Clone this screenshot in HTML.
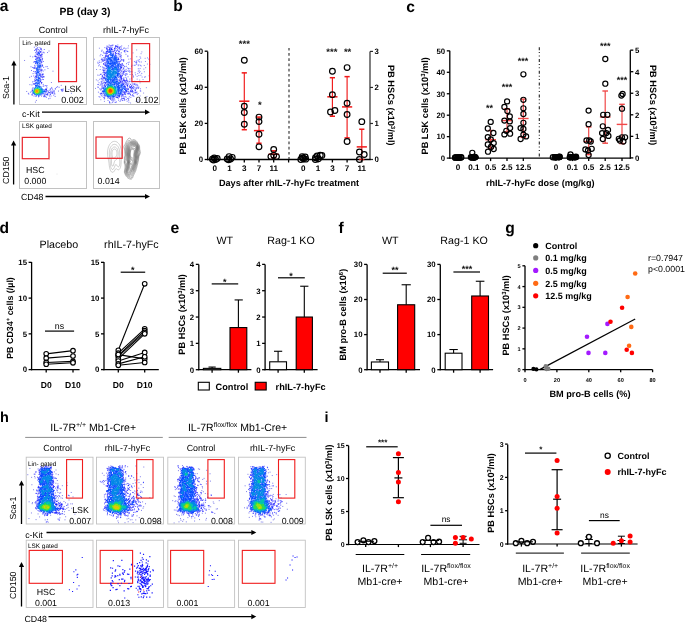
<!DOCTYPE html>
<html><head><meta charset="utf-8"><style>
html,body{margin:0;padding:0;background:#fff;}
svg{display:block;font-family:"Liberation Sans", sans-serif;will-change:transform;filter:blur(0.4px);text-rendering:geometricPrecision;}
</style></head><body>
<svg width="685" height="622" viewBox="0 0 685 622">
<defs><filter id="bl" x="-0.05" y="-0.05" width="1.1" height="1.1"><feGaussianBlur stdDeviation="0.25"/></filter></defs>
<rect x="0" y="0" width="685" height="622" fill="#fff"/>
<text x="-0.2" y="11.3" font-size="15.6" font-weight="bold">a</text>
<text x="85" y="14.8" font-size="10.4" font-weight="bold" text-anchor="middle">PB (day 3)</text>
<text x="53.2" y="33.3" font-size="9" text-anchor="middle">Control</text>
<text x="126.1" y="33.3" font-size="9" text-anchor="middle">rhIL-7-hyFc</text>
<g filter="url(#bl)">
<path d="M29.15 77.3h1M68.42 89.57h1M47.04 52.54h1M48.53 51.03h1M58.01 91.08h1M70.91 93.3h1M52.48 71.18h1M58.25 82.08h1M29.38 84.65h1M60.76 85.35h1M24.07 60.46h1M50.91 82.52h1M26.19 91.48h1M35.88 100.42h1M29.84 56.28h1M34.93 102.13h1M47.47 68.52h1" stroke="#0000d5" stroke-width="1" stroke-opacity="0.5"/>
<path d="M35.73 56.32h1M46.79 90.76h1M28.29 94.08h1M40.71 76.66h1M31.77 89.11h1M52.16 89.79h1M45.63 89.9h1M40.81 79.98h1M41.13 61.95h1M44.39 69.84h1M41.99 65.47h1M32.15 88.04h1M49.18 92.57h1M40.32 62.19h1M35.07 63.35h1M34.7 80.08h1M54.12 93.22h1M35.04 61.59h1M41.72 77.32h1M46.47 87.9h1M43.18 76.72h1M35.02 63.12h1M35.91 51.33h1M37.59 54.86h1M33.36 62.34h1M34.55 80.86h1M40.29 60.39h1M38.23 57.09h1M42.28 77.07h1M61.56 89.84h1M51.48 93h1M31.42 84.96h1M33.28 87.96h1M35.53 65.12h1M35 56.58h1M46.31 91.37h1M31.44 94.64h1M42.7 71.05h1M45.27 89.94h1M48.03 91.28h1M51.76 92.94h1M35.24 80.95h1M33.65 83.9h1M48.27 92.43h1M39.7 73.7h1M50.21 91.06h1M41.33 82.45h1M34.84 67.11h1M42.07 58.38h1M40.53 69.24h1M43.17 67.38h1M51.79 92.07h1M40.6 66.92h1M39.93 81.52h1M35.47 95.92h1M41.95 59.71h1M35.76 68.79h1M37.6 57.92h1M37.24 47.46h1M40.8 57.2h1M35.23 49.65h1M35.45 48.93h1M34.62 73.05h1M27.88 93.3h1M36.21 76.09h1M33.82 67.84h1M36.01 49.99h1M42.66 74.73h1M41.29 62.42h1M36.71 56.98h1M37.93 49.48h1M41.86 54.65h1M45.33 94.36h1M62.47 90.65h1M33.42 68.52h1M42.15 66.02h1M35.12 52.67h1M49.54 94.26h1M40.69 69.29h1M35.27 80.37h1M41.62 74.1h1M33.23 75.97h1M40.02 79.39h1M41.64 64.6h1M34.09 65.33h1M34.34 66.91h1M40.94 82.8h1M61.51 89.27h1M36.69 58.63h1M45.46 66.68h1M41.18 82.56h1M40.28 59.51h1M45.96 88.88h1M42.08 77h1M39.9 51.63h1M40.02 81.84h1M40.76 54.64h1M37.67 55.35h1M33.63 81.47h1M31.83 90.49h1M41.4 53.9h1M40.13 64.32h1M52.51 91.33h1M31.4 91.3h1M54.86 88.88h1M35.52 96.41h1M61.27 90.69h1M40.18 81.63h1M40.14 70.77h1M34.8 55.18h1M30.51 66.75h1M34.4 83.8h1M48.76 90.26h1M40.13 55.49h1M35.63 73.02h1M33.39 83.99h1M47.41 93.72h1M39.06 57.83h1M35.26 56.38h1M43.62 52.84h1M34.1 56.32h1M54.65 96.45h1M46.58 94.68h1M40.38 63.58h1M36.06 77.02h1M39.71 74.7h1M45.93 89.67h1M43.44 96.72h1M51.42 88.51h1M34.26 68.32h1M32.08 81.9h1M40.56 48.4h1M44.85 85.58h1M42.52 94.84h1M51.19 87.45h1M31.76 94.06h1M36.9 49.05h1M39.49 70.81h1M43.15 52.24h1M32.78 83.92h1M45.94 94.63h1M39.4 47.7h1M36.38 48.38h1M33.5 96h1M34.6 71.66h1M34.92 76.37h1M53.58 90.47h1M35.44 76.79h1M33.78 61.6h1M34.84 83.34h1M38.11 52.31h1M40.96 49.48h1M43.34 85.99h1M35.93 75.33h1M36.38 58.82h1M41.67 66.07h1M37.91 52.29h1M48.11 98.76h1M41.49 60.96h1M39.88 80.46h1M43.11 76.8h1M45.4 92.15h1M40.35 56.24h1M39.82 49.62h1M37.65 52.02h1M39.74 52.49h1M36.05 76.91h1M38.01 96.82h1M35.55 56.98h1M33.85 47.23h1M41.81 58.99h1M55.9 87.41h1M62.77 89.07h1M36.95 54.4h1M31.72 95.23h1M35.44 76.06h1M39.14 51.29h1M29.93 92.13h1M43.26 96.22h1M64.99 90.71h1M35.61 77.39h1M39.61 69.1h1M40.41 54.45h1M40.09 59.7h1M40.41 56.02h1M40.39 48.64h1M61.79 91.29h1M35.41 62.83h1M41.01 96.04h1M36.07 58.01h1M47.14 94.16h1M45.25 89.51h1M45.11 88.96h1M36.64 53.74h1M49.56 98.25h1M38.74 50.42h1M54.33 94.08h1M36.47 51.02h1M41.96 79.31h1M41.54 52.69h1M49.77 89.03h1M53.19 95.16h1M41.06 83.67h1M30.89 76.33h1M42.57 73.79h1M40.41 58.91h1M35.5 68.62h1M57.06 86.73h1M37.63 57.84h1M47.3 95.18h1M39.11 73.47h1M33.34 67.57h1M34.29 77.72h1M40.12 55.51h1M44.08 94.25h1M40.37 51.66h1M44.18 95.94h1M42.21 74.56h1M46.52 85.71h1M51.7 92.85h1M44.71 96.79h1M46.48 92.93h1M38.87 55.58h1M41.63 74.48h1M41.57 56.82h1M50.55 91.26h1M34.4 84.28h1M50.09 89.1h1M31.01 70.47h1M34.39 61.59h1M43.03 79.57h1M45.97 89.99h1M40.61 77.13h1M39.66 57.52h1M35.98 74.28h1M39.75 52.05h1M46.83 66.68h1M40.77 72.02h1M37.06 57.94h1M48.44 92.59h1M41.66 75.53h1M49.67 92.93h1M58.58 87.28h1M50.54 96.03h1M53.97 91.87h1M44.6 93.63h1M53.14 92.02h1M44.55 96.17h1M41.07 70.17h1M45.75 91.13h1M38.41 96.37h1M43.64 76.83h1M42.61 86.25h1M35.1 59.15h1M39.8 74.99h1M60.65 89.66h1M35.66 73.76h1M40.05 76.78h1M34.91 78.26h1M37.25 54.03h1M41.15 55.25h1M54.84 88.86h1M61.52 89.87h1M40.12 75.08h1M50.38 92.98h1M45.91 86.13h1M34.05 50.44h1M50.01 94.57h1M40.74 61.83h1M41.94 69.97h1M41.3 50.94h1M33.18 71.45h1M42.74 84.38h1M35.56 50h1M43.81 49.52h1M34.99 59.39h1M31.89 90.13h1M32.29 56.88h1M49.03 95.99h1M36.33 54.45h1M47.02 94.14h1M52.37 93.4h1M42.92 61.49h1M36.27 59.72h1M40.92 70.63h1M44.12 95.69h1M34.18 79.8h1M39.23 84.26h1M40.64 76.11h1M35.82 52.93h1M32.57 73.6h1M35.21 71.58h1M37.13 52.76h1M45.98 97.25h1M32.08 67.44h1M38.45 56.95h1" stroke="#000cff" stroke-width="1" stroke-opacity="0.56"/>
<path d="M36.78 74.62h1M37.68 83.59h1M38.73 60.92h1M37.08 64.12h1M35.16 85.55h1M37.77 77.59h1M38.92 83.1h1M32.94 92.64h1M38.73 69.67h1M37.21 72.48h1M40.24 65.97h1M36.1 62.32h1M41.77 93.67h1M36.06 85.62h1M38.12 86.33h1M37.13 72.14h1M35.78 62.88h1M37.4 62.47h1M38.61 78.77h1M39.1 58.47h1M36.56 79.9h1M39.79 66.96h1M38.59 61.71h1M39.49 60.69h1M40.67 93.86h1M39.42 79h1M43.45 91.63h1M38.95 54.14h1M38.73 61.1h1M36.52 68.34h1M39.24 66.29h1M37.15 63.08h1M31.79 92.06h1M42.92 89.79h1M35.92 84h1M39.54 78.71h1M36.22 61.12h1M36.52 71.5h1M36.25 82.81h1M38.41 53.42h1M37.06 65.63h1M38.45 80.4h1M37.26 79.62h1M43.05 93.54h1M38.07 72.57h1M36.58 79.74h1M36.86 60.34h1M36.95 69.26h1M38.16 86.13h1M38.19 59.83h1M39.79 86.33h1M39.07 87.08h1M44.85 91.3h1M40.35 87.08h1M37.34 61.92h1M38.01 80.33h1M38.67 86.93h1M38.92 74.38h1M36.61 73.31h1M37.48 70.27h1M37.45 67.69h1M38.69 53.93h1M37.9 95.01h1M41.08 93.74h1M32.6 92.02h1M36.46 70.17h1M33.82 93.75h1M35.79 85.7h1M38.18 80.24h1M39.4 78.17h1M39.5 95.03h1M36.12 80.05h1M38.23 83.02h1M36.43 78.39h1M35.81 62.06h1M39.98 60.2h1M37.32 70.28h1M36.92 67.61h1M39.86 61.45h1M32.35 93.35h1M43.87 91.36h1M36.58 69.67h1M37.28 83.98h1M38.88 75.58h1M40.4 65.82h1M37.4 72.34h1M37.06 63.34h1M43.52 90.73h1M38.18 79.63h1M36.84 69.93h1M37.76 81.48h1M37.75 66.16h1M37.19 85.1h1M35.3 85.11h1M37.48 68.76h1M34.07 94.01h1M36.44 68.36h1M35.99 72.29h1M37.94 73.14h1M36.31 95.55h1M38.73 68.74h1M42.7 92.15h1M38.28 83.25h1M38.93 65.67h1M37.91 72.6h1M37.63 85.63h1M34.57 94.53h1M38.77 64.79h1M38.56 67.06h1M37.6 67.67h1M38.64 71.7h1M37.68 76.02h1M39.03 85.06h1M41.75 89.3h1M36.8 85.14h1M39.21 94.77h1M38.34 53.2h1M39.34 60.08h1M38.74 63.06h1M38.13 71.81h1M39.41 75.5h1M36.46 73.28h1M44.11 91.79h1M38.75 66.37h1M38.48 74.88h1M36.49 85.51h1M38.08 78.22h1M38.64 82.61h1M37.25 72.36h1M36.17 69.35h1M35.65 61.36h1M38.23 77.03h1M43.71 91.38h1M39.2 67.3h1M37.01 80.62h1M42.15 93.34h1M36.14 73.36h1M36.17 67.99h1M40.24 94.84h1M40.75 94.1h1M37.38 62.58h1M37.9 70.15h1M44.22 90.67h1M37.02 63.4h1M35.62 82.65h1M37.41 84.31h1M43.79 89.71h1M38.72 59.91h1M44.4 91.86h1M38.79 71.85h1M38.51 52.89h1M38.29 53.71h1M40.79 87.13h1M35.71 87.02h1M39.5 65.52h1M38.12 95.09h1M37.87 66.52h1M38.38 95.87h1M39.85 65.78h1M37.71 80.5h1M38.28 78.84h1M38.73 67.57h1M39.12 63.53h1M36.26 95.03h1M38.97 54.02h1M36.46 59.99h1M35.44 86.36h1M39.41 80.77h1M41.69 88.75h1M43.2 91.66h1M36.92 77.27h1M38.29 69.56h1M38.51 62.22h1M38.46 58.41h1M37.52 64.6h1M35.73 61.84h1M36.44 63.65h1M38.64 86.68h1M37.13 71.58h1M38.26 80.81h1M36.89 75.01h1M35.83 82.12h1M38.37 75.15h1M36.93 61.79h1M37.47 71.22h1M38.15 77.01h1M34.68 87.78h1M38.7 78.28h1M37.87 65.56h1M34.72 94.71h1M38.76 81.72h1M35.22 83.14h1M38.5 63.97h1M35.02 85.5h1M39.06 59.21h1M36.92 83.26h1M36.03 79.47h1M38.77 78.11h1M37.1 81.72h1M38.57 53.16h1M38.86 86.81h1M32.29 90.36h1M35.15 83.34h1M35.46 86.98h1M38.25 83.33h1M39.39 87.06h1M35.58 86.5h1M40.18 65.48h1M44.84 91.95h1M36.66 82.67h1M38.72 67.63h1M36.52 83.46h1M37 66.38h1M33.58 93.73h1M33.41 93.47h1M38.47 82.11h1M35.14 87.58h1M36.08 70.6h1M40.44 87.85h1M37.93 78.16h1M35.83 61.11h1M36.77 75.87h1M40.17 66.94h1M38.76 66.16h1M38.39 95.05h1M38.9 78.05h1M38.06 60.45h1" stroke="#0049ff" stroke-width="1" stroke-opacity="0.67"/>
<path d="M41.4 91.45h1M39.93 93.72h1M34.67 88.33h1M41.62 91.57h1M40.77 88.99h1M40.71 88.67h1M33.56 89.89h1M40.98 89.89h1M33.35 93.01h1M37.12 86.85h1M39.5 93.89h1M40.63 89.34h1M34.02 88.67h1M41.48 92.13h1M41.63 89.71h1M38.93 94.16h1M41.64 91.52h1M37 94.39h1M35.09 94.21h1M41.04 89.97h1M36.64 94.4h1M39.52 93.64h1M42.48 91.1h1M38.59 87.69h1M42.6 91.93h1M34.04 88.97h1M32.87 90.89h1M39.4 93.97h1M37.32 94.44h1M41.32 92.57h1M37.02 87.37h1M37.07 94.43h1M37.55 87.05h1M33.16 92.22h1M41.17 89.1h1M40.07 89.12h1M36.64 87.08h1M39.68 88.93h1M41.19 89.38h1M36.76 87.19h1M38.92 87.34h1M41.59 90.97h1M42.49 92.23h1M33.78 89.31h1M40.71 92.47h1M32.79 91.99h1M37.99 87.03h1M41.36 91.18h1M41.47 92.73h1M42.16 90.59h1M40.76 89.27h1M42.77 91.34h1M41.78 89.84h1M41.71 92.62h1" stroke="#0087e7" stroke-width="1" stroke-opacity="0.77"/>
<path d="M39.3 89.51h1M40.47 91.17h1M34.67 89.18h1M40.66 92.34h1M39.47 92.82h1M38.51 93.58h1M38.22 93.86h1M40.7 91.41h1M33.59 91.42h1M38.2 93.6h1M40.12 91.41h1M34.09 92.54h1M36.52 94.26h1M37.51 88.1h1M36.61 93.8h1M33.61 91.86h1M33.59 91.64h1M38.23 93.68h1M39.63 89.43h1M38.35 88.88h1M37.14 88.27h1M33.98 91.98h1M34.97 89.01h1M33.59 91.37h1M34.17 90.11h1M40.86 90.32h1M36.03 94.1h1M39.73 92.06h1M39.87 90.44h1M35.54 93.96h1M34.22 90.09h1M40.58 92.49h1M38.79 89.03h1M39.92 92.59h1M40.53 90.95h1M39.4 88.96h1M36.59 93.75h1M39.46 92.62h1M36.72 88.24h1M35.99 88.43h1M36.89 88.34h1M39.64 89.72h1" stroke="#00c6ac" stroke-width="1" stroke-opacity="0.88"/>
<path d="M35.04 92.52h1M38.82 91.56h1M35.87 93.02h1M36.93 93.23h1M38.63 92.12h1M35.95 93.4h1M38.42 92.95h1M39.36 90.42h1M37.58 93.11h1M37.42 89.28h1M34.82 92.44h1M37.8 89.55h1M34.85 89.79h1M35.4 93.09h1M38.54 89.7h1M38.92 91.04h1M39.18 91.05h1M38.2 89.63h1M35.74 93.14h1M34.27 90.21h1M34.26 90.64h1M34.18 91.27h1M39.05 90.26h1M38.96 92.12h1M39.11 91.6h1M38.9 91.3h1M37.98 89.64h1M38.78 92.33h1M39.22 92.48h1M39.21 90.87h1M38.5 92.48h1M34.89 90.03h1M37.87 89.13h1" stroke="#30d852" stroke-width="1" stroke-opacity="0.95"/>
<path d="M35.88 89.62h1M36.02 92.89h1M36.15 89.3h1M37.14 92.47h1M36.79 92.69h1M37.76 89.82h1M35.25 90.1h1M34.66 91.75h1M38.13 91.02h1M37.75 90.05h1M36.71 89.48h1M38.4 90.41h1M37.84 90.09h1M35 91.93h1M37.62 92.65h1M38.67 91.06h1M35.1 90.35h1M34.85 92.06h1M37.09 92.56h1M35.7 92.35h1M34.89 92.3h1M38.24 92.14h1M36.22 89.64h1M37.89 90.16h1M35.82 89.59h1M34.94 90.04h1M36.37 92.55h1M34.79 90.3h1M36.69 92.58h1M34.81 91.86h1M36.51 89.58h1M36.29 89.72h1M36.67 92.79h1M35.02 90.35h1M38.15 92.41h1M37.75 89.69h1M35.27 90.18h1M37.73 92.6h1M36.91 92.53h1" stroke="#95e216" stroke-width="1" stroke-opacity="0.95"/>
<path d="M35.97 90.42h1M37.23 90.81h1M36.57 89.96h1M36.64 90.57h1M36.71 90.37h1M36.65 90.04h1M35.8 90.38h1M35.39 91.37h1M37.45 91.85h1M36.69 92.49h1M36.02 91.94h1M36.41 90.38h1M35.84 91.65h1M35.94 90.92h1M35.99 91.93h1M36.17 91.74h1M36.21 90.69h1M36.82 90.37h1M35.29 91.85h1M35.16 91.42h1M35.76 91.63h1M37.43 90.9h1M35.87 90.46h1M37.19 91.25h1M35.43 90.59h1M36.7 90.65h1M36.38 90.06h1M35.58 91.48h1M37.08 91.17h1M35.66 91.05h1M36.5 90.21h1M35.88 91.26h1M36.34 92.47h1M36.95 91.99h1" stroke="#e2ca00" stroke-width="1" stroke-opacity="0.95"/>
<path d="M36.85 91.09h1M36.22 90.79h1M36.11 91.54h1M35.95 91.04h1M36.46 91.01h1M36.16 91.34h1M36.77 91.17h1M36.44 91.5h1M36.19 91.28h1" stroke="#ff9100" stroke-width="1" stroke-opacity="0.95"/>
</g>
<g filter="url(#bl)">
<path d="M144.94 61.49h1M139.55 82.88h1M100.33 99.77h1M98.9 48.21h1M97.21 75.08h1M146.53 96.54h1M136.67 79.15h1M96.08 69.51h1M149.31 64.39h1M132.53 52.88h1M144.65 58.31h1M95 88.42h1M136.23 56.72h1M94.03 59.22h1M137.56 99.92h1M130.23 58.83h1M139.18 80.06h1M145.05 76.83h1M148.61 75.83h1M143.34 69.1h1M140.57 53.71h1M146.97 57.89h1M103.93 101.37h1M146.91 64.05h1M127.97 45.86h1M143.76 65.48h1M143.1 93.06h1M95.87 79.87h1M137.33 101.43h1M135.55 101.3h1M143.87 71.75h1M136.15 49.95h1M130.08 102.99h1M145.14 67.67h1M142.56 79.54h1M139.63 95.95h1M148.16 59.11h1M145.87 87.7h1M128.26 59.15h1M141.35 51.93h1" stroke="#0000d5" stroke-width="1" stroke-opacity="0.45"/>
<path d="M118.42 48.67h1M100.83 59.85h1M120.55 75.02h1M123.81 70.28h1M124.46 71.22h1M103 82.29h1M123.65 98.61h1M125.94 73.75h1M102.09 79.13h1M137.13 85.16h1M110.38 102.94h1M116.22 56.75h1M132.14 87.25h1M128.39 92.82h1M124.16 71.13h1M115.16 45.92h1M119.91 77.6h1M111.48 99.45h1M111.76 45.1h1M118.39 53.21h1M110.17 45.94h1M128.84 96.73h1M125.74 90.67h1M122.76 65.69h1M129.57 74.44h1M106.13 52.33h1M104.88 56.41h1M117.58 79.82h1M128.15 68.97h1M118.74 80.02h1M107.85 55.46h1M120.62 68.43h1M121.79 98.34h1M99.57 85.29h1M118.27 77.37h1M123.5 94.15h1M136.51 92.07h1M104.84 63.6h1M126.55 91.46h1M122.95 84.14h1M139.12 61.98h1M123.91 96.92h1M102.02 91.69h1M134.75 90.19h1M117.7 55.03h1M121.45 73.62h1M119.84 56.56h1M114.9 54.09h1M123.98 93.08h1M105.53 66.32h1M101.65 94.17h1M135.81 63.9h1M123.34 92h1M101.7 85.12h1M129.3 72.39h1M119.66 81.72h1M123.23 60.4h1M104.42 76.27h1M130.28 87.33h1M129.13 81.5h1M127.34 56.64h1M123.69 100.05h1M105.53 55.71h1M126.31 50.96h1M134.38 92.23h1M128.24 68.41h1M103.1 70.63h1M130.13 84.47h1M103.54 78.11h1M130.29 91.49h1M127.86 88.83h1M109.08 54.38h1M125.89 82.68h1M103.53 83.71h1M128.66 92.09h1M127.55 62.61h1M112.61 45.14h1M135.68 62.46h1M125.39 84.65h1M135.69 88.95h1M104.43 82.31h1M120.49 78.01h1M117.89 59.62h1M122.13 49.71h1M140.37 75.23h1M123.23 72.33h1M121.24 76.75h1M110.6 98.13h1M98.15 65.83h1M103 78.92h1M140.7 65.97h1M104.14 60.21h1M97.91 92.16h1M101.66 76.79h1M111.61 47.41h1M118.13 61.49h1M121.59 81.04h1M132.49 91.95h1M132.11 94.48h1M101.27 92.94h1M106.33 53.35h1M98.74 60.95h1M118.53 96.24h1M110.86 49.4h1M125.37 82.23h1M120.02 64.5h1M127.34 55.75h1M135.36 62.15h1M113.23 99.09h1M114.15 48.38h1M104.33 47.61h1M115.11 97.03h1M124.76 88.06h1M114.62 55.1h1M122.92 71.36h1M121.27 66.97h1M120.46 81.65h1M103.98 74.27h1M117.98 58.87h1M127.06 84.93h1M121.88 64.62h1M115.04 45.78h1M131.05 66.52h1M108.38 49.81h1M108.31 52.33h1M101.58 50.2h1M112.54 101.39h1M106.11 48.94h1M115.48 53.76h1M122.01 94.54h1M130.82 91.87h1M111.23 49.37h1M104.3 72.59h1M124.54 81.34h1M105.55 85.1h1M112.74 51.68h1M144.04 77.11h1M101.17 78.27h1M122.45 83.86h1M140.17 58.13h1M121.08 67.48h1M119.42 54.43h1M125.63 83.79h1M132.05 87.56h1M104.88 56.03h1M122.92 96.87h1M105.4 69.18h1M130.71 89.4h1M126.87 51.42h1M113.85 98.75h1M108.91 49.84h1M101.95 70h1M114.3 50.26h1M114.95 52.55h1M123.07 73.96h1M136.29 62.15h1M106.06 60.57h1M120.08 80.82h1M109.14 48.48h1M119.65 46.49h1M101.22 74.2h1M121.23 64.31h1M133.21 86.15h1M100.03 89.91h1M123.25 74.1h1M120.68 57.21h1M103.99 85.11h1M141.63 77.06h1M118.54 97.44h1M120.41 79.6h1M103.65 60.3h1M102.38 87.29h1M104.21 77.84h1M119.75 81.13h1M97.67 87.53h1M103.29 52.85h1M124.26 100.1h1M103.47 85.36h1M100.8 95.67h1M120.52 60.12h1M124.29 91.7h1M119.98 76.58h1M103.06 93.37h1M104.33 75.72h1M120.16 64.56h1M120.65 67.73h1M118.09 58.75h1M104.1 84.73h1M102.04 59.32h1M101.91 91.74h1M120.38 60.89h1M103.52 60.14h1M114.94 46.84h1M122.93 92.24h1M104.67 80.3h1M97.43 84.47h1M130.01 94.66h1M111.2 100.3h1M128.99 85.82h1M104.85 82.85h1M121.8 65.77h1M108.67 98.28h1M124.07 50.94h1M109.03 102.93h1M121.35 94.76h1M112.14 100.06h1M102.22 83.4h1M117.84 54.05h1M121.57 63.67h1M139.58 71.64h1M115.31 102.54h1M135.76 88.45h1M105.52 84.92h1M120.12 75.48h1M107.03 53.29h1M124.49 52.17h1M124.47 86.39h1M128.01 64.3h1M120.64 47.21h1M117.71 98.44h1M134.41 87.36h1M118.42 77.58h1M125.09 94.49h1M103.09 71.94h1M128.46 82.95h1M132.09 90.68h1M104.8 62.86h1M127.08 81.89h1M126.77 83.65h1M109.55 98.53h1M121.4 78.73h1M104.59 72.92h1M124.61 86.21h1M118.91 48.44h1M99.62 55.84h1M111.29 49.3h1M128.43 71.22h1M105.65 64.96h1M103.8 64.29h1M119.37 49.34h1M123.14 80.68h1M130.17 91.83h1M114.88 52.3h1M134.91 92.16h1M109.43 97.96h1M103.33 77.69h1M129.17 86.41h1M137.49 60.26h1M102.07 60.36h1M126.46 85.3h1M118.94 96.14h1M127.15 86.95h1M135.37 84.69h1M112.52 52.69h1M121.59 82.82h1M120.29 49.86h1M101.61 84.15h1M140.26 91.12h1M104.83 65.04h1M127.98 91.45h1M122.96 65.22h1M110.99 50.95h1M133.04 77.01h1M123.84 50.85h1M106.43 46.05h1M116.46 97.4h1M123.33 78.85h1M132.84 75.94h1M122.46 91.65h1M104.02 82.09h1M98.89 62.52h1M121.37 59.51h1M133.27 83.99h1M134.73 90.33h1M106.48 56.4h1M101.58 86.14h1M118.65 50.96h1M132.17 88.22h1M104.63 82.54h1M128.98 87.45h1M126.17 80.06h1M106.54 51.56h1M119.1 95.85h1M121.19 45.92h1M111.8 98.68h1M121.8 81.18h1M105.66 68.29h1M118.52 61.63h1M135.14 74.8h1M135.64 92.94h1M118.31 59.84h1M116.42 57.4h1M124.9 82.23h1M122.36 73.62h1M127.98 99.22h1M116.25 50.43h1M135.72 92.31h1M109.62 47.22h1M124.49 74.79h1M120.09 65.95h1M126.31 92.75h1M106.87 56.04h1M127.38 51.63h1M118.36 51.51h1M121.88 92.97h1M126.9 85.9h1M120.95 52.8h1M128.35 102.19h1M115.01 52.9h1M104.64 72.04h1M120.3 82.21h1M130.18 90.5h1M131.56 71.82h1M121.85 63.59h1M105.95 63.08h1M123.71 47.96h1M120.69 99.43h1M123.12 98.51h1M106.67 50.12h1M120.3 69.72h1M132.27 91.8h1M101.54 86.17h1M126.66 70.79h1M103.47 72.8h1M107.85 47.33h1M101.07 51.16h1M99.4 97.18h1M127.54 76.81h1M119.36 61.47h1M132.53 95.96h1M100.71 88.62h1M120.49 77.55h1M108.5 54.72h1M101.54 81.08h1M131.66 91.71h1M107.43 46.31h1M123.61 83.95h1M105.96 51.48h1M124.19 86.85h1M126.9 74.11h1M106.97 50.24h1M115.84 46.53h1M123.42 77.76h1M119.86 69.09h1M120.11 74.87h1M116 46.01h1M111.44 45.6h1M97.77 84.62h1M123.66 80.8h1M130.06 94.89h1M104.28 58.74h1M130.92 81.33h1M121.7 98.68h1M126.64 101.22h1M111.92 51.11h1M113.2 51.36h1M103.19 74.35h1M97.5 80.83h1M131.03 78.11h1M102.66 80.63h1M130.51 71.53h1M109.53 48.43h1M121.65 100.25h1M127.71 93.88h1M123.26 79.83h1M100.12 66.61h1M129.86 90.9h1M123.37 68.94h1M126.83 80.37h1M120.1 82.3h1M137.81 68.74h1M124.51 94.34h1M124.53 93.07h1M136.62 76.34h1M131.48 85.56h1M123.26 84.76h1M120.49 49.47h1M125.87 91.71h1M132.32 91.82h1M133.41 96.36h1M122.81 94.73h1M114.42 100.07h1M124.25 66.76h1M100.66 78.62h1M101.39 87.81h1M123.85 81.74h1M131.24 88.31h1M104.69 73.65h1M122.01 75.53h1M127.25 86.14h1M127.53 48.09h1M137.56 93.51h1M130.11 84.3h1M134.89 90.35h1M125.23 50.06h1M107.93 52.25h1M119.45 56.92h1M113.83 49.33h1M117 46.51h1M104.21 94.55h1M116.95 47.08h1M133.29 93.6h1M101.4 58.32h1M138.35 64.75h1M101.89 77.91h1M102.5 88.61h1M121.32 96.59h1M103.97 95.05h1M102.6 60.2h1M119.44 53.04h1M121.37 80.34h1M122.22 100.56h1M123.86 80h1M123.32 48.38h1M130.96 86.3h1M99.22 88.9h1M126.84 68.01h1M110.47 48.49h1M103.68 70.58h1M139.54 56.89h1M125.07 71.11h1M116.63 53.28h1M131.78 90.22h1M126.66 89.55h1M115.71 46.33h1M106.01 53.14h1M113.84 50.63h1M122.76 71.89h1M128.18 100.33h1M119.22 96.14h1M122.94 68.28h1M117.54 59.58h1M117.1 49.38h1M138.78 59.62h1M99.9 74.52h1M102.13 55.47h1M112.14 102.57h1M119.58 68.98h1M99.75 93.29h1M119.31 95.63h1M125.87 90.02h1M120.45 65.94h1M121.03 78.73h1M126.34 90.14h1M130.87 86.24h1M104.31 74.71h1M134.32 81.31h1M107.05 49.39h1M104.09 97.92h1M108.9 49.83h1M105.69 68.11h1M104.24 95.73h1M98.92 64.84h1M104.29 86.08h1M105.93 48.21h1M126.13 79.99h1M103.57 59.63h1M125.56 69.43h1M104.06 74.36h1M121.2 59.78h1M124.37 86.79h1M101.78 75.57h1M119.14 71.06h1M133.21 88.01h1M122.35 69.29h1M141.24 73.4h1M108.94 49.54h1M107.17 98.03h1M109.02 102.03h1M121.34 76.01h1M122.89 80.07h1M105.43 70.6h1M119.46 73.49h1M103.6 77.82h1M106.05 55.91h1M123.38 71.72h1M114.92 54.93h1M119.3 47.36h1M100.4 84.46h1M127.36 89.21h1M107.33 55.37h1M104.81 96.23h1M115.75 55.49h1M124.18 83.05h1M135.86 61.03h1M104.59 65.65h1M131.48 90.25h1M123.98 80.51h1M120.91 78.88h1M122.7 84.32h1M111.34 45.94h1M103.3 95.16h1M100.58 62.31h1M119.21 54.72h1M139.94 88.82h1M132.58 95.54h1M102.45 72.66h1M123.78 93.86h1M105.61 55.91h1M133.72 65.35h1M102.88 69.08h1M126.4 88.51h1M138.22 61.21h1M119.53 78.63h1M116.79 97.53h1M137.66 88.06h1M123.15 61.49h1M127.54 88.82h1M105.42 59.31h1M122.66 78.85h1M118.53 47.75h1M125.69 91.38h1M128.24 70.99h1M112.9 97.38h1M106.8 48.46h1M122.58 95.22h1M97.29 62.24h1M118.76 80.49h1M99.68 69.51h1M120.69 79.23h1M110.06 98.72h1M103.97 57.84h1M128.01 89.66h1M105.62 62.02h1M105.97 48.87h1M140.8 61.99h1M114.77 53.1h1M123.13 67.9h1M126.19 88.28h1M102.19 66.93h1M119.8 75.64h1M138.95 72.66h1M109.3 49.38h1M130.32 97.35h1M115.63 56.26h1M123.33 59.82h1M103.19 64.32h1M98.54 96.6h1M133.88 84.15h1M103.29 70.82h1M134.47 89.24h1M125.44 54.31h1M125.89 80.23h1M133.08 88.75h1M124.46 50.88h1M112.14 49.65h1M122.37 60.23h1M104.71 65.48h1M115.84 101.84h1M104.81 53.57h1M104.97 57.83h1M120.75 77.65h1M107.27 51.98h1M103.73 78.39h1M103.81 97.04h1M104.65 57.73h1M116.89 50.43h1M120.36 55.13h1M124.7 92.42h1M112.47 53.82h1M114.49 102.31h1M109.62 45.74h1M104.86 79.68h1M103.62 67.59h1M138.66 70.22h1M123.89 85.54h1M104.36 62.38h1M125.64 97.31h1M126.73 91.1h1M121.18 67.47h1M129.56 93.77h1M117.18 97.28h1M122.75 84.11h1M137.31 73.62h1M120.37 58.21h1M100.57 93.54h1M121.57 82.84h1M104.99 83.3h1M117.1 47.38h1M125.8 99.48h1M133.94 61.61h1M114.93 47.09h1M105.62 54.46h1M120.49 76.89h1M118.76 62.74h1M99.24 79.29h1M136.3 64.18h1M131.51 82.93h1M99.91 94.21h1M137.77 71.25h1M123.35 98.31h1M120.95 55.86h1M121.09 71.28h1M124.99 75.66h1M130.91 87.89h1M112.5 98.17h1M139.87 65.3h1M118.67 95.92h1M130.45 81.36h1M125.67 83.98h1M120.05 67.8h1M108.18 55.77h1M120.91 76.88h1M101.94 76.53h1M134.55 83.8h1M102.96 87.07h1M102.92 97.36h1M107.39 47.11h1M123.99 99.14h1M125.16 73.8h1M127.1 98.49h1M121.95 83.2h1M120.69 75.96h1M133.86 84.18h1M103.08 77.12h1M116.27 48.33h1M131.48 65.26h1M126.08 78.42h1M103.8 72.2h1M101.77 96.1h1M132.04 74.64h1M123 59.94h1M101.3 82.86h1M125.18 96.32h1M136.73 94.58h1M110.01 99.41h1M126.02 63.69h1M122.09 81.6h1M138.38 87.08h1M134.71 72.81h1M120.6 72.07h1M121.07 98.1h1M124.18 66.32h1M114.15 48.47h1M128.58 81.17h1M136.39 84.25h1M118.3 59.35h1M105.4 64.97h1M102.83 61.39h1M101.8 91.11h1M124.72 80.5h1M128.19 84.13h1M128.27 98.25h1M104.26 68.9h1M101.44 93.45h1M101.78 61.28h1M108.64 45.02h1M105.35 83.54h1M104.54 78.74h1M110.96 49.01h1M135.52 85.35h1M119.83 72.34h1M97.45 86.89h1M100.61 81.75h1M122.45 72.26h1M118.81 63.42h1M103.59 70.56h1M119.28 63.29h1M138.08 88.16h1M116.07 51.43h1M130.92 91.21h1M121.45 70.76h1M134.72 65.2h1M118.36 96.77h1M125.61 74.83h1M104.72 60.59h1M102.94 57.78h1M105 52.98h1M127.29 93.53h1M117.31 45.02h1M104.21 86.12h1M129.77 87.92h1M118.75 47.58h1M109.19 47.81h1M115.88 97.1h1M125.52 91.32h1M111.14 48.13h1M100.17 74.2h1M111.45 49.29h1M101.15 59.52h1M137.22 87.77h1M117.69 46.69h1M104.55 75.45h1M114.73 49.94h1M127.03 85.13h1M102.17 75.74h1M131.53 95.59h1M107.61 51.53h1M100.4 54.43h1M125.64 81.1h1M128.7 62.13h1M120.76 48.78h1M105.25 64.9h1M121.09 93.95h1M100.85 93.77h1M102.77 51.86h1M112.88 53.67h1M120.7 78.77h1M124.94 88.08h1M101.3 81.91h1M124.94 93.08h1M119.9 100.16h1M117.99 53.37h1M124.99 87.2h1M103.62 68.94h1M122.86 82.9h1M106.23 47.26h1M123.72 91.89h1M107.29 51.09h1M121.09 95.87h1M125.86 66.33h1M100.63 83.32h1M134.63 92.91h1M117.49 96.25h1M105.24 55.87h1M119.56 55.95h1M105.98 61.53h1M103.7 53.16h1M128.44 93.4h1M127.23 81.52h1M108.93 101.95h1M133.17 86.68h1M120.77 65.52h1M131.12 85.99h1M125.38 77.46h1M129.15 70.91h1M120.67 66.34h1M101.36 79.27h1M127.59 94.02h1M109.51 47.45h1M123.53 72.35h1M107.78 56.41h1M106.42 53.78h1M112.39 51.35h1M123.7 51.35h1M124.07 92.77h1M106.48 56.9h1M120.56 67.7h1M104.2 98.11h1M137.24 86.03h1M115 55.74h1M103.13 63.62h1M117.57 57.13h1M129.9 86.64h1M106.88 51.35h1M121.95 74.9h1M139.8 90.83h1M119.55 101.47h1M101.89 88.22h1M118.06 100.19h1M129.95 87.47h1M121.77 94.89h1M105.67 59.38h1M138.38 75.57h1M139.59 68.44h1M105.36 82.35h1M112.69 54.2h1M120.05 67.93h1M135.89 87.24h1M125.48 48.41h1M119.76 61.29h1M123.31 80.04h1M114.13 48.26h1M105.82 51.66h1M98.6 75.3h1M116.09 53.59h1M123.89 86.48h1M103.74 98.94h1M103.58 77.73h1M120.22 70.54h1M107.54 100.48h1M137.76 65.71h1M98.52 82.76h1M116.65 97.59h1M125.24 81.01h1M119.89 76.38h1M118.87 51.65h1M130.7 88.78h1M117.86 58.11h1M100.85 89.71h1M116.46 97h1M128.94 93.9h1M127.05 85.46h1M129.36 79.1h1M103.1 63.83h1M121.86 95.8h1M114.81 48.24h1M129.56 68.74h1M102.62 67.69h1M110.86 48.86h1M129.79 87.63h1M132.12 84.1h1M110.53 97.67h1M113.14 100.16h1M97.66 63.59h1M118.1 51.06h1M114.15 51.03h1M118.98 79.98h1M125.94 71.46h1M120.4 81.89h1" stroke="#000cff" stroke-width="1" stroke-opacity="0.52"/>
<path d="M112.51 64.86h1M120.82 86.76h1M118.85 64.92h1M113.64 84.39h1M108.23 66.44h1M109.95 50.74h1M111.91 56.84h1M121.35 90.15h1M113.36 96.54h1M113.39 58.62h1M107.04 65.32h1M112.03 56.12h1M114.02 63.03h1M114.12 63.59h1M111.19 82.33h1M114.07 82.71h1M114.33 67.21h1M106.14 71.99h1M109.74 60.67h1M116.85 71.26h1M106.09 74.96h1M112.17 80.85h1M114.2 62.38h1M109.81 54.68h1M106.49 62.9h1M112.2 80.81h1M108.22 83.09h1M107.9 62.82h1M106.88 76.01h1M112.11 62.27h1M107.56 81.17h1M105.2 72.75h1M118.36 90.65h1M124.48 89.05h1M118.56 71.2h1M114.87 79.04h1M120.42 84.71h1M107.83 61.83h1M107.79 79.29h1M105.4 78.17h1M110.4 57.57h1M110.38 54.07h1M108.6 65.56h1M112.92 79.41h1M112.43 57.25h1M108.46 63.56h1M109.63 83.49h1M111.56 69.53h1M114.43 78.25h1M115.22 60.01h1M114.82 67.62h1M110.91 60.01h1M117.82 68.11h1M107.36 82.14h1M119.04 88.56h1M117.25 62.52h1M118.77 76.38h1M118.37 64.72h1M113.69 68.12h1M117.55 83.2h1M110.09 64.62h1M113.52 81.61h1M117.64 86.49h1M107.45 63.16h1M117.63 70.4h1M106.51 62.72h1M113.64 83.11h1M117.3 84.74h1M110.15 83.27h1M104.82 94.06h1M106.72 83.7h1M117.87 87.97h1M117.26 93.11h1M112.07 62.25h1M118.48 90.93h1M113.17 62.39h1M119.62 89.12h1M106.15 84.96h1M116.61 74.55h1M118.06 92.09h1M117.34 59.72h1M118.05 91.45h1M117.59 76.71h1M107.27 68.26h1M108.76 63.62h1M111.16 54.43h1M113.41 96.71h1M113.98 60.98h1M116.2 78.59h1M118.87 87.76h1M120.99 88.8h1M106.29 58.62h1M117.26 73.26h1M117.53 87.99h1M114.38 63.78h1M106.83 84.84h1M113.41 59.26h1M116.92 86.36h1M110.97 65.38h1M117.4 75.82h1M110.66 66.25h1M117.44 85.53h1M116.38 81.55h1M117.08 75.81h1M112.97 63.39h1M124.18 88.82h1M107.32 82.08h1M116.46 77.55h1M111.47 68.02h1M117.32 74.37h1M116.83 81.79h1M118.72 95.05h1M113.9 60.91h1M115.39 67.93h1M116.45 75.73h1M121.31 84.33h1M113.1 66.85h1M111.9 81.37h1M113.1 79.47h1M115.71 79.44h1M109.74 59.32h1M114.88 76.3h1M123.13 86.11h1M123.83 87.24h1M110.07 63.99h1M118.63 93.1h1M115.18 56.13h1M115.98 77.76h1M118.7 87.28h1M111.57 80.98h1M113.16 80.89h1M110.93 65.39h1M110.98 53.21h1M103.1 91.66h1M118.15 89.48h1M121.71 89.66h1M105.4 93.98h1M111.12 64.69h1M113.77 77.67h1M106.46 58.65h1M109.53 59.24h1M116.77 69.44h1M114.3 57.88h1M117.66 64.29h1M116.1 57.52h1M111.32 69.91h1M111.21 57.73h1M112.26 67.87h1M106.49 72.59h1M108.55 59.58h1M118.25 71.47h1M118.41 82.09h1M118.08 75.17h1M110.07 51.9h1M116.14 84.21h1M118.62 83.64h1M114.34 79.98h1M120.16 89.41h1M114.94 83.08h1M111.77 65.37h1M115.6 62.64h1M111.15 79.46h1M113.34 82.47h1M103.35 90.99h1M107.12 69.9h1M115.06 94.65h1M114.92 64.63h1M107.27 57.99h1M102.71 91.18h1M118.26 95.22h1M113.83 96.27h1M107.66 56.68h1M115.83 68.53h1M114.57 82.35h1M121.39 87.45h1M110.86 59.82h1M106.89 70.4h1M117.56 84.13h1M109.17 81.93h1M110.35 64.16h1M105.26 80.02h1M118.08 69.92h1M112.98 80.45h1M113.81 67.2h1M115.36 96.02h1M115.55 58.84h1M107.93 65.73h1M111.84 56.42h1M115.1 87.01h1M116.41 58.28h1M120.71 85.88h1M110.42 83.89h1M124.74 89.95h1M107.17 85.32h1M121.82 89.34h1M117.76 93.22h1M110.29 81h1M115.27 66.39h1M103.41 89.08h1M108.04 80.62h1M114.93 81h1M107.5 81.39h1M116.04 85.82h1M107.64 67.86h1M112.2 65.35h1M117.98 83.1h1M108.58 64.66h1M104.94 95.41h1M109.59 82.53h1M113.56 62.55h1M109.88 50.8h1M115.31 61.83h1M117.75 65.76h1M116.9 73.06h1M106.39 79.16h1M116.48 61.63h1M118.61 74.67h1M106.74 67.98h1M112.59 54.86h1M111.61 55.64h1M112 80.69h1M108.01 58.05h1M106.64 75.83h1M110.05 53.35h1M112.28 65.99h1M118.69 88.37h1M117.02 59.19h1M117.9 69.28h1M108.19 96.4h1M117.91 94.6h1M114.48 82.54h1M115.66 85.43h1M117.5 66.59h1M118.05 93.31h1M119.16 83.47h1M118.63 89.7h1M108.25 58.07h1M111.29 60.49h1M104.15 87.87h1M106.22 78.19h1M103.74 91.58h1M103.61 93.66h1M117.36 64.91h1M109.7 83.31h1M113.15 55.36h1M113.03 79.88h1M115.04 57.47h1M109.74 81.11h1M108.06 61.81h1M117.27 86.52h1M121.71 85.71h1M113.35 95.45h1M112.13 78.93h1M114.88 64.84h1M118.99 89.88h1M109.35 60.08h1M108.38 97.33h1M118.78 73.68h1M115.21 59.65h1M114.11 60.34h1M110.61 60.89h1M111.66 63.76h1M109.72 66.01h1M119.12 87.64h1M105.71 80.41h1M106.97 74.52h1M106.17 82.29h1M112.25 96.83h1M110.15 63.29h1M106.59 73.08h1M112.88 68.47h1M111.55 61.3h1M110.55 61.2h1M117.72 86.64h1M124.97 89.31h1M109.92 49.61h1M110 96.98h1M118.37 86.55h1M108.81 58.06h1M114.14 59.2h1M116.34 63.46h1M114.45 86.52h1M113.69 78.39h1M107.5 96.58h1M116.61 68.86h1M109.65 63.22h1M114.94 63.17h1M114.71 58.14h1M106.01 82.1h1M111.88 69.7h1M113.21 64.26h1M112.08 54.31h1M116.05 60.84h1M117.26 84.33h1M107.56 69.18h1M115.03 67.38h1M112.68 66.91h1M113.85 96.87h1M107.32 57.09h1M109.8 64.54h1M119.56 66.29h1M114.26 67.71h1M115 58.73h1M107.2 66.66h1M110.83 79.88h1M112.87 82.04h1M115.31 82.08h1M107.89 68.01h1M118.01 83.98h1M115.54 76.19h1M107.06 69.63h1M103.79 91.05h1M117.19 73.63h1M110.85 51.92h1M107.58 63.35h1M120.94 85.01h1M112.61 64.05h1M120.19 92.71h1M111.58 79.72h1M118.32 83.05h1M108.52 50.23h1M111.09 96.25h1M107.5 67.53h1M116.77 78.84h1M112.55 84.71h1M105.1 86.62h1M102.98 91.84h1M113.64 83.81h1M121.41 89.96h1M110.2 63.79h1M118.04 82.25h1M107.2 79.56h1M108.56 81.89h1M119.72 92.87h1M117.22 75.52h1M114.19 79.94h1M117.13 80.7h1M110.67 82.79h1M116.87 71h1M115.45 76.49h1M115.7 77.41h1M107.96 79.71h1M115.09 64.89h1M109.99 80.98h1M114.84 77.37h1M117.07 87.6h1M111.74 77.92h1M116.94 95.35h1M105.95 65.96h1M114.61 76.24h1M110.29 58.34h1M115.18 66.96h1M120.94 91.66h1M117.17 70.57h1M111.49 55.73h1M114.59 63.91h1M112.14 62.45h1M118.73 83.36h1M115.89 86.76h1M106.14 76.97h1M116.7 66.2h1M112.47 77.72h1M110.28 55.24h1M111.6 96.29h1M107.21 59.56h1M115 77.6h1M111.96 96.8h1M110.43 81.57h1M107.25 60.97h1M112.2 81.74h1M107 61.3h1M108.67 58.84h1M104.82 86.61h1M109.94 61.24h1M107.41 63.18h1M107.07 76.36h1M109.42 84.47h1M115.4 62.69h1M116.33 83.7h1M122.23 89.78h1M118.95 87.35h1M115.79 83.88h1M108.64 64.18h1M111.44 60.42h1M125.31 90.4h1M112.62 96.11h1M118.43 85.28h1M112.17 84.3h1M108.92 58.42h1M106.54 79.9h1M117.95 65.07h1M112.74 69.27h1M110.09 63.33h1M114.5 61.49h1M115.95 69.14h1M116.22 85.37h1M107.14 61.06h1M117.85 67.74h1M117.57 64.14h1M107.11 64.59h1M118.8 64.34h1M112.12 57.12h1M106.79 79.34h1M105.83 76.58h1M107.8 67.22h1M116.84 69.74h1M112.91 62.18h1M105.61 78.28h1M115.82 58.17h1M125.53 90.57h1M119.51 91.6h1M117.73 90.66h1M108.51 62.69h1M117.1 61.39h1M116.8 94.63h1M114.59 60.15h1M113.56 66.73h1M114.06 63.39h1M118.97 90.47h1M116.41 67.34h1M106.96 75.79h1M116.14 83.84h1M110.61 67.27h1M116.19 94.65h1M106.78 72.46h1M112.98 69.46h1M115.92 79.87h1M114.15 64.51h1M110.13 96.96h1M117.82 69.27h1M116.26 66.9h1M108.83 82.52h1M121.72 91.34h1M117.54 64.48h1M107.28 65.72h1M106.43 73.11h1M104.63 88.21h1M124.3 89.45h1M119.58 85.04h1M112.79 96.49h1M106.9 77.13h1M115.12 77.38h1M113.06 65.3h1M113.24 82.24h1M115.74 78.05h1M110.29 66.59h1M110.31 51.42h1M117.1 75.52h1M111.53 68.41h1M114.07 84.67h1M106.16 80.98h1M113.13 61.75h1M112.81 60.53h1M109.83 52.57h1M120.23 92.1h1M108.1 58.89h1M106.14 75.28h1M110.66 62.91h1M120.18 91.12h1M106.61 76.15h1M121.87 84.44h1M110.27 61.13h1M118.12 88.35h1M114.84 84.67h1M108.03 58.59h1M117.91 65.96h1M116.09 80.75h1M111.92 56.17h1M107.16 65.05h1M121 90.24h1M115.65 61.11h1M116.15 61.74h1M104.9 85.97h1M115.32 81.66h1M113.46 64.7h1M110.33 56.91h1M118.1 84.62h1M122.16 85.93h1M106.79 79.52h1M116.44 93.26h1M114.93 59.81h1M106.36 66.16h1M121.63 86.85h1M112.36 82.22h1M108.95 51.67h1M113.43 63.71h1M107.99 82.84h1M108.3 65.62h1M112.96 82.76h1M110.79 61.09h1M106.36 71.91h1M107.32 80.63h1M116.07 68.94h1M118.77 74.77h1M119.18 76.23h1M119.74 87.79h1M111.25 80.75h1M120.62 87.71h1M107.37 81.38h1M116.11 81.62h1M108.01 84.59h1M106.91 81.02h1M115.75 67.83h1M110.34 63.54h1M105.1 78.7h1M119.18 85.74h1M109.57 79.34h1M122.02 85.14h1M111.08 60.37h1M117.18 83.75h1M103.68 91.82h1M121.77 88.02h1M106.45 81.5h1M105.85 68.58h1M109.54 61.84h1M107.75 97.14h1M113.61 80.67h1M109.17 67.42h1M116.99 68.7h1M109.96 79.11h1M124.29 87.98h1M110.49 82.51h1M122.68 90.34h1M104.03 91.55h1M116.74 81.93h1M108.84 63.89h1M113.3 59.19h1M117.84 71.39h1M117.54 87.3h1M103.33 90.05h1M109.99 66.16h1M120.62 90.11h1M103.76 88.21h1M110.98 62.02h1M108.12 62.54h1M109.03 63.7h1M108.14 57.97h1M102.95 88.54h1M115.16 66.73h1M113.32 96.76h1M117.25 72.38h1M105.77 66.29h1M115.07 60.06h1M110.43 83.89h1M112.36 82.75h1M106.1 66.87h1M122.98 86.42h1M116.07 59.73h1M115 56.84h1M111.01 63.68h1M121.53 85.28h1M114.29 80.4h1M116.13 59.24h1M108.87 52.28h1M122.11 87.95h1M108.86 66.46h1M115.54 79.81h1M105.19 79.63h1M120.34 86.71h1M116.11 69.98h1M113.84 78.41h1M111.91 55.62h1M117.2 91.37h1M106.27 74.66h1M114.25 79.5h1M112.06 55.4h1M115.16 62.65h1M106.88 75.86h1M106.67 82.21h1M115.73 65h1M111.21 55.34h1M114.69 65.5h1M113.97 84.06h1M121.23 93.18h1M125.09 90h1M107.32 63.21h1M116.96 62.14h1M113.91 59.09h1M121.31 91.82h1M111.61 69.71h1M109.45 79.8h1M122.02 88.71h1M104.53 77.89h1M120.17 86.99h1M112.09 67.92h1M104.86 73.61h1M106.09 94.72h1M107.85 85.37h1M112.53 80.64h1M109.67 57.75h1M107.34 62.06h1M118.08 63.22h1M116.57 66.26h1M109.77 67.55h1M109.64 52.16h1M121.1 85.37h1M116.08 67.56h1M112.62 54.53h1M114.1 58.02h1M117.19 74.1h1M108.89 82.75h1M118.02 67.95h1M120.49 83.54h1M122.95 87.69h1M118.04 85.47h1M109.76 79.67h1M110.53 66.72h1M116.95 73.61h1M115.67 58.74h1M120.93 90.62h1M117.91 85.78h1M105.7 95.57h1M108.51 58.72h1M112.52 60.71h1M117.15 76.28h1M111.17 83.72h1M111.94 63.78h1M112.35 61.44h1M116.14 61.15h1M115.2 82.42h1M115.72 81.45h1M107.58 66.75h1M120.87 85.08h1M114.17 57.76h1M113.11 64.99h1M117.07 87.01h1M116.57 84.46h1M120.54 93.11h1M119.1 69.37h1M116.41 59.79h1M116.42 79.38h1M110.38 79.87h1M102.93 88.15h1M118.75 82.16h1M103.22 87.98h1M107.07 59.91h1M106.57 59.67h1M106.51 71.75h1M116.92 63.64h1M116.67 74.57h1M109.36 83.6h1M122.96 88.53h1M114.57 86.34h1M117.15 67.24h1M119.06 88.88h1M118.71 65.83h1M117.55 95.36h1M107.28 79.4h1M117.51 87.45h1M104.46 93.67h1M105.42 78.82h1M113.97 56.46h1M108.01 65.76h1M113.54 95.35h1M112.33 63.25h1M115.08 78.94h1M114.86 76.85h1M117.63 89.34h1M112.03 65.35h1M115.62 95.32h1M110.29 62.54h1M116.38 81.65h1M114.12 62.69h1M107.52 56.78h1M116.71 79.6h1M112.58 58.98h1M116.73 65.78h1M111.38 66.03h1M112.51 68.77h1M121.33 85.99h1M109.59 59.53h1M115.45 60.38h1M116.11 82.6h1M109.65 51.19h1M117.73 89.64h1M117.59 71.42h1M114.18 56.94h1M110.2 60h1M110.43 52.08h1M118.96 68.93h1M116.6 65.52h1M120.76 86.43h1M116.52 60.4h1M109.66 96.42h1M117.91 91.07h1M113.28 77.96h1M117.89 92.97h1M112.61 69.13h1M117.81 90.63h1M113.63 58.39h1M115.69 61.62h1M117.7 74.82h1M113 55.86h1M115.13 77.3h1M120.32 85.5h1M120.24 89.92h1M116.36 81.39h1M118.04 89.04h1M117.95 73.72h1M106.55 96.15h1M115.76 61.76h1M114.79 77.11h1M113.16 82.08h1M113.51 56.81h1M117.83 73.3h1M113.66 66.56h1M112.31 68.41h1M115.04 76.07h1M108.14 58.85h1M119.37 94.44h1M116.71 69.49h1M108.23 84.08h1M108.66 59.67h1M108.07 66.47h1M120.6 89.89h1M117.11 74.52h1M113.8 59.47h1M109.84 80.51h1M117.36 88.35h1M114.4 57.88h1M106.77 74.61h1M106.86 60.72h1M111.68 59.7h1M108.48 82.57h1M115.36 77.63h1M114.69 76.23h1M107.1 59.17h1M108.33 81.68h1M104.57 92.75h1M113.9 84.91h1M106.8 96.55h1M114.06 82.55h1M117.95 65.33h1M106.75 76.25h1M111.7 67.42h1M120.71 92.14h1M114.06 55.98h1M116.71 82.39h1M117.24 90.68h1M111.22 66.5h1M113.23 57.6h1M108.06 84.5h1M110.86 57.76h1M111.84 57.78h1M114.06 82.83h1M106.54 73.29h1M107.76 60.34h1M112.25 84.71h1M116.45 75.45h1M106.5 95.85h1M125.29 90.44h1M112.28 83.8h1M112.16 61.35h1M111.86 65.83h1M111.76 78.87h1M110.71 60.32h1M111.63 65.97h1M110.44 53.57h1M113.2 96.56h1M117.65 67.05h1M117.29 64.68h1M110.01 55.03h1M114.15 84.33h1M103.39 92.29h1M117.2 74.46h1M118.71 87.13h1M107.38 84.2h1M113.1 66.16h1M118.15 72.13h1M119.24 93.94h1M104.91 86.77h1M120.08 93.48h1M109.55 60.85h1M110.51 63.43h1M125.33 90.92h1M108.88 58.73h1M108.25 96.77h1M106.99 96.29h1M117.62 73.32h1M118.49 66.27h1M112 77.87h1M108.79 57.4h1M114.04 82.11h1M107.2 95.79h1M116.96 75.42h1M117.44 92.23h1M114.97 95.36h1M108.75 67.35h1M110 58.45h1M116.25 63.09h1M118.79 85.69h1M115.18 57.84h1M113.64 85.98h1M114.34 62.87h1M113.48 59.24h1M113.39 84.81h1M119.64 94.61h1M111.22 82.83h1M116.26 93.66h1M116.52 72.06h1M107.31 66.72h1M109.15 63.64h1M124.15 89.5h1M112.9 63.43h1M110.49 67.52h1M119.03 82.77h1M120.24 94.27h1M118.33 73.09h1M118.11 92.97h1M107.17 84.16h1M118.54 95.61h1M103.13 91.84h1M110.7 63.33h1M106.15 73.11h1M111.9 70.07h1M114.03 62.34h1M110.13 59.39h1M115.18 83.5h1M118.04 86.35h1M116.49 83.7h1M110.64 67.93h1M112.36 68.67h1M107.68 67.58h1M113.85 78.6h1M112.13 58.25h1M103.9 90.02h1M114.74 58.61h1M112.27 81.19h1M110.89 57.68h1M107.31 63.4h1M114.73 76.2h1M113.46 66.03h1M111.93 79.14h1M110.74 57.67h1M123.17 88.13h1M113.87 77.75h1M115.82 62.86h1M118.54 66.93h1M117.7 89.75h1M118.52 91.47h1M111.02 69.52h1M103.56 90.85h1M103.75 89.63h1M110.31 53.33h1M110.54 59.22h1M116.18 69.34h1M109.47 51.16h1M102.39 90.93h1M115.53 82.9h1M108.76 51.56h1M106.91 70.71h1M111.21 55.5h1M116.98 81.21h1M113.11 77.63h1M108.6 61.75h1M120.09 92.3h1M114 67.46h1M108.18 61.3h1M106.02 64.96h1M111.8 66.05h1M108 68.15h1M107.98 80.41h1M120.1 90.67h1M115.05 67.45h1M109.56 79.39h1M111.54 62.47h1M109.36 52.47h1M104.7 87.25h1M112.13 64.72h1M117.97 87.56h1M118.19 67.95h1M109.87 54.92h1M119.4 92.92h1M117.11 74.84h1M114.13 79.3h1M107.94 79.46h1M113.8 83.06h1M116.64 65.88h1M112.12 63.69h1M115.31 63.51h1M107.59 68.2h1M111.33 81.27h1M123.83 89.09h1M117.53 88.68h1M118.75 70.52h1M111.59 54.99h1M113.43 84.88h1M103.83 89.77h1M111.79 97.09h1M116.77 86.84h1M117.52 89.02h1M108.78 96.44h1M118.72 73.65h1M120.08 93.73h1M119.02 93.67h1M106.87 70.42h1M119.87 66.64h1M108.57 96.43h1" stroke="#0049ff" stroke-width="1" stroke-opacity="0.64"/>
<path d="M108.55 73.23h1M114.77 73.72h1M113.89 71.27h1M109.44 75.7h1M114.25 69.22h1M106.93 87.68h1M110.67 75.55h1M108.94 74.12h1M109.98 86.09h1M110.35 76.18h1M111.29 75.28h1M109.97 73.55h1M108.7 85.97h1M114.64 88.48h1M114.15 68.15h1M105.47 88.8h1M110.42 95.14h1M113.87 86.55h1M116.39 88.64h1M113.8 82.05h1M109.47 86.17h1M107.41 71.69h1M109.67 71.88h1M115.72 91.46h1M115.51 72.54h1M107.58 78.37h1M109.9 86.01h1M104.95 89.48h1M112.64 72.51h1M108.45 71.28h1M113.79 75.64h1M111.41 85.09h1M108.97 68.43h1M108.69 85.84h1M114.5 73.75h1M107.06 72.06h1M110.67 74.25h1M106.37 94.56h1M109.39 85.24h1M107.93 73.31h1M116.58 89.87h1M114.3 76.52h1M113.77 71.65h1M114.19 93.88h1M106.27 93.99h1M111.23 77.02h1M108.69 70.91h1M107.82 71.54h1M107.88 78.71h1M111.69 94.96h1M107.67 76.34h1M114 69.75h1M115.88 72.38h1M108.99 77.19h1M113.7 93.99h1M105.73 92.36h1M109.48 76.14h1M111.36 73.7h1M109.51 68.12h1M112.47 74.2h1M111.6 71.14h1M111.84 75.62h1M112.42 72.07h1M114.97 69.1h1M114.99 87.8h1M116.31 87.93h1M108.16 70.75h1M116.01 72.07h1M109.43 77.02h1M115.52 72.15h1M111.24 74.12h1M110.04 71.87h1M109.46 74.27h1M109.32 70.6h1M110.69 77.77h1M110.11 77.55h1M109.51 73.92h1M117.04 89.63h1M106.99 87.02h1M115.6 73.65h1M114.57 71.97h1M111.12 71.9h1M112.6 73.51h1M115.72 69.45h1M108.74 95.27h1M108.92 67.72h1M110.66 73.8h1M108.61 85.54h1M115.25 89.62h1M109.77 74.86h1M104.15 90.21h1M113.63 76.19h1M107.44 75.21h1M108.02 79.25h1M108.38 76.43h1M108.81 77.46h1M108.46 95.12h1M108.8 67.6h1M110 84.55h1M109.89 85.49h1M104.58 91.9h1M115.01 88.92h1M113.32 73.01h1M107.19 86.66h1M111.96 72.81h1M112.48 71.86h1M105.01 91.31h1M115.6 93.38h1M115.04 87.43h1M109.27 95.33h1M115.09 72.95h1M104.06 90.55h1M111.15 76.22h1M111.91 84.88h1M109.61 70.09h1M109.5 95.5h1M116.27 72.95h1M115.63 91.28h1M108.68 85.23h1M107.13 87.11h1M107.4 86.42h1M109.98 70.77h1M114.54 87.34h1M112.14 86.51h1M115.02 88.67h1M115.85 72.2h1M113.68 74.32h1M108.74 72.16h1M109.32 75.02h1M113.53 76.33h1M104.9 88.52h1M114.94 68.07h1M105.14 89.84h1M110.41 75.73h1M110.3 75.85h1M112.33 77.23h1M105.22 93.1h1M109.53 77.46h1M110.36 70.02h1M107.16 94.79h1M106.23 94.39h1M113.04 94.33h1M111.59 86.3h1M113.22 94.34h1M110.09 74.36h1M107.7 73.57h1M104.78 90.52h1M109.1 77.93h1M110.87 71.92h1M113.69 86.59h1M109.85 86.05h1M108.8 79.41h1M111.28 95.01h1M116.43 92.96h1M111.01 74.94h1M109.23 73.86h1M107.76 77.76h1M112.34 72.53h1M116.06 92.53h1M112.55 70.99h1M108.4 69.85h1M113.98 86.78h1M111.89 74.2h1M108.74 74.32h1M108.2 77h1M114.45 87.55h1M114.16 69.04h1M103.89 90.34h1M112.29 73.68h1M115.97 73.03h1M110.13 72.83h1M107.95 77.07h1M105.72 93.75h1M114.36 86.92h1M109.41 77.28h1M114.73 71.94h1M112.47 73.62h1M113.11 72.55h1M115.27 72.74h1M115.72 70.56h1M104.79 90.01h1M112.51 72.46h1M113.74 77.02h1M107.24 86.5h1M113.14 71.81h1M110.48 78.42h1M110.52 70.16h1M104.78 92.04h1M109.68 73.02h1M113.49 82.31h1M111.46 85.71h1M105.14 91.27h1M108.9 71h1M110.03 70.57h1M115.39 87.39h1M112.67 85.89h1M115.26 69.35h1M110.6 76.49h1M110.46 84.71h1M116.7 90.9h1M113.19 70.33h1M108.21 73.13h1M113.15 94.26h1M110.55 85.55h1M110.21 75.67h1M109.73 74.76h1M108.64 73.11h1M108.96 71.75h1M114.62 93.72h1M109.57 68.89h1M111.5 84.78h1M105.69 92.87h1M112.59 71.96h1M112.13 95.56h1M113.64 70.97h1M108.47 79h1M115.99 73.09h1M110.06 74.87h1M111.98 74.34h1M110.03 78.35h1M116.41 92.06h1M108.95 77.46h1M110.32 71.81h1M108.7 75.32h1M108.18 70.85h1M111.57 75.31h1M115.03 69.28h1M107.67 95.5h1M108.19 67.84h1M110.7 75.95h1M111.02 94.99h1M115.23 93.73h1M108 74.14h1M107.45 73.19h1M107.53 74.69h1M109.73 68.36h1M107.13 76.42h1M115.16 93.29h1M113.49 69.43h1M108.22 70.49h1M109.7 86.08h1M111.69 95.57h1M111.16 77.29h1M109.93 85.89h1M111.78 74.32h1M107.71 76.48h1M115.67 73.3h1M116.39 90.43h1M106.82 94.74h1M113.94 76.19h1M109.62 70.89h1M113.04 71.03h1M107.79 86.21h1M115.05 73.95h1M104.88 88.83h1M108.91 74.69h1M107.32 77.4h1M115.56 91.67h1M111.92 76.94h1M109.56 74.76h1M113.4 70.84h1M109.21 78.37h1M107.02 71.54h1M115.53 94.07h1M114.57 73.93h1M108.38 79.12h1M111.35 76.66h1M113.14 76.2h1M105.18 89.52h1M107.76 74.21h1M110.61 95.33h1M113.51 76.63h1M108.66 72.19h1M113.13 95.24h1M113.95 72.71h1M107.68 73.59h1M113.68 76.28h1M115.74 91.05h1M111.28 77.08h1M106.81 87.47h1M109.44 68.64h1M108.94 70.05h1M109.31 78.07h1M113.25 73.53h1M113.52 72.7h1M114.83 69.72h1M110.84 75.33h1M114.35 87.94h1M111.77 75.07h1M108.62 72.31h1M114.62 68.63h1M112.92 75.69h1M116.77 89.32h1M106.88 95.28h1M108.34 76.46h1M109.52 70.15h1M109.53 85.53h1M111.37 74.73h1M108.6 68.55h1M115.18 71.34h1M115.09 72.09h1M113.95 68.72h1M107.85 85.92h1M110.25 72.82h1M115.83 69.32h1M115.44 87.62h1M105.05 88.97h1M113.65 71.96h1M109.91 71.77h1M111.02 85.11h1M112.82 74.05h1M111.03 85.14h1M108.28 68.85h1M115.58 70.26h1M112.96 73.68h1M109.26 69.03h1M107.56 71.76h1M108.63 72.52h1M111.84 74.42h1M106.06 87.85h1M107.63 78.39h1M108.54 70.76h1M113.63 95.07h1M115.07 72.08h1M108.85 77.48h1M114.56 74.13h1M107.79 77.73h1M113.01 74.97h1M114.37 73.28h1M115.61 68.39h1M108.74 78.3h1M107.23 77.77h1M112.92 72.78h1M110.21 73.23h1M113.41 74.51h1M107.85 70.86h1M106.41 94.97h1M112.71 72.06h1M110.21 76.21h1M108.57 69.73h1M107.17 73.83h1M109.89 76.81h1M113 94.35h1M107.37 72.21h1M114.38 71.24h1M107.72 70.8h1M113.88 82.06h1M109.29 71.93h1M108.4 72.83h1M108 95.08h1M107.31 95.46h1M110.54 74.25h1M108.68 67.57h1M111.19 74.01h1M104.1 90.34h1M115.35 71.63h1M109.15 72.24h1M106.04 93.22h1M115.96 92.82h1M108.88 71.03h1M115.31 89.18h1M107 73.16h1M111.05 71.54h1M109.94 77.08h1M111.1 76.04h1M114.35 72.01h1M107.89 69.7h1M112.01 75.03h1M108.3 68.74h1M107.56 94.8h1M108.37 78.09h1M113.26 70.37h1M114.49 93.64h1M107.93 75.04h1M114.97 94.03h1M112.66 71.99h1M108.84 70.23h1" stroke="#0087e7" stroke-width="1" stroke-opacity="0.75"/>
<path d="M109.5 86.85h1M107.48 94.09h1M108.06 87.49h1M113.05 88.27h1M108.54 94.92h1M113.62 89.09h1M114.12 92.51h1M112.65 87.82h1M106.74 88.26h1M106.15 92.61h1M109.91 95.04h1M106.44 92.89h1M108.09 94.31h1M113.71 92.99h1M105.68 90.22h1M108.3 87.4h1M106 89.06h1M106.1 88.85h1M114.93 92.87h1M115.17 90.08h1M109.16 94.62h1M106.63 93.42h1M111.63 94.09h1M108.52 94.73h1M114.05 89.97h1M113.35 87.75h1M114.49 90.56h1M111.61 86.46h1M113.99 89.43h1M111.39 94.26h1M109.84 86.54h1M108.58 94.58h1M106.22 89.25h1M105.51 89.22h1M106.05 89.75h1M114.18 89.85h1M114.57 90.58h1M114.9 90.93h1M106.77 93.91h1M114.83 90.92h1M111.75 86.7h1M112.26 87.22h1M115.4 91.72h1M108.04 94.76h1M114.15 88.8h1M114.17 92.62h1M107.81 94.53h1M114.13 92.71h1M107.09 93.79h1M106.36 89.36h1M113.17 88.1h1M113.6 88.41h1M114.44 90.43h1M109.94 95.02h1M111.91 86.97h1M112.99 93.57h1M115.01 92.53h1M113.38 87.62h1M106.2 88.75h1M114.42 93.23h1M111.1 86.43h1M114.12 92.43h1M111.57 86.78h1M115.2 90.18h1M106.23 91.17h1M114.64 91.8h1M107.56 87.56h1M114.88 92.96h1M114.22 90.52h1M105.53 91.47h1M114.58 93.32h1M114.23 89.21h1M112.34 87.19h1M111.12 86.47h1M108.32 87.49h1M108.58 86.89h1M113.72 87.94h1M105.3 90.97h1M114.58 93.22h1M114.69 91.78h1M114.49 92.94h1M115.12 90.24h1M115.03 91.77h1M108.24 94.72h1M111.42 86.69h1M114.15 93.09h1M114.52 93.36h1M105.96 89.26h1M114.9 90.88h1" stroke="#00c6ac" stroke-width="1" stroke-opacity="0.87"/>
<path d="M111.74 93.63h1M113.26 92.59h1M113.94 91.53h1M110.53 87.78h1M112.62 88.99h1M107.83 88.58h1M110.12 87.35h1M110.82 94.21h1M113.52 91.26h1M107.56 93h1M110.76 93.95h1M112.24 88.56h1M110.04 87.27h1M112.11 88.33h1M114.24 91.24h1M111.03 93.95h1M109.95 94.24h1M113.61 89.84h1M113.1 92.12h1M106.26 90.4h1M114.05 90.4h1M107.05 88.84h1M111.21 93.73h1M113.91 90.74h1M108.15 87.92h1M112.21 93.29h1M113.27 89.99h1M112.57 93.08h1M113.94 92.09h1M111.12 87.89h1M113.84 92.34h1M106.52 91.71h1M106.34 90.58h1M111.45 87.71h1M106.71 88.97h1M108.45 87.85h1M111.17 87.93h1M106.88 91.1h1M109.36 87.27h1M107.63 88.78h1M111.84 93.7h1M112.17 88.48h1M113.28 92.51h1M113.47 92.16h1M111.82 93.25h1M112.43 93.21h1M108.68 87.83h1M112.42 88.76h1M110.28 93.98h1M106.93 89.41h1M112.93 93.17h1M110.22 87.21h1M107.31 89.14h1M106.38 91.11h1M107.38 92.62h1M113.11 92.15h1M108.58 87.62h1M110.47 94.3h1M110.07 87.39h1M107.1 89.5h1M107.63 88.83h1M111.82 88.14h1M113.52 89.84h1M106.63 89.28h1M108.6 93.99h1M111.51 88.02h1M107.51 93.58h1M113.71 89.98h1M113.29 90.98h1M113.12 89.53h1M113.1 89.23h1M106.97 88.76h1M113.27 91.92h1M107.09 91.76h1M106.75 92.04h1M107.88 93.47h1M106.98 92.43h1M106.53 89.13h1M113.74 91.56h1M106.62 90.27h1M109.93 94.33h1M106.47 91.35h1M106.89 92.08h1M110.37 87.43h1M112.64 89h1M110.65 87.32h1M108.06 88.05h1M106.52 90.57h1M112.83 88.85h1M113.86 90.73h1M106.5 89.17h1M107.85 93.89h1M107.36 93.25h1M111.08 87.58h1M113.49 92.6h1M112.86 88.71h1" stroke="#30d852" stroke-width="1" stroke-opacity="0.95"/>
<path d="M108.7 93.32h1M108.05 89.05h1M107.33 92.14h1M107.13 91.02h1M110.85 88.12h1M108 89.08h1M111.61 88.72h1M109.76 93.65h1M109.64 88.34h1M109.93 93.41h1M110.49 93.78h1M107.28 89.61h1M109.32 88.16h1M109.68 93.44h1M108.05 92.93h1M108.6 92.99h1M107.62 92.38h1M107.49 90.06h1M112.72 91.1h1M107.21 90.71h1M111.89 88.86h1M109.84 88.22h1M112.63 92.56h1M109.17 93.77h1M107.67 89.55h1M109.4 88.45h1M111.34 88.53h1M112.64 91.65h1M110.72 93.24h1M112.14 92.4h1M112.34 92.5h1M108.26 88.93h1M110.8 93.51h1M112.94 90.88h1M107.38 90.76h1M109.05 88.44h1M111.37 92.87h1M112.87 91.18h1M112.8 90.34h1M112.66 89.37h1M111.95 88.59h1M107.57 89.28h1M108.02 88.98h1M106.99 90.52h1M110.08 88.41h1M109.36 93.78h1M107.72 89.38h1M112.7 91.22h1M111.69 88.31h1M107.41 90.55h1M113.06 90.11h1M107.55 89.45h1M107.42 90.53h1M112.96 90.28h1M112.26 89.22h1M110.17 87.93h1M112.28 89.42h1M107.68 91.75h1M111.7 88.92h1M107.5 91.63h1M111.57 88.74h1" stroke="#95e216" stroke-width="1" stroke-opacity="0.95"/>
<path d="M112.1 91.44h1M111.76 91.27h1M108.12 92.06h1M111.9 91.8h1M111.6 90.12h1M108.31 92.11h1M110.8 88.99h1M109.11 88.94h1M111.88 90.96h1M110.67 92.79h1M110.28 88.96h1M111.24 92.37h1M111.39 92.69h1M108.02 90.15h1M108.07 90.46h1M111.67 92.07h1M110.81 88.76h1M109.03 93.01h1M108.5 89.35h1M111.77 92.15h1M112.1 89.63h1M109.85 89.01h1M111.71 90.52h1M111.13 88.77h1M108.96 92.74h1M111.59 91.72h1M111.63 92.14h1M110.48 92.98h1M109.67 88.71h1M108.38 92.75h1M107.71 90.96h1M109.68 92.93h1M110.62 88.96h1M110.54 88.87h1M109.07 92.63h1M112.34 90.94h1M111.71 89.68h1M110.49 92.91h1M110.99 93.02h1M107.68 90.21h1M108.3 89.26h1M110.25 92.8h1M107.54 91.12h1M109.06 88.83h1M108.91 92.5h1M107.86 91.55h1M110.43 92.72h1M110.37 93.19h1M110.99 92.57h1M109.26 92.77h1M111.1 88.83h1M110.36 88.63h1M107.69 91.2h1M110.76 93.02h1M108.49 89.65h1M111.98 90.46h1M108.44 92.25h1" stroke="#e2ca00" stroke-width="1" stroke-opacity="0.95"/>
<path d="M111.11 90.59h1M111.32 91.62h1M110.08 92.52h1M109.83 92.19h1M109.54 92.18h1M111.3 91.05h1M108.63 92.18h1M111.15 91.95h1M110.82 91.81h1M111.38 90.96h1M109.38 89.38h1M109.41 92.46h1M111.67 90.46h1M110.35 89.89h1M110.06 89.68h1M111.36 90.27h1M108.98 92.09h1M108.71 90.24h1M111.11 92.17h1M108.64 92.16h1M110.39 89.53h1M108.67 92.07h1M110.87 89.72h1M110.83 89.39h1M109.96 92.72h1M110.18 92.57h1M108.9 90.19h1M108.63 92.17h1M109.46 89.81h1M109.66 89.45h1M110.4 89.76h1M110.43 89.3h1M108.98 90.08h1M109.94 92.62h1M111.11 91.56h1M111.55 90.24h1M109.18 89.83h1M109.2 92.34h1M108.62 90.6h1M109.58 92.61h1M109.05 92.54h1M109.57 92.56h1M111.18 89.87h1M111.02 90.47h1M110.37 89.4h1M108.74 90.43h1M110.37 89.75h1M111.08 92.19h1M109.17 92.42h1M110.93 91.72h1M111.3 90.62h1M109.9 92.24h1M109.53 92.52h1M108.82 91.44h1M109.68 89.12h1M110.95 89.97h1M111.58 90.21h1M110.03 92.66h1M109.71 89.33h1M109.11 91.81h1M111.09 90.38h1M110.97 91.5h1M109.92 89.37h1M110.4 89.53h1M110.85 91.58h1M110.31 92.72h1M108.68 90.93h1M108.12 90.62h1M108.22 91.01h1M111.33 91.92h1M108.62 90.8h1M110.9 91.77h1M108.82 92.12h1M108.66 91.1h1" stroke="#ff9100" stroke-width="1" stroke-opacity="0.95"/>
<path d="M109.67 89.96h1M109.94 91.41h1M110.05 91.38h1M109.14 90.76h1M109.6 91.42h1M109.59 89.97h1M110.1 90.48h1M109.62 91.97h1M109.32 90.94h1M109.35 89.98h1M108.9 90.97h1M109.11 91.75h1M109.44 90.38h1M109.18 90.53h1M109.72 90.48h1M109.77 90.78h1M110.24 89.97h1M110.62 91.25h1M109.01 91.23h1M109.88 90.71h1M109.34 90.07h1M110.87 90.93h1M110.15 90.91h1M109.11 90.2h1M109.6 91.45h1M110.86 91.17h1M110.04 90.22h1M109.77 91.07h1M109.82 91.69h1M110.19 89.93h1M109.86 90.23h1M110.01 91.23h1M110.02 91.61h1M109.52 90.54h1M109.49 91.05h1M109.23 90.95h1M109.5 90.02h1M110.42 91.67h1M110.72 91.01h1M109.7 90.77h1M110.18 90.14h1M109.03 90.87h1M110.09 91.46h1M109.51 91.27h1M108.83 90.84h1M109.17 90.27h1M110.58 90.96h1M109.32 91.01h1" stroke="#ff4a00" stroke-width="1" stroke-opacity="0.95"/>
</g>
<rect x="19.5" y="37.5" width="67" height="67" fill="none" stroke="#c2c2c2" stroke-width="1"/>
<rect x="93.5" y="37.5" width="66" height="67" fill="none" stroke="#c2c2c2" stroke-width="1"/>
<rect x="58.6" y="43.6" width="17.9" height="38" fill="none" stroke="#e8232a" stroke-width="1.2"/>
<rect x="131.9" y="43.6" width="17.7" height="38" fill="none" stroke="#e8232a" stroke-width="1.2"/>
<text x="22.2" y="45.2" font-size="6.4">Lin- gated</text>
<text x="81.4" y="91.9" font-size="9" text-anchor="end">LSK</text>
<text x="83.8" y="102.8" font-size="9" text-anchor="end">0.002</text>
<text x="158.4" y="102.8" font-size="9" text-anchor="end">0.102</text>
<rect x="19.5" y="121.5" width="67" height="67" fill="none" stroke="#c2c2c2" stroke-width="1"/>
<rect x="93.5" y="121.5" width="66" height="67" fill="none" stroke="#c2c2c2" stroke-width="1"/>
<path d="M131 179.06L130 179.06L129.5 178.9L128.67 178.5L128 178.1L127.5 177.71L127 177.22L126.5 176.64L126.03 176L125.73 175.5L125.48 175L125 174L124.76 173.5L124.5 172.92L124.38 172L124.43 171L124.5 170.5L124.69 169.5L124.88 168.5L125 167.92L125.09 167L125.04 166L124.98 165.5L124.76 164.5L124.5 163.92L124.3 163L124.24 162L124.29 161L124.42 160L124.41 159L124.36 158L124.43 157L124.56 156.5L124.88 155.5L124.93 154.5L124.86 153.5L124.78 152.5L124.7 151.5L124.62 150.5L124.5 149.66L124.35 149L124.07 148L123.97 147.5L123.94 146.5L124 145.97L124.5 145.36L125 144.6L125.25 144L125.5 143.36L125.83 142.5L126.06 142L126.5 141.21L126.98 140.5L127.34 140L127.7 139.5L128.08 139L128.53 138.5L129.5 138.1L130.46 138.5L130.82 139L131 139.56L131.5 140.21L132.5 140.03L133 139.79L134 139.7L134.8 140L135.5 140.34L136 140.65L136.5 141.08L137 141.78L137.38 142.5L137.68 143L138 143.5L138.5 144.16L139 144.87L139.36 145.5L139.5 146.09L139.63 147L139.64 148L139.66 149L139.82 150L140.01 150.5L140.18 151.5L140.22 152.5L140.13 153.5L140 154.06L139.54 155L139.32 155.5L139 156.41L138.86 157L138.73 158L138.64 159L138.54 160L138.47 160.5L138.23 161.5L138 162.23L137.82 163L137.61 164L137.5 164.5L137.26 165.5L137 166.41L136.84 167L136.55 168L136.41 168.5L136.12 169.5L135.96 170L135.63 171L135.42 171.5L135 172.34L134.66 173L134.39 173.5L134 174.31L133.67 175L133.44 175.5L133.04 176.5L132.89 177L132.5 178L132.06 178.5L131.5 178.97L131 179.06M130.5 178.01L130 177.86L129.21 177.5L128.5 177.16L128 176.87L127.5 176.5L126.99 176L126.5 175.36L126.01 174.5L125.77 174L125.5 173.4L125.16 172.5L125.09 171.5L125.23 170.5L125.4 169.5L125.51 169L125.75 168L125.9 167L125.83 166L125.71 165L125.5 164.14L125.16 163.5L124.81 163L124.5 162.28L124.5 161.57L124.74 161L125.05 160.5L125.38 159.5L125.21 158.5L125.23 157.5L125.5 156.68L125.64 156L125.7 155L125.65 154L125.58 153L125.52 152L125.49 151.5L125.42 150.5L125.33 149.5L125.22 148.5L125.2 147.5L125.43 146.5L125.6 146L125.96 145L126.13 144.5L126.5 143.57L126.76 143L127.04 142.5L127.5 141.82L128 141.24L128.5 140.79L129.5 140.51L130.34 141L131 141.24L132 141.23L132.82 141L133.5 140.82L134.5 140.91L135 141.08L135.79 141.5L136.39 142L136.79 142.5L137.14 143L137.5 143.54L138 144.3L138.41 145L138.63 145.5L138.9 146.5L139 147.4L139.04 148L139.04 149L139.08 150L139.29 151L139.5 151.6L139.69 152.5L139.5 153.19L139.29 154L139.01 155L138.84 155.5L138.52 156.5L138.4 157L138.22 158L138.03 159L137.92 159.5L137.67 160.5L137.5 161.06L137.27 162L137.05 163L136.96 163.5L136.75 164.5L136.5 165.36L136.33 166L136.03 167L135.88 167.5L135.58 168.5L135.42 169L135.07 170L134.89 170.5L134.5 171.41L134.22 172L133.95 172.5L133.5 173.3L133.09 174L132.81 174.5L132.5 175.06L132.07 176L131.92 176.5L131.56 177.5L131 177.96L130.5 178.01M130.5 176.26L129.5 176.43L128.5 176.18L128 175.92L127.47 175.5L127 174.97L126.5 174.15L126.19 173.5L126 173L125.76 172L125.76 171L125.87 170L126 169.32L126.2 168.5L126.43 167.5L126.48 166.5L126.4 165.5L126.32 164.5L126.16 163.5L125.96 163L125.5 162.24L125.5 161.75L126 161.08L126.24 160.5L126.3 159.5L126.2 158.5L126.18 157.5L126.28 156.5L126.31 155.5L126.27 154.5L126.2 153.5L126.15 152.5L126.11 151.5L126.07 150.5L126.02 149.5L126 148.66L126 148.47L126.08 147.5L126.3 146.5L126.5 145.86L126.78 145L127 144.45L127.46 143.5L127.79 143L128.2 142.5L128.86 142L129.5 141.8L130.5 141.88L131.5 141.93L132.5 141.75L133.5 141.56L134.5 141.65L135.4 142L136 142.38L136.5 142.88L136.98 143.5L137.33 144L137.65 144.5L138 145.2L138.31 146L138.5 146.95L138.57 147.5L138.59 148.5L138.56 149.5L138.54 150.5L138.58 151.5L138.6 152.5L138.6 153.5L138.58 154.5L138.5 155L138.22 156L138 156.83L137.86 157.5L137.63 158.5L137.49 159L137.2 160L137 160.69L136.82 161.5L136.64 162.5L136.5 163.19L136.32 164L136 164.99L135.84 165.5L135.53 166.5L135.38 167L135.06 168L134.9 168.5L134.56 169.5L134.37 170L134 170.86L133.67 171.5L133.37 172L133 172.53L132.5 173.21L132 173.99L131.73 174.5L131.45 175L131 175.73L130.5 176.26M130 175.22L129 175.44L128 175.07L127.5 174.63L127.04 174L126.78 173.5L126.5 172.78L126.31 172L126.27 171L126.35 170L126.5 169.23L126.68 168.5L126.91 167.5L126.97 166.5L126.92 165.5L126.91 164.5L126.95 163.5L127 163L127.08 162L127.09 161L127.01 160L126.96 159.5L126.87 158.5L126.84 157.5L126.84 156.5L126.82 155.5L126.77 154.5L126.71 153.5L126.67 152.5L126.66 151.5L126.64 150.5L126.61 149.5L126.63 148.5L126.75 147.5L126.99 146.5L127.13 146L127.5 145.02L127.75 144.5L128.04 144L128.5 143.39L129 142.95L130 142.58L131 142.52L131.5 142.48L132.5 142.31L133.5 142.17L134.5 142.27L135.15 142.5L135.96 143L136.46 143.5L136.86 144L137.2 144.5L137.5 145.03L137.9 146L138.04 146.5L138.2 147.5L138.21 148.5L138.15 149.5L138.07 150.5L138 151.38L137.96 152L137.92 153L137.97 154L137.95 155L137.75 156L137.53 157L137.43 157.5L137.17 158.5L137 159.01L136.69 160L136.5 160.77L136.39 161.5L136.25 162.5L136.02 163.5L135.87 164L135.5 164.96L135.3 165.5L135 166.37L134.8 167L134.5 167.92L134.31 168.5L134 169.38L133.76 170L133.5 170.55L133 171.37L132.5 171.96L132 172.43L131.5 172.96L131.18 173.5L130.96 174L130.5 174.77L130 175.22M129 174.59L128.47 174.5L127.77 174L127.38 173.5L127 172.68L126.82 172L126.73 171L126.8 170L126.99 169L127.12 168.5L127.33 167.5L127.4 166.5L127.39 165.5L127.4 164.5L127.47 163.5L127.52 163L127.59 162L127.59 161L127.52 160L127.47 159.5L127.39 158.5L127.35 157.5L127.32 156.5L127.27 155.5L127.22 154.5L127.17 153.5L127.15 152.5L127.16 151.5L127.16 150.5L127.14 149.5L127.18 148.5L127.32 147.5L127.5 146.8L127.76 146L128 145.43L128.5 144.54L128.94 144L129.5 143.54L130 143.3L131 143.09L131.57 143L132.5 142.85L133.5 142.73L134.5 142.83L135.01 143L135.84 143.5L136.36 144L136.75 144.5L137.08 145L137.5 145.9L137.7 146.5L137.86 147.5L137.87 148.5L137.78 149.5L137.67 150.5L137.54 151.5L137.48 152L137.4 153L137.4 154L137.39 155L137.27 156L137.12 157L137 157.59L136.75 158.5L136.5 159.19L136.25 160L136.07 161L136 161.71L135.91 162.5L135.67 163.5L135.47 164L135 165L134.79 165.5L134.5 166.3L134.27 167L134 167.81L133.77 168.5L133.5 169.26L133.19 170L132.91 170.5L132.5 171.06L132 171.55L131.41 172L130.87 172.5L130.5 173.05L130 174L129.5 174.46L129 174.59M129 173.64L128.29 173.5L127.78 173L127.49 172.5L127.24 171.5L127.2 170.5L127.31 169.5L127.5 168.64L127.64 168L127.79 167L127.82 166L127.82 165L127.84 164L127.89 163L127.95 162L127.96 161L127.93 160L127.88 159L127.82 158L127.76 157L127.71 156L127.65 155L127.6 154L127.58 153L127.62 152L127.66 151L127.64 150L127.64 149L127.75 148L127.99 147L128.16 146.5L128.5 145.74L128.96 145L129.4 144.5L130 144.05L130.5 143.83L131.5 143.56L132 143.46L133 143.31L134 143.29L134.89 143.5L135.5 143.8L136 144.21L136.5 144.77L136.96 145.5L137.19 146L137.48 147L137.54 147.5L137.54 148.5L137.5 149L137.37 150L137.22 151L137.07 152L137 152.51L136.92 153.5L136.89 154.5L136.85 155.5L136.79 156.5L136.65 157.5L136.5 158.05L136.16 159L135.98 159.5L135.76 160.5L135.71 161.5L135.61 162.5L135.5 163L135.08 164L134.8 164.5L134.5 165.08L134.1 166L133.92 166.5L133.59 167.5L133.43 168L133.09 169L132.88 169.5L132.5 170.2L132 170.81L131.5 171.23L131 171.6L130.5 172.01L130 172.61L129.5 173.3L129 173.64M129 172.56L128.39 172.5L127.96 172L127.7 171L127.7 170L127.85 169L128 168.25L128.13 167.5L128.23 166.5L128.25 165.5L128.22 164.5L128.2 163.5L128.23 162.5L128.27 161.5L128.31 160.5L128.33 159.5L128.28 158.5L128.2 157.5L128.13 156.5L128.07 155.5L128.01 154.5L127.99 154L127.99 153L128.01 152.5L128.1 151.5L128.13 150.5L128.11 149.5L128.16 148.5L128.37 147.5L128.54 147L129 146.01L129.35 145.5L129.82 145L130.5 144.52L131 144.31L132 144.02L132.5 143.92L133.5 143.81L134.5 143.9L135 144.07L135.68 144.5L136.19 145L136.57 145.5L137 146.39L137.17 147L137.26 148L137.18 149L137.03 150L136.94 150.5L136.77 151.5L136.61 152.5L136.5 153.4L136.45 154L136.41 155L136.41 156L136.37 157L136.15 158L135.97 158.5L135.59 159.5L135.46 160L135.39 161L135.38 162L135.19 163L134.98 163.5L134.5 164.3L134.05 165L133.8 165.5L133.5 166.27L133.25 167L133 167.79L132.77 168.5L132.5 169.19L132.03 170L131.57 170.5L131 170.95L130.5 171.31L130 171.72L129.5 172.19L129 172.56M129.5 171.27L128.5 171.21L128.28 170.5L128.28 169.5L128.4 168.5L128.5 167.83L128.62 167L128.69 166L128.65 165L128.56 164L128.51 163L128.53 162L128.6 161L128.72 160L128.75 159L128.65 158L128.55 157L128.5 156.41L128.43 155.5L128.37 154.5L128.35 153.5L128.41 152.5L128.5 151.73L128.56 151L128.57 150L128.58 149L128.75 148L129 147.24L129.37 146.5L129.73 146L130.22 145.5L130.98 145L131.5 144.78L132.5 144.5L133 144.41L134 144.36L134.69 144.5L135.5 144.9L136 145.35L136.47 146L136.7 146.5L136.93 147.5L136.92 148.5L136.78 149.5L136.59 150.5L136.5 151.01L136.32 152L136.16 153L136.04 154L136 154.52L135.99 155.5L136.02 156L136.01 157L135.93 157.5L135.6 158.5L135.38 159L135.08 160L135.06 161L135.09 162L135 162.6L134.61 163.5L134.24 164L133.86 164.5L133.5 165.09L133.07 166L132.89 166.5L132.58 167.5L132.44 168L132.07 169L131.77 169.5L131.34 170L130.71 170.5L130 170.97L129.5 171.27M130 170.13L129.15 170L128.95 169.5L128.92 168.5L129 167.7L129.11 167L129.19 166L129.09 165L129 164.5L128.84 163.5L128.79 162.5L128.85 161.5L129 160.58L129.14 160L129.21 159L129.07 158L128.99 157.5L128.87 156.5L128.78 155.5L128.72 154.5L128.72 153.5L128.79 152.5L128.92 151.5L129 150.5L129 150L129.04 149L129.26 148L129.5 147.41L130 146.61L130.5 146.1L131 145.74L131.5 145.48L132.5 145.13L133.06 145L134 144.92L134.54 145L135.5 145.46L136 145.97L136.31 146.5L136.51 147L136.62 148L136.52 149L136.44 149.5L136.24 150.5L136.05 151.5L135.95 152L135.78 153L135.65 154L135.59 155L135.64 156L135.66 157L135.5 157.79L135.22 158.5L134.99 159L134.68 160L134.7 161L134.77 162L134.52 163L134.17 163.5L133.72 164L133.3 164.5L132.97 165L132.5 165.98L132.3 166.5L132.04 167.5L131.9 168L131.5 168.95L131.04 169.5L130.5 169.9L130 170.13M130.5 168.91L129.7 168.5L129.69 167.5L129.85 166.5L129.78 165.5L129.5 164.72L129.3 164L129.11 163L129.1 162L129.28 161L129.5 160.29L129.73 159.5L129.63 158.5L129.5 157.97L129.31 157L129.17 156L129.09 155L129.06 154L129.11 153L129.23 152L129.35 151L129.42 150L129.5 149.11L129.64 148.5L130 147.67L130.5 147.01L131 146.59L131.5 146.29L132.15 146L133 145.72L134 145.55L135 145.76L135.5 146.09L136 146.77L136.21 147.5L136.22 148.5L136.07 149.5L135.97 150L135.77 151L135.58 152L135.49 152.5L135.33 153.5L135.22 154.5L135.22 155.5L135.3 156.5L135.22 157.5L135 158.12L134.56 159L134.35 159.5L134.23 160.5L134.39 161.5L134.31 162.5L134 163.09L133.5 163.6L133 164.08L132.5 164.72L132 165.5L131.72 166L131.5 166.79L131.35 167.5L131 168.48L130.5 168.91M131.5 164.66L130.5 164.83L130 164.32L129.62 163.5L129.49 163L129.46 162L129.57 161.5L130 160.56L130.34 160L130.38 159L130.05 158L129.9 157.5L129.66 156.5L129.51 155.5L129.47 155L129.46 154L129.5 153.28L129.58 152.5L129.71 151.5L129.82 150.5L129.96 149.5L130.1 149L130.5 148.2L131 147.69L131.5 147.41L132.5 147.14L133 146.97L134 146.51L134.5 146.47L135 146.63L135.5 147.14L135.7 148L135.65 149L135.51 150L135.42 150.5L135.24 151.5L135.06 152.5L134.97 153L134.81 154L134.75 155L134.82 156L134.86 157L134.57 158L134.28 158.5L134 159.02L133.64 160L133.7 161L133.85 162L133.5 162.74L133 163.18L132.5 163.62L132 164.16L131.5 164.66M131 163.69L130.38 163.5L130 162.88L129.97 162L130.2 161.5L130.66 161L131.34 160.5L131.61 160L131.48 159.5L131 158.57L130.7 158L130.46 157.5L130.12 156.5L130 156L129.88 155L129.88 154L129.94 153L130 152.42L130.11 151.5L130.27 150.5L130.5 149.61L130.85 149L131.5 148.51L132 148.41L133 148.44L134 148.32L134.67 148.5L134.94 149.5L134.9 150.5L134.77 151.5L134.59 152.5L134.5 153.02L134.34 154L134.27 155L134.32 156L134.33 157L134 157.93L133.59 158.5L133.2 159L132.84 159.5L132.5 160.42L132.5 160.63L132.61 161.5L132.5 162.07L132 162.79L131.5 163.38L131 163.69M132.5 158.16L131.81 158L131.27 157.5L130.92 157L130.5 156.04L130.38 155.5L130.32 154.5L130.37 153.5L130.44 152.5L130.5 151.78L130.63 151L130.96 150L131.41 149.5L132 149.26L133 149.31L133.62 149.5L134.12 150L134.27 151L134.17 152L134 152.92L133.88 153.5L133.74 154.5L133.7 155.5L133.69 156.5L133.5 157.25L133 157.88L132.5 158.16" fill="none" stroke="#5a5a5a" stroke-width="0.45"/>
<path d="M113 172.26L112 172.24L111.5 171.91L111 171.34L110.52 170.5L110.3 170L110 169.13L109.81 168.5L109.59 167.5L109.5 166.97L109.33 166L109.2 165L109.08 164L109 163.21L108.9 162.5L108.74 161.5L108.58 160.5L108.48 160L108.26 159L108.05 158L107.95 157.5L107.76 156.5L107.62 155.5L107.53 154.5L107.5 153.83L107.48 153L107.5 152.28L107.54 151.5L107.64 150.5L107.8 149.5L108 148.62L108.15 148L108.48 147L108.66 146.5L109 145.75L109.38 145L109.68 144.5L110.03 144L110.5 143.4L111 142.87L111.5 142.43L112.14 142L113 141.58L113.5 141.43L114.5 141.31L115.5 141.43L116 141.58L116.86 142L117.5 142.43L118 142.87L118.5 143.4L118.97 144L119.32 144.5L119.62 145L120 145.75L120.34 146.5L120.52 147L120.85 148L121 148.61L121.2 149.5L121.36 150.5L121.46 151.5L121.5 152.08L121.53 153L121.53 154L121.5 154.61L121.45 155.5L121.38 156.5L121.31 157.5L121.25 158.5L121.21 159.5L121.19 160.5L121.17 161.5L121.14 162.5L121.08 163.5L121 164.36L120.94 165L120.78 166L120.54 167L120.39 167.5L120 168.46L119.67 169L119.2 169.5L118.5 169.84L117.5 169.52L117 169.14L116.5 168.77L115.55 169L115.22 169.5L114.91 170L114.5 170.71L114 171.44L113.5 171.95L113 172.26M112.5 169.54L112 169.36L111.5 168.83L111.08 168L110.9 167.5L110.64 166.5L110.5 165.71L110.4 165L110.3 164L110.23 163L110.17 162L110.11 161L110.03 160L109.97 159.5L109.84 158.5L109.68 157.5L109.54 156.5L109.46 156L109.34 155L109.27 154L109.25 153L109.3 152L109.41 151L109.5 150.49L109.72 149.5L110 148.6L110.23 148L110.5 147.42L111 146.55L111.41 146L111.86 145.5L112.46 145L113 144.67L113.5 144.47L114.5 144.3L115.5 144.47L116 144.67L116.54 145L117.13 145.5L117.59 146L118 146.55L118.5 147.42L118.77 148L119 148.6L119.28 149.5L119.5 150.48L119.59 151L119.71 152L119.77 153L119.78 154L119.76 155L119.72 156L119.69 157L119.68 158L119.71 159L119.77 160L119.83 161L119.88 162L119.87 163L119.8 164L119.63 165L119.5 165.51L119.01 166.5L118.5 166.85L117.7 166.5L117.28 166L116.95 165.5L116.5 164.8L116 164.41L115.5 164.67L115.06 165.5L114.87 166L114.5 166.96L114.29 167.5L114 168.14L113.5 168.95L113 169.41L112.5 169.54M113 166.08L112.16 166L111.88 165.5L111.63 164.5L111.51 163.5L111.48 163L111.46 162L111.46 161L111.43 160L111.37 159L111.26 158L111.12 157L111 156.12L110.92 155.5L110.83 154.5L110.79 153.5L110.83 152.5L110.95 151.5L111.05 151L111.33 150L111.52 149.5L112 148.59L112.44 148L112.97 147.5L113.5 147.17L114 146.99L115 146.99L115.5 147.17L116.03 147.5L116.56 148L117 148.59L117.47 149.5L117.67 150L117.95 151L118.04 151.5L118.16 152.5L118.2 153.5L118.17 154.5L118.08 155.5L118 156.12L117.85 157L117.61 158L117.43 158.5L117 159.12L116.37 159.5L115.57 160L115.08 160.5L114.75 161L114.5 161.51L114.17 162.5L114 163.19L113.8 164L113.53 165L113.31 165.5L113 166.08M114.5 158.01L113.5 158.49L112.92 158L112.5 157L112.38 156.5L112.17 155.5L112.03 154.5L111.99 154L111.99 153L112.04 152.5L112.23 151.5L112.5 150.71L112.89 150L113.33 149.5L114 149.07L114.5 148.99L115 149.08L115.66 149.5L116.09 150L116.5 150.76L116.74 151.5L116.91 152.5L116.94 153.5L116.84 154.5L116.58 155.5L116.37 156L116 156.62L115.5 157.2L115 157.64L114.5 158.01" fill="none" stroke="#a0a0a0" stroke-width="0.5"/>
<rect x="22.3" y="137.4" width="26.7" height="21.3" fill="none" stroke="#e8232a" stroke-width="1.2"/>
<rect x="96" y="137" width="26.2" height="21.3" fill="none" stroke="#e8232a" stroke-width="1.2"/>
<text x="22" y="128.3" font-size="6.4">LSK gated</text>
<text x="35.3" y="172.6" font-size="8.8" text-anchor="middle">HSC</text>
<text x="35.3" y="183.6" font-size="8.8" text-anchor="middle">0.000</text>
<text x="108.6" y="184.2" font-size="8.8" text-anchor="middle">0.014</text>
<circle cx="49.5" cy="159.5" r="0.4" fill="#bbb"/>
<circle cx="57" cy="174" r="0.4" fill="#bbb"/>
<line x1="13.9" y1="104.5" x2="13.9" y2="65" stroke="#000" stroke-width="1.3"/>
<path d="M13.9 60.5L11.3 65.5L16.5 65.5Z" stroke="none" stroke-width="1" fill="#000"/>
<text x="9.3" y="87.5" font-size="8.8" text-anchor="middle" transform="rotate(-90 9.3 87.5)">Sca-1</text>
<text x="22" y="117.3" font-size="8.8">c-Kit</text>
<line x1="42" y1="112.2" x2="145.5" y2="112.2" stroke="#000" stroke-width="1.3"/>
<path d="M150 112.2L145 109.6L145 114.8Z" stroke="none" stroke-width="1" fill="#000"/>
<line x1="13.6" y1="184.5" x2="13.6" y2="144.9" stroke="#000" stroke-width="1.3"/>
<path d="M13.6 140.4L11 145.4L16.2 145.4Z" stroke="none" stroke-width="1" fill="#000"/>
<text x="9" y="170.2" font-size="8.8" text-anchor="middle" transform="rotate(-90 9 170.2)">CD150</text>
<text x="21" y="200.2" font-size="8.8">CD48</text>
<line x1="45.5" y1="196.5" x2="145.5" y2="196.5" stroke="#000" stroke-width="1.3"/>
<path d="M150 196.5L145 193.9L145 199.1Z" stroke="none" stroke-width="1" fill="#000"/>
<text x="173.3" y="11.4" font-size="15.6" font-weight="bold">b</text>
<line x1="207.7" y1="160.15" x2="207.7" y2="51.5" stroke="#000" stroke-width="1.3"/>
<line x1="204.7" y1="159.5" x2="207.7" y2="159.5" stroke="#000" stroke-width="1.3"/>
<text x="203.1" y="162.31" font-size="7.8" font-weight="bold" text-anchor="end">0</text>
<line x1="204.7" y1="123.4" x2="207.7" y2="123.4" stroke="#000" stroke-width="1.3"/>
<text x="203.1" y="126.21" font-size="7.8" font-weight="bold" text-anchor="end">20</text>
<line x1="204.7" y1="87.3" x2="207.7" y2="87.3" stroke="#000" stroke-width="1.3"/>
<text x="203.1" y="90.11" font-size="7.8" font-weight="bold" text-anchor="end">40</text>
<line x1="204.7" y1="51.2" x2="207.7" y2="51.2" stroke="#000" stroke-width="1.3"/>
<text x="203.1" y="54.01" font-size="7.8" font-weight="bold" text-anchor="end">60</text>
<line x1="370" y1="160.1" x2="370" y2="51.5" stroke="#2a2a2a" stroke-width="1.2"/>
<line x1="370" y1="159.5" x2="373" y2="159.5" stroke="#2a2a2a" stroke-width="1.2"/>
<text x="374.6" y="162.31" font-size="7.8" font-weight="bold">0</text>
<line x1="370" y1="123.47" x2="373" y2="123.47" stroke="#2a2a2a" stroke-width="1.2"/>
<text x="374.6" y="126.28" font-size="7.8" font-weight="bold">1</text>
<line x1="370" y1="87.44" x2="373" y2="87.44" stroke="#2a2a2a" stroke-width="1.2"/>
<text x="374.6" y="90.25" font-size="7.8" font-weight="bold">2</text>
<line x1="370" y1="51.41" x2="373" y2="51.41" stroke="#2a2a2a" stroke-width="1.2"/>
<text x="374.6" y="54.22" font-size="7.8" font-weight="bold">3</text>
<line x1="207.2" y1="159.5" x2="370.6" y2="159.5" stroke="#000" stroke-width="1.3"/>
<line x1="214.8" y1="159.5" x2="214.8" y2="162.5" stroke="#000" stroke-width="1.3"/>
<text x="214.8" y="171" font-size="8.1" font-weight="bold" text-anchor="middle">0</text>
<line x1="229.6" y1="159.5" x2="229.6" y2="162.5" stroke="#000" stroke-width="1.3"/>
<text x="229.6" y="171" font-size="8.1" font-weight="bold" text-anchor="middle">1</text>
<line x1="244.3" y1="159.5" x2="244.3" y2="162.5" stroke="#000" stroke-width="1.3"/>
<text x="244.3" y="171" font-size="8.1" font-weight="bold" text-anchor="middle">3</text>
<line x1="259" y1="159.5" x2="259" y2="162.5" stroke="#000" stroke-width="1.3"/>
<text x="259" y="171" font-size="8.1" font-weight="bold" text-anchor="middle">7</text>
<line x1="273.7" y1="159.5" x2="273.7" y2="162.5" stroke="#000" stroke-width="1.3"/>
<text x="273.7" y="171" font-size="8.1" font-weight="bold" text-anchor="middle">11</text>
<line x1="303.2" y1="159.5" x2="303.2" y2="162.5" stroke="#000" stroke-width="1.3"/>
<text x="303.2" y="171" font-size="8.1" font-weight="bold" text-anchor="middle">0</text>
<line x1="317.9" y1="159.5" x2="317.9" y2="162.5" stroke="#000" stroke-width="1.3"/>
<text x="317.9" y="171" font-size="8.1" font-weight="bold" text-anchor="middle">1</text>
<line x1="332.4" y1="159.5" x2="332.4" y2="162.5" stroke="#000" stroke-width="1.3"/>
<text x="332.4" y="171" font-size="8.1" font-weight="bold" text-anchor="middle">3</text>
<line x1="347.1" y1="159.5" x2="347.1" y2="162.5" stroke="#000" stroke-width="1.3"/>
<text x="347.1" y="171" font-size="8.1" font-weight="bold" text-anchor="middle">7</text>
<line x1="361.8" y1="159.5" x2="361.8" y2="162.5" stroke="#000" stroke-width="1.3"/>
<text x="361.8" y="171" font-size="8.1" font-weight="bold" text-anchor="middle">11</text>
<line x1="288.6" y1="159.5" x2="288.6" y2="162.5" stroke="#000" stroke-width="1.3"/>
<line x1="289" y1="47.9" x2="289" y2="159" stroke="#333" stroke-width="1.15" stroke-dasharray="2.7 2.5"/>
<text x="289" y="185.8" font-size="9.1" font-weight="bold" text-anchor="middle">Days after rhIL-7-hyFc treatment</text>
<text x="185.9" y="105.9" font-size="9.2" font-weight="bold" text-anchor="middle" transform="rotate(-90 185.9 105.9)">PB LSK cells (x10<tspan font-size="6" dy="-3">3</tspan><tspan dy="3">/ml)</tspan></text>
<text x="387.6" y="105.3" font-size="9.2" font-weight="bold" text-anchor="middle" transform="rotate(90 387.6 105.3)">PB HSCs (x10<tspan font-size="6" dy="-3">3</tspan><tspan dy="3">/ml)</tspan></text>
<circle cx="212.4" cy="159.14" r="2.85" fill="none" stroke="#000" stroke-width="1.2"/>
<circle cx="214.2" cy="157.88" r="2.85" fill="none" stroke="#000" stroke-width="1.2"/>
<circle cx="215.6" cy="159.5" r="2.85" fill="none" stroke="#000" stroke-width="1.2"/>
<circle cx="217.2" cy="158.42" r="2.85" fill="none" stroke="#000" stroke-width="1.2"/>
<circle cx="213.6" cy="160.04" r="2.85" fill="none" stroke="#000" stroke-width="1.2"/>
<circle cx="227.2" cy="158.96" r="2.85" fill="none" stroke="#000" stroke-width="1.2"/>
<circle cx="229.1" cy="156.61" r="2.85" fill="none" stroke="#000" stroke-width="1.2"/>
<circle cx="230.6" cy="158.96" r="2.85" fill="none" stroke="#000" stroke-width="1.2"/>
<circle cx="232.2" cy="157.33" r="2.85" fill="none" stroke="#000" stroke-width="1.2"/>
<circle cx="228.6" cy="159.86" r="2.85" fill="none" stroke="#000" stroke-width="1.2"/>
<line x1="244.3" y1="72.86" x2="244.3" y2="129.72" stroke="#f01818" stroke-width="1.15"/>
<line x1="241.7" y1="72.86" x2="246.9" y2="72.86" stroke="#f01818" stroke-width="1.5"/>
<line x1="241.7" y1="129.72" x2="246.9" y2="129.72" stroke="#f01818" stroke-width="1.5"/>
<line x1="239.2" y1="101.2" x2="249.4" y2="101.2" stroke="#f01818" stroke-width="1.5"/>
<circle cx="244.3" cy="60.23" r="2.85" fill="none" stroke="#000" stroke-width="1.2"/>
<circle cx="244.3" cy="106.25" r="2.85" fill="none" stroke="#000" stroke-width="1.2"/>
<circle cx="244.3" cy="112.57" r="2.85" fill="none" stroke="#000" stroke-width="1.2"/>
<circle cx="244.3" cy="124.3" r="2.85" fill="none" stroke="#000" stroke-width="1.2"/>
<line x1="259" y1="117.08" x2="259" y2="143.25" stroke="#f01818" stroke-width="1.15"/>
<line x1="256.4" y1="117.08" x2="261.6" y2="117.08" stroke="#f01818" stroke-width="1.5"/>
<line x1="256.4" y1="143.25" x2="261.6" y2="143.25" stroke="#f01818" stroke-width="1.5"/>
<line x1="253.9" y1="130.62" x2="264.1" y2="130.62" stroke="#f01818" stroke-width="1.5"/>
<circle cx="259" cy="117.08" r="2.85" fill="none" stroke="#000" stroke-width="1.2"/>
<circle cx="259" cy="121.59" r="2.85" fill="none" stroke="#000" stroke-width="1.2"/>
<circle cx="259" cy="134.23" r="2.85" fill="none" stroke="#000" stroke-width="1.2"/>
<circle cx="259" cy="146.87" r="2.85" fill="none" stroke="#000" stroke-width="1.2"/>
<line x1="273.7" y1="150.84" x2="273.7" y2="157.69" stroke="#f01818" stroke-width="1.15"/>
<line x1="271.1" y1="150.84" x2="276.3" y2="150.84" stroke="#f01818" stroke-width="1.5"/>
<line x1="271.1" y1="157.69" x2="276.3" y2="157.69" stroke="#f01818" stroke-width="1.5"/>
<line x1="268.6" y1="154.27" x2="278.8" y2="154.27" stroke="#f01818" stroke-width="1.5"/>
<circle cx="273.7" cy="149.57" r="2.85" fill="none" stroke="#000" stroke-width="1.2"/>
<circle cx="270.9" cy="156.61" r="2.85" fill="none" stroke="#000" stroke-width="1.2"/>
<circle cx="276.5" cy="156.61" r="2.85" fill="none" stroke="#000" stroke-width="1.2"/>
<circle cx="273.7" cy="155.35" r="2.85" fill="none" stroke="#000" stroke-width="1.2"/>
<text x="244.3" y="47.22" font-size="9.52" font-weight="bold" text-anchor="middle" fill="#111">***</text>
<text x="259.8" y="108.02" font-size="9.52" font-weight="bold" text-anchor="middle" fill="#111">*</text>
<circle cx="300.8" cy="159.5" r="2.85" fill="none" stroke="#000" stroke-width="1.2"/>
<circle cx="302.2" cy="156.62" r="2.85" fill="none" stroke="#000" stroke-width="1.2"/>
<circle cx="303.7" cy="158.78" r="2.85" fill="none" stroke="#000" stroke-width="1.2"/>
<circle cx="305.2" cy="156.98" r="2.85" fill="none" stroke="#000" stroke-width="1.2"/>
<circle cx="305.7" cy="159.14" r="2.85" fill="none" stroke="#000" stroke-width="1.2"/>
<circle cx="302.7" cy="158.06" r="2.85" fill="none" stroke="#000" stroke-width="1.2"/>
<circle cx="315.3" cy="159.5" r="2.85" fill="none" stroke="#000" stroke-width="1.2"/>
<circle cx="317.1" cy="155.9" r="2.85" fill="none" stroke="#000" stroke-width="1.2"/>
<circle cx="320.3" cy="155.18" r="2.85" fill="none" stroke="#000" stroke-width="1.2"/>
<circle cx="321.9" cy="155.54" r="2.85" fill="none" stroke="#000" stroke-width="1.2"/>
<circle cx="318.4" cy="158.78" r="2.85" fill="none" stroke="#000" stroke-width="1.2"/>
<circle cx="315.5" cy="157.7" r="2.85" fill="none" stroke="#000" stroke-width="1.2"/>
<line x1="332.4" y1="77.71" x2="332.4" y2="116.26" stroke="#f01818" stroke-width="1.15"/>
<line x1="329.8" y1="77.71" x2="335" y2="77.71" stroke="#f01818" stroke-width="1.5"/>
<line x1="329.8" y1="116.26" x2="335" y2="116.26" stroke="#f01818" stroke-width="1.5"/>
<line x1="327.3" y1="96.81" x2="337.5" y2="96.81" stroke="#f01818" stroke-width="1.5"/>
<circle cx="332.4" cy="71.23" r="2.85" fill="none" stroke="#000" stroke-width="1.2"/>
<circle cx="332.4" cy="94.65" r="2.85" fill="none" stroke="#000" stroke-width="1.2"/>
<circle cx="330.5" cy="111.94" r="2.85" fill="none" stroke="#000" stroke-width="1.2"/>
<circle cx="334.9" cy="110.5" r="2.85" fill="none" stroke="#000" stroke-width="1.2"/>
<line x1="347.1" y1="76.63" x2="347.1" y2="137.88" stroke="#f01818" stroke-width="1.15"/>
<line x1="344.5" y1="76.63" x2="349.7" y2="76.63" stroke="#f01818" stroke-width="1.5"/>
<line x1="344.5" y1="137.88" x2="349.7" y2="137.88" stroke="#f01818" stroke-width="1.5"/>
<line x1="342" y1="106.9" x2="352.2" y2="106.9" stroke="#f01818" stroke-width="1.5"/>
<circle cx="347.1" cy="67.62" r="2.85" fill="none" stroke="#000" stroke-width="1.2"/>
<circle cx="347.1" cy="103.29" r="2.85" fill="none" stroke="#000" stroke-width="1.2"/>
<circle cx="347.1" cy="114.46" r="2.85" fill="none" stroke="#000" stroke-width="1.2"/>
<circle cx="347.1" cy="141.49" r="2.85" fill="none" stroke="#000" stroke-width="1.2"/>
<line x1="361.8" y1="129.23" x2="361.8" y2="159.5" stroke="#f01818" stroke-width="1.15"/>
<line x1="359.2" y1="129.23" x2="364.4" y2="129.23" stroke="#f01818" stroke-width="1.5"/>
<line x1="359.2" y1="159.5" x2="364.4" y2="159.5" stroke="#f01818" stroke-width="1.5"/>
<line x1="356.7" y1="146.89" x2="366.9" y2="146.89" stroke="#f01818" stroke-width="1.5"/>
<circle cx="361.8" cy="121.67" r="2.85" fill="none" stroke="#000" stroke-width="1.2"/>
<circle cx="359.4" cy="151.93" r="2.85" fill="none" stroke="#000" stroke-width="1.2"/>
<circle cx="364.2" cy="154.46" r="2.85" fill="none" stroke="#000" stroke-width="1.2"/>
<circle cx="359.4" cy="159.5" r="2.85" fill="none" stroke="#000" stroke-width="1.2"/>
<text x="331.9" y="55.32" font-size="9.52" font-weight="bold" text-anchor="middle" fill="#111">***</text>
<text x="347.6" y="55.32" font-size="9.52" font-weight="bold" text-anchor="middle" fill="#111">**</text>
<text x="406.2" y="11.7" font-size="15.6" font-weight="bold">c</text>
<line x1="449.8" y1="158.75" x2="449.8" y2="50.8" stroke="#000" stroke-width="1.3"/>
<line x1="446.8" y1="158.1" x2="449.8" y2="158.1" stroke="#000" stroke-width="1.3"/>
<text x="445.2" y="160.91" font-size="7.8" font-weight="bold" text-anchor="end">0</text>
<line x1="446.8" y1="136.65" x2="449.8" y2="136.65" stroke="#000" stroke-width="1.3"/>
<text x="445.2" y="139.46" font-size="7.8" font-weight="bold" text-anchor="end">10</text>
<line x1="446.8" y1="115.2" x2="449.8" y2="115.2" stroke="#000" stroke-width="1.3"/>
<text x="445.2" y="118.01" font-size="7.8" font-weight="bold" text-anchor="end">20</text>
<line x1="446.8" y1="93.75" x2="449.8" y2="93.75" stroke="#000" stroke-width="1.3"/>
<text x="445.2" y="96.56" font-size="7.8" font-weight="bold" text-anchor="end">30</text>
<line x1="446.8" y1="72.3" x2="449.8" y2="72.3" stroke="#000" stroke-width="1.3"/>
<text x="445.2" y="75.11" font-size="7.8" font-weight="bold" text-anchor="end">40</text>
<line x1="446.8" y1="50.85" x2="449.8" y2="50.85" stroke="#000" stroke-width="1.3"/>
<text x="445.2" y="53.66" font-size="7.8" font-weight="bold" text-anchor="end">50</text>
<line x1="630.3" y1="158.75" x2="630.3" y2="50.2" stroke="#000" stroke-width="1.3"/>
<line x1="630.3" y1="157.9" x2="633.3" y2="157.9" stroke="#000" stroke-width="1.3"/>
<text x="634.9" y="160.71" font-size="7.8" font-weight="bold">0</text>
<line x1="630.3" y1="136.35" x2="633.3" y2="136.35" stroke="#000" stroke-width="1.3"/>
<text x="634.9" y="139.16" font-size="7.8" font-weight="bold">1</text>
<line x1="630.3" y1="114.8" x2="633.3" y2="114.8" stroke="#000" stroke-width="1.3"/>
<text x="634.9" y="117.61" font-size="7.8" font-weight="bold">2</text>
<line x1="630.3" y1="93.25" x2="633.3" y2="93.25" stroke="#000" stroke-width="1.3"/>
<text x="634.9" y="96.06" font-size="7.8" font-weight="bold">3</text>
<line x1="630.3" y1="71.7" x2="633.3" y2="71.7" stroke="#000" stroke-width="1.3"/>
<text x="634.9" y="74.51" font-size="7.8" font-weight="bold">4</text>
<line x1="630.3" y1="50.15" x2="633.3" y2="50.15" stroke="#000" stroke-width="1.3"/>
<text x="634.9" y="52.96" font-size="7.8" font-weight="bold">5</text>
<line x1="449.3" y1="158.1" x2="630.6" y2="158.1" stroke="#000" stroke-width="1.3"/>
<line x1="457.9" y1="158.1" x2="457.9" y2="161.1" stroke="#000" stroke-width="1.3"/>
<text x="457.9" y="170.1" font-size="8.1" font-weight="bold" text-anchor="middle">0</text>
<line x1="473.9" y1="158.1" x2="473.9" y2="161.1" stroke="#000" stroke-width="1.3"/>
<text x="473.9" y="170.1" font-size="8.1" font-weight="bold" text-anchor="middle">0.1</text>
<line x1="490.6" y1="158.1" x2="490.6" y2="161.1" stroke="#000" stroke-width="1.3"/>
<text x="490.6" y="170.1" font-size="8.1" font-weight="bold" text-anchor="middle">0.5</text>
<line x1="507" y1="158.1" x2="507" y2="161.1" stroke="#000" stroke-width="1.3"/>
<text x="507" y="170.1" font-size="8.1" font-weight="bold" text-anchor="middle">2.5</text>
<line x1="523.3" y1="158.1" x2="523.3" y2="161.1" stroke="#000" stroke-width="1.3"/>
<text x="523.3" y="170.1" font-size="8.1" font-weight="bold" text-anchor="middle">12.5</text>
<line x1="556" y1="158.1" x2="556" y2="161.1" stroke="#000" stroke-width="1.3"/>
<text x="556" y="170.1" font-size="8.1" font-weight="bold" text-anchor="middle">0</text>
<line x1="572.4" y1="158.1" x2="572.4" y2="161.1" stroke="#000" stroke-width="1.3"/>
<text x="572.4" y="170.1" font-size="8.1" font-weight="bold" text-anchor="middle">0.1</text>
<line x1="588.7" y1="158.1" x2="588.7" y2="161.1" stroke="#000" stroke-width="1.3"/>
<text x="588.7" y="170.1" font-size="8.1" font-weight="bold" text-anchor="middle">0.5</text>
<line x1="605.2" y1="158.1" x2="605.2" y2="161.1" stroke="#000" stroke-width="1.3"/>
<text x="605.2" y="170.1" font-size="8.1" font-weight="bold" text-anchor="middle">2.5</text>
<line x1="622" y1="158.1" x2="622" y2="161.1" stroke="#000" stroke-width="1.3"/>
<text x="622" y="170.1" font-size="8.1" font-weight="bold" text-anchor="middle">12.5</text>
<line x1="539.3" y1="47.2" x2="539.3" y2="157.5" stroke="#222" stroke-width="1.1" stroke-dasharray="3 1.9 1 2.4 1 2.5"/>
<text x="540.2" y="185.5" font-size="9.1" font-weight="bold" text-anchor="middle">rhIL-7-hyFc dose (mg/kg)</text>
<text x="428.2" y="105.8" font-size="9.2" font-weight="bold" text-anchor="middle" transform="rotate(-90 428.2 105.8)">PB LSK cells (x10<tspan font-size="6" dy="-3">3</tspan><tspan dy="3">/ml)</tspan></text>
<text x="649.6" y="105.2" font-size="9.2" font-weight="bold" text-anchor="middle" transform="rotate(90 649.6 105.2)">PB HSCs (x10<tspan font-size="6" dy="-3">3</tspan><tspan dy="3">/ml)</tspan></text>
<ellipse cx="458" cy="157.8" rx="4.4" ry="2.4" fill="#000"/>
<circle cx="457.68" cy="157.52" r="2.55" fill="none" stroke="#000" stroke-width="1.3"/>
<circle cx="460.88" cy="157.57" r="2.55" fill="none" stroke="#000" stroke-width="1.3"/>
<circle cx="458.05" cy="157.51" r="2.55" fill="none" stroke="#000" stroke-width="1.3"/>
<circle cx="455.86" cy="157.54" r="2.55" fill="none" stroke="#000" stroke-width="1.3"/>
<circle cx="458.88" cy="157.4" r="2.55" fill="none" stroke="#000" stroke-width="1.3"/>
<circle cx="455.24" cy="157.65" r="2.55" fill="none" stroke="#000" stroke-width="1.3"/>
<circle cx="455.22" cy="157.4" r="2.55" fill="none" stroke="#000" stroke-width="1.3"/>
<circle cx="459.32" cy="157.78" r="2.55" fill="none" stroke="#000" stroke-width="1.3"/>
<circle cx="461.28" cy="157.32" r="2.55" fill="none" stroke="#000" stroke-width="1.3"/>
<ellipse cx="474.3" cy="157.6" rx="4.6" ry="2.4" fill="#000"/>
<circle cx="475.41" cy="157.11" r="2.55" fill="none" stroke="#000" stroke-width="1.3"/>
<circle cx="471.83" cy="157.59" r="2.55" fill="none" stroke="#000" stroke-width="1.3"/>
<circle cx="474.5" cy="157.55" r="2.55" fill="none" stroke="#000" stroke-width="1.3"/>
<circle cx="472.07" cy="157.41" r="2.55" fill="none" stroke="#000" stroke-width="1.3"/>
<circle cx="470.92" cy="157.23" r="2.55" fill="none" stroke="#000" stroke-width="1.3"/>
<circle cx="473.87" cy="156.93" r="2.55" fill="none" stroke="#000" stroke-width="1.3"/>
<circle cx="474.44" cy="157.09" r="2.55" fill="none" stroke="#000" stroke-width="1.3"/>
<circle cx="474.3" cy="157.07" r="2.55" fill="none" stroke="#000" stroke-width="1.3"/>
<circle cx="473.99" cy="157.38" r="2.55" fill="none" stroke="#000" stroke-width="1.3"/>
<circle cx="472.3" cy="152.8" r="2.55" fill="none" stroke="#000" stroke-width="1.2"/>
<line x1="490.6" y1="130.5" x2="490.6" y2="148.3" stroke="#f04848" stroke-width="1.2"/>
<line x1="487.8" y1="130.5" x2="493.4" y2="130.5" stroke="#f04848" stroke-width="1.4"/>
<line x1="487.8" y1="148.3" x2="493.4" y2="148.3" stroke="#f04848" stroke-width="1.4"/>
<line x1="485.2" y1="139.7" x2="496" y2="139.7" stroke="#f04848" stroke-width="1.4"/>
<circle cx="490.7" cy="121.9" r="2.55" fill="none" stroke="#000" stroke-width="1.2"/>
<circle cx="487.8" cy="128.5" r="2.55" fill="none" stroke="#000" stroke-width="1.2"/>
<circle cx="493.4" cy="133" r="2.55" fill="none" stroke="#000" stroke-width="1.2"/>
<circle cx="487.8" cy="137.1" r="2.55" fill="none" stroke="#000" stroke-width="1.2"/>
<circle cx="490.8" cy="139.5" r="2.55" fill="none" stroke="#000" stroke-width="1.2"/>
<circle cx="493.7" cy="143.1" r="2.55" fill="none" stroke="#000" stroke-width="1.2"/>
<circle cx="487.8" cy="144.5" r="2.55" fill="none" stroke="#000" stroke-width="1.2"/>
<circle cx="491" cy="146.9" r="2.55" fill="none" stroke="#000" stroke-width="1.2"/>
<circle cx="493.7" cy="149" r="2.55" fill="none" stroke="#000" stroke-width="1.2"/>
<circle cx="488" cy="151.7" r="2.55" fill="none" stroke="#000" stroke-width="1.2"/>
<line x1="507" y1="108.7" x2="507" y2="131.9" stroke="#f04848" stroke-width="1.2"/>
<line x1="504.2" y1="108.7" x2="509.8" y2="108.7" stroke="#f04848" stroke-width="1.4"/>
<line x1="504.2" y1="131.9" x2="509.8" y2="131.9" stroke="#f04848" stroke-width="1.4"/>
<line x1="501.7" y1="120.6" x2="512.3" y2="120.6" stroke="#f04848" stroke-width="1.4"/>
<circle cx="507.1" cy="101.4" r="2.55" fill="none" stroke="#000" stroke-width="1.2"/>
<circle cx="504.4" cy="107" r="2.55" fill="none" stroke="#000" stroke-width="1.2"/>
<circle cx="507.4" cy="111.1" r="2.55" fill="none" stroke="#000" stroke-width="1.2"/>
<circle cx="509.8" cy="116.5" r="2.55" fill="none" stroke="#000" stroke-width="1.2"/>
<circle cx="504.4" cy="120.6" r="2.55" fill="none" stroke="#000" stroke-width="1.2"/>
<circle cx="509.8" cy="121.4" r="2.55" fill="none" stroke="#000" stroke-width="1.2"/>
<circle cx="510.1" cy="128.1" r="2.55" fill="none" stroke="#000" stroke-width="1.2"/>
<circle cx="506.3" cy="130.8" r="2.55" fill="none" stroke="#000" stroke-width="1.2"/>
<circle cx="504.4" cy="134.4" r="2.55" fill="none" stroke="#000" stroke-width="1.2"/>
<circle cx="510.1" cy="133.7" r="2.55" fill="none" stroke="#000" stroke-width="1.2"/>
<line x1="523.3" y1="99.1" x2="523.3" y2="137.4" stroke="#f04848" stroke-width="1.2"/>
<line x1="520.5" y1="99.1" x2="526.1" y2="99.1" stroke="#f04848" stroke-width="1.4"/>
<line x1="520.5" y1="137.4" x2="526.1" y2="137.4" stroke="#f04848" stroke-width="1.4"/>
<line x1="518" y1="118.5" x2="528.6" y2="118.5" stroke="#f04848" stroke-width="1.4"/>
<circle cx="523.4" cy="74.3" r="2.55" fill="none" stroke="#000" stroke-width="1.2"/>
<circle cx="523.4" cy="99.8" r="2.55" fill="none" stroke="#000" stroke-width="1.2"/>
<circle cx="523.4" cy="108.3" r="2.55" fill="none" stroke="#000" stroke-width="1.2"/>
<circle cx="523.4" cy="114" r="2.55" fill="none" stroke="#000" stroke-width="1.2"/>
<circle cx="523.4" cy="122.8" r="2.55" fill="none" stroke="#000" stroke-width="1.2"/>
<circle cx="520.6" cy="128.1" r="2.55" fill="none" stroke="#000" stroke-width="1.2"/>
<circle cx="523.4" cy="128.9" r="2.55" fill="none" stroke="#000" stroke-width="1.2"/>
<circle cx="523.4" cy="134.6" r="2.55" fill="none" stroke="#000" stroke-width="1.2"/>
<circle cx="526.1" cy="136.4" r="2.55" fill="none" stroke="#000" stroke-width="1.2"/>
<circle cx="520.6" cy="139" r="2.55" fill="none" stroke="#000" stroke-width="1.2"/>
<text x="489.6" y="110.9" font-size="8.96" font-weight="bold" text-anchor="middle" fill="#111">**</text>
<text x="507.1" y="89.6" font-size="8.96" font-weight="bold" text-anchor="middle" fill="#111">***</text>
<text x="523.1" y="64.3" font-size="8.96" font-weight="bold" text-anchor="middle" fill="#111">***</text>
<ellipse cx="556.3" cy="157.4" rx="4.4" ry="2.3" fill="#000"/>
<circle cx="559.68" cy="156.8" r="2.55" fill="none" stroke="#000" stroke-width="1.3"/>
<circle cx="558.61" cy="156.98" r="2.55" fill="none" stroke="#000" stroke-width="1.3"/>
<circle cx="555.04" cy="157.26" r="2.55" fill="none" stroke="#000" stroke-width="1.3"/>
<circle cx="554.87" cy="157.36" r="2.55" fill="none" stroke="#000" stroke-width="1.3"/>
<circle cx="558.11" cy="157.16" r="2.55" fill="none" stroke="#000" stroke-width="1.3"/>
<circle cx="558.66" cy="157.17" r="2.55" fill="none" stroke="#000" stroke-width="1.3"/>
<circle cx="559.41" cy="156.89" r="2.55" fill="none" stroke="#000" stroke-width="1.3"/>
<circle cx="552.9" cy="157.27" r="2.55" fill="none" stroke="#000" stroke-width="1.3"/>
<circle cx="559.09" cy="157.12" r="2.55" fill="none" stroke="#000" stroke-width="1.3"/>
<ellipse cx="572.8" cy="157.4" rx="4.4" ry="2.3" fill="#000"/>
<circle cx="576.07" cy="157.08" r="2.55" fill="none" stroke="#000" stroke-width="1.3"/>
<circle cx="569.9" cy="156.9" r="2.55" fill="none" stroke="#000" stroke-width="1.3"/>
<circle cx="574.69" cy="157.18" r="2.55" fill="none" stroke="#000" stroke-width="1.3"/>
<circle cx="569.99" cy="157.13" r="2.55" fill="none" stroke="#000" stroke-width="1.3"/>
<circle cx="575.96" cy="156.79" r="2.55" fill="none" stroke="#000" stroke-width="1.3"/>
<circle cx="570.2" cy="157.2" r="2.55" fill="none" stroke="#000" stroke-width="1.3"/>
<circle cx="570.09" cy="157.35" r="2.55" fill="none" stroke="#000" stroke-width="1.3"/>
<circle cx="574.82" cy="157.26" r="2.55" fill="none" stroke="#000" stroke-width="1.3"/>
<circle cx="573.2" cy="157.04" r="2.55" fill="none" stroke="#000" stroke-width="1.3"/>
<circle cx="570.5" cy="154.4" r="2.55" fill="none" stroke="#000" stroke-width="1.2"/>
<line x1="588.7" y1="126.9" x2="588.7" y2="154.6" stroke="#f04848" stroke-width="1.2"/>
<line x1="585.9" y1="126.9" x2="591.5" y2="126.9" stroke="#f04848" stroke-width="1.4"/>
<line x1="585.9" y1="154.6" x2="591.5" y2="154.6" stroke="#f04848" stroke-width="1.4"/>
<line x1="583.7" y1="141.5" x2="593.7" y2="141.5" stroke="#f04848" stroke-width="1.4"/>
<circle cx="588.6" cy="110.6" r="2.55" fill="none" stroke="#000" stroke-width="1.2"/>
<circle cx="588.6" cy="124.2" r="2.55" fill="none" stroke="#000" stroke-width="1.2"/>
<circle cx="586.5" cy="140.5" r="2.55" fill="none" stroke="#000" stroke-width="1.2"/>
<circle cx="589.2" cy="140.5" r="2.55" fill="none" stroke="#000" stroke-width="1.2"/>
<circle cx="590.7" cy="141.5" r="2.55" fill="none" stroke="#000" stroke-width="1.2"/>
<circle cx="585.4" cy="149.4" r="2.55" fill="none" stroke="#000" stroke-width="1.2"/>
<circle cx="591.7" cy="148.8" r="2.55" fill="none" stroke="#000" stroke-width="1.2"/>
<circle cx="588" cy="150.5" r="2.55" fill="none" stroke="#000" stroke-width="1.2"/>
<circle cx="588.6" cy="155" r="2.55" fill="none" stroke="#000" stroke-width="1.2"/>
<line x1="605.2" y1="91" x2="605.2" y2="143.2" stroke="#f04848" stroke-width="1.2"/>
<line x1="602.4" y1="91" x2="608" y2="91" stroke="#f04848" stroke-width="1.4"/>
<line x1="602.4" y1="143.2" x2="608" y2="143.2" stroke="#f04848" stroke-width="1.4"/>
<line x1="599.9" y1="117" x2="610.5" y2="117" stroke="#f04848" stroke-width="1.4"/>
<circle cx="605.3" cy="59" r="2.55" fill="none" stroke="#000" stroke-width="1.2"/>
<circle cx="605.3" cy="83.7" r="2.55" fill="none" stroke="#000" stroke-width="1.2"/>
<circle cx="603.2" cy="114.8" r="2.55" fill="none" stroke="#000" stroke-width="1.2"/>
<circle cx="607.4" cy="114.8" r="2.55" fill="none" stroke="#000" stroke-width="1.2"/>
<circle cx="602.8" cy="126.3" r="2.55" fill="none" stroke="#000" stroke-width="1.2"/>
<circle cx="608" cy="130" r="2.55" fill="none" stroke="#000" stroke-width="1.2"/>
<circle cx="602.1" cy="133.1" r="2.55" fill="none" stroke="#000" stroke-width="1.2"/>
<circle cx="606.3" cy="133.1" r="2.55" fill="none" stroke="#000" stroke-width="1.2"/>
<circle cx="608.4" cy="135.9" r="2.55" fill="none" stroke="#000" stroke-width="1.2"/>
<circle cx="602.8" cy="139" r="2.55" fill="none" stroke="#000" stroke-width="1.2"/>
<line x1="622" y1="104.3" x2="622" y2="143.6" stroke="#f04848" stroke-width="1.2"/>
<line x1="619.2" y1="104.3" x2="624.8" y2="104.3" stroke="#f04848" stroke-width="1.4"/>
<line x1="619.2" y1="143.6" x2="624.8" y2="143.6" stroke="#f04848" stroke-width="1.4"/>
<line x1="616.7" y1="124.4" x2="627.3" y2="124.4" stroke="#f04848" stroke-width="1.4"/>
<circle cx="621.4" cy="95.6" r="2.55" fill="none" stroke="#000" stroke-width="1.2"/>
<circle cx="622.6" cy="93.9" r="2.55" fill="none" stroke="#000" stroke-width="1.2"/>
<circle cx="622" cy="108.7" r="2.55" fill="none" stroke="#000" stroke-width="1.2"/>
<circle cx="618.8" cy="138.8" r="2.55" fill="none" stroke="#000" stroke-width="1.2"/>
<circle cx="622" cy="137.3" r="2.55" fill="none" stroke="#000" stroke-width="1.2"/>
<circle cx="625.1" cy="137.3" r="2.55" fill="none" stroke="#000" stroke-width="1.2"/>
<circle cx="623.4" cy="141.5" r="2.55" fill="none" stroke="#000" stroke-width="1.2"/>
<circle cx="619.9" cy="140.5" r="2.55" fill="none" stroke="#000" stroke-width="1.2"/>
<text x="605.3" y="48.9" font-size="8.96" font-weight="bold" text-anchor="middle" fill="#111">***</text>
<text x="622" y="83" font-size="8.96" font-weight="bold" text-anchor="middle" fill="#111">***</text>
<text x="-0.4" y="232.8" font-size="15.6" font-weight="bold">d</text>
<text x="58.9" y="248.4" font-size="10.7" text-anchor="middle">Placebo</text>
<text x="131.4" y="248.4" font-size="10.7" text-anchor="middle">rhIL-7-hyFc</text>
<line x1="31.6" y1="370.25" x2="31.6" y2="262" stroke="#000" stroke-width="1.3"/>
<line x1="28.6" y1="369.6" x2="31.6" y2="369.6" stroke="#000" stroke-width="1.3"/>
<text x="27" y="372.41" font-size="7.8" font-weight="bold" text-anchor="end">0</text>
<line x1="28.6" y1="333.85" x2="31.6" y2="333.85" stroke="#000" stroke-width="1.3"/>
<text x="27" y="336.66" font-size="7.8" font-weight="bold" text-anchor="end">5</text>
<line x1="28.6" y1="298.1" x2="31.6" y2="298.1" stroke="#000" stroke-width="1.3"/>
<text x="27" y="300.91" font-size="7.8" font-weight="bold" text-anchor="end">10</text>
<line x1="28.6" y1="262.35" x2="31.6" y2="262.35" stroke="#000" stroke-width="1.3"/>
<text x="27" y="265.16" font-size="7.8" font-weight="bold" text-anchor="end">15</text>
<line x1="31.1" y1="369.6" x2="79.6" y2="369.6" stroke="#000" stroke-width="1.3"/>
<line x1="104" y1="370.25" x2="104" y2="262" stroke="#000" stroke-width="1.3"/>
<line x1="101" y1="369.6" x2="104" y2="369.6" stroke="#000" stroke-width="1.3"/>
<text x="99.4" y="372.41" font-size="7.8" font-weight="bold" text-anchor="end">0</text>
<line x1="101" y1="333.85" x2="104" y2="333.85" stroke="#000" stroke-width="1.3"/>
<text x="99.4" y="336.66" font-size="7.8" font-weight="bold" text-anchor="end">5</text>
<line x1="101" y1="298.1" x2="104" y2="298.1" stroke="#000" stroke-width="1.3"/>
<text x="99.4" y="300.91" font-size="7.8" font-weight="bold" text-anchor="end">10</text>
<line x1="101" y1="262.35" x2="104" y2="262.35" stroke="#000" stroke-width="1.3"/>
<text x="99.4" y="265.16" font-size="7.8" font-weight="bold" text-anchor="end">15</text>
<line x1="103.5" y1="369.6" x2="158.8" y2="369.6" stroke="#000" stroke-width="1.3"/>
<line x1="46.2" y1="369.6" x2="46.2" y2="372.6" stroke="#000" stroke-width="1.3"/>
<text x="46.2" y="388.1" font-size="8.6" font-weight="bold" text-anchor="middle">D0</text>
<line x1="73" y1="369.6" x2="73" y2="372.6" stroke="#000" stroke-width="1.3"/>
<text x="73" y="388.1" font-size="8.6" font-weight="bold" text-anchor="middle">D10</text>
<line x1="118.3" y1="369.6" x2="118.3" y2="372.6" stroke="#000" stroke-width="1.3"/>
<text x="118.3" y="388.1" font-size="8.6" font-weight="bold" text-anchor="middle">D0</text>
<line x1="144.7" y1="369.6" x2="144.7" y2="372.6" stroke="#000" stroke-width="1.3"/>
<text x="144.7" y="388.1" font-size="8.6" font-weight="bold" text-anchor="middle">D10</text>
<text x="12.8" y="318" font-size="8.9" font-weight="bold" text-anchor="middle" transform="rotate(-90 12.8 318)">PB CD34<tspan font-size="6" dy="-3">+</tspan><tspan dy="3"> cells (/µl)</tspan></text>
<line x1="46.2" y1="353.87" x2="73" y2="350.65" stroke="#000" stroke-width="1.1"/>
<line x1="46.2" y1="358.16" x2="73" y2="356.02" stroke="#000" stroke-width="1.1"/>
<line x1="46.2" y1="362.45" x2="73" y2="361.38" stroke="#000" stroke-width="1.1"/>
<line x1="46.2" y1="364.24" x2="73" y2="362.81" stroke="#000" stroke-width="1.1"/>
<circle cx="46.2" cy="353.87" r="2.3" fill="#fff" stroke="#000" stroke-width="1.1"/>
<circle cx="73" cy="350.65" r="2.3" fill="#fff" stroke="#000" stroke-width="1.1"/>
<circle cx="46.2" cy="358.16" r="2.3" fill="#fff" stroke="#000" stroke-width="1.1"/>
<circle cx="73" cy="356.02" r="2.3" fill="#fff" stroke="#000" stroke-width="1.1"/>
<circle cx="46.2" cy="362.45" r="2.3" fill="#fff" stroke="#000" stroke-width="1.1"/>
<circle cx="73" cy="361.38" r="2.3" fill="#fff" stroke="#000" stroke-width="1.1"/>
<circle cx="46.2" cy="364.24" r="2.3" fill="#fff" stroke="#000" stroke-width="1.1"/>
<circle cx="73" cy="362.81" r="2.3" fill="#fff" stroke="#000" stroke-width="1.1"/>
<line x1="45" y1="331.1" x2="74.1" y2="331.1" stroke="#000" stroke-width="1.2"/>
<text x="59.5" y="329" font-size="8.8" text-anchor="middle">ns</text>
<line x1="118.3" y1="350.3" x2="144.7" y2="283.8" stroke="#000" stroke-width="1.1"/>
<line x1="118.3" y1="353.16" x2="144.7" y2="328.85" stroke="#000" stroke-width="1.1"/>
<line x1="118.3" y1="355.3" x2="144.7" y2="330.63" stroke="#000" stroke-width="1.1"/>
<line x1="118.3" y1="356.37" x2="144.7" y2="332.42" stroke="#000" stroke-width="1.1"/>
<line x1="118.3" y1="358.88" x2="144.7" y2="333.85" stroke="#000" stroke-width="1.1"/>
<line x1="118.3" y1="354.59" x2="144.7" y2="358.88" stroke="#000" stroke-width="1.1"/>
<line x1="118.3" y1="361.02" x2="144.7" y2="352.44" stroke="#000" stroke-width="1.1"/>
<line x1="118.3" y1="363.88" x2="144.7" y2="356.73" stroke="#000" stroke-width="1.1"/>
<line x1="118.3" y1="365.31" x2="144.7" y2="362.45" stroke="#000" stroke-width="1.1"/>
<circle cx="118.3" cy="350.3" r="2.3" fill="#fff" stroke="#000" stroke-width="1.1"/>
<circle cx="144.7" cy="283.8" r="2.3" fill="#fff" stroke="#000" stroke-width="1.1"/>
<circle cx="118.3" cy="353.16" r="2.3" fill="#fff" stroke="#000" stroke-width="1.1"/>
<circle cx="144.7" cy="328.85" r="2.3" fill="#fff" stroke="#000" stroke-width="1.1"/>
<circle cx="118.3" cy="355.3" r="2.3" fill="#fff" stroke="#000" stroke-width="1.1"/>
<circle cx="144.7" cy="330.63" r="2.3" fill="#fff" stroke="#000" stroke-width="1.1"/>
<circle cx="118.3" cy="356.37" r="2.3" fill="#fff" stroke="#000" stroke-width="1.1"/>
<circle cx="144.7" cy="332.42" r="2.3" fill="#fff" stroke="#000" stroke-width="1.1"/>
<circle cx="118.3" cy="358.88" r="2.3" fill="#fff" stroke="#000" stroke-width="1.1"/>
<circle cx="144.7" cy="333.85" r="2.3" fill="#fff" stroke="#000" stroke-width="1.1"/>
<circle cx="118.3" cy="354.59" r="2.3" fill="#fff" stroke="#000" stroke-width="1.1"/>
<circle cx="144.7" cy="358.88" r="2.3" fill="#fff" stroke="#000" stroke-width="1.1"/>
<circle cx="118.3" cy="361.02" r="2.3" fill="#fff" stroke="#000" stroke-width="1.1"/>
<circle cx="144.7" cy="352.44" r="2.3" fill="#fff" stroke="#000" stroke-width="1.1"/>
<circle cx="118.3" cy="363.88" r="2.3" fill="#fff" stroke="#000" stroke-width="1.1"/>
<circle cx="144.7" cy="356.73" r="2.3" fill="#fff" stroke="#000" stroke-width="1.1"/>
<circle cx="118.3" cy="365.31" r="2.3" fill="#fff" stroke="#000" stroke-width="1.1"/>
<circle cx="144.7" cy="362.45" r="2.3" fill="#fff" stroke="#000" stroke-width="1.1"/>
<line x1="120.7" y1="272.2" x2="145.2" y2="272.2" stroke="#000" stroke-width="1.2"/>
<text x="132.8" y="272.7" font-size="8.96" font-weight="bold" text-anchor="middle" fill="#111">*</text>
<text x="170.5" y="232.9" font-size="15.8" font-weight="bold">e</text>
<text x="224.8" y="244.4" font-size="10.7" text-anchor="middle">WT</text>
<text x="291" y="244.4" font-size="10.7" text-anchor="middle">Rag-1 KO</text>
<line x1="198.8" y1="370.35" x2="198.8" y2="264.4" stroke="#000" stroke-width="1.3"/>
<line x1="195.8" y1="369.7" x2="198.8" y2="369.7" stroke="#000" stroke-width="1.3"/>
<text x="194.2" y="372.51" font-size="7.8" font-weight="bold" text-anchor="end">0</text>
<line x1="195.8" y1="343.37" x2="198.8" y2="343.37" stroke="#000" stroke-width="1.3"/>
<text x="194.2" y="346.18" font-size="7.8" font-weight="bold" text-anchor="end">1</text>
<line x1="195.8" y1="317.04" x2="198.8" y2="317.04" stroke="#000" stroke-width="1.3"/>
<text x="194.2" y="319.85" font-size="7.8" font-weight="bold" text-anchor="end">2</text>
<line x1="195.8" y1="290.71" x2="198.8" y2="290.71" stroke="#000" stroke-width="1.3"/>
<text x="194.2" y="293.52" font-size="7.8" font-weight="bold" text-anchor="end">3</text>
<line x1="195.8" y1="264.38" x2="198.8" y2="264.38" stroke="#000" stroke-width="1.3"/>
<text x="194.2" y="267.19" font-size="7.8" font-weight="bold" text-anchor="end">4</text>
<line x1="198.3" y1="369.7" x2="251.4" y2="369.7" stroke="#000" stroke-width="1.3"/>
<line x1="265.1" y1="370.35" x2="265.1" y2="264.4" stroke="#000" stroke-width="1.3"/>
<line x1="262.1" y1="369.7" x2="265.1" y2="369.7" stroke="#000" stroke-width="1.3"/>
<text x="260.5" y="372.51" font-size="7.8" font-weight="bold" text-anchor="end">0</text>
<line x1="262.1" y1="343.37" x2="265.1" y2="343.37" stroke="#000" stroke-width="1.3"/>
<text x="260.5" y="346.18" font-size="7.8" font-weight="bold" text-anchor="end">1</text>
<line x1="262.1" y1="317.04" x2="265.1" y2="317.04" stroke="#000" stroke-width="1.3"/>
<text x="260.5" y="319.85" font-size="7.8" font-weight="bold" text-anchor="end">2</text>
<line x1="262.1" y1="290.71" x2="265.1" y2="290.71" stroke="#000" stroke-width="1.3"/>
<text x="260.5" y="293.52" font-size="7.8" font-weight="bold" text-anchor="end">3</text>
<line x1="262.1" y1="264.38" x2="265.1" y2="264.38" stroke="#000" stroke-width="1.3"/>
<text x="260.5" y="267.19" font-size="7.8" font-weight="bold" text-anchor="end">4</text>
<line x1="264.6" y1="369.7" x2="317.6" y2="369.7" stroke="#000" stroke-width="1.3"/>
<line x1="212.1" y1="369.7" x2="212.1" y2="372.7" stroke="#000" stroke-width="1.3"/>
<line x1="238.4" y1="369.7" x2="238.4" y2="372.7" stroke="#000" stroke-width="1.3"/>
<line x1="278.1" y1="369.7" x2="278.1" y2="372.7" stroke="#000" stroke-width="1.3"/>
<line x1="304.3" y1="369.7" x2="304.3" y2="372.7" stroke="#000" stroke-width="1.3"/>
<line x1="212.1" y1="367.07" x2="212.1" y2="368.38" stroke="#000" stroke-width="1.1"/>
<line x1="208.5" y1="367.07" x2="215.7" y2="367.07" stroke="#000" stroke-width="1.1"/>
<rect x="203.4" y="368.38" width="17.4" height="1.32" fill="#fff" stroke="#000" stroke-width="1.1"/>
<line x1="238.4" y1="299.93" x2="238.4" y2="327.57" stroke="#000" stroke-width="1.1"/>
<line x1="234.6" y1="299.93" x2="242.8" y2="299.93" stroke="#000" stroke-width="1.1"/>
<rect x="230" y="327.57" width="16.8" height="42.13" fill="#ff0000" stroke="#000" stroke-width="1.1"/>
<line x1="211.7" y1="283.9" x2="238.2" y2="283.9" stroke="#000" stroke-width="1.2"/>
<text x="224.8" y="285.2" font-size="8.96" font-weight="bold" text-anchor="middle" fill="#111">*</text>
<line x1="278.1" y1="351.27" x2="278.1" y2="361.8" stroke="#000" stroke-width="1.1"/>
<line x1="274" y1="351.27" x2="282.2" y2="351.27" stroke="#000" stroke-width="1.1"/>
<rect x="269.7" y="361.8" width="16.8" height="7.9" fill="#fff" stroke="#000" stroke-width="1.1"/>
<line x1="304.3" y1="286.23" x2="304.3" y2="317.04" stroke="#000" stroke-width="1.1"/>
<line x1="300.2" y1="286.23" x2="308.4" y2="286.23" stroke="#000" stroke-width="1.1"/>
<rect x="296.2" y="317.04" width="16.2" height="52.66" fill="#ff0000" stroke="#000" stroke-width="1.1"/>
<line x1="278" y1="277.8" x2="304.8" y2="277.8" stroke="#000" stroke-width="1.2"/>
<text x="291" y="279.2" font-size="8.96" font-weight="bold" text-anchor="middle" fill="#111">*</text>
<text x="185" y="314.4" font-size="9.2" font-weight="bold" text-anchor="middle" transform="rotate(-90 185 314.4)">PB HSCs (x10<tspan font-size="6" dy="-3">3</tspan><tspan dy="3">/ml)</tspan></text>
<rect x="198.3" y="382.3" width="11" height="7.7" fill="#fff" stroke="#000" stroke-width="1.1"/>
<text x="215.6" y="389.8" font-size="9.2" font-weight="bold">Control</text>
<rect x="255.2" y="382.3" width="11" height="7.7" fill="#ff0000" stroke="#000" stroke-width="1.1"/>
<text x="275.6" y="389.8" font-size="9.2" font-weight="bold">rhIL-7-hyFc</text>
<text x="338.4" y="232.8" font-size="15.6" font-weight="bold">f</text>
<text x="390.3" y="244.4" font-size="10.7" text-anchor="middle">WT</text>
<text x="464.1" y="244.4" font-size="10.7" text-anchor="middle">Rag-1 KO</text>
<line x1="367.1" y1="370.35" x2="367.1" y2="264.4" stroke="#000" stroke-width="1.3"/>
<line x1="364.1" y1="369.7" x2="367.1" y2="369.7" stroke="#000" stroke-width="1.3"/>
<text x="362.5" y="372.51" font-size="7.8" font-weight="bold" text-anchor="end">0</text>
<line x1="364.1" y1="334.6" x2="367.1" y2="334.6" stroke="#000" stroke-width="1.3"/>
<text x="362.5" y="337.41" font-size="7.8" font-weight="bold" text-anchor="end">10</text>
<line x1="364.1" y1="299.5" x2="367.1" y2="299.5" stroke="#000" stroke-width="1.3"/>
<text x="362.5" y="302.31" font-size="7.8" font-weight="bold" text-anchor="end">20</text>
<line x1="364.1" y1="264.4" x2="367.1" y2="264.4" stroke="#000" stroke-width="1.3"/>
<text x="362.5" y="267.21" font-size="7.8" font-weight="bold" text-anchor="end">30</text>
<line x1="366.6" y1="369.7" x2="420" y2="369.7" stroke="#000" stroke-width="1.3"/>
<line x1="440.3" y1="370.35" x2="440.3" y2="264.4" stroke="#000" stroke-width="1.3"/>
<line x1="437.3" y1="369.7" x2="440.3" y2="369.7" stroke="#000" stroke-width="1.3"/>
<text x="435.7" y="372.51" font-size="7.8" font-weight="bold" text-anchor="end">0</text>
<line x1="437.3" y1="334.6" x2="440.3" y2="334.6" stroke="#000" stroke-width="1.3"/>
<text x="435.7" y="337.41" font-size="7.8" font-weight="bold" text-anchor="end">10</text>
<line x1="437.3" y1="299.5" x2="440.3" y2="299.5" stroke="#000" stroke-width="1.3"/>
<text x="435.7" y="302.31" font-size="7.8" font-weight="bold" text-anchor="end">20</text>
<line x1="437.3" y1="264.4" x2="440.3" y2="264.4" stroke="#000" stroke-width="1.3"/>
<text x="435.7" y="267.21" font-size="7.8" font-weight="bold" text-anchor="end">30</text>
<line x1="439.8" y1="369.7" x2="493.1" y2="369.7" stroke="#000" stroke-width="1.3"/>
<line x1="380" y1="369.7" x2="380" y2="372.7" stroke="#000" stroke-width="1.3"/>
<line x1="406.2" y1="369.7" x2="406.2" y2="372.7" stroke="#000" stroke-width="1.3"/>
<line x1="453.6" y1="369.7" x2="453.6" y2="372.7" stroke="#000" stroke-width="1.3"/>
<line x1="480.1" y1="369.7" x2="480.1" y2="372.7" stroke="#000" stroke-width="1.3"/>
<line x1="380" y1="359.7" x2="380" y2="361.98" stroke="#000" stroke-width="1.1"/>
<line x1="376" y1="359.7" x2="384" y2="359.7" stroke="#000" stroke-width="1.1"/>
<rect x="371.4" y="361.98" width="17.1" height="7.72" fill="#fff" stroke="#000" stroke-width="1.1"/>
<line x1="406.2" y1="284.76" x2="406.2" y2="304.76" stroke="#000" stroke-width="1.1"/>
<line x1="401.6" y1="284.76" x2="410.8" y2="284.76" stroke="#000" stroke-width="1.1"/>
<rect x="397.6" y="304.76" width="17.1" height="64.94" fill="#ff0000" stroke="#000" stroke-width="1.1"/>
<line x1="382.7" y1="273.2" x2="406.8" y2="273.2" stroke="#000" stroke-width="1.2"/>
<text x="394.9" y="273.2" font-size="8.96" font-weight="bold" text-anchor="middle" fill="#111">**</text>
<line x1="453.6" y1="349.52" x2="453.6" y2="353.2" stroke="#000" stroke-width="1.1"/>
<line x1="449.4" y1="349.52" x2="457.8" y2="349.52" stroke="#000" stroke-width="1.1"/>
<rect x="445.2" y="353.2" width="16.8" height="16.5" fill="#fff" stroke="#000" stroke-width="1.1"/>
<line x1="480.1" y1="281.25" x2="480.1" y2="295.99" stroke="#000" stroke-width="1.1"/>
<line x1="475.8" y1="281.25" x2="484.4" y2="281.25" stroke="#000" stroke-width="1.1"/>
<rect x="471.7" y="295.99" width="16.8" height="73.71" fill="#ff0000" stroke="#000" stroke-width="1.1"/>
<line x1="453.4" y1="272" x2="480" y2="272" stroke="#000" stroke-width="1.2"/>
<text x="467.1" y="272" font-size="8.96" font-weight="bold" text-anchor="middle" fill="#111">***</text>
<text x="346" y="314.6" font-size="9.2" font-weight="bold" text-anchor="middle" transform="rotate(-90 346 314.6)">BM pro-B cells (x10<tspan font-size="6" dy="-3">6</tspan><tspan dy="3">)</tspan></text>
<text x="505.2" y="233.1" font-size="15.6" font-weight="bold">g</text>
<line x1="525" y1="370.25" x2="525" y2="265.8" stroke="#000" stroke-width="1.3"/>
<line x1="522.4" y1="369.6" x2="525" y2="369.6" stroke="#000" stroke-width="1.3"/>
<text x="520.6" y="371.62" font-size="5.6" font-weight="bold" text-anchor="end">0</text>
<line x1="522.4" y1="348.84" x2="525" y2="348.84" stroke="#000" stroke-width="1.3"/>
<text x="520.6" y="350.86" font-size="5.6" font-weight="bold" text-anchor="end">1</text>
<line x1="522.4" y1="328.08" x2="525" y2="328.08" stroke="#000" stroke-width="1.3"/>
<text x="520.6" y="330.1" font-size="5.6" font-weight="bold" text-anchor="end">2</text>
<line x1="522.4" y1="307.32" x2="525" y2="307.32" stroke="#000" stroke-width="1.3"/>
<text x="520.6" y="309.34" font-size="5.6" font-weight="bold" text-anchor="end">3</text>
<line x1="522.4" y1="286.56" x2="525" y2="286.56" stroke="#000" stroke-width="1.3"/>
<text x="520.6" y="288.58" font-size="5.6" font-weight="bold" text-anchor="end">4</text>
<line x1="522.4" y1="265.8" x2="525" y2="265.8" stroke="#000" stroke-width="1.3"/>
<text x="520.6" y="267.82" font-size="5.6" font-weight="bold" text-anchor="end">5</text>
<line x1="524.5" y1="369.6" x2="652.6" y2="369.6" stroke="#000" stroke-width="1.3"/>
<line x1="525" y1="369.6" x2="525" y2="372.2" stroke="#000" stroke-width="1.3"/>
<text x="525" y="382" font-size="5.6" font-weight="bold" text-anchor="middle">0</text>
<line x1="556.9" y1="369.6" x2="556.9" y2="372.2" stroke="#000" stroke-width="1.3"/>
<text x="556.9" y="382" font-size="5.6" font-weight="bold" text-anchor="middle">20</text>
<line x1="588.8" y1="369.6" x2="588.8" y2="372.2" stroke="#000" stroke-width="1.3"/>
<text x="588.8" y="382" font-size="5.6" font-weight="bold" text-anchor="middle">40</text>
<line x1="620.7" y1="369.6" x2="620.7" y2="372.2" stroke="#000" stroke-width="1.3"/>
<text x="620.7" y="382" font-size="5.6" font-weight="bold" text-anchor="middle">60</text>
<line x1="652.6" y1="369.6" x2="652.6" y2="372.2" stroke="#000" stroke-width="1.3"/>
<text x="652.6" y="382" font-size="5.6" font-weight="bold" text-anchor="middle">80</text>
<text x="590" y="397.3" font-size="9.2" font-weight="bold" text-anchor="middle">BM pro-B cells (%)</text>
<text x="508.6" y="315.3" font-size="9.2" font-weight="bold" text-anchor="middle" transform="rotate(-90 508.6 315.3)">PB HSCs (x10<tspan font-size="6" dy="-3">3</tspan><tspan dy="3">/ml)</tspan></text>
<line x1="539.7" y1="369.6" x2="635.2" y2="319" stroke="#000" stroke-width="1.2"/>
<circle cx="533.4" cy="368.9" r="2.1" fill="#000"/>
<circle cx="536.4" cy="369.4" r="2.1" fill="#000"/>
<circle cx="545.8" cy="366.3" r="2.3" fill="#7f7f7f"/>
<circle cx="548.2" cy="368.7" r="2.3" fill="#7f7f7f"/>
<circle cx="546.5" cy="369" r="2.3" fill="#7f7f7f"/>
<circle cx="587" cy="336.7" r="2.3" fill="#a31aff"/>
<circle cx="607.4" cy="323.9" r="2.3" fill="#a31aff"/>
<circle cx="588.5" cy="352.9" r="2.3" fill="#a31aff"/>
<circle cx="605.3" cy="352.9" r="2.3" fill="#a31aff"/>
<circle cx="635.2" cy="273.5" r="2.3" fill="#ff6a14"/>
<circle cx="627.6" cy="297" r="2.3" fill="#ff6a14"/>
<circle cx="631.3" cy="326.9" r="2.3" fill="#ff6a14"/>
<circle cx="629.1" cy="345.8" r="2.3" fill="#ff6a14"/>
<circle cx="622.1" cy="307.7" r="2.3" fill="#ff0000"/>
<circle cx="610.5" cy="321.7" r="2.3" fill="#ff0000"/>
<circle cx="626.7" cy="349.8" r="2.3" fill="#ff0000"/>
<circle cx="631.9" cy="352.9" r="2.3" fill="#ff0000"/>
<circle cx="535.7" cy="245.7" r="2.6" fill="#000"/>
<text x="545.2" y="248.9" font-size="9" font-weight="bold">Control</text>
<circle cx="535.7" cy="257.9" r="2.6" fill="#7f7f7f"/>
<text x="545.2" y="261.1" font-size="9" font-weight="bold">0.1 mg/kg</text>
<circle cx="535.7" cy="270.4" r="2.6" fill="#a31aff"/>
<text x="545.2" y="273.6" font-size="9" font-weight="bold">0.5 mg/kg</text>
<circle cx="535.7" cy="283.3" r="2.6" fill="#ff6a14"/>
<text x="545.2" y="286.5" font-size="9" font-weight="bold">2.5 mg/kg</text>
<circle cx="535.7" cy="295.8" r="2.6" fill="#ff0000"/>
<text x="545.2" y="299" font-size="9" font-weight="bold">12.5 mg/kg</text>
<text x="648" y="260.6" font-size="8.8">r=0.7947</text>
<text x="648" y="272.2" font-size="8.8">p&lt;0.0001</text>
<text x="0" y="422.3" font-size="14.5" font-weight="bold">h</text>
<text x="93.2" y="430.8" font-size="10.5" text-anchor="middle">IL-7R<tspan font-size="7" dy="-4">+/+</tspan><tspan dy="4"> Mb1-Cre+</tspan></text>
<text x="237.6" y="430.8" font-size="10.5" text-anchor="middle">IL-7R<tspan font-size="7" dy="-4">flox/flox</tspan><tspan dy="4"> Mb1-Cre+</tspan></text>
<line x1="25.2" y1="437.4" x2="162.8" y2="437.4" stroke="#8c8c8c" stroke-width="1"/>
<line x1="168.7" y1="437.4" x2="306.5" y2="437.4" stroke="#8c8c8c" stroke-width="1"/>
<text x="57.6" y="450.6" font-size="8.9" text-anchor="middle">Control</text>
<text x="127.4" y="450.6" font-size="8.9" text-anchor="middle">rhIL-7-hyFc</text>
<text x="201" y="450.6" font-size="8.9" text-anchor="middle">Control</text>
<text x="272.6" y="450.6" font-size="8.9" text-anchor="middle">rhIL-7-hyFc</text>
<g filter="url(#bl)">
<path d="M28.44 518.53h1M67.64 507.39h1M31.39 484.74h1M70.76 492.47h1M60.51 497.95h1M47.7 522.23h1M31.97 502.63h1M74.42 514.26h1M55.52 473.89h1M57.41 483.88h1M75.58 512.42h1M46.99 519.62h1M31.11 477.33h1M70.3 503.85h1M55.5 470.01h1M61.85 485.69h1M64.96 502.75h1M44.72 519.88h1M64.06 511.71h1M71.1 508.29h1M66.62 485.41h1M60.01 489.24h1M53.86 471.9h1M65.62 497.69h1M61.9 495.54h1M28.62 501.81h1M34.09 476.52h1M57.44 492.53h1M35.56 519.63h1M39.1 516.92h1M57.94 497.96h1M71.93 503.89h1M50.13 515.22h1M63.48 501.46h1M34.65 477.94h1M55.38 483.26h1M60.24 492.68h1M62.06 498.25h1M59.4 517.82h1M66.36 482.78h1M57.83 474.61h1M37.59 513.92h1M30.94 512.96h1M72.54 496.88h1M68.5 499.96h1M56.83 480.52h1M66.28 508.4h1M65.13 516.73h1M68.51 510.48h1M29.38 468.43h1M64.49 519.81h1M27.29 474.71h1M31.69 503.68h1M33.04 489.74h1M63.82 514.46h1" stroke="#0000d5" stroke-width="1" stroke-opacity="0.5"/>
<path d="M38.3 479.36h1M58.49 488.76h1M59.02 514.62h1M68.73 495.75h1M51.43 484.43h1M34.53 474.14h1M52.87 481.94h1M36.91 496.85h1M51.96 484.59h1M39.5 472.22h1M61.67 504.74h1M39.19 477.93h1M56.36 501.35h1M58.67 506.69h1M37.64 487.59h1M61.27 505.84h1M46.63 513.63h1M38.77 484.35h1M38.46 474.42h1M40.39 485.48h1M54.32 500.66h1M52.86 483.71h1M62.99 509.1h1M59.21 503.57h1M35.96 506.36h1M47.43 513.81h1M55.06 504.5h1M52.64 512.76h1M56.92 488.27h1M62.02 511.32h1M37.67 469.04h1M45.04 465.88h1M52.78 486.14h1M53.9 498.88h1M36.92 499.86h1M53.33 478.23h1M39.25 493.12h1M49.73 513.18h1M44.59 513.95h1M50.6 468.81h1M37.53 510.54h1M37.5 493.31h1M54.79 492.95h1M60.63 504.23h1M39.57 510.6h1M36.99 477.24h1M55.56 512.31h1M58.14 508.38h1M46.51 515.39h1M57.54 519.09h1M38.59 511.19h1M52.04 474.1h1M52.93 487.7h1M46.56 521.43h1M62.57 509.55h1M60.05 505.45h1M38.04 486.3h1M53.95 512.67h1M58.84 505.51h1M53.8 497.54h1M53.91 486.5h1M38.12 496.96h1M37.38 490.29h1M62.15 513.78h1M51.46 483.52h1M37.72 487.85h1M56 513.1h1M55.76 503.85h1M59.41 503.24h1M51.92 472.35h1M53.24 477.1h1M42.96 513.16h1M53.18 494.35h1M53.75 496.2h1M43.73 514.25h1M62 508.4h1M39.37 473.44h1M63.38 509.02h1M37.23 494.99h1M61.03 506.23h1M38.52 490.34h1M55.99 504.91h1M57.32 510.13h1M59.72 508.78h1M59.7 507.03h1M53.3 495.43h1M57.76 503.27h1M39.04 471.96h1M45.8 522.18h1M38.19 497.82h1M57.52 500.24h1M54.68 503.12h1M47.6 466.93h1M54.32 499.6h1M50.2 467.57h1M67.93 495.3h1M37.22 504.75h1M39.48 486.91h1M51.53 512.36h1M67.38 503.98h1M54.72 510.92h1M57.89 486.07h1M50.7 466.3h1M36.18 505.32h1M54.19 496.71h1M55.84 478.59h1M55.43 504.7h1M35.83 504.13h1M63.7 506.61h1M55.18 478.11h1M52.52 485.48h1M56.36 505.93h1M57.34 485.94h1M51.86 476.71h1M55.67 510.79h1M44.04 515.66h1M60.72 508.29h1M58.82 512.81h1M39.74 511.69h1M57.05 514h1M38.72 477.69h1M46.6 514.45h1M35.43 508.12h1M62.6 507.29h1M60.33 508.54h1M34.97 472.04h1M58.64 505.9h1M55.05 495.68h1M37.88 499.95h1M52.62 487.67h1M56.92 496.33h1M52.91 493.67h1M47.3 467.27h1M38.67 492.07h1M47.46 513.94h1M45.81 466.33h1M55.35 500.84h1M58.76 520.33h1M55.7 512.49h1M34.6 502.72h1M44.17 467.13h1M60.99 504.66h1M52.17 480.57h1M37.28 496.62h1M56.27 501.62h1M55.66 507.08h1M41.08 467.42h1M56.03 504.27h1M35.49 503.11h1M39.54 473.8h1M55.17 512.89h1M38.3 497.76h1M51.09 474.8h1M58.44 513.51h1M60.58 508.03h1M39.45 476.54h1M50.81 467.44h1M45.64 515.23h1M56.75 490.78h1M40.68 467.76h1M37.41 500.4h1M66.1 505.49h1M55.42 512.45h1M64.66 509.43h1M44.82 467.09h1M55.65 497.82h1M60.2 507.43h1M54.4 478.11h1M58.93 508.76h1M53.12 490.06h1M39.8 468.77h1M60.37 504.46h1M54.23 501.74h1M58.9 512.84h1M35.35 507.49h1M37.86 477.83h1M52.11 512.47h1M36.23 509.03h1M55.12 498.68h1M36.36 490.84h1M53.03 480.18h1M48.28 465.95h1M52.98 494.4h1M60.13 514.17h1M37.85 486.72h1M50.53 486.19h1M52.22 487.23h1M60.76 506.59h1M57.15 512.6h1M35.43 493.36h1M52.01 475.83h1M55.82 504.69h1M35.48 508.62h1M38.38 487.94h1M56.87 504.75h1M38.37 493.98h1M45.63 513.1h1M33.72 474.19h1M50.79 474.06h1M35.46 501.53h1M54.6 513.38h1M39.48 474.46h1M51.42 484.4h1M35.65 502.15h1M36.96 498.19h1M52.53 481.25h1M39.81 484.81h1M38.1 499.17h1M61.38 503.98h1M58.43 504.41h1M60.34 514h1M44.98 513.79h1M43.35 512.36h1M50.45 468.84h1M38.74 472.42h1M36.09 490.05h1M55.43 510.74h1M37.26 480.14h1M58.83 509.71h1M59.26 493.17h1M56.14 511.35h1M56.41 489.91h1M40.93 511.39h1M59.57 508.89h1M52.95 487.47h1M53.46 500.76h1M53.11 495.42h1M50.94 485.35h1M37.23 503.23h1M42.19 467.22h1M53.68 490.59h1M41.95 513.92h1M45.45 466.41h1M56.44 504.05h1M39.03 470.37h1M50.21 467.53h1M61.26 503.8h1M59.73 509.03h1M57.72 512.98h1M42.38 512.4h1M59.21 496.45h1M46.13 467.61h1M47.03 515.54h1M49.59 467.2h1M52.89 481.73h1M40.81 468.5h1M56.32 501.43h1M52.31 474.29h1M54.04 498.36h1M52.19 480.21h1M51.29 472.6h1M42.36 467.94h1M54.48 512.97h1M52.18 482.89h1M38.22 478.95h1M55.63 504.29h1M54.88 488.1h1M57.15 507.85h1M35.79 471.92h1M53.12 486.46h1M52.81 485.87h1M57.41 509.65h1M54.52 503.14h1M62.26 509.14h1M38.26 487.4h1M55.73 495.79h1M55.9 512.98h1M37.48 491.33h1M53.89 502.13h1M51.17 471.31h1M57.63 487.54h1M56.69 486.92h1M57.97 502.69h1M57.88 510.39h1M38.28 470.74h1M35.99 493.36h1M39.14 487.69h1M40.22 466.52h1M57.85 508.37h1M59.85 502.32h1M51.55 482.56h1M37.81 478.81h1M38.61 489.56h1M53.25 482.2h1M37.89 500.13h1M60.16 508.8h1M62.67 508.53h1M58.61 519.26h1M36.56 500.47h1M52.79 492.76h1M61.57 513.42h1M39.03 469.8h1M37.3 501.14h1M56.96 487.2h1M59.04 505.43h1M61.35 504.74h1M47.11 514.11h1M58.46 510.82h1M49.75 513.18h1M38.34 493.1h1M38.51 481.28h1M67.31 505.04h1M51.5 471.96h1M53.44 490.33h1M58.44 495.51h1" stroke="#000cff" stroke-width="1" stroke-opacity="0.65"/>
<path d="M52.84 504.35h1M49.75 491.02h1M49.93 473.5h1M50.78 491.24h1M50.79 498.2h1M40.01 498.21h1M49.15 469.32h1M42.98 483.15h1M50.3 473.93h1M39.25 496.62h1M45.6 482.51h1M47.68 483.73h1M56.54 508.86h1M40.51 498.97h1M49.86 482.7h1M37.85 506.76h1M43.22 494.91h1M51.46 496.05h1M42.56 481.66h1M45.66 470.48h1M50.26 471.57h1M47.77 498.62h1M50.88 480.54h1M39.88 495.57h1M47.04 469.04h1M51.39 494.58h1M41.07 496.99h1M48.29 492.46h1M50.62 471.75h1M46.1 511.75h1M48.11 498.91h1M49.27 492.74h1M42.77 486.14h1M54.49 507.89h1M47.89 483.56h1M45.81 491.58h1M42.83 497.66h1M40.95 496.7h1M51.02 477.66h1M40.55 495.06h1M44.51 479.98h1M56.66 509.56h1M49.91 471.12h1M39.38 482.44h1M39.09 490.9h1M51.05 484.61h1M56.29 509.04h1M56.91 508.15h1M50.93 487.72h1M40.58 490.22h1M49.41 485.38h1M49.6 484.19h1M40.82 483.15h1M38.99 500.89h1M40.83 499.4h1M45.05 474.25h1M48.82 472.69h1M46.65 473.55h1M45.52 484.23h1M41.29 471.21h1M46.06 469.47h1M39.66 502.24h1M48.98 495.63h1M42.15 496.81h1M39.48 479.71h1M52.17 493.16h1M45.48 474.54h1M40.69 476.18h1M44.14 494.47h1M48.49 482.41h1M51.11 476.38h1M51.9 502.14h1M43.18 481.72h1M47.81 498.94h1M49.74 512.03h1M41.78 482.8h1M43.84 468.32h1M52.38 503.5h1M39.74 501.12h1M51.17 479.79h1M48.25 498.37h1M45.71 482.26h1M50.35 492.93h1M46.78 492.61h1M49.03 511.55h1M49.22 468.38h1M48.99 488.32h1M49.42 496.25h1M40.58 499.49h1M53.37 498.09h1M40.29 494.18h1M52 499.28h1M57.62 508.55h1M41.57 511.04h1M49.88 494.01h1M41.97 476.88h1M44.12 493.5h1M38.8 503.07h1M41.91 487.11h1M54.88 509.96h1M41.04 489.53h1M41.06 471.64h1M54.26 508.25h1M41.31 497.2h1M49.61 512.24h1M50.27 483.96h1M40.09 510.52h1M43.99 484.83h1M46.35 483.65h1M52.6 491.65h1M46.82 473.09h1M41.91 469.13h1M40.18 480.22h1M48.44 494.25h1M40.3 475.77h1M44.69 488.75h1M45.38 494.11h1M37.78 505.84h1M46.31 499.02h1M40.48 484.61h1M39.18 501.93h1M50.08 472.67h1M40.31 488.82h1M51.58 489.64h1M50.3 476.92h1M44.64 481.1h1M39.55 499.04h1M54.53 508.83h1M40.98 496.6h1M38.57 481.74h1M51.97 489.28h1M49.83 487.26h1M48.58 495.92h1M45.16 471.58h1M39.92 492.96h1M41.37 487.99h1M52.38 498.23h1M49.71 475.11h1M48.05 511.65h1M47.67 474.57h1M39.85 483.48h1M47.49 471.73h1M44.77 475.3h1M38.77 504.5h1M41.37 476.9h1M43.55 484.62h1M45.17 489.75h1M40.04 494.64h1M37.73 503.14h1M40.24 479.55h1M43.91 489.56h1M44.16 488.53h1M52.58 510.94h1M51.25 493.78h1M47.16 475.37h1M45.41 470.36h1M49.16 470.4h1M52.66 491.66h1M48.64 470.26h1M40.47 469.27h1M51.83 498.69h1M50.84 491.82h1M48.91 472.21h1M42.05 485.04h1M43.08 475.85h1M39.41 502.54h1M44.11 493.76h1M56 508.72h1M44.72 481.77h1M51.87 500.12h1M44.7 483.8h1M49.56 473.15h1M48.15 468.71h1M48.31 493.45h1M48.55 498.62h1M54.9 509.22h1M43.3 470.81h1M48.29 482.51h1M38.68 503.44h1M52.35 501.85h1M49.26 495.11h1M51.11 488.87h1M43.49 483.7h1M51.1 496.8h1M50.68 490.84h1M41.55 472.7h1M49.09 471.87h1M38.47 479.48h1M48 468.65h1M47.81 492.82h1M42.22 482.24h1M45.82 468.99h1M45.81 482.72h1M54.41 506.23h1M40.34 494.23h1M49.05 512.86h1M45.4 481.34h1M51.12 511.06h1M51.89 510.75h1M50.19 476.63h1M44.74 470.28h1M42.54 489.15h1M41.11 474.99h1M47.7 485.01h1M53.41 509.2h1M50.78 488.4h1M49.65 486.7h1M50.86 496.75h1M40.97 498.51h1M39.64 502.48h1M42.36 475.77h1M44.6 485.79h1M45.07 480.37h1M45.06 481.02h1M50.96 483.1h1M46 482.63h1M40.9 496.74h1M49.47 484.24h1M41.45 469.02h1M51.08 511.3h1M42.38 485.87h1M39.94 484.53h1M43.61 484.11h1M45.1 476.07h1M38.19 503.88h1M40.5 477.37h1M43.24 484.71h1M39.17 503.29h1M39.63 490.01h1M51.85 494.34h1M46.33 468.68h1M44.53 480.89h1M43.78 494.74h1M41.86 474.9h1M43.86 484.01h1M52.39 491.21h1M37.61 504.17h1M46.68 473.39h1M49.09 475.79h1M51.71 494.16h1M54.82 510.52h1M50.56 492.06h1M52.6 494.15h1M43.53 481.55h1M44.27 492.35h1M46.04 495.83h1M41.96 474.19h1M50.01 473.41h1M40.35 487.88h1M45.94 493.41h1M40.68 475.27h1M45.79 471.25h1M51.7 478.08h1M42.58 489.16h1M43.87 485.71h1M48.52 482.24h1M40.35 491.49h1M47.95 483.93h1M40.53 495.87h1M43.55 490.01h1M51.78 492.2h1M40.93 472.54h1M40.93 476.25h1M38.85 502.85h1M38.83 481.78h1M47.5 473.99h1M44.47 485.56h1M42.12 487.5h1M39.25 497.69h1M50.16 482.32h1M47.5 512.64h1M55.43 509.76h1M49.69 471.69h1M42.92 498.31h1M39.55 476.42h1M47.36 492.58h1M40.77 484.66h1M45.28 495.22h1M49.14 483.96h1M44.95 492.5h1M39.85 498.74h1M49.66 482.03h1M51.88 499.62h1M44.79 493.73h1M40.03 483.31h1M49.69 483.8h1M39.87 472.07h1M41.66 489.79h1M51.22 481.28h1M40.37 478.36h1M51.26 487.94h1M40.76 474.91h1M41.8 475.69h1M51.05 476.11h1M40.12 479.56h1M43.92 495.6h1M46.1 474.53h1M39.14 480.44h1M50.82 477.88h1M41.71 510.7h1M49.43 488.11h1M46.74 475.46h1M52.54 510.6h1M45.72 493.66h1M45.54 474.63h1M41.33 470.62h1M40.08 471.31h1M39 480.89h1M46.59 483.68h1M45.48 490.12h1M53.82 506.4h1M49.02 495.75h1M41.72 496.53h1M37.44 506.56h1M47.62 468.84h1M49.59 487.46h1M53.59 509.93h1M50.32 512.2h1M46.75 473.88h1M43.5 488.96h1M50.1 473.76h1M42.33 488.08h1M45.44 494.26h1M43.44 474.41h1M44.59 469.1h1M51.11 491.13h1M49.94 470.46h1M46.8 496.25h1M40.08 480.16h1M40.93 472.81h1M44.5 482.18h1M48.78 470.04h1M45.74 471.2h1M45.2 483.56h1M45.23 474.2h1M43.23 488.03h1M49.64 468.11h1M41.98 483.43h1M56.15 508.58h1M42.22 485.59h1M38.97 499.53h1M41.42 473.18h1M49.42 512.04h1M47.27 498.5h1M37.45 505.65h1M44.31 484.44h1M38.96 490.81h1M43.48 469.66h1M43.18 484.16h1M47.75 493.38h1M45.74 490.76h1M40.36 492.86h1M40.62 491.96h1M50.73 497.54h1M42.69 470.92h1M49.61 474.6h1M41.05 488.06h1M43.85 489.11h1M41.92 470.69h1M42.17 468.65h1M47.74 499.42h1M47.99 472.94h1M48.74 471.05h1M48.75 512.67h1M48.54 474.98h1M40.25 488.34h1M50.09 483.97h1M38.9 490.61h1M39.43 488.62h1M44.75 493.01h1M55.31 508.63h1M48.21 472.74h1M50.13 471.18h1M38.6 501.31h1M48.19 495.06h1M40.44 475.21h1M39.87 491.89h1M48.74 482.21h1M41.24 478.81h1M41.29 486.87h1M43.96 482.49h1M50.91 488.56h1M40.74 496.26h1M51.76 481.9h1M45.01 487.99h1M49.47 486.22h1M40.2 471.13h1M40.16 501.97h1M41.09 476.88h1M52.01 501.16h1M52.92 497.14h1M49.41 480.87h1M49.59 491.97h1M37.1 507.31h1M40.56 488.96h1M48.95 468.93h1M44.43 474.63h1M48.15 483.79h1M48.83 474.72h1M40.45 491.98h1M41.12 493.9h1M40.43 489.53h1M41.09 484.13h1M43.15 511.82h1M41.62 478.48h1M48.14 482.94h1M43.2 476.49h1M50.88 496.73h1M49.12 469.64h1M44.02 479.26h1M48.7 472.17h1M48.34 486.79h1M41.98 495.03h1M50.34 476.95h1M52.28 500.15h1M43.28 470.42h1M43.53 511.33h1M53.94 506.3h1M48.66 493.25h1M40.83 470.93h1M49.51 492.04h1M41.84 470.77h1M52.25 494.87h1M44.2 486.42h1M50.98 495.25h1M44.27 467.97h1M44.31 474.69h1M45.1 488.1h1M51.05 479.63h1M49.53 487.2h1M53.54 509.27h1M49.62 470.33h1M41.23 475.23h1M46.53 511.75h1M50.79 511.26h1M43.02 480.99h1M41.75 499.09h1M52.27 502.82h1M44.49 492.83h1M47.52 473.94h1M49.19 475.92h1M44.22 468.69h1M44.49 481.32h1M42.31 497.87h1M49.15 480.56h1M39.43 482.94h1M52.04 477.67h1M38.94 479.22h1M41.11 494.37h1M42.52 482.55h1M43.65 468.45h1M51.34 501.7h1M41.39 469.48h1M47.72 485.16h1M45.34 474.07h1M49.23 480.57h1M49.44 511.24h1M45.33 493.43h1M43.16 495.84h1M45.84 484.46h1M46.31 483.6h1M40.52 480.3h1M49.61 481.3h1M51.96 478.18h1M39.91 490.83h1M41.34 479.32h1M38.57 502.37h1M52.78 490.42h1M39.49 496.61h1M47.65 499.25h1M41.73 498.67h1M48.37 495.33h1M47.45 497.23h1M44.25 474.35h1M40.08 478.63h1M47.8 484.09h1M51.04 488.96h1M39.86 482.1h1M53.15 497.44h1M39.83 501.62h1M53.01 498.03h1M37.84 508.45h1M41.65 497.67h1M45.25 468.4h1M52.68 501.33h1M51.94 496.42h1M39.56 482.53h1M48.17 494.01h1M41.52 499.83h1M40.5 469.59h1M40.13 495.47h1M44.32 470.58h1M40.49 502.1h1M51.76 499.86h1M41.8 498.84h1M42.32 469.42h1M39.78 502.72h1M48.44 474.56h1M42.16 488.06h1M53.51 503.2h1M52.96 491.08h1M40.77 502.01h1M51.84 489.26h1M49.51 487.08h1M44.69 495.3h1M47.29 472.67h1M49.09 468.68h1M52.11 498.04h1M53.76 502.58h1M50.64 471.74h1M47.78 495.97h1M51.28 489.42h1M41.87 474.92h1M48.23 496.72h1M39.73 487.79h1M45.14 475.54h1M48.85 493.44h1M39.85 471.23h1M53.39 498.68h1M44.28 483.51h1M49.85 491.04h1M46.07 468.68h1M47.78 475.03h1M50.96 494.43h1M50.15 512.68h1M39.93 496.89h1M42.8 473.73h1M45.38 474.69h1M50.92 489.94h1M42.84 496.15h1M37.94 507.94h1M41.6 469.69h1M41.23 494.38h1M42.65 495.39h1M56.99 509.18h1M40.12 500.48h1M39.75 501.57h1M44.91 495.44h1M42.05 482.87h1M46.42 493.05h1M51 478.68h1M45.33 496.51h1M49.41 481.07h1M41.92 484.47h1M44.36 511.96h1M40.8 469.1h1M41.14 510.97h1M40.07 492.37h1M39.59 496.32h1M43.59 476.09h1M52.48 510.17h1M48.69 487.93h1M44.28 494.66h1M44.2 489.55h1M49.92 480.34h1M48.59 468.67h1M43.45 468.3h1M50.11 492.49h1M48.81 485.62h1M50.64 499.17h1M42.14 475.99h1M41.55 500.24h1M50.44 493.8h1M45.63 489.05h1M43.94 468.41h1M41.1 477.23h1M45.7 482.5h1M42.33 480.37h1M37.6 504.21h1M51.24 497.83h1M40.36 476.79h1M37.01 506.33h1M46.49 498.82h1M52.15 489.04h1M43.83 484h1M42.17 484.81h1M42.19 486.42h1M40.06 499.06h1M41.94 474.12h1M43.07 473.66h1M39.85 481.91h1M51.21 494.13h1M41.14 498.51h1M48.81 495.91h1M53.16 503.5h1M54.45 507.51h1M46.71 495.79h1M39.26 478.96h1M44.61 488.81h1M38.87 500.52h1M46.57 484.05h1M44.71 468.87h1M44.72 469.2h1M45.47 472.83h1M53.33 502.53h1M47.81 472.46h1M43.73 471.22h1M49.22 495.71h1M37.25 508.14h1M43.61 471.14h1M41.9 498.63h1M44.45 511.68h1M44.77 489.31h1M39 503.65h1M42.8 496.64h1M45.85 475.74h1M50.73 477.66h1M52.78 491.45h1M50.88 497.01h1M42.38 480.03h1M48.02 473.28h1M50.56 495.76h1M45.26 476.46h1M44.46 475.77h1M46.15 495.01h1M40.28 475.47h1M41.66 495.91h1M40.77 489.46h1M51.37 511.99h1M40.05 496.6h1M48.25 474.02h1M41.59 497.71h1M46.43 489.09h1M49.21 484.88h1M42.84 470.39h1M47.88 497.91h1M51.61 500.24h1M45.52 490.37h1M41.22 470.92h1M44.39 470.05h1M45.17 495.17h1M40.97 498.95h1M50.99 472.42h1M51.44 489.49h1M48.68 480.68h1M45.33 482.05h1M45.56 495.42h1M49.34 512.74h1M47.17 468.45h1M49.1 473.12h1M48.73 493.74h1M49.87 476.13h1M43.56 511.85h1M42.98 499.29h1M41.98 485.21h1M49.2 488.69h1M48.06 486.46h1M40.91 510.26h1M54.81 508.58h1M51.92 478.6h1M45.88 469.43h1M41.12 474.9h1M42.62 480.26h1M43.1 483.15h1M54.9 506.97h1M52.46 503.21h1M43 495.99h1M53.72 510.25h1M41.92 496.02h1M42.1 473.61h1M41.21 473.32h1M41.01 487.66h1M39.75 479.3h1M41.37 483.51h1M42.59 477.03h1M40.54 483.48h1M51.56 510.42h1M51.14 499.25h1M39.95 488.8h1M50.12 480.04h1M42.18 487.99h1M40.19 475.44h1M42.16 482.19h1M43.01 473.92h1M39.37 489.58h1M45.15 493.01h1M46.35 469.03h1M51.68 502.22h1M52.1 497.68h1M46.2 468.83h1M38.47 508.71h1M41.33 473.52h1M42.85 496.81h1M40.64 473.65h1M51.17 500.48h1M50.47 488.5h1M41.36 498.64h1M51.28 511.51h1M42.34 476.31h1M42.9 484.39h1M50.61 491.56h1M47.89 512.63h1M43.71 469.55h1M42.54 480.36h1M51.73 491.08h1M51.22 480.48h1M51.41 498.36h1M48.01 473.21h1M50.49 496.43h1M43.87 495.63h1M41.93 495.69h1M49.72 483.07h1M40.3 478.87h1M39.61 483.6h1M54.97 507.2h1M43.54 468.54h1M39.49 474.84h1M42.7 489.74h1M45.2 492.51h1M48.4 473.49h1M47.85 468.65h1M43.05 474.41h1M51.7 481.93h1M39.11 497.36h1M44.18 476.3h1M47.83 495.9h1M41.04 475.89h1M39.05 482.2h1M41.27 500.8h1M41.94 481.27h1M42.06 487.66h1M44.65 476.07h1M45.79 490.11h1M40.32 488.83h1M38.36 505.18h1M39.71 483.8h1M43.46 476.13h1M39.65 499.6h1" stroke="#0049ff" stroke-width="1" stroke-opacity="0.84"/>
<path d="M46.37 497.11h1M41.62 501.78h1M42.43 491.28h1M41.7 503.36h1M40.09 504.8h1M42.07 500.21h1M46.46 496.35h1M41.63 501.65h1M42.21 479.28h1M48.53 478.2h1M46.87 511.76h1M48.64 491.34h1M51.74 503.25h1M42.04 478.11h1M41.59 502.18h1M46.82 487.26h1M42.17 479.34h1M46.58 487.59h1M41.82 490.98h1M42.95 502.99h1M47.36 488.07h1M48.83 489.68h1M47.05 491.61h1M44.14 498.09h1M49.65 502.3h1M42.01 493.49h1M48.9 475.95h1M52.48 504.2h1M50.32 510.69h1M46.96 470.82h1M47.55 481.3h1M45.96 476.98h1M48.28 476.12h1M43.35 471.73h1M50.26 509.72h1M44.52 471.85h1M45.61 497.61h1M44.87 497.24h1M41.5 509.6h1M44.98 477.6h1M42.5 503.53h1M40.41 482.18h1M44.47 499.67h1M42.78 503.51h1M44.32 473.54h1M49.72 500.28h1M42.05 491.49h1M48.2 477.24h1M46.07 497.53h1M52.93 505.87h1M43.02 478.82h1M48.62 478.81h1M44.06 476.83h1M48.28 496.42h1M47.3 484.59h1M46.73 483.12h1M41.61 500.54h1M47.43 501.24h1M46.67 493.78h1M42.51 478.53h1M45.08 498.05h1M51.78 503.27h1M47.67 494.03h1M51 508.09h1M51.16 508.75h1M46.66 491.21h1M42.4 490.28h1M41.53 509.39h1M51.71 505.06h1M43.96 472.87h1M53.54 508.89h1M50.38 479.37h1M41.27 480.63h1M50.63 479.43h1M48.39 501.69h1M39.52 506.15h1M47.56 469.96h1M46.94 511.43h1M45.87 510.71h1M41.7 481.95h1M41.47 481.76h1M48.86 489.99h1M47.14 487.31h1M44.3 491.4h1M52.9 505.5h1M47.33 476.03h1M43.32 500h1M47.58 476.03h1M44.84 490.67h1M49 510.1h1M47.31 488.92h1M42.17 494.39h1M43.95 500.47h1M42.45 510.23h1M48.4 499.82h1M52.11 505.45h1M47.3 487.08h1M52.97 505.05h1M40.91 503.98h1M52.75 505.43h1M44.52 499.5h1M49.97 496.97h1M44.11 473.42h1M50.13 489.38h1M50.83 509.7h1M46.22 501.24h1M53.26 508.23h1M42.25 494.45h1M53.17 508.96h1M44.23 491.57h1M45.2 472.37h1M48.75 489.84h1M47.76 486.23h1M42.18 501.56h1M51.67 505.36h1M47.28 491.41h1M48.56 501.54h1M50.63 505.2h1M46.23 482.2h1M47.63 487.96h1M41.7 471.28h1M42.72 500.74h1M40.99 490.19h1M43.98 478.24h1M44.76 497.58h1M44.09 472.07h1M50.68 506h1M41.5 482.23h1M42.11 501.79h1M45.64 499.85h1M41.85 491.72h1M45.69 485.57h1M52.47 505.33h1M46.96 494.3h1M50.61 501.3h1M51.02 508.07h1M50.87 508.97h1M49.39 476.62h1M51.77 502.88h1M40.65 481.41h1M48.94 489.47h1M46.62 494.23h1M41.92 503.52h1M46.19 498.63h1M49.42 501h1M43.19 510.39h1M46.88 500.98h1M42.54 492.56h1M43.25 498.27h1M45.8 497.35h1M47.53 495.03h1M47.51 501.43h1M50.03 503.26h1M47.2 487.21h1M47.37 488.61h1M43.59 494.19h1M53.72 507.47h1M50.87 502.84h1M43.89 487.53h1M49.86 498.28h1M39.09 508.26h1M48.19 478.16h1M53.69 508.63h1M50.07 509.49h1M40.97 490.49h1M48.97 489.45h1M44.91 499.56h1M46.59 492.22h1M45.11 472.73h1M47.2 491.17h1M43.15 472.99h1M45.45 499.79h1M49.04 500.55h1M42.26 501.74h1M43.52 503.2h1M50.01 500.83h1M44.1 497.3h1M42.65 478.15h1M46.84 477.6h1M47.77 489.17h1M47.42 491.03h1M47.32 501.51h1M41.67 502.19h1M50.29 489.24h1M50.65 509.59h1M46.3 478.36h1M50.41 502.71h1M47.55 501.34h1M50.78 507.55h1M46.73 471.98h1M51.63 505.35h1M42.79 510.5h1M44.49 478.52h1M42.56 478.46h1M39.74 505.49h1M43.6 510.62h1M49.82 479.89h1M47.33 510.78h1M41.98 471.06h1M44.08 497.85h1M48.95 500.94h1M49.02 476.55h1M47.16 477.95h1M50.58 502.42h1M49.29 490.54h1M43.56 503.34h1M53.78 508.04h1M48.08 481.79h1M41.62 491.8h1M45.03 476.69h1M42.61 487.4h1M43.54 477.05h1M49.49 497.11h1M49.02 476.03h1M41.71 491.17h1M44.41 497.17h1M38.57 508.15h1M44.74 490.7h1M47.72 500.44h1M47.84 494.58h1M43.73 477.86h1M47.54 480.88h1M45.21 497.89h1M46.9 494.55h1M48.63 478.59h1M49.89 501.13h1M47.27 492.34h1M50.64 477.64h1M50.96 504.74h1M46.81 501.01h1M46.83 488.23h1M52.22 507.86h1M46.88 480.95h1M44.5 499.4h1M42.07 509.47h1M39.52 508.55h1M42.93 487.79h1M47.36 481.95h1M47.39 476.26h1M51.79 502.99h1M45.48 478.94h1M47.06 475.93h1M50.15 489.33h1M43.85 498.16h1M45.01 487.12h1M48.84 510.71h1M52.2 508.71h1M47.09 479.32h1M49.56 510.55h1M46.62 480.45h1M40.69 504.51h1M48.94 497.35h1M48.75 497.36h1M44.64 478.12h1M53.17 508.04h1M48.1 490.14h1M46.33 478.74h1M42.39 479.04h1M47.69 491.07h1M40.92 481.55h1M43.78 497.77h1M49.91 501.32h1M42.49 490.57h1M49.53 497.99h1M50.52 500.06h1M38.36 506.9h1M41.86 478.71h1M49.53 501.12h1M42.69 491.76h1M41.91 490.47h1M46.55 469.34h1M46.74 494.53h1M42.8 500.57h1M46.24 510.91h1M39.32 504.59h1M51.97 503.93h1M40.28 482.27h1M47.51 511.65h1M48.28 490.93h1M47.1 510.6h1M42.8 477.52h1M41.25 503.65h1M45.59 487.42h1M49.27 490.9h1M42.41 492.02h1M40.21 509.22h1M46.52 497.72h1M42.24 472.76h1M47.08 475.51h1M41.2 490.3h1M38.79 505.09h1M48.27 470.13h1M49.62 501.97h1M52 502.96h1M45.86 501.93h1M51.95 508.82h1M42.04 501.03h1M43.24 510.11h1M40.44 482.99h1M49.69 502.41h1M44.19 472.6h1M47.32 485.86h1M41.5 491.43h1M43.56 493.74h1M45.99 478.97h1M46.43 471.36h1M46.84 500.53h1M49.27 497.16h1M46.95 497.18h1M51.59 505.26h1M46.02 487.45h1M49.57 499.45h1M46.42 477.95h1M50.28 497.6h1M45.66 477.69h1M40.2 504.99h1M45.25 479.25h1M39.23 505.34h1M46.55 498.48h1M45.48 477.23h1M48.46 490.98h1M42.11 472.23h1M49.54 499.19h1M47.58 486.95h1M48.19 489.66h1M42.36 494.6h1M46.28 479.89h1M46.55 491.88h1M40.36 504.75h1M47.5 481.32h1M43.87 478.72h1M47.42 470.75h1M42.83 492.57h1M44.35 498.8h1M45.93 485.88h1M46.05 477.92h1M48.97 478.49h1M45.59 472.24h1M50.74 503.85h1M49.37 477.28h1M48.51 491.62h1M42.74 492.77h1M42.55 492.87h1M39.4 504.63h1M47.55 480.16h1M46.7 485.8h1M43.94 510.94h1M47.01 484.5h1M42.59 493.23h1M40.78 481.66h1M47.42 481.75h1M48.44 489.89h1M47.13 470.71h1M44.42 502.5h1M51.3 504.56h1M47.36 476.45h1M49.2 500.08h1M50.77 489.48h1M44.04 492.07h1M39.14 508.95h1M49.23 479.51h1M50.87 505.99h1M45.51 487.02h1M46.64 470.63h1M46.68 490.86h1M48 510.34h1M52.63 505.06h1M47.74 480.58h1M47.48 491h1M45.5 479.08h1M47.28 485.57h1M42.8 487.05h1M45.13 478.85h1M44.43 500.79h1M42.31 490.97h1M49.01 498.84h1M47.03 511.46h1M48.75 501.3h1M41.84 503.47h1M40.12 504.61h1M48.44 478.05h1M44 490.18h1M41.26 480.71h1M50.74 506.83h1M46.8 500.82h1M45.59 498.18h1M41.72 479.86h1M53.61 506.83h1M50.25 478.82h1M45.47 479.61h1M44.04 471.45h1M53.21 506.62h1M50.06 509.52h1M41.87 509.83h1M42.19 502.16h1M49.14 479.72h1M47.47 478.58h1M47.25 488.21h1M43.87 502.62h1M46.44 491.6h1M42.07 501.69h1M42.38 490.94h1M46.41 472.18h1M45.88 486.18h1M38.63 505.17h1M53.23 505.77h1M43.53 487.33h1M48.81 478.71h1M50.96 478.43h1M44.11 472.9h1M49.11 510.43h1M38.42 507.32h1M41.89 472.75h1M46.96 494.37h1M43.62 477.61h1M46.66 495.5h1M46.07 477.65h1M46.99 493.43h1M53.26 507.16h1M44.98 491.08h1M41.38 491.28h1M42.52 493.62h1M46.47 469.84h1M45.09 472.05h1M49.18 478.28h1M43.48 498.37h1M41.36 492.11h1M42.76 493.8h1M47.98 477.53h1M42.62 504h1M47.13 482.44h1M43.14 472.52h1M40.88 490.99h1M42.45 494.55h1M42.72 500.51h1M48.95 489.8h1M48.45 490.56h1M45.92 498.64h1M48.25 470.01h1M49.01 509.95h1M44.69 502.38h1M53.08 509.1h1M52.69 505.23h1M45.71 496.83h1M41.98 492.95h1M51.18 508.01h1M45.93 487.11h1M43.03 501.31h1M45.86 481.16h1M47.1 484.28h1M43.43 510.51h1M41.74 502.58h1M45.01 477.87h1M53.18 509.16h1M48.21 477.35h1M49.81 500.78h1M39.53 505.18h1M51.33 510.05h1M39.56 505.7h1M48.09 479.41h1M47.72 494.57h1M46.12 477.57h1M44.85 500.25h1M49.34 478.57h1M49.56 478.49h1M50.71 508.33h1M46.61 470.31h1M51.4 508.57h1M43.54 502.05h1M43.79 490.22h1M43.19 487.07h1M49.3 510.86h1M47.67 469.92h1M44.13 486.74h1M43.51 477.99h1M43.36 486.57h1M46.76 495.58h1M38.75 506.22h1M48.19 481.14h1M49.61 498.56h1M46.99 485.44h1M50.07 502.18h1M47.24 501.79h1M46.56 501.64h1M49.25 477.01h1M41.16 504.17h1M40.47 481.46h1M52.84 505.76h1M46.82 491.1h1M51.68 507.18h1M43.07 493.84h1M44.63 491.35h1M51.69 506.88h1M40.8 481.07h1M52.48 504.43h1M50.93 489.32h1M46.52 485.9h1M47.36 475.94h1M48.76 491.08h1M42.44 492.06h1M50.03 478.54h1M43.8 501.05h1M47.39 489.39h1M38.5 507.98h1M41.74 493.5h1M42.24 510.32h1M44.53 499.29h1M49.4 501.13h1M46.2 477.79h1M45.88 502.09h1M48.02 482.38h1M47.38 511.33h1M45.81 501.78h1M51.4 506.72h1M52.18 509.62h1M51.76 510.17h1M44.43 490.79h1M44.62 478.93h1M45.72 496.87h1M46.47 472.24h1M49.03 496.85h1M51.54 506.72h1M48.57 497.32h1M50.89 489.79h1M43 492.65h1M41.36 472.1h1M40.79 504.64h1M46.82 511.15h1M49.04 509.88h1M41.04 481.77h1M46.07 481.29h1M40.8 482.51h1M44.32 487.32h1M52.84 505.61h1M45.94 491.33h1M43.2 486.88h1M47 497.27h1M41.37 509.31h1M52.44 508.72h1M42.4 478.91h1M49.89 500.41h1M43.75 478.11h1M50.52 499.21h1M43.6 500.49h1M44.18 497.59h1M41.36 493.24h1M45.95 488.34h1M42.84 503.27h1M46.48 488.71h1M43.11 486.49h1M43.66 500.55h1M43.14 477.01h1M51.75 507.04h1M47.84 477.18h1M49.41 497.84h1M43.96 491.1h1M46.56 477.33h1M43.21 510.85h1M47.7 488.2h1M44.4 490.62h1M43.61 486.52h1M53.15 507.4h1M43.8 497.58h1M49 488.85h1M39.09 507.91h1M46.6 500.38h1M47.87 482.66h1M50.76 479h1M47.88 470.03h1M50.3 500.41h1M41.99 493.72h1M46.46 481.38h1M43.01 486.73h1M47.81 501.84h1M49.28 478.58h1M46.1 479.54h1M46.02 502.09h1M42.61 510.36h1M50.52 502.73h1M47.06 487.65h1M45.34 510.7h1M43.14 472h1M39.06 508.69h1M48.56 490.71h1M42.88 478.32h1M44.6 473.93h1M51.74 506.69h1M42.91 501.21h1M41.35 471.28h1M48.26 500.63h1M45.56 499.35h1M43.74 491.22h1M45.56 487.08h1M47.02 485.5h1M44.66 472.73h1M47.71 480.05h1M44.5 498.48h1M44.37 498.84h1M49.98 500.13h1M52.16 505.3h1M50.07 509.4h1M50.22 500.16h1M45.7 480.63h1M44.7 502.46h1M49.62 510.15h1M42.08 492.73h1M51.74 509.59h1M49.44 476.9h1M45.44 499.7h1M38.94 507.3h1M42.64 472.38h1M44.18 474h1M50.35 503.37h1M48.17 480.93h1M46.69 479.22h1M43.87 476.72h1M49.25 498.39h1M47.5 477.89h1M47.11 511.4h1M39.97 509.57h1M50.83 506.31h1M42.18 491.26h1M39.59 509.38h1M50.45 501.03h1M50.17 497.27h1M52.13 509.13h1M48.43 510.08h1M42.27 478.67h1M45.4 502.22h1M48.48 501.93h1M46.06 485.48h1M41.07 509.67h1M47.63 479.19h1M45.22 501.88h1M50.17 477.78h1M38.4 507.93h1M46.95 478.99h1M48.37 510.6h1M45.96 500.82h1M47.04 486.01h1M52.93 507.42h1M38.47 507.13h1M41.39 471.96h1M46.04 486.86h1M45.19 478.07h1M47.89 487.04h1M46.83 480.56h1M46.51 486.74h1M43.45 471.83h1M46.66 497.73h1M45.64 486.33h1M44.52 498.45h1M46.37 472.47h1M42.74 479.24h1M45.9 488.56h1M50.02 502.57h1M42.54 499.67h1M47.21 489.99h1M48.08 469.44h1M45.94 480.8h1M52.3 507.51h1M46.67 511.44h1M47.14 470.97h1M45.37 501.09h1M46.66 477.01h1M46.94 487.86h1M48.78 478.3h1M50.23 504.13h1M48.13 500.16h1M42.17 501.97h1M49.53 502h1M41.68 502.69h1M50.56 510.01h1M38.83 505.85h1M49.88 490.05h1M45.55 479.62h1M47.41 470.24h1M42.48 471.5h1M42.53 491.64h1M46.78 471.38h1M43.74 472.27h1M44.95 486.2h1M42.85 510.59h1M41.53 479.85h1M47.4 487.69h1M51.58 507.64h1M47.49 483.33h1M46.74 485.55h1M50.67 479.01h1M45.32 496.72h1M42.17 500.85h1M50.76 503.34h1M45.24 485.92h1M43.07 499.99h1M46.63 476.56h1M43.82 501.03h1M50.46 479.16h1M48.81 475.89h1M46.94 476.09h1M41.4 504.39h1M53.48 506.79h1M50.41 498.74h1M46.5 511.69h1M46.31 472.26h1M44.53 501.11h1" stroke="#0087e7" stroke-width="1" stroke-opacity="0.95"/>
<path d="M46.69 502.12h1M49.02 503.56h1M40.6 506.42h1M47.36 502.87h1M47.14 502.9h1M40.17 506.51h1M43.69 504.34h1M50.19 509.01h1M41.85 505.3h1M39.62 508.41h1M45.61 502.84h1M40.35 508.75h1M49.78 509.07h1M49.01 502.21h1M50.6 508.66h1M44.53 510.15h1M48.92 502.7h1M48 509.78h1M40.07 508.67h1M40.25 507.23h1M49.65 503.14h1M48.89 502.82h1M44.57 510.23h1M47.22 504.39h1M49.46 504.89h1M50.11 504.73h1M40.11 508.9h1M45.92 504.07h1M49.58 505.47h1M49.66 505.66h1M47.82 504.23h1M46.91 502.29h1M46.19 503.69h1M47.33 502.75h1M42.56 504.87h1M46.15 510.17h1M44.38 509.64h1M40.79 508.5h1M43.41 509.64h1M42.13 504.7h1M43.1 504.65h1M45.81 510.55h1M46.24 504.02h1M48.81 509.1h1M40.17 508.19h1M40.88 508.29h1M40.87 505.28h1M48.36 504.58h1M45.61 504.18h1M41.31 505.78h1M50.05 508.56h1M49.89 507.08h1M45.54 510.55h1M48.06 502.97h1M41.36 505.62h1M42.28 509.04h1M45.17 502.92h1M46.81 503.05h1M50.47 508.79h1M47.98 503.86h1M47.83 504.12h1M39.74 507.01h1M44.99 510.08h1M39.87 507.52h1M44.03 509.49h1M49.69 503.98h1M44.93 510.21h1M41.53 505.5h1M43.97 509.38h1M49.33 504.4h1M42.33 509.26h1M39.54 506.21h1M44.35 503.31h1M47.47 502.29h1M45.2 503.28h1M45.01 503.38h1M49.53 507.2h1M44.16 509.62h1M44.83 502.82h1M46.44 502.11h1M49.16 504.53h1M43.83 504.21h1M45.19 503.04h1M42.46 504.18h1M49.34 502.55h1M40.72 504.7h1M44.39 509.67h1M41.75 504.85h1M39.38 507.32h1M45.92 510.48h1M48.05 502h1M41.49 508.46h1M43.27 508.91h1M50.62 507.33h1M48.57 504.17h1M40.11 508.83h1M48.52 503.77h1M49.89 507.1h1M39.76 506.05h1M48.05 504.54h1M49.18 508.42h1M49.81 504.57h1M50.02 509.36h1M40.7 508.32h1M40.56 506.67h1M45.05 503.3h1M40.44 508.86h1M49.55 504.85h1M44.63 502.99h1M49.59 508.48h1M45.04 503.59h1M49.73 506.41h1M42.07 505.34h1M40.21 507.14h1M44.19 502.86h1M50.18 507.92h1M50.03 506.85h1M46.67 510.36h1M46.5 504.68h1M50.06 504.73h1M47.84 509.65h1M42.33 504.16h1M40.87 508.28h1M40.79 504.95h1M41.55 505.29h1M45.92 502.6h1M48.15 504.64h1M49.55 509.49h1M40.52 505.53h1M46.64 502.8h1M47.72 509.66h1M42 508.87h1M50.05 505.04h1M42.64 508.88h1M40.57 508.81h1M44.45 503.03h1M40.26 507.05h1M40.19 507.07h1M47.13 510.07h1M49.4 507.88h1M40.53 504.97h1M41.08 504.9h1M49.4 503.26h1M49.53 503.48h1M47.96 503.05h1M49.62 506.85h1M40.98 508.83h1M49.71 503.67h1M45.53 502.7h1M39.9 506.88h1M48.23 501.94h1M47.4 503.06h1M48.25 503.54h1M43 508.88h1M50.04 509.25h1M48.22 504.27h1M40.18 506.33h1M47.67 503.82h1M49.87 507.53h1M48.48 504.56h1M47.41 502.32h1M45.76 503.47h1M47.85 503.99h1M44.13 503.4h1" stroke="#00c6ac" stroke-width="1" stroke-opacity="0.95"/>
<path d="M42.09 506.2h1M43.86 505.08h1M47.29 505.22h1M43.08 508.5h1M43.39 508.35h1M49.26 507.34h1M42.14 506.8h1M41.23 506.47h1M41.58 506.33h1M41.89 507.31h1M44.57 504.92h1M46.01 509.17h1M43.74 504.76h1M40.59 506.77h1M47.95 508.53h1M45.69 509.78h1M48.69 505.02h1M40.93 507.99h1M43.72 508.44h1M41.42 507.88h1M45.28 509.66h1M40.55 508.02h1M45.79 509.42h1M44.46 503.98h1M43.03 505.65h1M49.46 505.82h1M40.99 507.57h1M45.07 509.07h1M45.74 509.16h1M41.4 505.97h1M45.01 503.84h1M46.57 509.51h1M45.24 508.95h1M49.41 506.36h1M49.12 506.29h1M44.29 504.14h1M42.42 505.31h1M46.08 505.27h1M49.42 506.1h1M41.64 507.64h1M45.32 504.83h1M40.34 507.26h1M46.68 505.52h1M49.03 506.72h1M44.65 504.5h1M44.83 504.6h1M48.93 505.89h1M47.19 509.44h1M48.87 507.61h1M42.47 507.81h1M44.58 504.83h1M43.37 508.34h1M45.23 504.57h1M48.97 505.04h1M42.93 508.02h1M41.01 507.67h1M40.97 506.51h1M46.26 504.96h1M45.16 504.29h1M48.25 505.39h1M41.99 505.54h1M44.57 504h1M41.27 508.06h1M48.48 508.37h1M47.74 508.96h1M48.11 505.39h1M42.64 505.76h1M45.32 504.71h1M46.09 505.18h1M42.31 507.28h1M41.55 507.26h1M48.4 505.72h1M41.4 508.01h1M44.24 508.99h1M46.17 509.77h1M48.37 505.28h1M46.81 505.26h1M48.17 508.95h1M49.4 505.26h1M44.64 504.74h1M49.29 505.98h1M46.08 505.21h1M41.11 507.59h1M43.45 508.64h1M49.48 506.38h1M44.53 509.34h1M44.05 504.59h1M46.02 505.38h1M47.92 508.96h1M45.1 504.76h1M49.35 506.07h1M41.97 507.17h1M45.04 508.98h1M46.23 509.58h1M40.57 507.35h1M43.42 505.17h1M42.2 507.41h1M41.44 507h1M47.63 505.44h1M41.89 506.9h1M47.96 505.69h1M47.69 505.12h1M46.87 504.86h1M44.41 504.43h1M44.13 508.93h1M46.69 505.24h1M47.58 508.78h1M48.57 505.3h1M48.18 508.33h1M43.1 505.34h1M46.59 509.4h1M48.84 507.61h1M42.11 507.16h1M43.99 504.73h1M46.44 509.76h1M49.27 507.31h1M44.24 508.89h1M45.4 509.75h1M45.04 504.35h1M40.48 507.17h1M44.74 509.54h1M46.89 509.12h1M43.24 505.54h1M42.61 505.74h1M46.83 508.96h1M49.08 506.42h1M49.51 505.88h1M43.54 505.24h1M41.85 507.98h1M49.31 505.05h1M48.72 505.73h1M46.48 509.25h1M44.72 504.48h1M41.93 507.6h1M47.51 509.04h1M46.6 505.52h1M43.43 505.04h1M47.11 505.28h1M44.88 509.03h1M42.05 507.74h1M48.33 505.23h1M49.28 505.15h1M41.95 506.74h1M45.89 509.19h1M48.41 508.13h1" stroke="#30d852" stroke-width="1" stroke-opacity="0.95"/>
<path d="M48.31 506.33h1M44.51 507.75h1M47.77 506.5h1M45.28 507.56h1M48.06 507.61h1M45.35 507.91h1M44.16 508.35h1M43.54 506.83h1M46.81 506.4h1M46.51 506.37h1M43.51 506.72h1M42.9 506.68h1M46.63 508.94h1M44.48 506.72h1M45.1 508.04h1M48.18 508.06h1M42.58 507.54h1M44.12 508.49h1M43.6 506.92h1M47.79 507h1M43.45 506.76h1M45.7 507h1M43.91 507.25h1M46.39 506.74h1M46.21 507.75h1M46.34 508.39h1M42.8 506.18h1M47.29 506.9h1M44.82 505.64h1M43.19 506.01h1M45.18 506.98h1M43.89 507.36h1M47.96 507.38h1M45.87 506.63h1M48.13 507.45h1M44.48 507.29h1M47.82 507.21h1M45.34 506.76h1M44.58 506.93h1M45.96 506.31h1M44.77 507.2h1M48 506.52h1M48.09 507.58h1M43.48 507.25h1M43.7 505.38h1M46.6 506.46h1M45.88 507h1M46.45 508.2h1M45.25 505.65h1M45.78 508.2h1M43.16 507.12h1M48.05 508.14h1M47.82 507.4h1M48.25 506.75h1M47.23 508.35h1M44.23 507.83h1M44.76 506.9h1M45.82 507.03h1M43.08 506.67h1M44.96 508h1M46.49 508.19h1M43.75 507.72h1M44.52 505.85h1M45.25 505.33h1M46.52 508.74h1M45.66 507.77h1M45.87 506.11h1M47.24 507.93h1M46.53 507.07h1M47.74 507.98h1M46.96 508.3h1M43.49 506.67h1M47.05 507.94h1M48.07 507.93h1M47.63 508.44h1M45.11 507.05h1M47.86 508.05h1M46.1 508.26h1M48.43 507.29h1M46.32 506.72h1M46.99 506.83h1M42.76 506.87h1M47.54 507.05h1M42.98 506.37h1M47.22 507.68h1M44.12 506.34h1M45.19 505.26h1M47.8 506.74h1M43.41 508.13h1M45.2 507.13h1M45.55 505.88h1M46.41 506.05h1M44.38 505.66h1M48.08 508.21h1M46.26 508.85h1M47.02 508.5h1M43.59 507.28h1M43.98 505.51h1M43.05 507.61h1M47.46 507.88h1M45 508.5h1M46.61 508.85h1M45.89 508.83h1M43.35 505.77h1M46.91 505.98h1M47.67 507.27h1M46.32 507.01h1M43.96 506.49h1M46.5 506.03h1M48.26 506.78h1M42.7 507.31h1M44.6 507.75h1M46.94 505.99h1M44.22 505.91h1M46.46 508.56h1M44.44 505.68h1M46.28 508.08h1M46.93 506.53h1M43.95 505.88h1M44.23 508.14h1M46.48 506.25h1M48.16 506.68h1M44.46 508.61h1M43.66 506.07h1M43.08 506.3h1M48.15 506.02h1M45.89 505.82h1M44.64 507.74h1M44.7 507.63h1M44.79 506.26h1M43.62 505.92h1M44.48 508.24h1M44.76 508.43h1M45.21 506.35h1M46.11 506.8h1M47.75 507.42h1M48.56 507.31h1M43.6 506.79h1M42.55 506.94h1M43.95 508.28h1M45.6 505.99h1M47.91 506.91h1M45 506.66h1M46.33 506.94h1M47.48 508.72h1M42.84 506.75h1M43.66 507.55h1M45.49 506.24h1M44.84 508.12h1M44.1 506.38h1M45.24 505.56h1M43.04 505.73h1M45.95 505.47h1M47.95 507.99h1M47.06 505.95h1M46.43 506.52h1M46.18 506.56h1M45.65 508.1h1M47.47 506.26h1M45.96 507.69h1M46.28 506.51h1M47.59 508.4h1M43.27 507.41h1M46.76 506.75h1M48.08 507.57h1M42.61 506.28h1M44.7 508.62h1M45.26 508.08h1" stroke="#95e216" stroke-width="1" stroke-opacity="0.95"/>
<path d="M44.36 507.21h1M47.35 507.2h1M47.52 507.49h1M47.54 507.37h1M43.96 506.88h1M44.09 507.02h1M44.19 506.8h1M43.89 506.78h1M47.44 507.18h1M43.98 506.87h1" stroke="#e2ca00" stroke-width="1" stroke-opacity="0.95"/>
</g>
<g filter="url(#bl)">
<path d="M140.52 484.64h1M101.88 473.24h1M103.9 496.96h1M142.81 487.51h1M135.39 465.98h1M117.99 522.8h1M103.59 475.35h1M126.58 518.96h1M143.15 506.72h1M133.14 477.63h1M131.52 519.73h1M135.22 519.91h1M136.25 473.64h1M138.32 488.19h1M128.26 518.4h1M132.55 483.53h1M124.49 522.76h1M134.91 482.85h1M129.82 478.41h1M142.54 508.24h1M127.69 521.76h1M103.59 484.38h1M149.39 497.64h1M143.29 467.03h1M138.51 482.59h1M134.44 480.11h1M139.89 476.74h1M140.99 510.4h1M133.95 486.12h1M136.98 480.02h1M129.82 519.83h1M117.41 520.95h1M138.4 479.7h1M134.27 493.79h1M127.12 466.72h1M132.55 522.61h1M145.03 503.74h1M130.13 490.54h1M138.77 517.6h1M136.47 515.84h1M142.08 501.87h1" stroke="#0000d5" stroke-width="1" stroke-opacity="0.5"/>
<path d="M130.22 504.18h1M124.58 514.27h1M126.99 499.85h1M123.54 486.98h1M125.82 495.71h1M107.01 483.31h1M107.64 470.69h1M110.75 515.25h1M127.08 488.09h1M108.35 481.73h1M126.81 483.43h1M108.36 493.78h1M132.11 509.79h1M114.75 512.88h1M122.58 478.19h1M128.9 509h1M106.8 494.89h1M109.84 512.49h1M109.54 467.78h1M128.25 489.03h1M131.14 498.78h1M128.29 498.65h1M106.03 500.52h1M135.99 497.68h1M126.24 515.56h1M137.72 494.96h1M107.88 496.92h1M132.66 500.54h1M126.87 490.57h1M107.06 486.57h1M127.59 489.7h1M106.1 500.22h1M129.07 502.03h1M104.09 503.8h1M103.1 480.48h1M107.03 512.22h1M124.2 488.01h1M129.24 501.93h1M125.27 493.27h1M129.34 500.24h1M124.81 465.56h1M130.32 504.36h1M136.13 503.76h1M107.25 498.51h1M129.12 487.4h1M118.92 467.73h1M119.85 514.57h1M137.45 495.35h1M133.68 498.98h1M129.93 493.76h1M128.9 505.28h1M132.91 500.91h1M128.82 489.77h1M133.62 509.87h1M120.23 468.45h1M103.86 481.33h1M123.94 487.23h1M140.44 506.22h1M134.03 508.93h1M112.76 514.9h1M122.75 472.37h1M117.72 515.66h1M107.22 483.13h1M119.35 465.64h1M130.12 507.13h1M107.8 484.64h1M108.97 494.37h1M106.86 480.97h1M123.42 492.92h1M132.58 515.72h1M126.59 490.29h1M107.13 483.27h1M143 482.25h1M136.9 490.46h1M125.11 481.19h1M126.57 511.15h1M106.34 491.04h1M133.19 512.44h1M107.79 485.06h1M109.27 514.64h1M122.64 471.19h1M123.49 469.33h1M107.05 470.26h1M124.55 491.37h1M127.91 483.85h1M106.31 485.89h1M137.61 495.58h1M129.38 500.69h1M137.14 494.59h1M136.35 511.78h1M134.27 491.02h1M115.93 516.83h1M134.6 512.21h1M136.19 501.63h1M130.92 485.99h1M133.66 504.73h1M107.44 478.09h1M107.11 478.85h1M104.44 499.3h1M128.21 504.54h1M122.06 466.91h1M127.37 503.03h1M123.62 513.78h1M105.02 505.91h1M124.65 466.83h1M107.71 487h1M102.9 509.18h1M122.19 470.33h1M126.49 512.37h1M131.32 510.38h1M134.43 500.9h1M105.99 500.99h1M128.23 475.57h1M139.93 492.47h1M140.86 497.13h1M127.65 515.08h1M105.02 507.2h1M124.07 489.86h1M131.26 498.34h1M128.6 508.58h1M140.45 491.07h1M107.38 474.7h1M128.49 512.4h1M106.91 468.71h1M108.48 493.25h1M128.6 498.7h1M122.28 471.3h1M108.69 472.53h1M124.81 496.02h1M112.61 516.21h1M137.06 507.16h1M128 485.52h1M108.67 469.66h1M106.87 492.83h1M137.01 511.41h1M122.73 482.13h1M122.72 477.13h1M137.96 509.82h1M122.29 512.42h1M110.42 465.97h1M139.99 502.33h1M139.59 504.94h1M131.26 507.77h1M101.97 481.32h1M125.26 515.68h1M107.62 478.06h1M136.12 511.27h1M105.42 509.2h1M125.94 491.69h1M123.91 484.32h1M131.45 502h1M133.26 506.35h1M123.91 513.39h1M129.83 509.51h1M123.71 486.94h1M126.62 500.59h1M129.09 494.91h1M131.69 487.67h1M138.4 509.57h1M122.63 473.99h1M125.26 471.6h1M124.02 480.35h1M131.51 515.09h1M135.67 502.91h1M138.65 505.55h1M137.73 498.41h1M115.84 513.64h1M125.08 471.7h1M135.14 506.53h1M107.67 469.22h1M121.09 514.86h1M117.72 517.03h1M129.68 506.23h1M106.72 496.87h1M121.26 467.16h1M129.84 503.97h1M129.29 500.83h1M118.21 466.57h1M122.81 478.04h1M124.56 513.95h1M124.12 488.01h1M130.94 475.82h1M106.33 491.36h1M107.56 481.75h1M106.99 513.49h1M134.76 500.99h1M138.05 502.01h1M105.57 485.87h1M122.57 512.61h1M136.92 494.4h1M111.98 513.11h1M128.12 504.44h1M132.31 504.71h1M129.07 507.41h1M128 499.67h1M104.08 506.85h1M124.44 488.92h1M118.47 467.11h1M105.66 511.01h1M127.23 500.39h1M105.17 499.15h1M108.35 475.31h1M131.24 486.34h1M115.53 513.49h1M103.91 494.9h1M134.99 501.97h1M126.1 498.52h1M120.3 517.31h1M116.01 518.41h1M132.57 497.41h1M128.2 476.49h1M127.7 496.42h1M126.95 512.23h1M129.24 496.97h1M119.4 466.68h1M137.35 493.38h1M106.79 476.05h1M132.7 498.81h1M137.1 504.4h1M105.12 494.07h1M116.91 517.05h1M123.45 479.36h1M123.52 513.8h1M131.53 510.02h1M122.86 475.02h1M134.4 497.28h1M109.93 467.61h1M131.21 476.16h1M122.88 474.98h1M128.86 496.27h1M127.47 485.71h1M106.88 514.77h1M119.92 517.62h1M141.61 492.03h1M135.67 491.95h1M122.99 484.6h1M124.74 491.98h1M115.32 467.44h1M124.43 490.51h1M137.65 500.63h1M108.67 468.75h1M121.1 513.65h1M102.64 482.77h1M104.02 508.27h1M141.07 497.53h1M106.38 491.29h1M128.12 499.52h1M140.08 496.65h1M137.93 498.88h1M130.05 494.78h1M108.49 473.83h1M136.65 499.62h1M131.61 516.43h1M129.41 508.33h1M133.05 514.56h1M103.59 510.55h1M138.65 506.12h1M107.58 493.91h1M122.54 477.2h1M106.43 502.18h1M124.98 512.36h1M116.43 513.73h1M106.93 497.32h1M108.32 466.85h1M129.31 484.36h1M138.68 501.79h1M137.37 506.26h1M133.05 496.32h1M130.81 504.92h1M127.66 502.41h1M127.09 503.62h1M107.3 476.19h1M104.9 507.77h1M123.77 482.92h1M130.53 504.31h1M137.08 494.11h1M120.15 515.86h1M142.88 482.67h1M124.75 488.95h1M122.56 473.96h1M132.82 504.51h1M117.6 514.49h1M104.55 502.52h1M121.67 468.02h1M125.22 478.03h1M132.57 492.61h1M124.2 496.48h1M126.04 501.2h1M107.83 488.48h1M107.25 485.81h1M127.36 503.42h1M132.98 507.23h1M139.13 495.31h1M124.73 472.51h1M133.69 498.69h1M105.42 480.58h1M132.98 496.41h1M125.13 479.78h1M106.76 478.15h1M129.43 507.59h1M128.73 505.47h1M124.26 515.27h1M99.75 481.35h1M123.83 490.74h1M128.91 513.1h1M108.62 472.05h1M121.78 470.61h1M127.11 493.33h1M135.65 503.85h1M114.07 513.66h1M130.67 502.03h1M123.92 481.21h1M134.7 502.17h1M125.52 484.28h1M123.25 512.39h1M132.06 507.5h1M104.14 508.12h1M136.41 492.06h1M107.86 482.63h1M124.23 494.02h1M130.62 508.03h1M128.16 501.86h1M124.07 484.95h1M137.22 499.79h1M133.48 500.03h1M132.25 506.25h1M107.34 485.51h1M112.97 515.34h1M106.65 486.35h1M100.7 482.23h1M128.66 509.62h1M125.58 473.89h1M125.39 494.95h1M119.6 467.4h1M137.92 508.43h1M132.29 492.41h1M130.01 500.06h1M127.3 516.16h1M128.15 485.35h1M124.36 512.03h1M124.36 494.49h1M127.61 493.5h1M107.21 495.03h1M128.31 513.2h1M107.93 483.82h1M128.74 503.27h1M105.06 501.11h1M118.84 514.76h1M140.46 505.48h1M106.98 496.08h1M133.65 505.1h1M125.5 511.2h1M105.57 508.4h1M105.38 502.42h1M106.26 473.15h1M111.14 466.68h1M128.69 510.47h1M106.54 468.36h1M117.3 514.35h1M111.71 513.28h1M112.19 466.43h1M130.13 510.65h1M108.35 473.32h1M121.84 465.72h1M128.06 488.47h1M126.32 492.48h1M106.79 479.53h1M133.18 500.72h1M106.95 494.01h1M131.69 497.27h1M106.16 506.3h1M104.77 499.74h1M108.36 468.11h1" stroke="#000cff" stroke-width="1" stroke-opacity="0.65"/>
<path d="M110.36 511.85h1M127 507.66h1M109.58 489.53h1M110.5 491.41h1M110.05 484.27h1M119.24 489.69h1M108.5 492.18h1M108.83 501.64h1M112.82 473.32h1M123.53 494.22h1M111.03 491.89h1M108.08 509.94h1M121.45 497.1h1M108.5 475.55h1M106.13 507.66h1M122.54 490.36h1M124.31 511.12h1M111.03 469.79h1M120.4 511.99h1M124.13 499.96h1M124.85 500.56h1M120.29 473.96h1M107.9 498.49h1M112.9 472.53h1M121.82 489.52h1M108.78 475.98h1M115.23 473.16h1M122.15 494.56h1M114.59 473.51h1M119.99 494.8h1M107.27 505.62h1M109.81 471.81h1M123.73 502.02h1M121.58 485.47h1M108.53 489.68h1M112.67 467.31h1M114.57 471.78h1M120.07 489.65h1M123.38 510.04h1M123.5 497.57h1M120.56 511.54h1M123.99 510.17h1M120.56 487.7h1M110.74 497.34h1M128.12 510.07h1M118.97 492.83h1M115.21 473.94h1M111.47 475.68h1M115.29 468.69h1M118.12 476.67h1M114.82 511.92h1M109.06 488.08h1M122.95 490.02h1M121 496.17h1M111.99 496.32h1M127.46 510.06h1M124.9 509.48h1M116.09 494.5h1M124.22 500.89h1M118.84 468.62h1M112.63 512.46h1M111.15 473.58h1M114.89 498.75h1M106.19 509.22h1M122.34 497.82h1M121.11 494.85h1M107.18 491.01h1M119.6 486.23h1M121.87 482.34h1M106.63 507.59h1M119.87 494.51h1M109.43 495.19h1M121.75 495.65h1M123.59 501.11h1M120.98 478.89h1M109.44 474.47h1M120.33 489.16h1M119.67 513.77h1M112.53 496.69h1M108.63 479.84h1M109.94 494.06h1M120.97 484.12h1M111.42 489.89h1M121.52 479.63h1M110.08 501.64h1M113.29 472.67h1M107.42 505.81h1M109.07 501.33h1M109.39 474.85h1M120.56 477h1M117.04 471.66h1M111.87 500.5h1M111.02 474.32h1M122.7 488.86h1M110.44 489.26h1M120.82 493.06h1M117.1 471.01h1M117.52 474.67h1M120.99 511.12h1M118.38 475.42h1M118.14 474.93h1M116.41 512.26h1M109.71 470.45h1M117.07 485.35h1M106.96 510.46h1M106.87 505h1M117.33 475.51h1M120.36 488.59h1M110.69 480.96h1M119.16 489.81h1M125.73 504.71h1M108.77 487.29h1M125.79 509.55h1M117.8 468.86h1M110.7 469.26h1M111.03 479.83h1M123.04 489.8h1M107.37 490.46h1M111.68 497.08h1M109.69 497.65h1M107.96 490.17h1M120.3 490.66h1M110.55 471.52h1M124.93 502.89h1M120.07 477.9h1M122.95 496.65h1M110.82 469.41h1M122.33 510.34h1M120.82 512.93h1M121.57 489.89h1M112.8 485.32h1M108.4 479.84h1M110.43 468.21h1M117.97 495.76h1M119.79 491.86h1M108.89 477.08h1M111.1 499.09h1M122.64 499.66h1M124.41 510.38h1M123.59 496.62h1M107.58 505.83h1M126.31 508.87h1M107.25 501.7h1M124.38 501.06h1M113.04 467.73h1M107.64 507.73h1M107.8 509.13h1M108.17 490.46h1M117.37 470.8h1M110.24 472.77h1M111.96 485.58h1M110.39 488.91h1M107.55 507.32h1M106.57 507.9h1M111.42 498.56h1M110.45 471.95h1M121.33 493.43h1M109.34 486.63h1M109.26 481.13h1M110.61 492.64h1M109.3 492.63h1M124.33 498.74h1M112.74 512.58h1M114.05 470.6h1M123.32 500.5h1M107.64 499.24h1M109.89 476.61h1M122.41 495.64h1M109.14 510.94h1M109.94 491h1M122.38 493.69h1M110.91 500.82h1M116.04 474.01h1M123.68 504.39h1M121.29 484.1h1M114.43 485.4h1M118.05 468.83h1M111.84 494.55h1M120.89 492.15h1M110.94 499.69h1M120.28 474.54h1M122.96 497.24h1M121.7 473.94h1M118.37 470.83h1M113.25 467.97h1M113.14 487.61h1M111.17 475.78h1M120.12 493.76h1M119.94 479.39h1M119.7 493.46h1M123.95 502.07h1M108.92 472.38h1M107.98 503.67h1M108.04 490.66h1M111.29 486.9h1M111.2 510.72h1M108.5 477.85h1M120.86 496.87h1M110.71 490.93h1M110 470.02h1M120.12 512.8h1M120.62 484.89h1M111.95 489.72h1M112.23 511.06h1M120.46 491.4h1M112.61 500.71h1M127.16 506.76h1M126.35 510.01h1M123.53 503.62h1M110.17 511.17h1M126.48 506.41h1M108.88 476.75h1M117.7 512.51h1M115.41 487.13h1M120.21 513.83h1M111.52 498.08h1M116.85 474.78h1M131.79 504.24h1M110.28 495.55h1M115.95 471.3h1M115.15 511.51h1M116.19 472.77h1M125.48 503.49h1M113.32 499.97h1M113.77 468.3h1M107.79 507.11h1M110.08 481.49h1M120.19 511.64h1M109.74 485.47h1M116.4 471.79h1M109.82 487.73h1M120.46 478.02h1M119.6 513.59h1M113.5 486.14h1M109.92 498.06h1M132.13 501.54h1M106.61 508.69h1M122.27 496.3h1M120.31 469.46h1M114.33 512.31h1M108.1 503.91h1M111.57 499.43h1M119.71 475.38h1M120.49 470.55h1M119.93 494.46h1M109.45 477.83h1M127.18 507.35h1M109.76 483.34h1M109.88 491.95h1M109.97 512h1M128.52 506.42h1M117.61 476.49h1M121.88 476.49h1M109.67 489.91h1M111.1 475.74h1M119.06 471.05h1M109.92 511.62h1M121.61 492.97h1M121.92 485.63h1M108.85 499.99h1M108.45 480.46h1M114.69 486.64h1M113.54 473.81h1M115.84 470.4h1M108.91 485.89h1M107.18 502.47h1M111 497.53h1M116.33 469.08h1M114.48 499.35h1M126.12 499.95h1M115.31 473.01h1M120.73 470.97h1M122.99 499.91h1M125.78 499.37h1M111.08 474.81h1M123.71 494.36h1M113.53 470.84h1M129.03 501.71h1M110.36 472.32h1M124.38 498.95h1M120.64 476.4h1M126.4 508.59h1M110.6 467.87h1M120.54 469.48h1M113.89 500.07h1M110.88 479.94h1M110.69 484.55h1M127.76 510.68h1M109.77 498.52h1M120.25 471.61h1M114.41 468.64h1M123.83 501.17h1M124.88 503.94h1M122.01 492.03h1M110.52 489.33h1M118.66 491.12h1M124.84 503.37h1M120.79 484.56h1M107.77 502.54h1M120.73 490.18h1M121.7 479.19h1M108.68 499.65h1M124.06 494.53h1M109.84 498.91h1M110.5 472.06h1M107.56 506.35h1M115.91 472.36h1M112.25 495.48h1M110.2 473.77h1M114.31 468.01h1M122.52 498.21h1M109.71 469.5h1M109.57 510.13h1M111.19 500.74h1M111.32 475.06h1M131.09 503.89h1M118.45 476.3h1M108.58 499.93h1M109.94 477.84h1M122.05 487.67h1M111.3 474.82h1M123.52 498.97h1M112.72 467.98h1M125.9 504.89h1M109.88 495.58h1M109.33 485.68h1M122.04 478.48h1M108.46 502.15h1M120.52 492.69h1M121.13 491.86h1M121.5 486.8h1M113.89 488.17h1M123.24 493.47h1M121.32 495.85h1M108.31 481.35h1M117.12 474.3h1M110.07 499.25h1M109.27 492.81h1M110.31 487.24h1M122.72 488.55h1M120.46 493.43h1M122.12 487.05h1M109.72 490.04h1M119.79 493.53h1M109.96 476.36h1M114.09 486.04h1M124.6 502.67h1M118.11 494.01h1M132.25 502.97h1M112.89 501.6h1M133.49 501.91h1M127.32 510.67h1M109.74 491.73h1M107.91 508.84h1M111.74 512.04h1M109.36 486.84h1M131.81 504.29h1M116.59 473.84h1M108.03 489.57h1M113.38 487.55h1M123.65 503.26h1M127.81 510.51h1M109.81 481.86h1M118.26 471.09h1M121.6 482.8h1M121.06 489.75h1M120.16 475.63h1M111.51 487.68h1M107.32 510.71h1M109.34 489.64h1M120.9 472.54h1M122.06 490.18h1M108.7 479.92h1M115.77 486.56h1M120.22 486.09h1M120.17 473.19h1M132.32 502.33h1M125.49 509.56h1M115.59 485.04h1M120.24 473.06h1M118.9 477.68h1M112.45 500.24h1M111.64 489.7h1M110.89 491.46h1M113.65 473.76h1M119.53 489.95h1M123.48 496.8h1M106.56 509.28h1M107.42 509.73h1M115.77 472.05h1M112.41 500.28h1M121.85 491.58h1M108.92 486.03h1M106.7 505.12h1M110.8 472.46h1M122.89 490.24h1M111.62 499.95h1M125.39 500.14h1M122.76 489.28h1M128.5 501.5h1M113.36 485.71h1M110.49 501.52h1M114.78 473.75h1M116.04 468.71h1M108.42 509.82h1M109.66 497.64h1M125.15 511.08h1M109.59 501.51h1M107.78 511.23h1M121.16 475.91h1M121.29 493.99h1M118.64 469.65h1M107.92 479.06h1M109.3 510.13h1M113.1 496.01h1M109.17 500.43h1M107.38 509.1h1M109.16 499.47h1M110.28 485.86h1M118.13 491.65h1M122.87 493.76h1M122 492.7h1M110.72 494.2h1M124.51 504.05h1M109.94 475.11h1M127.57 507.32h1M115.43 468.98h1M115.4 471.06h1M122.57 494.01h1M121.86 485.48h1M126.87 505.89h1M109.6 493.69h1M115.07 485.72h1M118.2 476.16h1M122.67 487.41h1M125.01 504.64h1M119.58 513.54h1M122.58 479.32h1M115.15 471.48h1M127.24 510.05h1M112.48 500.45h1M113.84 469.4h1M118.33 513.01h1M109.1 501.63h1M127.34 506.98h1M113.41 488.15h1M117.29 493.51h1M120.48 487.89h1M133.18 501.84h1M122.75 499.66h1M121.36 474.99h1M122.32 480.25h1M110.64 468.83h1M110.82 510.46h1M109.83 487.19h1M115.39 470.3h1M119.41 475.01h1M109.86 498.98h1M116.22 511.65h1M119.87 469.66h1M115.78 474.42h1M132.98 502.13h1M110.15 489.53h1M123.19 504.35h1M118.35 470.41h1M117.22 485.83h1M124.91 503.32h1M112.12 471.41h1M107.15 499.51h1M119.9 469.49h1M120.87 493.31h1M117.94 493.68h1M108.39 489.61h1M107.46 499.91h1M112.26 494.66h1M125.53 508.97h1M120.27 477.17h1M111.17 474.73h1M110.16 493.67h1M117.23 476.19h1M122.25 481.3h1M111.22 498.08h1M119.93 494.2h1M106.73 505.28h1M117.11 494.23h1M114.48 468.28h1M113.66 471.09h1M123.41 497.65h1M108.81 472.97h1M109.24 496.35h1M106.75 490.53h1M106.83 500.63h1M107.62 509.7h1M123.04 495.42h1M121.99 486.82h1M109.49 479.36h1M117.18 493.78h1M113.93 484.53h1M120.04 485.92h1M112.72 471.29h1M116.93 511.99h1M107.66 502.05h1M127.46 505.6h1M112.86 488.08h1M108.47 496.81h1M107.09 501.25h1M108.77 479.18h1M113.06 488.95h1M120.75 479.15h1M116.74 473.94h1M128.04 507.36h1M121.09 491.18h1M131.92 502.15h1M119.25 492.89h1M108.48 487.49h1M121.41 475.73h1M132.14 504.11h1M121.07 493.49h1M113.77 472.99h1M120 487.31h1M119.81 469.51h1M109.24 477.81h1M114.7 487.75h1M124.25 510.88h1M113.23 467.4h1M117.26 473.01h1M109.7 512.04h1M108.95 489.94h1M111.07 499.7h1M119.75 477.49h1M114.78 467.87h1M124.24 501.73h1M110.83 472.56h1M107.81 480.29h1M112.19 512.68h1M110.24 478.67h1M120.24 486.77h1M120.21 475.61h1M108.5 484.81h1M109.37 487.76h1M111.74 497.37h1M120.75 488.22h1M122.23 504.71h1M122.06 475.86h1M121.66 497.23h1M109.5 481.13h1M122.49 493.98h1M107.78 506.57h1M109.68 485.18h1M119.01 478h1M115.89 468.8h1M124.01 503.62h1M117.59 472.14h1M125.1 500.26h1M119.91 512.7h1M116.99 468.83h1M122.14 473.85h1M107.7 503.12h1M117.62 476.53h1M110.46 482.71h1M122.26 484.34h1M110.62 480.44h1M121.49 484.23h1M113.44 474.1h1M114.9 472.26h1M121.22 511.52h1M110.13 483.18h1M117.96 512.57h1M113.47 484.84h1M119.37 491.06h1M121.69 473.27h1M113.62 485.87h1M120.45 486.94h1M108.97 475.12h1M122.34 511.5h1M123.78 503.65h1M108.92 511.43h1M121.07 474.41h1M121.28 493.09h1M111.24 486.74h1M120.31 488.28h1M110.1 475.67h1M111.7 487.31h1M125.25 502.96h1M106.5 500.22h1M124.32 498.78h1M123.17 490.24h1M111.4 469.04h1M111.68 487.94h1M125.58 504.62h1M106.54 491.03h1M115.53 485.58h1M108.26 510.24h1M121.3 470.49h1M110.16 479.94h1M122.31 487.65h1M112.47 488.26h1M112.04 512.78h1M121.32 485.89h1M111.69 474.53h1M112.8 501.02h1M115.18 486.22h1M108.76 496.68h1M113.85 499.91h1M108.57 490.26h1M106.93 505.95h1M113.56 470.37h1M116.56 471.51h1M109.65 479.29h1M128.3 502.08h1M118.46 468.22h1M119.35 513.62h1M121.62 475.38h1M108.36 478.14h1M108.2 510.96h1M121.07 488.6h1M111.54 500.35h1M110.43 475.72h1M117.52 472.84h1M113.48 501.47h1M113.29 473.33h1M109.79 490.62h1M108.16 510.55h1M120.14 473.41h1M126.28 508.8h1M117.33 494.08h1M108.01 497.69h1M125.65 499.38h1M109.74 473.62h1M121.25 484.74h1M112.22 497.17h1M119.35 477.53h1M109.9 469.69h1M119.36 490.05h1M112.09 467.92h1M108.66 496.69h1M111.34 495.32h1M119.24 492.01h1M113.96 486.31h1M127.89 505.77h1M122.68 481.25h1M124.58 500.32h1M110.13 489.12h1M118.07 492.77h1M107.97 491.76h1M119.68 477.57h1M112.94 486.2h1M121.98 489.94h1M113.34 469.62h1M120.18 469.82h1M118.48 493.91h1M120.21 490.26h1M120.19 470.65h1M115.29 487.83h1M132.89 502.31h1M118.76 472.38h1M113.22 495.26h1M117.79 492.62h1M115.36 487.68h1M123.72 503.06h1M123.73 509.84h1M109.17 499.92h1M114.64 468.54h1M113.35 471.24h1M120.72 490.55h1M120.43 487.47h1M116.5 468.97h1M110.63 484.8h1M113.54 488.37h1M123.51 511.33h1M109.68 512.08h1M116.37 495.01h1M118.34 469.08h1M122.54 487.77h1M115.49 470.83h1M120.81 476.35h1M110.02 492.12h1M117.29 474.71h1M115.64 471.71h1M113.55 472.53h1M113.88 486.85h1M111.93 475.14h1M116.37 485.73h1M110.73 501.54h1M111.77 495.23h1M111.83 467.45h1M111.57 486.41h1M113.73 488.89h1M118.13 469.13h1M108.87 496.77h1M110.53 497.16h1M111.83 474.93h1M122.97 480.51h1M112.65 486.96h1M108.64 499.86h1M121.94 510.56h1M107.55 501.62h1M123.82 511.35h1M119.48 471.79h1M118.89 498.89h1M127.99 504.64h1M119.66 490.77h1M110.32 484.77h1M114.55 491.28h1M109.28 470.44h1M115.73 471.85h1M110.69 470.14h1M123.26 497.75h1M118.13 476.16h1M110.91 493.79h1M119.6 512.87h1M109.12 486.89h1M110.84 493.81h1M110.09 483.92h1M116.52 512.01h1M106.85 491.22h1M116.29 486.25h1M121.6 486.51h1M112.41 468.74h1M109.97 495.48h1M110.03 482.51h1M111.09 473h1M112.51 468.28h1M126.13 503.17h1M109.83 477.15h1M124.22 497.53h1M121.99 479.85h1M120 514.04h1M118.34 470.72h1M110.81 495.38h1M132.17 503.22h1M120.65 490h1" stroke="#0049ff" stroke-width="1" stroke-opacity="0.84"/>
<path d="M118.74 484.55h1M120 498.93h1M117.14 484.55h1M112.17 483.43h1M125.42 506.74h1M116.05 500.63h1M116.82 489.78h1M118.57 482.42h1M114.09 478.58h1M119.29 511.68h1M120.55 482.19h1M113.82 478.32h1M110.31 477.45h1M112.29 490.2h1M114.74 482.5h1M119.85 483.16h1M121.59 498.23h1M117.02 501.72h1M117.03 498.48h1M113.4 489.88h1M116.66 498.22h1M117.83 501.73h1M119.03 488.77h1M112.51 469.46h1M113.63 494.69h1M112.27 470.09h1M112.64 510.87h1M110.56 477.7h1M112.5 478.03h1M118.56 487h1M111.39 478.98h1M117.73 489.44h1M112.73 470.52h1M115.39 492.11h1M114.22 480.01h1M124.13 508.11h1M120.63 502.33h1M118.04 483.89h1M117.9 496.55h1M114.53 490.1h1M119.25 485.27h1M111.77 477.4h1M112.81 503.2h1M112.36 478.19h1M115.56 483.11h1M117.96 486.4h1M116.28 493.72h1M116.99 482.97h1M117.43 491.84h1M110.79 503.18h1M122.33 503h1M114.95 495.45h1M118.04 490.13h1M108.41 506h1M115.51 474.73h1M119.36 480.38h1M113.59 503.14h1M125.51 505.99h1M111.32 503.71h1M113.26 498.78h1M121.06 475.71h1M119.17 487.85h1M114.95 484.68h1M121.98 508.68h1M122.67 505.26h1M112.65 490.04h1M113.8 476.14h1M119.65 473.76h1M115.81 493.44h1M116.96 489.96h1M112.6 489.47h1M112.08 490.02h1M119.75 480.63h1M113.75 498.8h1M116.39 482.31h1M124.55 505.85h1M116.71 469.03h1M116.18 480.68h1M119.61 496.47h1M111.15 501.55h1M108.17 507.62h1M121.33 503.01h1M111.6 483.76h1M113.39 480.68h1M116.34 500h1M113.19 493.05h1M116.72 469.18h1M112.79 478.08h1M118.93 474.19h1M112.4 497.56h1M112.33 470.4h1M113.18 497.61h1M114.91 490.64h1M118.47 487.01h1M109.44 503.38h1M121.29 500.62h1M112.68 480.73h1M116.61 479.92h1M118.16 483.25h1M118.8 473.02h1M118.26 499.3h1M116.15 479.01h1M112.31 503.18h1M111.63 502.07h1M109.98 502.81h1M119.02 478.69h1M122.59 500.59h1M119.64 504.15h1M117.64 473.66h1M114.87 497.01h1M110.76 483.14h1M116.42 491.76h1M120.79 497.19h1M114.79 497.35h1M116.89 492.68h1M114.17 489.67h1M118.85 485.48h1M114.62 482.27h1M114.55 495.23h1M114.7 501.21h1M117.83 483.69h1M118.31 511.45h1M115.59 479.22h1M117.42 500.49h1M119.52 483.57h1M122.41 501.25h1M113.45 474.96h1M115.77 479.38h1M115.85 480.57h1M116.61 480.42h1M116.19 480.11h1M117.02 491.87h1M118.71 501.8h1M117.64 490.83h1M114.68 481.43h1M113.11 510.8h1M116.96 480.1h1M113.89 493.3h1M116.23 476.67h1M112.86 477.47h1M117.6 480.13h1M123.34 505.78h1M115.89 477.7h1M117.23 487.51h1M117.04 499.87h1M111.89 470.23h1M113.8 476.72h1M116.07 490.13h1M117.73 479.19h1M113.45 475.3h1M113.36 494.96h1M114.33 483.16h1M118.23 502.05h1M113.48 497.25h1M109.85 508.76h1M113.65 497.66h1M115.99 489.07h1M117.04 469.36h1M120.88 504.79h1M117.1 489.15h1M112.05 492.81h1M117.95 477.43h1M125.43 507.78h1M114.55 480.39h1M116.54 487.94h1M115.76 499.35h1M115.27 497.77h1M111.38 483.3h1M118.77 500.22h1M116.21 490.48h1M115.02 500.3h1M116.26 481.55h1M121.97 497.95h1M110.93 478.64h1M115.39 497.08h1M116.94 478.39h1M113.58 490.41h1M114.12 476.98h1M113.05 498.36h1M116.18 501.3h1M116.36 499.42h1M115.98 490.23h1M111.34 479.97h1M118.33 483.97h1M113.04 482.14h1M109.62 509.78h1M119.35 482.07h1M118.55 511.34h1M117.6 500.4h1M111.54 503.55h1M116.2 479.07h1M113.67 483.24h1M116.34 497.74h1M111.68 493.08h1M119.55 473.47h1M115.19 492.81h1M119.36 500.59h1M115.27 493.45h1M112.59 491.73h1M121.86 509.29h1M109.71 503.03h1M115 495.3h1M113.38 475.66h1M113.23 490.42h1M120.76 483.31h1M112.6 503.45h1M113.78 484.06h1M119.6 499.74h1M119.53 496.68h1M114.53 481.55h1M115.5 483.98h1M121.57 499.12h1M114.4 483.47h1M113.55 476.12h1M121.76 498.82h1M119.81 484.93h1M116.44 488.58h1M121.79 500.43h1M110.71 503.3h1M117.2 470.37h1M114.65 478.57h1M119.61 496.78h1M109.03 504.01h1M111.83 482.02h1M117.55 473.96h1M121.7 481.37h1M119.85 499.5h1M121.39 510.28h1M116.05 476.33h1M120.84 479.55h1M111.85 501.46h1M114.04 511.32h1M125.31 505.44h1M120.98 476.09h1M112.04 494.03h1M122.06 501.67h1M116.2 484.39h1M120.59 503.68h1M112.61 471.2h1M120.74 480.98h1M118.73 484.51h1M121.31 481.45h1M113.27 476.85h1M118.31 477.96h1M124.17 508.28h1M110.31 478.17h1M119 473.47h1M111.88 478.18h1M112.65 492.07h1M115.45 496.62h1M116.57 470.16h1M115.16 474.46h1M121.57 501.49h1M125.5 506.96h1M115.23 488.91h1M115.75 499.68h1M114.31 501.93h1M115.24 476.76h1M108.56 504.69h1M116.99 478.57h1M117.74 487.37h1M121.35 500.08h1M112.51 476.77h1M117.09 492.26h1M113.48 470.43h1M114.3 490.55h1M113.19 476.38h1M118.64 473.58h1M111.3 493.23h1M119.55 473.29h1M114.71 501.59h1M119.8 483.31h1M119.71 503.43h1M114.87 484.11h1M115.45 501.1h1M122.04 501.67h1M116.64 489.29h1M112.7 490.98h1M115.54 496.86h1M121.97 503.34h1M116.47 477.24h1M113.73 492.91h1M110.72 509.2h1M115.06 500.24h1M112.76 481.2h1M119.94 480.17h1M117.51 483.31h1M113.83 479.6h1M111.38 476.81h1M117.03 484.85h1M112.05 481.65h1M111.25 484.7h1M113.31 510.7h1M112.15 482.61h1M107.88 507.83h1M118.25 478.58h1M121.27 498.08h1M117.09 486.79h1M114.78 496.12h1M120.49 479.5h1M111.91 476.32h1M115.77 483.56h1M114.32 492.66h1M114.55 482.1h1M117.79 470.1h1M114.9 501.56h1M111.34 492.8h1M117.39 492.41h1M111.81 470.46h1M114.78 478.16h1M120.56 498.3h1M114.26 482.14h1M116.37 497.41h1M118.92 485.43h1M115.06 477.9h1M115.56 476.44h1M121.01 502.09h1M120.13 474.6h1M123.57 509.36h1M112.38 484.37h1M113.14 498.05h1M117.72 487.48h1M120.52 502.67h1M114.86 496.51h1M118.37 497.98h1M122.26 498.33h1M113.62 492.89h1M117.15 468.95h1M115.53 480.7h1M114.59 474.86h1M119.79 501.7h1M117.89 498.29h1M118.05 481.78h1M121.42 480.89h1M111.05 482.05h1M113.38 482.58h1M115.8 475.58h1M114.3 511.41h1M113.83 502.5h1M121.45 481.67h1M118.9 499.4h1M120.3 482.29h1M114.66 477.12h1M114.48 502.07h1M117.81 478.33h1M113.04 480.28h1M115.4 479.34h1M108.5 503.37h1M120.36 510.81h1M117.63 479.86h1M112.87 470.54h1M120.08 498.21h1M118.42 487.97h1M121 500.67h1M122.2 498.8h1M112.72 475.91h1M112.59 483.54h1M114.84 501.69h1M116.35 501.32h1M121.39 502.41h1M119.22 497.69h1M112.43 470.34h1M115.19 476.39h1M120.6 480.05h1M111.71 477.17h1M117.46 490.82h1M114.94 501.16h1M119.35 496.08h1M116.84 480.05h1M123.1 508.16h1M118.71 495.84h1M122.33 501.45h1M118.18 472.84h1M117.37 488.77h1M118.42 473h1M114.6 475.5h1M113.7 493.11h1M118.64 496.42h1M117.41 497.49h1M114.39 511h1M112.96 477.06h1M116.35 498.83h1M112.51 497.74h1M122.81 501.7h1M109.27 508.13h1M114.38 474.52h1M110.65 509.36h1M117.2 476.68h1M120.77 504.28h1M115.41 501.68h1M113.13 483.13h1M113.63 494.83h1M112.86 480.07h1M123.53 509.29h1M113.9 481.53h1M118.8 503.45h1M118.79 484.72h1M113.65 479.77h1M117.9 479.8h1M115.39 511.04h1M117.64 470.2h1M112.37 492.77h1M116.46 482.91h1M115.57 488.67h1M116.82 498.32h1M124.82 505.73h1M115.69 496.27h1M113.39 475.84h1M112.39 479.43h1M116.09 489.91h1M117.25 498.3h1M108.51 507.37h1M114.86 490.66h1M112.05 469.54h1M122.64 502.58h1M121.29 498.48h1M112.81 482.79h1M114.31 493.9h1M116.66 501.05h1M116.93 490.31h1M117.06 511.56h1M116.88 484.6h1M108.66 505.04h1M110.38 502.6h1M124.75 507.94h1M112.56 502.74h1M112.67 484.87h1M115.51 489.43h1M115.69 492.02h1M115.55 511.15h1M115.15 478.44h1M117.53 491h1M125.87 508.33h1M120.46 481.34h1M118.26 489h1M114.4 496.56h1M118.87 480.84h1M119.02 501h1M116.32 479.22h1M119.43 472.89h1M117.08 500.87h1M112.12 484.7h1M112.29 482.72h1M123.8 508.44h1M112.9 490.14h1M112.82 493.63h1M116.39 489.22h1M120.27 503.16h1M116.8 479.35h1M120.29 481.74h1M120.13 482.37h1M111.75 476.53h1M122.11 508.27h1M117.84 469.53h1M120.57 499.56h1M119.64 503.58h1M116.72 498.18h1M117.04 483.68h1M116.63 498.06h1M115.46 497.57h1M115.19 496.19h1M109.08 502.84h1M112.78 511.04h1M115.24 500.11h1M118.35 473.32h1M120.07 483.48h1M120.93 476.2h1M118.13 481.39h1M113.38 491.57h1M111.71 492.16h1M112.38 478.25h1M112.03 477.67h1M114.49 492.74h1M116.94 511.49h1M116.65 481.32h1M118.55 498.25h1M115.36 477.84h1M116.65 482.01h1M120.29 501.68h1M118.49 497.06h1M118.16 487.97h1M113.36 481.66h1M119.24 473.68h1M113.03 483.1h1M116.3 484.42h1M111.47 484.98h1M116.58 489.48h1M120.02 510.88h1M119.82 511h1M116.84 502.11h1M112.34 493.87h1M110.27 477.96h1M118.25 480.14h1M114.8 478.82h1M120.48 481.47h1M112.74 482.96h1M121.33 510.06h1M118.63 487.33h1M117.16 499.99h1M111.66 470.52h1M115.54 484.66h1M118.07 489.17h1M113.04 491.52h1M115.71 476.53h1M114.67 483.43h1M114.55 475.01h1M113.17 510.72h1M114.57 475.23h1M125.32 508.88h1M113.96 495.11h1M119.16 495.37h1M116.14 497.46h1M115.72 492.29h1M112.51 481.63h1M117.08 487.72h1M120.51 480.91h1M115.93 500.89h1M117.94 487.85h1M112.74 503.5h1M121.59 502.29h1M115.5 478.56h1M112.54 491.97h1M121.38 480.21h1M109.94 508.9h1M116.81 481.28h1M120.33 481.99h1M115.35 500.68h1M114.29 477.65h1M118.86 511.62h1M118.79 495.4h1M114.57 489.07h1M118.44 486.43h1M122.35 501.39h1M120.1 483.14h1M109.17 508.75h1M115.29 497.13h1M117.48 497.41h1M119.08 495.16h1M111.45 478.27h1M112.86 492.21h1M117.49 500.67h1M109.56 503.14h1M121.3 504.06h1M113.31 480.51h1M120.06 484.98h1M110.81 483.63h1M113.61 493.2h1M119.13 487.57h1M111.31 482.11h1M115.87 488.76h1M117.6 485.24h1M112.69 502.67h1M119.69 481.44h1M112.82 503.49h1M116.32 491.84h1M115.1 492.4h1M117.16 500.06h1M111.01 509.09h1M121.96 501.69h1M119.49 487.69h1M120.29 482.5h1M116.95 480.45h1M118.65 496.37h1M115.5 489.99h1M119.58 495.03h1M117.5 487.58h1M115.61 487.52h1M118 497.53h1M118.01 478.82h1M115.51 495.47h1M116.01 499.81h1M116.4 488.59h1M115.78 496.28h1M113.69 497.85h1M112.11 493.99h1M116.18 493.34h1M114.73 495.52h1M121.07 501.39h1M121.52 503.52h1M120.04 496.26h1M112.39 490.39h1M123.9 505.84h1M116.46 479.63h1M122.72 508.43h1M117.38 500.93h1M113.93 494.67h1M112.23 479.41h1M120.16 481.36h1M119.13 484.04h1M117.47 497.87h1M107.95 508.51h1M121.27 504.18h1M117.08 487.92h1M119.5 500.34h1M124.4 508.85h1M118.22 501.16h1M121.51 502.57h1M119.98 500.69h1M117.98 486.6h1M117.61 489.49h1M117.7 477.44h1M113.28 480.94h1M118.62 482.82h1M113.05 498.84h1M117.47 500.14h1M117.62 482.34h1M112.53 498.86h1M113.19 510.57h1M115.25 478.2h1M117.01 478.19h1M122.32 500.19h1M115.89 484.48h1M118.23 500.65h1M121.24 503.49h1M111.84 479.52h1M119.32 473.62h1M111.76 485h1M120.27 504.49h1M116.19 493.74h1M114.94 511.29h1M117.74 488.65h1M108.91 503.96h1M119.39 481.88h1M111.81 470.83h1M110.77 509.85h1M111.83 480.67h1M114.1 498.91h1M118.6 483.82h1M115.9 476.5h1M120.95 503.03h1M116.97 487.89h1M122.93 505.26h1M114.6 488.74h1M117.64 478.48h1M112.09 490.65h1M111.83 491.61h1M111.06 481.29h1M115.68 489.94h1M123.22 509.46h1M116.86 496.78h1M123.98 508.06h1M116.26 483.63h1M119.06 495.34h1M108.9 508.41h1M113.4 493.42h1M113.55 494.27h1M115.43 494.35h1M126.38 507h1M119.92 498.4h1M121.08 498.43h1M117.73 482.62h1M115.46 480.68h1M117.79 483.39h1M112.68 469.59h1M116.12 493.1h1M118.57 511.54h1M120.45 497.14h1M114.93 493.49h1M117.57 473.65h1M120.73 475.93h1M122.3 502.32h1M120.36 482.57h1M113.22 479.48h1M117.1 478.07h1M114.48 483.6h1M116.6 469.54h1M125.14 508.9h1M118.87 500.58h1M113.36 474.81h1M117.72 479.23h1M117.66 502.16h1M117.44 477.45h1M120.67 476.15h1M115.58 493.62h1M117.99 502.41h1M119.3 485.02h1M123.07 509.54h1M125.77 505.86h1M116.97 482.17h1M115.52 480.5h1M117.44 485.14h1M109.5 508.18h1M121.46 500.22h1M110.87 483.95h1M115.87 476.04h1M120.8 480.83h1M114.44 494.68h1M117.9 481.33h1M120.47 502.31h1M113.65 479.15h1M117.03 497.96h1M115.2 484.43h1M111.33 481.28h1M114.96 474.54h1M111.88 481.79h1M116.85 487.25h1M118.33 473.7h1M118.08 482.34h1M111.97 485.05h1M122.34 500.32h1M122.81 505.5h1M119.2 496.47h1M118.02 490.96h1M112.43 490.47h1M117.29 492.31h1M114.48 493.02h1M112.85 483.1h1M113.03 511.13h1M113.54 497.69h1M114.73 496.4h1M113.7 511.13h1M113.36 498.26h1M111.51 478.64h1M116.44 492.52h1M118.06 490.04h1M112.28 502.65h1M113.78 474.57h1M111.8 482.62h1M119.65 499.11h1M125.98 506.76h1M112.67 481.87h1M113.54 489.91h1M108.84 503.68h1M125.61 505.75h1M119.99 479.49h1M111.97 484.98h1M111.78 469.59h1M116.34 490.85h1M115.59 497.84h1M111.76 480.28h1M112.92 481.56h1M121.02 504.78h1M112.85 483.59h1M115.98 478.84h1M117.96 479.67h1M119.21 495.51h1M113.23 497.23h1M126.25 507.95h1M112.57 478.18h1M120.16 481.2h1M121.89 498.55h1M117.17 496.68h1M117.42 482.18h1M118.23 496.08h1M120.12 497.41h1M110.86 478.14h1M108.16 508.73h1M116.59 469.5h1M114.69 493.09h1M120.86 499.47h1M110.52 477.83h1M112.2 492.18h1M124.76 507.17h1M111.51 480.8h1M126.4 507.71h1M124.03 505.86h1M123.14 508.67h1M119.35 474.38h1M126.01 506.89h1M116.79 482.35h1M109.76 509.72h1M119.36 495.9h1M114.58 475.46h1M111.88 492.09h1M108.53 507.49h1M118.06 488.16h1M120.89 481.36h1M123.58 509.11h1M126.35 507.26h1M114.84 481.26h1M112.61 470.72h1M124.06 505.76h1M116.82 481.14h1M111.49 482.69h1M112.74 499.57h1M111.08 501.78h1M114.98 499.68h1M121.31 508.87h1M115.49 476.48h1M109.38 503.7h1M119.06 512h1M120.17 499.85h1M117.45 497.02h1M117.34 483.34h1M113.86 494.19h1M111.24 493.25h1M119.36 484.28h1M111.08 503.48h1M120.3 485.13h1M118.91 479.36h1M117.22 496.28h1M111.78 501.82h1M120.59 511.15h1M116.34 496.62h1M118.28 479.64h1M119.52 484.22h1M119.3 488.41h1M113.19 498.25h1M114.08 478.66h1M115.22 493.2h1M110.95 502.89h1M118.57 501.01h1M116.41 496.56h1M112.42 491.15h1M110.83 509.56h1M116.1 511.16h1M117.05 491.99h1M112.75 476.71h1M117.84 500.52h1M119.16 496.72h1M120.04 498.8h1M116.17 500.92h1M118.32 480.14h1M115.66 493.03h1M116.38 481.33h1M110.93 481.2h1M117.16 487.75h1M111.36 469.58h1M119.33 497.69h1M113.09 483.79h1M111.49 502.47h1M110.98 502.71h1M112.79 498h1M124.48 506.1h1M113.79 492.28h1M114.26 491.99h1M120.79 479.95h1M112.14 483.67h1M118.65 478.67h1M114.63 489.64h1M112.14 482.81h1" stroke="#0087e7" stroke-width="1" stroke-opacity="0.95"/>
<path d="M109.18 506.23h1M109.53 505.05h1M120.94 508.13h1M121.43 508.46h1M114.45 502.51h1M120.94 509.18h1M112.73 509.65h1M122.05 506.08h1M109.45 505.36h1M122.85 506.54h1M111.92 504.16h1M124.49 507.41h1M110.24 507.28h1M109.65 505.47h1M109.29 506.02h1M121.78 507.62h1M111.37 508.6h1M110.16 508.14h1M109.98 505h1M117.96 502.56h1M113.07 510.16h1M110.5 507.84h1M110.26 504.82h1M123.94 506.37h1M122.41 506.86h1M122.56 506.46h1M120.92 508.77h1M116.7 503.34h1M109.64 503.81h1M124.38 506.39h1M113.5 509.7h1M112.94 509.91h1M114.17 510.16h1M120.82 506.37h1M116.11 503.14h1M118.71 503.13h1M122.78 506.15h1M118.67 502.9h1M119.55 502.13h1M121.91 507.17h1M109.83 506.8h1M114.2 503.07h1M121.15 508.93h1M117.16 488.52h1M118.09 502.7h1M119.52 502.69h1M122.43 506.51h1M116.04 502.66h1M118.57 510.7h1M112.34 508.78h1M117.85 503.38h1M111.45 507.99h1M115.96 502.84h1M124.37 507.53h1M111.3 508.09h1M116.71 503.39h1M120.45 505.85h1M112.68 509.13h1M109.34 507.01h1M120.53 508.44h1M115.2 502.71h1M118.66 502.02h1M123.98 506.35h1M112.82 509.82h1M121.37 506.99h1M119.74 504.52h1M112.89 509.46h1M121.85 507.38h1M121.03 509.1h1M117.43 502.92h1M109.82 508.39h1M124.31 507.08h1M121.35 505.67h1M123.9 507.47h1M120.16 502.43h1M120.25 510.1h1M120.37 509.67h1M120.44 508.87h1M123.32 507.67h1M119.99 509.8h1M123.43 506.54h1M109.5 506.99h1M112.84 504.81h1M118.57 510.95h1M111.22 504.18h1M118.17 510.99h1M115.76 502.97h1M123.98 507.88h1M121.25 508.07h1M122.42 506.86h1M115.54 501.91h1M114.49 503.35h1M113.67 503.83h1M117.72 510.68h1M113.84 504.21h1M119.63 502.18h1M114.49 503.33h1M116.31 510.19h1M109.86 507.95h1M121.78 505.97h1M113.55 504.05h1M119.89 509.35h1M124.34 506.56h1M119.43 504.13h1M120.4 505.38h1M123.67 507.3h1M121.4 507.6h1M120.92 505.45h1M121.19 506.85h1M123.27 507.77h1M109.46 505h1M118.83 510.34h1M123.46 507.63h1M121.44 506.5h1M112.14 505.11h1M118.5 510.47h1M120.4 509.36h1M117.34 502.48h1M114.76 503.11h1M117.78 503.66h1M110.06 507.67h1M111.86 508.34h1M116.08 501.9h1M110.62 504.71h1M123.11 506.84h1M110.07 503.73h1M123.55 507.13h1M111.37 509.05h1M119.5 501.88h1M109.44 504.17h1M120.15 505.55h1M119.94 509.24h1M114.86 503.16h1M121.26 506.78h1M109.22 505.83h1M122.93 506.09h1M110.79 508.85h1M114.96 510.44h1M117.46 510.65h1M120.75 509.49h1M112.02 505.01h1M119.02 502.18h1M117.03 510.53h1M116.59 502.6h1M109.93 504.77h1M110.25 507.38h1M119.55 501.87h1M110.46 504.36h1M116.95 503.69h1M118.64 503.27h1M115.39 509.95h1M116.92 503.14h1M119.59 502.46h1M120.9 505.79h1M122.53 506.66h1M117.12 510.29h1M111.06 507.71h1M118.69 510.41h1M112.93 504.06h1M111.81 504.2h1M120.39 502.65h1M114.08 503.03h1M120.87 509.48h1M119.15 510.42h1M119.14 502.39h1M118.55 503.7h1M112.02 504.24h1M117.5 510.54h1M111.21 508.56h1M113.7 510.16h1M110.26 504.07h1M110.95 504.07h1M112.24 509.74h1M122.03 506.76h1M114.12 503.71h1M109.34 505.17h1M120.74 506.35h1M117.07 488.3h1M110.75 508.79h1M109.51 504.4h1M109.97 508.14h1M115.58 502.96h1M119.63 502.29h1M123.52 507.07h1M110.18 507.99h1M109.53 504.05h1M112.24 509.4h1M112.59 509.91h1M115.2 510.19h1M110.89 504.44h1" stroke="#00c6ac" stroke-width="1" stroke-opacity="0.95"/>
<path d="M119.14 504.98h1M112.4 505.6h1M111.93 507.89h1M113.34 509.33h1M119.48 505.97h1M119.59 505.21h1M119.34 508.28h1M116.99 504.83h1M120.5 506.31h1M110.26 505.32h1M115.29 503.85h1M119.51 505.78h1M118.87 505.09h1M110.23 506.85h1M119.32 508.14h1M115.1 503.32h1M110.79 506.36h1M113.03 505.3h1M117.01 509.79h1M111.22 505.58h1M116.4 509.53h1M112.98 505.71h1M119.53 507.9h1M119.81 506.16h1M118.69 504.97h1M114.08 509.4h1M112.83 508.4h1M115.35 509.61h1M117.98 505.2h1M109.77 505.87h1M111.78 507.29h1M120.12 508.03h1M117.98 510.08h1M120.42 506.71h1M115.59 503.8h1M113.35 508.48h1M112.17 506.13h1M112.15 505.9h1M110.31 506.3h1M110.18 507.03h1M110.24 505.24h1M112.01 506.53h1M113.17 508.79h1M111.35 506.51h1M120.07 508.82h1M117.01 504.68h1M119.97 507.22h1M114.94 503.62h1M110.79 505.95h1M110.21 506.87h1M115.83 504.34h1M110.04 505.54h1M113.35 505.47h1M110.7 506.86h1M119.03 509.09h1M115.93 503.37h1M120.53 506.48h1M118.89 509.59h1M113.47 509.03h1M114.95 509.43h1M114.96 509.46h1M109.75 506.36h1M117.31 509.52h1M116.19 504.21h1M110.11 505.37h1M116.73 504.76h1M117.99 510.22h1M118.89 509.82h1M115.1 504.15h1M119.46 509.02h1M117.82 504.8h1M120.07 506.9h1M112.65 508.1h1M117.51 505.14h1M116.95 504.42h1M119.57 508.92h1M112.22 508.15h1M115.71 509.5h1M111.91 507.33h1M118.39 510.36h1M115.96 509.38h1M112.98 505.72h1M120 508.34h1M114.97 503.95h1M119.43 505.87h1M114.08 504.29h1M118.1 505.1h1M111.38 506.43h1M117.83 504.85h1M119.11 505.6h1M117.78 505.37h1M118.49 510.09h1M112.16 506.36h1M112.1 507.42h1M110.37 507.08h1M111.02 506.22h1M119.94 507.65h1M114.37 504.32h1M116.4 504.01h1M112.71 508.08h1M116.15 504.32h1M119.96 505.72h1M113.12 505.62h1M113.41 508.94h1M112.67 508.44h1M117.13 509.59h1M113.14 508.4h1M110.78 505.76h1M112.6 508.77h1M118.26 504.82h1M114.17 504.01h1M110.54 506.7h1M119.33 505.47h1M111.85 505.51h1M119.48 508.73h1M119.3 509.05h1M111.91 506.47h1M110.45 505.71h1M112.43 507.33h1M111.17 505.85h1M120.38 506.59h1M114.67 504.07h1M116.21 503.98h1M112.44 505.27h1M119.23 508.7h1M119.81 509.01h1M111.6 507.09h1M115.27 503.48h1M110.42 506.22h1M117.73 504.67h1M118.55 510.13h1M117.3 504.28h1M118.61 505.51h1M118.53 509.75h1M110.07 506.66h1M109.92 506.23h1M113.64 509.52h1M111.03 505.3h1M115.33 503.44h1M110.98 505.5h1M115.45 504.03h1M117.49 505.11h1M118.51 509.83h1M110.2 505.93h1M118.05 509.84h1M117.81 504.99h1M114.63 504.72h1M115.06 504.38h1M116.04 504.4h1M117.64 505.19h1M114.57 509.53h1M114.51 509.67h1M113.9 509.26h1M119.61 505.84h1M120 507.09h1M118.77 510.17h1M116.6 503.69h1M111.75 505.81h1M118.23 505.5h1M119.93 508.89h1M112.3 505.15h1M116.72 509.52h1M119.48 505.67h1M113.1 505.62h1M114.57 509.57h1M119.17 505.67h1M119.66 505.7h1M119.72 507.47h1" stroke="#30d852" stroke-width="1" stroke-opacity="0.95"/>
<path d="M116.47 505.92h1M117.7 505.88h1M118.19 507.85h1M118.2 506.15h1M116.62 505.19h1M115.66 508.69h1M114.96 505.36h1M117.64 508.9h1M114.19 508.05h1M114.03 505.56h1M118.94 506.9h1M118.81 506.01h1M118.64 507.82h1M112.47 507h1M118.97 505.93h1M118.58 507.2h1M116.68 505.01h1M117.01 508.98h1M113.83 506.06h1M115.19 508.77h1M119.18 507.84h1M112.64 505.94h1M119.12 505.9h1M117.3 506.65h1M113.66 506.35h1M114.02 508.5h1M119.35 506.94h1M114.71 505.75h1M112.8 506.57h1M116.6 508.79h1M116.13 508.67h1M116.11 505.5h1M118.73 508.51h1M118.66 506.29h1M113.67 505.42h1M115.57 505.6h1M119.09 506.62h1M115.38 504.64h1M117.96 506.26h1M114.85 505.62h1M118.45 508.35h1M118.23 507.95h1M116.35 506.09h1M113.38 507.48h1M118.73 507.35h1M116.51 509.16h1M117.82 506.37h1M112.31 506.49h1M119.12 506.91h1M113.57 506.46h1M115.17 509.04h1M118.17 506.76h1M117.22 509.36h1M115.14 505.12h1M117.9 506.82h1M113.06 508.08h1M115.82 508.88h1M118.71 507.03h1M114.11 508.31h1M114.22 505.74h1M113.08 506.97h1M113.51 508.6h1M115.27 505.97h1M117.97 506.67h1M118.93 506.95h1M118.94 507.93h1M114.29 508.77h1M117.32 508.66h1M112.81 507.25h1M115.43 505.92h1M116.36 508.73h1M115.14 504.94h1M115.18 508.85h1M116.05 509.19h1M113.77 508.06h1M116.44 509.31h1M115.22 505h1M119.19 506.92h1M114.59 508.88h1M113.55 505.74h1M115.94 509.03h1M116.05 505.51h1M116.76 504.85h1M117.5 509.26h1M114.83 505.62h1M117.13 508.88h1M117.89 508.84h1M116.3 505.2h1M117.39 509.46h1M114.39 504.99h1M115.67 505.25h1M115.19 505.23h1M117.81 508.75h1M117.69 509.29h1M112.39 506.29h1M116.5 506.2h1M119.34 506.49h1M113.76 505.63h1M114.84 505.54h1M113.5 507.31h1M117.45 505.28h1M118.31 505.96h1M112.48 506.15h1M117.03 506.2h1M116.53 505.62h1M112.85 506.23h1M115.86 505.65h1M117.46 505.93h1M118.84 506.64h1M114.31 505.27h1M112.73 506.94h1M118.07 507.47h1M113.08 507.11h1M117.85 506.98h1M118.29 508.08h1M113.79 507.61h1M113.09 506.99h1M117.75 506.89h1M117.97 509.34h1M114.31 508.24h1M115.82 505.76h1M117.78 508.76h1M114.65 508.48h1M118.39 508.83h1M114.44 505.6h1M115.18 508.95h1M118.88 507.49h1M114.21 508.6h1M117.54 508.61h1M119.16 507.06h1M116.39 505.89h1M116.74 504.9h1M118.79 507.73h1M113.21 507.12h1M116.05 504.68h1M113.17 506.93h1M113.43 506.47h1M114.84 505.34h1M118.03 509.2h1M116.26 504.9h1M117.27 509.3h1" stroke="#95e216" stroke-width="1" stroke-opacity="0.95"/>
<path d="M117.71 507.93h1M117.14 507.74h1M113.92 506.59h1M116.27 507.51h1M116.49 506.8h1M117.03 506.97h1M114.48 506.5h1M117.61 508.07h1M115.26 506.92h1M115.01 507.55h1M115.54 508.28h1M115.2 507.14h1M114.75 505.95h1M117.18 508.05h1M114.83 507.67h1M117.58 507.93h1M115.97 508.36h1M117.63 507.85h1M117.24 506.99h1M114.26 507.06h1M116.6 506.94h1M114.25 506.14h1M116.84 507.66h1M114.03 506.47h1M117.1 506.77h1M116.81 506.55h1M115.42 507.89h1M116.26 506.76h1M116.47 506.7h1M113.99 506.99h1M117.51 507.14h1M115.76 507.34h1M115.84 507.96h1M115.07 507.57h1M114.79 507.31h1M115.47 508.07h1M116.8 507.12h1M115.57 506.43h1M117.02 506.96h1M114.64 507.35h1M115.87 506.59h1M115.02 507.11h1M114.28 506.8h1M114.69 507.6h1M114.15 506.62h1M117.13 508.07h1M116.33 507.99h1M115.49 508.03h1M113.7 506.43h1M114.81 506.69h1M114.38 507.34h1M115.38 508.31h1M116.55 507.69h1M116.66 507.49h1M114.55 506.75h1M113.86 506.97h1M114.84 507.57h1M115.08 507.72h1M116.16 507.63h1M114.94 506.5h1M116.06 507.67h1M113.84 507.53h1M117.33 507.8h1M115.27 508.41h1M114.77 506.87h1M114.28 507.55h1M116.24 507h1M113.94 507.77h1M114.99 506.55h1M117.35 507.73h1M114.98 506.32h1M117.63 507.93h1M115.88 507.72h1M114.5 506.78h1M115.64 507.6h1M116 507.61h1M116.55 507.36h1M114.85 507.97h1M117.81 508.02h1M115.85 508.58h1M115 508.05h1M117.3 508h1M115.82 508.32h1M116.67 507.02h1M113.89 506.54h1M115.27 508.58h1M116.22 507.4h1M117.28 507.05h1" stroke="#e2ca00" stroke-width="1" stroke-opacity="0.95"/>
</g>
<g filter="url(#bl)">
<path d="M206.02 481.28h1M191.16 517.94h1M202.85 491.72h1M202.02 487.9h1M204.94 502.58h1M174.73 496.48h1M201.85 513.24h1M174.51 501.62h1M178.86 515.68h1M205.38 520.04h1M212.76 501.93h1M173.66 495.86h1M217 508.82h1M209.55 473.78h1M185.8 521.89h1M183.14 519.7h1M181.19 514.99h1M203.6 478.37h1M199.08 469.31h1M174.83 489.62h1M210.17 506.79h1M172.19 500.67h1M176 514.39h1M177.38 515.02h1M196.78 473.67h1M204.94 513.13h1M205.89 483.88h1M187.4 517.61h1M215.78 509.03h1M201.32 490.59h1M173.62 522.98h1M204.82 493.54h1M218.76 500.66h1M181.98 465.56h1M205.95 518.41h1M178.48 521.86h1M173.83 510.01h1M199.03 519.59h1M180.47 520.24h1M194.1 521.02h1M194.29 517.95h1M207.23 493.9h1M182.18 521.33h1M208.55 509.35h1M179.99 518.64h1M177.94 470.63h1M197.91 468.85h1M209.93 481.12h1M214.24 513.44h1M202.19 479.46h1M213.39 503.35h1M201.77 486.54h1M206.21 470.32h1" stroke="#0000d5" stroke-width="1" stroke-opacity="0.5"/>
<path d="M207.82 505.5h1M181.67 513.24h1M195.31 488.58h1M179.68 489.47h1M198.14 511.76h1M198.89 514.2h1M195.45 495.56h1M204.78 500.66h1M178.42 502.43h1M197.06 496.71h1M193.81 490.53h1M195.61 477.19h1M200.71 484.58h1M180.45 475.54h1M188.88 467.37h1M199.63 497.2h1M177.73 500.03h1M178.7 484.86h1M198.57 503.26h1M194.93 479.14h1M195.97 502.38h1M180.4 500.3h1M182.85 514.77h1M200.78 507.61h1M177.7 504.01h1M201.5 504.05h1M187.37 468.14h1M197.24 499.97h1M195.34 491.21h1M181.49 511.73h1M179.47 482.85h1M200.3 498.99h1M198.9 501.92h1M180.46 473.44h1M201.37 504.39h1M197.04 480.69h1M192.85 469.93h1M193.74 483.14h1M194.7 484.28h1M177.58 485.55h1M178.22 496.88h1M200.51 498.05h1M186.01 512.06h1M196.43 511.43h1M200.29 492.4h1M179.14 483.13h1M196.39 494.67h1M180.05 469.18h1M179.6 494.54h1M208.63 505.61h1M200.79 508.5h1M178.85 506.39h1M195.57 478.37h1M188.2 513.69h1M198.32 503.24h1M199.79 497.83h1M194.94 476.66h1M197.75 481.28h1M194.87 513.63h1M188.38 514.64h1M177.41 486.6h1M196.69 511.98h1M202.71 511.19h1M199.06 496.5h1M199.24 504.73h1M193.63 484.23h1M197.67 500.14h1M182.76 467.4h1M186.74 513.53h1M194.72 495.28h1M194.79 511.38h1M177.01 487.68h1M200.94 499.14h1M183.23 513.86h1M180.47 473.71h1M204.32 506.26h1M198.02 516.32h1M182.45 512.45h1M195.98 487.42h1M194.3 491.56h1M178.2 511.18h1M177.98 467.65h1M195.96 515.07h1M182.67 467.63h1M194.1 481.79h1M175.46 510.13h1M193.82 481.76h1M198.43 512.19h1M197.35 494.35h1M178.71 496.66h1M189.29 466.73h1M204.5 509.04h1M190.7 466.96h1M195.24 478.14h1M193.04 477.64h1M186.74 512.19h1M210.57 495.09h1M179.79 489.9h1M202.06 500.36h1M178.51 492.74h1M199.22 511.53h1M198.1 507.92h1M196.22 501.62h1M198.24 481.68h1M199.69 510.96h1M177.88 509.35h1M195.75 514.87h1M203.34 504.73h1M178.86 482.66h1M177.83 502.92h1M176.83 511.12h1M179.71 511.93h1M180.8 475.77h1M198.62 504.61h1M199.14 498.25h1M178.75 493.45h1M177.36 511.06h1M177.62 465.85h1M200.81 508.61h1M178.49 488.43h1M197.26 479.05h1M178.63 492.15h1M212.3 512.57h1M197.1 512.02h1M196.73 500.74h1M205.64 510.47h1M179.22 479.3h1M177.29 479.77h1M202.77 505.66h1M194.96 492.85h1M199.85 484.29h1M177.76 489.3h1M200.33 498.38h1M193.23 498.4h1M179.11 480.5h1M198.72 477.75h1M196.46 487.78h1M177.59 466.01h1M194.89 486.65h1M177.82 479.37h1M202.73 499.87h1M178.85 499.56h1M190.61 467.23h1M179.48 468.78h1M200.79 493.75h1M198.26 506.71h1M181.4 468.5h1M201.4 500.42h1M191.14 516.54h1M210.94 495.22h1M179.29 477.04h1M194.34 475.55h1M197.61 500.92h1M196.75 492.8h1M192.7 513.02h1M199.44 495.1h1M199 505.42h1M200.68 508.28h1M175.93 488.77h1M203.19 503.06h1M199.47 505.37h1M197.47 485.56h1M202.25 505.59h1M178.31 505.14h1M201.02 505.6h1M196.72 498.04h1M194.78 484.14h1M177.36 479.38h1M191.16 467.34h1M195.36 500.82h1M200.26 500.35h1M199.29 506.37h1M202.93 507.26h1M196.29 503.32h1M186.32 466.42h1M188.47 515.32h1M194.14 490.92h1M196.68 499.46h1M196.21 492.56h1M204.98 498.95h1M196.84 498.42h1M198.37 505.75h1M175.32 500.84h1M195.11 496.32h1M190.99 513.4h1M207.37 497.09h1M178.85 485.41h1M200.46 510.32h1M189.08 516.14h1M191.62 513.31h1M208.46 506.85h1M198.63 515.27h1M201.14 507.08h1M178.6 498.39h1M195.81 489.54h1M198.77 481.82h1M194.15 475.33h1M195.43 501.39h1M194.53 493.73h1M199.6 506.03h1M198.01 504.67h1M211.32 512.51h1M176.98 506.95h1M194.68 479.79h1M177.31 501.6h1M178.63 496h1M195.15 492.05h1M192.53 516.34h1M178.37 492.62h1M195.14 490.69h1M180.08 511.44h1M198.69 502.84h1M193.23 498.25h1M178.63 486.54h1M180.17 501.68h1M198.14 495.32h1M198.56 507.26h1M197.22 478.8h1M195.33 488.6h1M182.36 512.28h1M194.88 499.49h1M192.03 467.26h1M195.93 498.26h1M197.26 485.14h1M193.94 499.31h1M197.59 501.12h1M174.37 486.57h1M202.36 511.47h1M194.51 473.72h1M178.89 480.21h1M195.71 490.88h1M178.56 478.68h1M196.02 499.67h1M195.08 493.52h1M187.43 512.97h1M202.04 509.44h1M194.66 498.63h1M197.66 514.93h1M179.71 478.02h1M179.51 477.17h1M193.02 472.93h1M193.87 469.86h1M211.39 511.65h1M184.25 511.99h1M178.33 497.07h1M197.5 499.37h1M205.26 500.27h1M177.46 481.09h1M207.07 497.69h1M179.06 483.97h1M196.71 492.58h1M182.88 466.95h1M201.9 505.81h1M188.54 513.03h1M192.91 478.92h1M196.93 513.19h1M200.97 505.32h1M202.58 505.21h1M192.08 514.85h1M193.12 469.24h1M198.98 502.2h1M189.8 513.06h1M188.56 467.7h1M199.03 506.75h1M192.33 499.05h1M196.05 487.83h1M196.56 502.52h1M180.7 470.54h1M182.46 512.17h1M174.71 487.56h1M192.93 468.23h1M182.33 468.06h1M203.65 508.32h1M192.28 467.5h1M178.15 510.33h1M205.77 509.3h1M197.83 499.43h1M193.33 468.66h1M186.73 466.86h1M198.43 478.05h1M180.46 471.69h1M183.89 513.02h1M188.25 513.46h1M200.75 492.69h1M190.41 513.15h1M188.55 467.27h1M180.3 501.15h1M202.1 510.87h1M176.55 507.7h1M199.15 510.2h1" stroke="#000cff" stroke-width="1" stroke-opacity="0.65"/>
<path d="M185.11 492.72h1M183.37 497.63h1M188.4 469.25h1M186.34 498.85h1M181.27 474.07h1M190.75 499.95h1M192.62 501.56h1M180.82 476.33h1M191.84 495.18h1M187.78 493.52h1M180.6 497.1h1M186 495.65h1M196.79 505.37h1M186.9 490.87h1M182.67 482.66h1M191.32 470.53h1M185.65 480.69h1M193.6 500.88h1M180.41 486.54h1M183.32 492.05h1M193.22 482.05h1M192.82 496.01h1M183.16 491.48h1M182.77 510.78h1M184.11 501.14h1M193.37 496.31h1M189.95 499.13h1M193.55 510.37h1M188.46 491.64h1M196.37 509.98h1M190.61 512.61h1M189.82 499.3h1M196.63 505.7h1M186.61 477.31h1M185.34 491.59h1M189.06 489.96h1M189.23 489.42h1M184.64 496.3h1M194.17 502.58h1M192.02 488.38h1M191.96 483.11h1M187.26 487.22h1M184.59 493.46h1M190.09 499.1h1M186.08 477.15h1M188.54 490.42h1M187.17 471.82h1M182.25 495.06h1M190.35 496.76h1M191.06 497.57h1M192.64 486.55h1M191.28 476.83h1M181.15 488.9h1M182.33 477.33h1M182.55 485.49h1M181.9 476.96h1M187.12 487.56h1M191.74 469.74h1M188.04 511.38h1M190.62 491.42h1M182.47 489.84h1M180.4 493.31h1M180.19 495.16h1M181.99 478.01h1M191.16 493.86h1M184.24 468.26h1M190.18 468.1h1M181.28 491.19h1M182.27 498.71h1M187.25 480.37h1M181.19 510.93h1M185.37 483.03h1M180.07 480.84h1M186.91 478.39h1M190.3 495.04h1M186.03 480.94h1M185.76 482.03h1M185.63 495h1M185.32 483.42h1M182.8 477.7h1M186.94 478.43h1M181.21 472.13h1M187.89 491.89h1M187.37 479.64h1M186.47 469.63h1M185.51 481.62h1M180.45 481.18h1M185.3 493.55h1M188.76 511.9h1M190.54 471.6h1M188.28 489.48h1M181.67 480.51h1M179.94 502.56h1M192.87 483.01h1M184.66 477.57h1M182.19 473.68h1M181.41 499.12h1M192.39 485.7h1M189.34 475.32h1M185.89 476.38h1M191.68 477.1h1M187.63 474.86h1M181.74 478.61h1M181.65 472.43h1M190.85 497.94h1M192.45 492.08h1M192.2 500.96h1M188.48 472.23h1M181.79 484.07h1M193.06 488.99h1M183.26 498.05h1M191.9 471.9h1M191.96 488.93h1M189.47 472.18h1M191.53 477.16h1M189.62 501h1M189.75 498.41h1M188.27 475h1M190.02 468.22h1M181.73 478.11h1M184.24 497.7h1M189.4 498.44h1M189.79 491.26h1M188.91 499.6h1M182.76 475.06h1M189.82 511.48h1M194.89 502.79h1M189.48 475.88h1M189.03 469.62h1M183.24 479.93h1M187.66 474.73h1M193.72 499.52h1M192.53 475.31h1M180.61 510.16h1M187.81 497.73h1M186.16 489.43h1M188.46 512.02h1M194.83 502.02h1M186.53 481.69h1M197.81 508.67h1M181.83 490.95h1M180.24 491.83h1M193.13 487.06h1M180.07 485.32h1M190.85 511.73h1M184.76 484.44h1M182.03 484.51h1M186.23 468.47h1M188.69 474.81h1M183.85 510.82h1M180.38 485.79h1M180.71 482.5h1M180.96 493.07h1M192.79 475.17h1M183.57 483.98h1M195.32 510.89h1M192.05 500.32h1M189.47 467.51h1M186.15 491.67h1M190.18 469.36h1M182.04 484.34h1M183.18 478.48h1M189.07 490.66h1M189.73 492.52h1M192.08 475.43h1M182.06 482.38h1M188.93 511.5h1M188.35 485.99h1M192.36 481.86h1M190.65 488.59h1M184.75 468.95h1M186.34 487.96h1M186.28 477.98h1M184.67 476.82h1M190.84 494.57h1M184.62 468.33h1M197.59 510.07h1M193.99 494.84h1M186.07 487.42h1M181.06 495.47h1M186.14 484.08h1M182.51 490.69h1M186.68 491.79h1M186.41 469.98h1M184.27 499.08h1M191.6 470.85h1M181.18 495.35h1M188.98 498.75h1M189.74 500h1M182.29 500.28h1M181.89 486.12h1M183.36 479.57h1M181.15 493.37h1M191.9 494.97h1M182.44 499.73h1M192.46 487.7h1M193.83 493.93h1M190.25 472.76h1M183.73 495.52h1M186.4 488.04h1M190.21 469.23h1M188.98 492.62h1M185.6 500.94h1M182.17 473.14h1M182.18 497.03h1M179.52 503.47h1M179.71 491.55h1M192.87 492.28h1M191.41 492.33h1M190.06 492.95h1M190 472.31h1M191.27 494.93h1M185.83 493.64h1M193.4 475.58h1M187.37 490.79h1M179.18 509.48h1M182.89 474.64h1M189.27 491.78h1M192.24 494.65h1M192.12 490.19h1M185.7 494.77h1M183.44 483.35h1M188.86 499.8h1M190.54 467.58h1M185.06 484.04h1M182.35 500.93h1M183.26 494.14h1M197.15 505.9h1M181.99 478.73h1M188.43 492.74h1M180.37 497.26h1M183.32 497.56h1M185.09 494.87h1M179.92 484.18h1M181.45 477.13h1M182.53 497.24h1M186.1 498.94h1M186.32 480.49h1M182.15 495.88h1M183.81 499.34h1M192.3 501.03h1M188.76 470.88h1M180.11 492.38h1M192.79 473.59h1M181.41 473.01h1M181.23 479.79h1M183.01 499.96h1M180.1 508.4h1M193.94 489.72h1M187.47 475.24h1M182.5 494.44h1M186.94 500.77h1M182.23 469.73h1M183 501.46h1M193.63 480.53h1M186.88 490.19h1M183.23 476.75h1M190.84 472.16h1M184.03 511.51h1M190.65 491.67h1M193.77 492.93h1M193.37 493.73h1M187.49 494.74h1M183.32 481.74h1M198.14 510.35h1M180.08 490.19h1M180.44 493.55h1M184.78 486.14h1M180.32 485.69h1M187.75 488.97h1M179.52 508.71h1M198.37 510.28h1M189.97 492.49h1M188.18 470.51h1M193.91 501.41h1M191.73 501.75h1M180.17 495.91h1M186.56 511.51h1M185.17 483.82h1M187.4 489.7h1M192.69 486.99h1M193.68 489.75h1M187.25 470.24h1M186.09 499.58h1M192.03 468.85h1M183.6 500.21h1M188.59 487.13h1M183.88 491.98h1M192 495.41h1M184.07 495h1M193.5 489.04h1M189.9 494.33h1M182.1 478.03h1M182.86 502.47h1M190.89 473.02h1M186.45 495.69h1M186.49 494.31h1M179.87 496.09h1M192.6 475.86h1M180.42 484.98h1M187.25 497.28h1M181.43 493.46h1M184.6 493.76h1M184.93 497.2h1M179.31 510.01h1M187.54 478.24h1M187.92 498.41h1M186.94 469.51h1M181.27 481.13h1M185.54 499.73h1M182.12 499.79h1M193.49 495.28h1M190.38 498.36h1M180.77 487.55h1M179.56 503.67h1M191.37 469.61h1M187.81 479.58h1M184.72 468.98h1M197.16 508.03h1M179.87 497.53h1M193.98 494.55h1M187.04 485.34h1M184.84 495.92h1M187.28 496.12h1M192.52 485.73h1M182.84 475.21h1M192.86 500.16h1M193.74 485.96h1M190.55 499.08h1M185.3 483.65h1M186.06 469.61h1M187.58 487.42h1M189.33 476.81h1M185 501.25h1M191.92 473.87h1M187.45 497.41h1M192.72 472.58h1M182.48 484.94h1M189.1 495.75h1M185.14 481.19h1M191.32 483.7h1M180.41 496.71h1M182.35 494.89h1M192.31 489.28h1M191.48 498.56h1M180.08 480.31h1M192.98 512.46h1M184.11 481.65h1M182.73 498.3h1M186.81 480.32h1M182.76 501.04h1M193.21 480.76h1M190.11 495.99h1M188.02 471.44h1M181.68 491.21h1M186.44 494.84h1M186.19 489.67h1M190.55 487.55h1M185.98 471.16h1M183.06 502.15h1M196.81 509.92h1M184.64 501.01h1M188.09 493.94h1M188.95 472.75h1M184.23 475.7h1M194.36 502.95h1M183.33 492.59h1M187.41 494.27h1M181.04 475.44h1M186.7 486.83h1M198.44 509.77h1M190.44 490.23h1M182.59 482.74h1M179.94 510.75h1M183.27 492.89h1M192.29 482.55h1M189.37 489.46h1M188.38 511.47h1M186.76 471.03h1M182.61 496.69h1M188.27 487.62h1M180.52 486.95h1M191.55 470.3h1M191.02 472.96h1M192.92 496.47h1M190.99 511h1M179.83 495.62h1M185.06 494.8h1M180.4 509.41h1M181.95 468.51h1M182.66 496.97h1M192.41 496.63h1M182.35 469.95h1M190.95 468.78h1M192.22 492.17h1M180.05 484.81h1M190.2 488.54h1M191.23 488.97h1M182.16 488.02h1M186.94 493.73h1M185.65 500.89h1M183.37 500.71h1M181.2 491.28h1M188.27 476.77h1M182.63 500.16h1M188.45 499.05h1M182.02 485.43h1M193.22 485.35h1M192.71 482.25h1M179.83 508.25h1M186.82 471.03h1M182.37 495.57h1M182.79 499.67h1M191.28 470.62h1M185.77 491.65h1M180.48 477.71h1M184.99 510.84h1M182.45 469.66h1M189.32 474.72h1M182.54 482.75h1M194.14 501.34h1M189.71 491.41h1M180.13 508.46h1M183.37 477.41h1M192.7 493.85h1M187.45 498.96h1M189.13 472.74h1M187.53 496.87h1M188.35 496.25h1M192.11 472.84h1M183.07 498.14h1M183.34 478.69h1M188.66 469.98h1M191.28 469.08h1M188.37 489.93h1M181.14 502.65h1M182.6 478.61h1M180.69 497.27h1M195.54 504.08h1M181.37 480.08h1M193.07 480.17h1M179.03 504.22h1M185.97 494.6h1M190.47 511.56h1M186.55 496.65h1M182.37 510.98h1M189.72 500.58h1M192.66 492.39h1M190.99 497.07h1M191.16 489.94h1M185.98 485.05h1M182.65 511.5h1M191.37 492.87h1M182.72 469.51h1M184.55 481.66h1M187.9 468.5h1M191.38 483.69h1M178.98 505.51h1M193.97 494.57h1M185.75 485.3h1M186.54 489.36h1M190.8 491.33h1M187.18 496.18h1M188.47 476.01h1M180.72 499.2h1M183.55 477.37h1M189.22 499.56h1M188.2 471.37h1M179.65 484.33h1M181.18 499.9h1M182.74 493.62h1M191.45 491.27h1M191.79 483.96h1M183.2 498.61h1M185.46 500.05h1M180.46 478.21h1M183.14 468.46h1M184.95 491.79h1M184.65 481.91h1M179.85 481.23h1M184.59 493.27h1M190.91 497.12h1M189.38 511.94h1M191.49 482.91h1M187.42 486.61h1M186.04 478.09h1M187.62 486.52h1M191.78 495.46h1M185.08 486.1h1M188.53 489.39h1M181.89 502.35h1M183.03 478.6h1M181.05 489.76h1M180.79 499.92h1M193.82 511.23h1M192.01 512.62h1M179.52 485.08h1M190.47 474.07h1M197.76 509.12h1M191.61 493.19h1M193.06 511.73h1M192.34 511.17h1M190.77 489.19h1M191.76 498.17h1M181.97 482.41h1M195.85 510.55h1M194 489.25h1M184.97 486.5h1M192.36 479.02h1M189.51 489.7h1M187.05 490.66h1M186.84 468.87h1M190.12 502.45h1M191.7 480.96h1M184.27 480.55h1M192.89 474.88h1M181.9 475.3h1M186.35 488.26h1M193.57 500.39h1M191.31 480.33h1M193.81 486.97h1M186.94 468.24h1M193.06 479.41h1M183.32 495.46h1M181.31 509.84h1M181.45 491.08h1M185.97 496.79h1M192.74 497.4h1M194.88 500.84h1M186.26 485.03h1M182.04 471.01h1M180.91 490.38h1M179.69 505.83h1M182.04 473.72h1M181.48 478.87h1M187.84 499.63h1M190.32 498.9h1M187.37 495.69h1M190.24 492.07h1M181.08 479.55h1M184.13 483.42h1M189.27 487.21h1M184.92 476.83h1M189.97 495.73h1M183.85 479.38h1M187.53 496.58h1M182.92 493.39h1M187.83 478.43h1M189.22 473.46h1M184.04 496.53h1M194.45 488.01h1M180.65 480.06h1M192.67 486.72h1M187.3 492.17h1M189.9 469.02h1M191.9 483.36h1M191.89 476.46h1M181.44 489.71h1M180.38 488.92h1M188.64 496.45h1M191.78 511.07h1M193.94 487.48h1M189.55 496.58h1M186.11 487.31h1M182.61 484.76h1M189.14 500.45h1M190.87 501.11h1M193.43 479.62h1M196.41 504.27h1M187.02 485.95h1M188.82 487.48h1M184.92 483.92h1M185.4 498.77h1M192.45 510.73h1M190.57 496.17h1M179.36 508.39h1M184.13 483.12h1M182.96 482.56h1M188.77 476.3h1M185.78 496.53h1M185.83 500.09h1M190.45 471.75h1M185.03 477.31h1M180.14 480.92h1M192.14 475.91h1M184.82 469.32h1M189.16 494.38h1M192.33 475.47h1M190.99 478.67h1M191.79 472.45h1M189.3 475.14h1M191.07 497.19h1M183.23 476.29h1M183.01 500.25h1M191.79 512.99h1M181.08 470.19h1M181.71 501.19h1M180.98 480.09h1M191.56 493.19h1M181.29 481.1h1M184.44 477.82h1M192.45 493.86h1M179.83 482.52h1M181.02 470.64h1M185.08 468.92h1M189.63 491.88h1M179.22 504.64h1M180.93 475.48h1M181.08 488.38h1M189.71 483.06h1M181.59 497.43h1M182.1 489.37h1M181.35 509.55h1M191.06 478.68h1M180.11 496.33h1M187.95 475.76h1M197.1 510.07h1M184.46 480.39h1M187.03 477.96h1M184.93 476.49h1M185.24 499.1h1M187.27 479.69h1M191.51 492.99h1M183.48 479.4h1M179.83 508.26h1M181.98 480.48h1M191.71 483.97h1M182.84 498.95h1M188.1 488.85h1M185.59 491.73h1M188.12 497.68h1M189.45 486.77h1M191.16 471.22h1M188.77 478.05h1M184.42 500.48h1M191.57 492.72h1M182.17 479.8h1M183.35 499.99h1M184.07 496.45h1M182.58 474.42h1M186.58 470.31h1M187.66 498.95h1M197.57 509.35h1M185.99 510.67h1M184.13 498.88h1M191.97 483.4h1M180.74 488.79h1M185.19 491.67h1M180.58 498.34h1M187.43 498.59h1M192.28 490.52h1M190.68 496.43h1M188.89 471.77h1M180.63 502.14h1M185.53 487.86h1M189.22 498.26h1M192.41 510.75h1M187.28 495.7h1M192.1 494.86h1M192.31 511.69h1M180.58 484.21h1M182.25 473.37h1M191.17 480.34h1M191.69 495.69h1M179.08 508.38h1M183.13 497.96h1M191.65 491.81h1M190.99 473.57h1M181.47 470.17h1M180.21 492.79h1M184.46 468.72h1M188.31 469.22h1M190.36 472.06h1M192.65 469.27h1M183.09 475.97h1M180.17 491.48h1M183.99 481.67h1M180.75 498.67h1M184.88 495.11h1M188.71 474.77h1M191.61 472.33h1M181.29 488.99h1M186.92 469.91h1M190.84 492.16h1M188.38 471.67h1M186 493.98h1M184.11 469.06h1M187.23 500.6h1M185.97 484.65h1M191.21 501.72h1M193.92 487.8h1M182.51 475.34h1M192.81 501.56h1M182.15 473.77h1M178.95 485.4h1M185.06 476.55h1M180.65 485.6h1M193.55 511.55h1M189.28 500.26h1M192.29 474.63h1M182.15 481.63h1M180.52 478.79h1M192.58 483.34h1M188.07 491.1h1M180.45 496.47h1M188.18 487.02h1M182.52 494.55h1M186.46 471.02h1M192.1 473h1M180.71 498.92h1M187.18 499.42h1M180.84 498.01h1M187.81 473.82h1M192.34 480.54h1M180.31 507.18h1M185.7 468.41h1M185.29 477.68h1M180.01 509.32h1M184.39 469.32h1M184.25 468.45h1M183.29 494.31h1M184.98 493.7h1M183.68 480.54h1M187.95 492.74h1M190.74 496.56h1M195.52 503.36h1M190.23 488.86h1M183.33 477.64h1M189.7 497.68h1M189.28 487.6h1M191.51 512.39h1M191.03 491.1h1M180.54 490.08h1M191.44 500.7h1M190.14 495.16h1M189.6 501.66h1M182.08 469.05h1M180.84 497.66h1M182.02 480.82h1M192.04 488.46h1M181.93 471.13h1M189.39 500.65h1M191.98 491.16h1M189.34 474.58h1M185.1 498.67h1M194.01 486.7h1M187.16 496.72h1M181.51 484.05h1M191.16 488.02h1M188.02 476.65h1M182.71 490.53h1M178.98 510h1M193.78 487.44h1M194.84 487.89h1M183.58 468.15h1M189.93 474.84h1M182.18 494.96h1M193.24 500.28h1M186.73 471.77h1M185.54 486.82h1M193.15 497.09h1M186.79 496.69h1M179.95 503.4h1M188.91 494.74h1M192.08 477.53h1M193.12 492.69h1M190.65 499.77h1M185.14 497.94h1M179.93 481.83h1M187.12 477.49h1M190.25 495.63h1M182.44 475.58h1M192.41 483.03h1M192.13 476.1h1M186.14 480.16h1M193.46 488.86h1M191.93 477.99h1M189.16 500.41h1M180.08 482.26h1M192.93 486.56h1M186.31 492.39h1M185.25 481.78h1M186.88 491.14h1M179.64 507.6h1M181.57 488.49h1M191.46 501.37h1M193.44 496.49h1M190.42 489.95h1M187.36 469.99h1M183.37 492.45h1M192.62 512.44h1M189.64 493.51h1M187.8 480.41h1M179.58 510.56h1M182.13 477.55h1M190.29 512.13h1M196.02 510.19h1M191.05 489.01h1M181.75 476.09h1M190.95 488.38h1M185.39 492.19h1M193.08 479.84h1M184.43 484.59h1M186.64 485.16h1M184.06 494.93h1M193 501.2h1M195.93 505.22h1M186.88 492h1M183.84 477.26h1M190.63 494.9h1M181.11 495.17h1M193.02 491.57h1M183.11 481.23h1M194.85 510.38h1M181.95 470.7h1M188.82 476.4h1M192.59 473.59h1M193.5 501.22h1M187.85 471.41h1M186.11 499.8h1M179.46 492.63h1M184.48 498.68h1M192.88 481.42h1M189 490.77h1M190.13 488.18h1M183.19 491.12h1M191.81 484.56h1M193.75 511.24h1M197.34 508.76h1M197.44 509.66h1M190.69 473.68h1M180.75 492.59h1M192.31 494.93h1M180.62 486.51h1M189.74 488.74h1M181.35 483.23h1M184.99 486.74h1M184.96 499.47h1M189.29 494.43h1M188.4 469.39h1M187.13 495.59h1M182.74 476.78h1M193.1 479.89h1M179.83 506.26h1M183.07 481.23h1M181.34 488.25h1M180.73 501.52h1M184.41 483.54h1M181.98 482.8h1M191.16 480.42h1M193.95 499.96h1M180.02 510.52h1M191.68 492.69h1M186.31 497.81h1M189.73 492.8h1M181.5 511.02h1M185.95 496.94h1M181.26 499.68h1M187.2 486.44h1M184.11 481.6h1M191.08 498.19h1M191.04 478.43h1M181.41 490.87h1M183.21 490.74h1M181.93 479.79h1M185.31 492.7h1M191.54 496.36h1M182.06 478.19h1M181.31 472.28h1M190.37 467.75h1M191.65 512.79h1M185.37 487.27h1M192.23 487.84h1M180.37 485.69h1M184.92 498.91h1M185.45 500.84h1M187.02 487.26h1M186.61 488.63h1M185.12 500.16h1M192.33 470.91h1M186.99 476.41h1M196.75 507.24h1M187.38 494.95h1" stroke="#0049ff" stroke-width="1" stroke-opacity="0.84"/>
<path d="M182.86 486.77h1M191.77 485.58h1M183.89 509.68h1M188.82 510.64h1M189.48 480.45h1M191.14 486.18h1M182.44 509.25h1M188.89 484.54h1M191.45 486.92h1M184.65 489.72h1M183.82 485.02h1M186.62 482.71h1M185.09 479.29h1M182.83 509.57h1M181.53 491.99h1M182.76 472.83h1M188.89 479.78h1M195.57 505.14h1M188.34 481.55h1M182.37 493.22h1M183.83 485.91h1M180.59 503.65h1M183.06 486.96h1M181.68 495.83h1M192.8 503.53h1M190.85 503.57h1M182 503.58h1M192.16 502.42h1M189.56 476.35h1M191.2 503.39h1M191.18 481.58h1M189.85 478.97h1M191.75 507.77h1M194.77 509.87h1M183.42 503.58h1M190.5 481.66h1M186.73 472.92h1M194.77 504.81h1M194.02 503.08h1M181.19 492.31h1M180.79 496.33h1M182.83 503.63h1M195.18 505.19h1M188.95 478.03h1M192.93 502.47h1M188.98 481.22h1M190.85 502.6h1M183.06 488.79h1M191.44 485.76h1M195.66 508.94h1M182.83 486.47h1M183.31 485.54h1M187.91 479.44h1M183.27 488.75h1M188.38 500.92h1M194.46 504.92h1M195.73 510h1M185.91 490.22h1M190.02 470.94h1M181.99 492.41h1M188.35 479.23h1M195.1 506.29h1M190.64 475.72h1M192.99 507.07h1M191.49 487.1h1M190.07 485.5h1M188.21 484.78h1M184.25 471.55h1M191.1 485.89h1M192.97 502.91h1M184.52 488.29h1M196.96 509.33h1M181.65 508.91h1M185.68 478.83h1M184.23 470.74h1M184.54 474.61h1M181.23 508.12h1M189.45 478.51h1M189.17 480.08h1M184.3 488.82h1M181.65 493.44h1M180.23 504.35h1M182.77 483.4h1M183.42 488.29h1M184.42 510.06h1M184.63 470.47h1M185.56 478.26h1M189.64 485.11h1M188.75 479.9h1M185.8 510.46h1M192.24 504.56h1M195.57 507.39h1M188.34 483.23h1M183.35 470.25h1M188.46 483.91h1M189.62 478.19h1M184.07 502.44h1M182.27 508.87h1M184.8 479.54h1M188.44 482.49h1M196.45 508.42h1M188.42 482.75h1M183.64 474.23h1M193.64 504.46h1M183.93 470.21h1M190.33 510.19h1M193.83 504.99h1M181.02 496.74h1M192.75 503.96h1M181.99 507.54h1M193.9 503.77h1M190.87 481.77h1M191.13 481.84h1M183.95 503.36h1M186.41 501.76h1M192.77 503.29h1M184.32 487.26h1M186.82 482.41h1M183.93 469.54h1M193.79 503.97h1M191.25 470.55h1M193.33 504.67h1M193.41 507.16h1M186.92 510.61h1M183.94 474.1h1M183.73 471.65h1M192.68 508.93h1M185.61 510.42h1M195.53 507.11h1M185.46 490.18h1M190.77 470.5h1M190.04 480.99h1M187.28 473.59h1M194.81 504.88h1M183.72 485.33h1M190.46 484.64h1M190.66 476.92h1M189.58 476.84h1M190.47 470.45h1M187.06 483.74h1M190.46 476.4h1M186 473.25h1M185.84 482.91h1M180.82 504.97h1M184.32 474.75h1M189.93 485.38h1M186.51 472.07h1M187.87 481.68h1M181.9 508.06h1M181.68 492.89h1M181 508.55h1M183.56 475.17h1M185.49 475.27h1M191.13 503.58h1M183.82 472.74h1M186.21 482.18h1M180.7 503.85h1M192.24 504.18h1M182.47 472.08h1M193.07 507.17h1M182.19 492.04h1M187.03 482.4h1M187.16 482.59h1M188.69 486.08h1M190.79 485.15h1M190.73 480.33h1M190.51 484.92h1M191.37 476.2h1M183.35 473.35h1M184.18 502.05h1M189.02 485.02h1M190.26 480.91h1M194.07 503.55h1M192.82 507.54h1M190.25 503.19h1M189.31 485.68h1M185.99 490.24h1M182.44 470.05h1M195.86 507.89h1M182.31 483.68h1M186.28 472.96h1M182.85 473.06h1M192.42 508.01h1M186.75 501.47h1M185.1 510.11h1M180.1 506.15h1M183.19 474.18h1M186.82 474.48h1M195.8 507.53h1M188.28 484.96h1M183.91 489.43h1M195.95 508.47h1M184.04 487.67h1M187.59 482.73h1M194.17 504.05h1M182.74 471.44h1M189.53 480.74h1M189.83 484.66h1M190.73 482.32h1M181.84 496.32h1M186.09 472.16h1M195.63 506.35h1M184.37 472.82h1M189 470.25h1M182.73 488.62h1M190.57 509.97h1M182.8 483.43h1M183.7 487.58h1M182.81 509.36h1M184.55 510.3h1M186.27 475.18h1M188.03 510.5h1M190.16 510.45h1M193.82 510.11h1M186.64 509.77h1M189.37 485.91h1M181.43 507.99h1M185.22 491.39h1M184.81 478.78h1M183.6 510.34h1M195.61 506.8h1M183.64 470.83h1M191.73 506.31h1M186.41 483.66h1M185.04 501.95h1M184.59 489.96h1M192.18 509.28h1M192.91 505.96h1M194.72 506.21h1M190.3 510.19h1M180.85 508.27h1M188.97 482.35h1M188.37 501.68h1M195.46 505.38h1M191.78 475.98h1M184.29 488.59h1M181.3 503.08h1M183.98 471.21h1M190.72 481.03h1M191.33 481.07h1M185.6 478.98h1M189.26 479.73h1M182.54 486.3h1M190.47 478.35h1M191.73 503.15h1M195.47 504.66h1M189.35 485.12h1M184.33 474.24h1M183 472.6h1M187.08 482.5h1M185.23 479.82h1M188.52 485.98h1M188.55 481.9h1M189.12 477.7h1M183.06 470.25h1M183.33 487.33h1M189.1 511.06h1M189.43 489.82h1M190.12 484.78h1M183.61 472.85h1M184.89 490.17h1M191.44 486.68h1M181.86 496.91h1M183.25 509.47h1M184.45 502.38h1M181.11 505.44h1M186.5 501.9h1M184.03 502.98h1M187.89 483.52h1M188 481.92h1M192.12 503.54h1M180.4 505.22h1M183.94 474.07h1M188.92 481.73h1M190.28 470.64h1M182.63 486.94h1M185.8 479.78h1M188.4 511.09h1M183.5 485.84h1M190.83 481.3h1M196.97 508.66h1M191.2 473.83h1M183.99 502.3h1M188.32 479.33h1M190.94 474.68h1M185.04 474.98h1M184.34 488.25h1M183.45 485.16h1M189.56 478.45h1M181.82 503.34h1M190.31 482.74h1M183.69 486.72h1M188.67 511.19h1M195.8 508.25h1M194.66 506.12h1M183.74 489.96h1M186.76 510.2h1M189.35 481.5h1M192.83 506.48h1M191.38 486.48h1M181.39 503.08h1M184.66 510.67h1M192.06 507.44h1M190.13 475.62h1M194.19 509.4h1M186.69 473.02h1M190.36 479.12h1M185.55 475.38h1M196.67 508.13h1M183.55 487.88h1M186.73 474.7h1M186.84 483.58h1M189.3 481.94h1M185.85 478.85h1M196.2 509.43h1M191.08 502.57h1M193.32 505.2h1M190.72 510.06h1M191.5 474.38h1M192.94 503.7h1M185.73 482.75h1M183.7 502.93h1M183.91 471.26h1M192.37 504.93h1M189.3 482h1M182.96 487.97h1M190.46 470.11h1M184.51 470.86h1M187.01 474.95h1M193.19 501.87h1M195.91 505.51h1M191.6 506.2h1M182.25 488.5h1M189.79 482.07h1M185.44 490.8h1M182.78 509.71h1M193.13 502.31h1M184.42 501.95h1M185.66 475.87h1M182.53 470.57h1M189.86 477.89h1M181.79 503.45h1M184.76 473.38h1M192.68 507.19h1M192.91 505.14h1M184.12 503.43h1M191.05 485.09h1M189.94 503.47h1M192.57 504.15h1M194.33 506.07h1M182.69 486.95h1M189.75 478.99h1M193.28 506h1M184.08 487.05h1M188.86 469.96h1M185.29 479.93h1M182.59 484.12h1M184.62 502.79h1M186.25 479.49h1M182.58 483.22h1M185.37 509.79h1M189.35 479.39h1M191.63 506.19h1M188.04 484.49h1M183.68 473.24h1M192.51 502.66h1M190.93 486.26h1M182.42 502.71h1M194.81 504.34h1M185.48 471.65h1M191.45 485.6h1M192.71 503.2h1M192.25 486.05h1M187.15 474.45h1M193.04 509.81h1M195.7 508.11h1M188.92 481.39h1M184.86 478.54h1M189.73 503.38h1M188.36 482.92h1M195.74 507.35h1M182.91 487.56h1M182.03 493.3h1M190.25 469.58h1M188.27 501.95h1M189.97 484.32h1M191.72 502.53h1M180.65 506.87h1M188.33 484.29h1M193.53 505.78h1M190.68 503.01h1M180.69 503.52h1M184.25 490.37h1M186.71 472.42h1M184.42 486.63h1M190.9 475.29h1M188.16 481.78h1M186.32 473.07h1M184.67 471.4h1M190.27 476.85h1M182.62 471.8h1M194.93 505.15h1M193.84 505.38h1M189.44 477.36h1M184.13 485.06h1M191.09 473.78h1M183.08 471.12h1M192.9 509.61h1M185.31 489.69h1M191.36 474.48h1M195.76 508.31h1M180.31 504.18h1M188.86 470.32h1M179.94 505.8h1M181.72 502.93h1M184.16 473.4h1M189.04 480.08h1M183.17 470.76h1M187.29 482.43h1M180.63 506.67h1M183.08 510.21h1M184.33 479.56h1M191.94 503.52h1M192.22 504.54h1M193.14 508.95h1M192.31 487h1M184.22 485.64h1M180.34 503.71h1M191.64 485.3h1M182.61 487.37h1M193.58 509.11h1M183.69 487.67h1M182.15 509.29h1M190.96 470.25h1M185.24 480.42h1M195.75 509.41h1M184.32 474.64h1M184.59 490.29h1M189.31 470.19h1M190.86 475.83h1M188.66 479.72h1M192.28 504.33h1M184.39 488.49h1M188.85 470h1M191.05 474.99h1M194.86 506.17h1M187.36 510.52h1M188.94 510.52h1M194.49 509.69h1M183.89 470.62h1M184.9 479.15h1M191.66 509.77h1M184.96 490.86h1M189.94 490.56h1M182.73 489.51h1M185.41 471h1M187 501.29h1M195.24 506.59h1M184.94 479.02h1M190.41 486.66h1M190.36 477.34h1M191.55 486.09h1M188.74 501.2h1M193.87 503.36h1M183.69 472.09h1M185.3 470.4h1M183.12 472.46h1M184.45 472.66h1M184.83 510.27h1M188.39 501.08h1M181.8 506.95h1M184.17 490.11h1M193.85 509.17h1M186 483.43h1M188.31 483.89h1M183.02 487.44h1M181.95 496.74h1M189.35 510.97h1M194.66 509.07h1M181.36 508.63h1M182.23 492.35h1M189.61 469.63h1M185.45 472.92h1M179.9 505.77h1M188.5 480.63h1M190.24 485.73h1M189.72 490.44h1M192.79 505.87h1M184.8 470.1h1M183.11 489.85h1M187.02 510.06h1M195.9 508.91h1M190.55 480.94h1M190.49 482.06h1M194.52 503.98h1M188 511.15h1M189.17 485.61h1M183.74 471.86h1M181.35 504.2h1M195 505.42h1M189.25 479.45h1M189.78 486.17h1M181.94 496.51h1M192.53 506.88h1M193.91 506.14h1M185.16 470.96h1M193.32 504.35h1M193.01 509.94h1M188.55 484.86h1M184.98 502.27h1M187.02 483.01h1M188.63 501.73h1M189.17 502.45h1M191.2 510.26h1M184.2 509.75h1M189.94 489.9h1M184.11 488.9h1M185.68 473.26h1M192.08 503.1h1M192.39 509.97h1M189.65 482.96h1M180.29 505.15h1M196.82 509.44h1M190.11 478.56h1M180.43 506.99h1M180.55 505.9h1M188.34 483.82h1M183.61 488.89h1M192.37 505.23h1M183.74 472.62h1M185.05 489.95h1M182.16 493.36h1M182.82 490.07h1M182.48 483.44h1M188.1 501.38h1M180.05 505.33h1M184.42 471.65h1M184 471.62h1M190.79 469.69h1M184.65 489.31h1M190.55 478.95h1M190.46 484.19h1M180.46 505.13h1M190.76 475.03h1M183.17 485.35h1M181.86 493.15h1M183.18 510.31h1M189.37 484.97h1M190.42 477.98h1M187.2 474.69h1M181.94 492.65h1M182.52 508.91h1M185.1 478.83h1M186.6 472.73h1M190.76 481.54h1M194.54 509.58h1M180.84 496.61h1M190.59 478.48h1M181.82 508.91h1M190.55 482.7h1M184.5 486.07h1M182.9 469.92h1M190.7 484.75h1M194.4 505.53h1M184.58 490.27h1M192.73 508.38h1M193.36 508.88h1M181.58 508.4h1M181.55 506.43h1M190 479.34h1M191.22 475.94h1M190.84 474.01h1" stroke="#0087e7" stroke-width="1" stroke-opacity="0.95"/>
<path d="M185.24 474.59h1M188.55 503.41h1M181.62 504.96h1M184.89 503.63h1M186.6 508.68h1M193.99 508.9h1M187.29 509.76h1M183.03 505.29h1M190.39 509.17h1M186.76 502.46h1M182.78 505.07h1M193.61 508.48h1M190.93 507.15h1M182.87 508.51h1M187.17 509.26h1M189.35 504.86h1M186.59 508.88h1M184.91 508.8h1M185.45 509.16h1M194.23 508.6h1M188.71 503.23h1M183.95 504.51h1M188.55 503.42h1M190.38 504.33h1M191.38 505.28h1M182.26 505.31h1M185.11 509h1M195.08 508.89h1M190.87 507.33h1M190.36 506.88h1M183.57 504.94h1M183.47 504.33h1M187.71 502.74h1M190.41 508.75h1M189.89 509.32h1M190.61 506.73h1M191.17 505.65h1M185.92 474.28h1M189.65 504.06h1M187.26 502.15h1M194.54 508.06h1M188.78 509.5h1M185.46 503.07h1M182.87 506.95h1M182.97 505.26h1M182.42 505.4h1M193.38 507.75h1M190.87 509.19h1M183.79 508.95h1M185 474.44h1M190.61 507.29h1M182.22 504.95h1M190.34 509.28h1M189.62 504.27h1M185.47 509.14h1M183.17 507.98h1M187.09 509.61h1M181.52 505.6h1M182.15 505.17h1M193.49 508.24h1M186.14 509.25h1M189.8 506.56h1M187.47 508.97h1M190.53 507.11h1M185.68 502.73h1M193.96 507.92h1M184.1 504.33h1M189.75 505.6h1M183.81 508.37h1M189.75 509.63h1M182.72 507.49h1M182.15 504.09h1M190.8 507.99h1M190.38 504.1h1M187.27 508.97h1M187.23 502.05h1M185.61 509.38h1M185.24 474.39h1M188.06 502.38h1M191.5 504.93h1M190.82 505.02h1M195.3 507.63h1M182.96 503.81h1M190.87 505.28h1M190.76 508.85h1M195.14 507.84h1M187.24 509.77h1M190.7 508.67h1M184.4 509.52h1M186.14 503.1h1M185.61 473.69h1M186.16 473.97h1M189.12 504.29h1M194.19 507.69h1M186.78 508.66h1M190.72 504.41h1M190.67 509.09h1M188.66 510.02h1M181.17 504.91h1M182.3 507.12h1M191.28 508.48h1M194.53 506.76h1M185.42 474.71h1M190.02 509.18h1M185.6 474.81h1M186.87 501.97h1M185.19 503.12h1M185.65 473.93h1M182.14 504.98h1M181.49 504.19h1M189.41 509.35h1M183.29 508.42h1M185.31 474.14h1M194.4 507.85h1M190.24 509.75h1M182.8 505.75h1M182.12 505.66h1M183.6 509.2h1M188.18 508.96h1M191.63 507.74h1M184.75 504.23h1M187.08 502.04h1M187.96 503.02h1M185.58 508.5h1M183.71 503.89h1M188.09 509.22h1M194.82 507.19h1M182.4 507.37h1M187.92 509.16h1M191.44 505.05h1M190.41 507.35h1M182.55 505h1M183.28 507.91h1M189.44 504.53h1M189.17 503.84h1M182.83 505.51h1M182.6 506.58h1M181.79 505.62h1M188.36 502.69h1M189.83 505.28h1M187.68 502.44h1M182.53 506.83h1M182.9 505.86h1M186.37 473.9h1M182.8 505.49h1M189.48 509.59h1M182.2 506.35h1M186.19 509.18h1M183.3 503.84h1M190.71 506.78h1M182.99 507.73h1M187 502.37h1M182.02 504.6h1M186.38 474.46h1M191.5 508.57h1M191.25 508.16h1M191.06 505.74h1M190.03 510.13h1M182.87 504.78h1M191.1 506.02h1M186.67 501.99h1M188.06 509.54h1M185.71 474.63h1M182.89 507.77h1M182.87 506.7h1M185.93 474.28h1M182.57 504.15h1M189.06 509.93h1M183.86 509.52h1M182.8 507.12h1M190.84 507.16h1M190.85 504.75h1M194.65 508.75h1M188.22 503.19h1M183.91 504.04h1M185.09 474.02h1M185.06 474.09h1M191.32 508.95h1M182.32 504.12h1M186.08 473.63h1M190.93 507.8h1M190.09 504.24h1M182.41 504.32h1M194.06 507.73h1M194.19 507.34h1M194.87 508.69h1M181.79 506.5h1M190.84 507.81h1M184.71 509.54h1M182.82 508.54h1M195.37 507.75h1M191.47 505.47h1M185.32 474.28h1M189.63 503.78h1M193.91 508.56h1M187.06 502.72h1M185.1 474.92h1M185.49 474.13h1M189.7 504.26h1M190.55 505.42h1M186.09 474.35h1M189.46 509.48h1M183.82 508.06h1M189.3 509.45h1M191.32 505.36h1M186.71 509.28h1M187.7 502.66h1M195.15 508.35h1M194.26 506.79h1M191.61 505.28h1M188.98 509.44h1M183.4 508.5h1M191.38 504.88h1M193.58 507.41h1M182.02 506.94h1M183.95 509.51h1M191.34 508.52h1M181.98 506.44h1M187.9 509.1h1M189.09 503.15h1M195.13 507.05h1M184.43 508.88h1M187.24 509.02h1M189.56 506.05h1M193.17 508h1M189.6 505.92h1M194.2 507.33h1M189.97 505.56h1M193.92 508.82h1M185.78 509.06h1M189.11 503.66h1M184 509.51h1M186.27 502.41h1M183.36 503.89h1M188.72 509.21h1M181.33 504.3h1M183.62 507.59h1M181.66 505.76h1" stroke="#00c6ac" stroke-width="1" stroke-opacity="0.95"/>
<path d="M186.33 508.09h1M189.37 506.28h1M189.28 505.74h1M188.33 504.86h1M185.81 504.55h1M187.12 503.54h1M190.16 508.98h1M187.55 503.11h1M184.11 505.33h1M188.46 505.16h1M183.77 505.9h1M185.67 503.82h1M188.36 504.18h1M189.17 506.1h1M189.59 507.31h1M187.35 503.27h1M188.49 507.88h1M184.51 506.98h1M185.77 508.42h1M188.35 504.83h1M185.69 508.37h1M187.94 508.83h1M183.38 505.45h1M185.19 507.65h1M188.46 507.2h1M189.23 504.94h1M187.47 503.47h1M187.83 503.82h1M184.4 507.71h1M187.51 507.66h1M186.65 507.69h1M189.21 507.86h1M187.59 508.04h1M187.51 504.03h1M186.54 508.01h1M188.04 504.88h1M183.97 507.36h1M187.83 505.32h1M184.76 508.05h1M188.31 505.72h1M187.08 504.1h1M189.72 508.36h1M188.7 505.9h1M185.38 503.96h1M185.07 507.88h1M189.96 508.55h1M186.46 507.68h1M189.25 508.63h1M189.52 507.64h1M184.42 504.92h1M185.75 503.83h1M187.47 506.85h1M187.23 507.56h1M188.83 504.77h1M190.4 507.95h1M189.49 507.91h1M186.7 503.08h1M188.37 508.89h1M187.18 504.03h1M184.99 508.03h1M188.78 507.3h1M190.48 508.26h1M189.74 507.71h1M187.81 506.58h1M183.65 507.44h1M187.21 503.14h1M188.79 505.59h1M187.04 507.55h1M189.71 507.86h1M188.89 504.31h1M187.68 506.37h1M184.63 505.58h1M185.22 508.03h1M184.26 507.63h1M183.44 505.64h1M189.19 507.6h1M184.61 507.29h1M187.6 503.55h1M185.54 504.12h1M189.98 506.91h1M185.32 504.31h1M188.16 504.81h1M189.4 508.67h1M187.36 503.35h1M184 505.17h1M185.49 504.38h1M184.15 507.16h1M188.9 508.54h1M186.29 503.48h1M186.89 503.68h1M189.29 508.63h1M185.05 505.12h1M188.81 507.37h1M188.44 507.24h1M188.79 508.45h1M189.96 507.41h1M187.88 507.73h1M186.47 503.74h1M184.07 507.06h1M187.6 507.23h1M188 503.09h1M189.14 507.92h1M184.28 506.76h1M187.06 503.49h1M188.6 506.92h1M189.06 505.89h1M186.44 504.11h1M184.01 506.51h1M188.23 508.21h1M187.65 503.86h1M185.9 503.64h1M188.15 508.7h1M189.33 506.56h1M186.33 503.43h1M187.91 505.19h1M184.91 504.75h1M188.68 508.77h1M187.78 506.27h1M188.19 505.41h1M188.49 504.33h1M184.38 505.7h1M187.85 507.22h1M188.21 504.69h1M185.46 504.45h1M189.35 507.6h1M186.69 508.47h1M187.29 507.92h1M188.72 507.09h1M183.47 506.91h1M188.6 506.32h1M189.74 508.17h1M188.81 506.55h1M184.43 505.75h1M183.56 505.63h1M184.77 504.86h1M186.56 503.47h1M188.87 504.83h1M189 505.51h1M183.4 505.6h1M189.55 506.5h1M188.17 503.63h1M186.42 504.15h1M187.93 508.35h1M186.14 503.52h1M185.02 505.04h1M188.73 507.44h1M187.83 504.97h1" stroke="#30d852" stroke-width="1" stroke-opacity="0.95"/>
<path d="M186.86 505.56h1M186.75 505.93h1M184.63 506.66h1M187.06 505.48h1M186.22 505.5h1M186.93 505.24h1M186.47 506.17h1M185.72 507.52h1M187.09 505.42h1M187.35 504.74h1M185.74 507.02h1M184.65 507h1M186.8 506.89h1M186.46 507.38h1M184.81 506.43h1M186.02 505.43h1M185.52 505.48h1M185.14 506.56h1M187.4 505.09h1M186.42 505.42h1M185.66 505.91h1M186.56 504.85h1M184.99 507.04h1M185.69 504.82h1M186.53 506.39h1M186.94 505.78h1M185.24 507.46h1M186.34 504.48h1M186.63 505.68h1M184.5 506.65h1M186.2 506.96h1M185.03 505.61h1M186.65 507.03h1M184.98 505.61h1M185.33 505.73h1M185.12 507.17h1M186.54 507.43h1M186.64 505.34h1M185.23 507.35h1M186.12 507.04h1M185.14 506.13h1M185.16 505.62h1M187.04 506.22h1M186.64 506.5h1M186 506.58h1M185.28 505.33h1M186.32 505.48h1M186.69 506.18h1M184.98 506.03h1M187.26 506.19h1M185.06 506.25h1M187.67 505h1M186.75 506.66h1M187.16 506.25h1M186.61 504.54h1M185.41 506.16h1M186.55 506.54h1M184.71 506.63h1M185.41 505.6h1M185.8 507.13h1M185.03 506.77h1M185.75 505.1h1M184.75 506.9h1M186.73 504.74h1M184.56 506.82h1M186.82 505.28h1M185.95 507.24h1M186.51 504.94h1M187.06 506.07h1M185.7 505.58h1M186.77 506.42h1M186.4 505.13h1M186.03 507.29h1M186.22 507.3h1M186.22 506.89h1M187.47 506.29h1M184.95 506.34h1M187.42 505.4h1M185.24 507.03h1" stroke="#95e216" stroke-width="1" stroke-opacity="0.95"/>
<path d="M185.84 506.18h1M186.39 506.1h1M186.23 505.93h1M186.25 505.87h1M185.9 505.89h1" stroke="#e2ca00" stroke-width="1" stroke-opacity="0.95"/>
</g>
<g filter="url(#bl)">
<path d="M275.5 498.75h1M272.81 494.41h1M273.87 518.88h1M246.03 491.58h1M244.02 507.82h1M269.58 472.14h1M278.44 497.38h1M280.52 497.78h1M286.17 503.24h1M275.81 486.82h1M267.88 469.54h1M260.76 521.99h1M271.18 488.57h1M248.48 512.93h1M270.57 522.33h1M255.27 516.77h1M272.22 483.21h1M248.79 517.39h1M273.08 515.2h1M272.75 519.84h1M277.62 515.34h1M286.82 509.24h1M285.63 494.54h1M276.21 474.6h1M271.78 475.55h1M262.31 522.09h1M247.45 474.31h1M252 516.38h1M244.64 485.81h1M282.27 506.48h1M267.84 472.82h1" stroke="#0000d5" stroke-width="1" stroke-opacity="0.5"/>
<path d="M275.59 512.8h1M278.31 508.61h1M271.48 495.43h1M267.21 485.64h1M251.48 474.77h1M277.63 509.1h1M250.89 483.99h1M249.39 511.51h1M261.56 514.61h1M249.2 477.52h1M250.91 483.7h1M266.58 481.14h1M265.71 471.53h1M249.47 498.22h1M267.7 495.13h1M279.41 494.62h1M259.78 514.78h1M251.21 473.97h1M248.97 498.86h1M265.92 494.2h1M276.02 506.2h1M274.18 502.92h1M249.2 486.82h1M269.11 515.06h1M268.75 500.47h1M246.67 508.42h1M272.54 500.72h1M250.67 475.59h1M251.12 478.72h1M259.75 518.5h1M279.57 503.6h1M270.89 516.88h1M268.27 512.24h1M261.93 466.41h1M250.16 478.64h1M263.71 466.24h1M278.47 510.99h1M266.92 476.2h1M273.33 505.2h1M272.03 507.8h1M251.11 468.76h1M281.6 501.51h1M266.81 487.96h1M267.26 492.32h1M271.44 507.48h1M250.17 487.32h1M258.78 516.22h1M264.02 513.58h1M265.24 512.64h1M258.58 520.08h1M262.44 466.82h1M249.28 488.76h1M249.51 503.38h1M278.24 504.09h1M266.88 467.19h1M266.3 512.78h1M249.03 504.93h1M264.47 517.19h1M249.7 497.47h1M271.04 506.87h1M260.43 515.18h1M268.3 512.88h1M275.76 513.89h1M273.01 504.72h1M267.01 479.91h1M270.24 503.66h1M272.05 505.97h1M250.62 490.14h1M274.6 501.58h1M249.38 492.99h1M268.33 496.02h1M248.57 501.94h1M249.19 492.32h1M272.4 501.34h1M252.04 479.28h1M255.3 513.6h1M249.93 506.3h1M266.16 482.55h1M248.1 505.33h1M252.67 466.8h1M265.94 486.34h1M268.75 506.04h1M249.93 474.44h1M258.23 514.81h1M271.72 485.9h1M269.32 515h1M267.56 493.16h1M276.68 509.74h1M269.14 505.56h1M269.25 486.26h1M270.86 500.61h1M267.08 467.71h1M266.89 513.58h1M246.67 507.22h1M267.96 491.04h1M262.98 466.95h1M277.9 511.45h1M271.94 506.69h1M249.62 508.99h1M248.93 484.15h1M248.11 489.56h1M260.58 514.93h1M272.47 496.51h1M254.69 515.16h1M266.71 512.61h1M251.46 510.84h1M269.34 496.01h1M279.13 510.73h1M269.23 515.81h1M271.48 504.46h1M249.8 503.52h1M248.95 498.66h1M265.3 477.55h1M267.29 480.73h1M277.48 494.65h1M262.44 513.1h1M261.93 513.9h1M251.51 475.25h1M259.24 519.15h1M261.43 467.26h1M277.28 506.71h1M249.92 486.55h1M259.59 466.59h1M276.26 506.01h1M266.96 484.54h1M269.59 513h1M252.1 481.23h1M277.54 501.19h1M267.82 512.72h1M269 501.51h1M271.33 502.82h1M272.76 506.81h1M266.21 487.5h1M265.36 473.9h1M270.18 502.54h1M272.08 512.74h1M271.94 513.83h1M267.28 488.95h1M272.47 504.14h1M251.32 471.98h1M251.07 477.71h1M273.08 503.67h1M270.24 504.35h1M266.17 498.33h1M270.1 515.69h1M281.23 502h1M267.85 484.53h1M280.06 502.32h1M264.22 513.97h1M250.88 510.85h1M249.29 490.29h1M258.92 518.11h1M275.15 502.24h1M248.66 484.89h1M268.97 481.42h1M249.93 475.4h1M247.49 500.41h1M271.1 503.8h1M252.16 467.87h1M250.49 472.17h1M277.78 504.21h1M278.06 494.84h1M265.39 493.35h1M248.52 506.73h1M268.99 484.6h1M274.44 500.66h1M258.46 467.05h1M272.61 508.81h1M275.04 501.03h1M253.66 466.98h1M274.3 505.25h1M266.55 495.4h1M249.63 495.19h1M262.13 514.94h1M266.91 500.28h1M265.58 481h1M264.36 516.66h1M265.7 476.12h1M268.02 497.09h1M273.86 503.58h1M265.4 488.36h1M265.15 479.03h1M265.41 482.92h1M250.18 488.5h1M266.33 491.43h1M248.84 476.73h1M267.1 496.75h1M251.16 469.06h1M255.24 514.1h1M280.25 505.13h1M251.36 483.55h1M269.1 482.26h1M278.65 506.95h1M249.64 494.25h1M250.54 511.02h1M271.71 508.78h1M252.18 466.54h1M277.84 499.99h1M248.94 499.19h1M251.44 470.09h1M276.64 505.48h1M256.46 467.28h1M251.38 477.11h1M273.84 509.62h1M249.7 493.95h1M251.27 481.74h1M267.67 515.08h1M268.75 502.78h1M258.58 514.48h1M251.19 472.2h1M250.99 486.28h1M270.63 499.59h1M250.16 506h1M250.29 481.57h1M279.7 500.69h1M272.99 485.85h1M273.85 504.09h1M248.88 488.56h1M263.54 516.03h1M267.48 511.64h1M269.05 503.72h1M253.06 513.27h1M250.17 479.07h1M250.38 466.74h1M271.84 499.86h1M271.99 507.61h1M270.97 510.79h1M272.16 497.99h1M264.77 470.92h1M277.67 503.84h1M269.37 488.66h1M279.83 508.16h1M267.31 492.19h1M251.99 480.46h1M270.78 506.07h1M253.07 511.66h1M250.68 468.58h1M267.13 494.17h1M270.42 504.82h1M269.14 511.33h1M266.16 494.25h1M269.8 495.24h1M280.66 500.84h1M265.15 469.78h1M265.23 512.96h1M270.06 498.62h1M266.43 514.43h1M251.41 469.13h1M267.33 512.21h1M265.59 493.41h1M266.1 499.16h1M268.73 490.65h1M267.63 500.33h1M271.06 499.85h1M252.47 513.26h1M266.96 491.67h1M265.51 470.07h1M273.97 512.37h1M275.56 509.13h1M251.62 475.69h1M250.17 478.69h1M260.38 519.15h1M250.87 485.14h1" stroke="#000cff" stroke-width="1" stroke-opacity="0.65"/>
<path d="M251.97 497.51h1M251.74 509.02h1M251.33 505.15h1M264.27 495.06h1M253.2 499.93h1M250.67 505.36h1M262.02 484.79h1M260.41 475.19h1M253.35 496.21h1M263.54 512.91h1M253.39 483.47h1M255.26 467.72h1M253.82 491.2h1M262.8 487.94h1M259.16 513.44h1M259.7 484.3h1M254.32 468.53h1M249.88 502.32h1M266.15 500.77h1M263.46 468.37h1M260.1 513.62h1M264.2 486.74h1M251.93 506.48h1M267.64 508.87h1M250.33 501.26h1M250.88 501.04h1M254.77 512.08h1M262.82 512.1h1M258.52 470.47h1M253.38 476.65h1M253.81 467.97h1M261.35 477.13h1M269.42 510.07h1M252.36 470.84h1M252.91 489.19h1M261.94 468.28h1M261.88 487.46h1M265.14 491.71h1M264.36 479.53h1M261.63 482.76h1M264.62 491.72h1M267.49 504.63h1M256.72 490.28h1M253.56 498.74h1M259.67 484.42h1M250.65 509.63h1M263.96 477.58h1M263.55 472.93h1M252.06 509.83h1M258.33 491.18h1M260.23 484.7h1M250.91 502.94h1M264.45 477.73h1M253.17 472.8h1M251.84 509.11h1M260.5 490.51h1M266.56 502.59h1M250.15 496.46h1M263.13 511.89h1M252.83 477.18h1M253.14 473.44h1M256 468.98h1M252.52 490.97h1M251.66 504.55h1M249.71 495.68h1M260.58 482.55h1M267.1 502.27h1M256.52 490.01h1M264.64 511h1M268.62 509.59h1M262.43 486.34h1M257.12 496.02h1M259.16 488.99h1M264.12 488.71h1M264.22 512.08h1M256.67 469.53h1M254.39 499.64h1M250.55 508.58h1M265.25 501.95h1M250.73 507.56h1M260.13 468.25h1M268.38 510.03h1M259.41 490.12h1M251.64 509.81h1M256.89 469.62h1M261.26 483.91h1M265.12 483.53h1M252.01 482.17h1M250.84 505.28h1M251.05 507.51h1M251.4 488h1M254.16 498.42h1M250.4 507.62h1M262.43 474.62h1M265.38 484.02h1M265.21 484.65h1M263.56 486.05h1M262.61 495.76h1M263.47 484.8h1M253.63 491.84h1M254.44 511h1M252.81 491.6h1M257.11 489.28h1M261.21 486.59h1M258.4 469.76h1M257.18 476.39h1M261.38 485.61h1M252.92 469.53h1M265.16 501.89h1M261.88 483.66h1M257.04 473.36h1M261.13 484.18h1M261.51 480.13h1M258.5 471.87h1M252.68 500.71h1M258.45 490.24h1M252.85 479.84h1M251.93 490.74h1M257.74 512.8h1M265.15 489.85h1M250.82 502.71h1M262.34 487.22h1M269.65 508.62h1M255.56 494.31h1M250.73 502.97h1M263.48 482.54h1M253.39 483.02h1M255.08 498.5h1M268.11 508.65h1M252.13 495.8h1M257.24 472.2h1M257.27 469.95h1M261.1 490.85h1M269.66 508.49h1M250.87 504.24h1M261.94 477.41h1M259.29 490.5h1M262.21 487.88h1M252.01 483.31h1M254.18 498.55h1M257.39 470.81h1M263.66 473.63h1M251.18 487.75h1M251.84 490.36h1M257.91 476.7h1M264.61 473.27h1M264.2 491.31h1M258.2 497.81h1M262 511.79h1M265.37 498.45h1M261.76 497.67h1M265.13 498.03h1M263.51 486.74h1M263.12 494.42h1M251.22 501.61h1M263.03 511.77h1M251.06 489.84h1M267.8 501.84h1M258.73 471.16h1M260.32 490.89h1M255.92 490.25h1M253.34 474.75h1M264.99 484.75h1M250.2 509.18h1M259.22 468.55h1M252.77 491.26h1M264.21 487.87h1M256.47 497.99h1M252.84 468.97h1M254.71 511.32h1M269.18 510.17h1M264.24 476.51h1M255.47 488.95h1M266.31 502.42h1M265.31 496.13h1M250.45 496.11h1M260.41 480.73h1M263.98 474.84h1M265.59 503.07h1M262.76 475.54h1M258.55 513.1h1M249.9 495.99h1M265.93 503.41h1M262.45 485.72h1M251.22 490.54h1M261.3 476.53h1M253.17 500.85h1M262.84 483.07h1M262.28 484.46h1M267.14 504.41h1M254.51 492.7h1M257.68 468.89h1M263.93 484.85h1M264.97 485.61h1M258.85 470.44h1M252.69 496.89h1M263.42 482.28h1M253.78 473.69h1M253.9 490.43h1M250.95 492.63h1M265.26 502.7h1M265.19 495.24h1M254.19 497.97h1M252.96 484.67h1M262.96 484.87h1M253.67 469.74h1M256.34 489.71h1M258.52 476.71h1M265.08 499.48h1M252.29 488.29h1M264.14 470.62h1M252.11 484.63h1M254.31 497.21h1M252.2 497.01h1M253.7 510.73h1M269.11 510.47h1M264.29 512.31h1M255.03 490.5h1M257.32 472.67h1M259.72 512.77h1M263.71 477.57h1M263.52 470.7h1M253.9 481.09h1M254.72 495.86h1M252.1 505.04h1M263.83 476.52h1M265.89 485.11h1M264 496.16h1M261.1 477.27h1M267.97 510.57h1M256.91 493.45h1M252.04 470.8h1M263.97 480.47h1M259.08 468.5h1M257.48 489.95h1M253.38 484.05h1M252.71 485.13h1M259.35 468.24h1M252.49 473.96h1M250.39 507.91h1M267.9 503.38h1M265.1 491.33h1M261.51 481.67h1M252.9 488.45h1M255.27 497.05h1M261.04 468.85h1M252.74 487.18h1M258.42 476.36h1M250.74 498.93h1M250.91 509.28h1M251.56 486.1h1M251.97 498.85h1M266.03 484.34h1M264.81 490.01h1M258.57 472.23h1M264.48 489.28h1M260.67 484.82h1M260.29 482.86h1M264.4 491.39h1M261.96 477.4h1M261.89 468.76h1M262.35 484.54h1M264.27 480.79h1M252.85 483.6h1M266.18 510.18h1M257.71 512.04h1M258.94 497.58h1M263.55 493.87h1M264.04 485.8h1M263.98 496.17h1M259.86 512.64h1M263.02 476.69h1M255.4 467.91h1M270.11 508.7h1M267.2 502.76h1M250.38 508.31h1M251.86 490.22h1M254.66 498.05h1M251.2 504.03h1M263.33 470.62h1M264.59 473.92h1M260.12 490.72h1M258.45 497.04h1M253.09 484.95h1M260.39 496.72h1M251.29 498.64h1M255.33 490.83h1M267.75 506.21h1M252.06 476.25h1M252.66 470.79h1M265.53 510.39h1M264.02 476.71h1M252.83 473.97h1M264.81 486.48h1M266.92 505.65h1M251.08 501.66h1M256.01 472.88h1M270.4 509.56h1M265.59 484.72h1M264.17 489.98h1M255.8 497.56h1M250.56 501.99h1M252.39 472.08h1M251.76 495.95h1M251.67 489.28h1M251.94 497.76h1M266.31 508.64h1M258.78 512.75h1M250.79 499.75h1M253.65 474.11h1M256.38 512.35h1M268.16 507.35h1M252.45 482.42h1M261.31 484.15h1M262.21 482.77h1M254.15 490.7h1M252.53 486.12h1M253.38 476.12h1M263.2 472.83h1M256.69 498.81h1M253.82 491.43h1M262.53 511.46h1M257.2 512.29h1M264.1 476.95h1M267.4 503.13h1M254.91 511.29h1M257.57 468.69h1M251.64 508.79h1M264.69 472.59h1M255.52 468.61h1M266.1 501.24h1M252.88 473.63h1M263.95 492.09h1M252.74 476.89h1M262.36 485.28h1M264.3 496.8h1M264.72 484h1M250.2 494.18h1M252.48 498.47h1M250.74 504.06h1M251.47 472.8h1M252.1 501.04h1M254.87 496.01h1M264.07 490.15h1M265.39 497.04h1M262.88 494.53h1M264.98 480.63h1M267.19 505.52h1M268.73 506.62h1M252.8 480.14h1M255.73 493.66h1M260.57 495.94h1M267.58 501.34h1M263.97 486.31h1M250.11 496.66h1M250.98 497.47h1M270.28 508.7h1M253.93 474.99h1M270.86 509.01h1M269.83 508.13h1M253.68 498.77h1M251.46 492.69h1M263.08 475.31h1M258.71 475.14h1M267.36 506.63h1M262.98 467.78h1M260.68 489.48h1M253.38 496.34h1M253.64 478.8h1M265.18 473.12h1M253.26 481.74h1M254.32 498.19h1M259.99 497.14h1M264.23 512.12h1M254 492.08h1M253.78 468.22h1M264.81 485.8h1M264.81 481.03h1M260.08 484.87h1M268.28 508.24h1M262 496.26h1M259.66 476.42h1M250.84 493.26h1M253.16 483.09h1M253.11 471.57h1M251.93 498.28h1M251.15 496.48h1M265.72 511h1M258.07 476.23h1M255.35 497.76h1M263.74 495.77h1M267.86 506.95h1M255.35 496.8h1M251.22 493.65h1M268.24 511.24h1M257.61 512.62h1M251.88 469.87h1M263.64 468.5h1M264.94 472.76h1M252.56 486.54h1M255.71 499.3h1M263.13 469.24h1M262.43 476.75h1M260.35 497.32h1M263.24 475.16h1M265.16 472.65h1M255.81 468.67h1M265.16 511.08h1M252.32 497.32h1M258.14 472.31h1M252.75 498.58h1M259.4 476.94h1M252.18 489.49h1M265.78 501.33h1M253.71 478.26h1M256.62 469.84h1M263.35 510.95h1M263.01 475.45h1M264.62 483.78h1M261.17 489.77h1M256.22 467.77h1M258.79 490.57h1M261.67 511.98h1M254.23 490.8h1M262.74 493.13h1M262.21 484.08h1M261.54 511.62h1M265 484.15h1M253.82 480.61h1M253.24 496.99h1M257.21 495.38h1M250 496.56h1M259.75 475.47h1M255.72 511.7h1M251.51 501.42h1M265.33 494.85h1M264.78 474.66h1M252.43 500.9h1M263.12 492.2h1M263.55 493.51h1M253.07 485.87h1M255.32 495.32h1M265.22 497.85h1M259.83 468.49h1M251.68 489.7h1M262.53 474.5h1M253.61 479.03h1M252.29 473.03h1M269.27 507.39h1M250.55 501.38h1M264.09 483.41h1M262.37 467.59h1M252.98 475.69h1M252.57 471.85h1M270.6 509.8h1M264.19 513.19h1M268.51 506.61h1M253.62 477.9h1M264.01 510.88h1M251.71 507h1M260.43 495.94h1M263.15 475.73h1M262.99 469.57h1M257.14 488.97h1M259.31 498.55h1M260.69 497.62h1M265.05 496.24h1M254.62 511.31h1M265.34 500.42h1M251.19 495.97h1M251.33 494.91h1M267.68 508.28h1M252.67 496.84h1M263.76 468.47h1M256.88 471.32h1M253.01 480.21h1M260.12 475.21h1M266.78 501.24h1M264.76 485.09h1M263.53 488.46h1M260.33 482.51h1M251.83 488.11h1M263.48 483.17h1M265.14 501.19h1M255.66 493.81h1M260.01 513.21h1M257.49 469.52h1M265.19 501.56h1M268.06 504.22h1M251.97 474.76h1M265.31 498.66h1M269.8 509.87h1M263.61 475.69h1M263.72 477.84h1M258.7 468.08h1M256.83 511.83h1M261.3 489.23h1M256.43 496.64h1M263.67 492.28h1M263.86 473.05h1M253.74 480.75h1M255.26 468.63h1M264.22 478.89h1M263.89 489.02h1M251.01 491.6h1M251.51 487.14h1M259.9 497.04h1M258.44 512.31h1M251.91 498.88h1M254.51 467.86h1M251.08 499.91h1M262.66 486.98h1M262.98 474.69h1M266.64 501.14h1M263 471.48h1M253.73 474.23h1M260.43 474.94h1M260.09 467.81h1M254 484.09h1M255.13 467.72h1M264.35 469.93h1M252.47 483.78h1M268.68 508.6h1M252.35 484.41h1M264.21 470.22h1M251.05 498.82h1M256.26 467.82h1M253.43 496.49h1M261.18 497.21h1M255.76 494.52h1M251.17 501.43h1M270.37 509.75h1M263.24 469.46h1M263.09 494.78h1M264.83 475.81h1M257.15 471.41h1M253.87 481.6h1M261.46 467.9h1M252.7 471.64h1M262.67 496.02h1M264.64 494.45h1M250.57 492.58h1M250.45 495.94h1M255.28 495.76h1M263.56 473.17h1M259.09 496.49h1M264.01 511.06h1M254.8 492.47h1M264.14 488.12h1M257.61 470.08h1M256.56 472.58h1M255.07 497.16h1M263.96 474.24h1M264.86 477.34h1M268.13 511.36h1M264.69 500.09h1M263.11 493.03h1M261.33 475.25h1M267.23 504.08h1" stroke="#0049ff" stroke-width="1" stroke-opacity="0.84"/>
<path d="M254.08 481.35h1M253.14 492.8h1M253.71 501.93h1M256.11 477.01h1M253.84 485.82h1M258.88 491.85h1M255.83 511.07h1M259.97 469.91h1M256.23 487.56h1M266.09 505.51h1M254.75 474.19h1M258.38 478.62h1M255.93 485.68h1M254.52 475.59h1M256.36 481.18h1M261.01 498.36h1M253.07 503.84h1M251.61 494.1h1M258.17 475.15h1M256.6 487.54h1M258.08 473.24h1M259.8 494.45h1M260.9 478.28h1M262.51 481.29h1M264.84 510.2h1M257.71 475.05h1M262.89 492.3h1M253.22 493.83h1M258.33 473.94h1M261.66 490.39h1M251.92 503.51h1M260.67 487.66h1M259.65 486.84h1M254.09 470.11h1M263.42 497.88h1M259.97 477.53h1M257.12 497.63h1M254.38 510.01h1M252.46 492.86h1M264.29 498.59h1M253.47 494.32h1M259.47 471.09h1M261.01 473.67h1M258.48 472.68h1M256.05 491.98h1M258.51 488.72h1M260.55 510.82h1M261.83 478.76h1M254.72 500.38h1M255.85 487.41h1M256.67 491.11h1M263.44 498.29h1M251.99 502.24h1M258.83 488.71h1M255.71 480.74h1M262.19 495h1M259.81 501.46h1M254.16 470.69h1M259.09 473.46h1M257.32 479.66h1M263.56 501.88h1M260.86 471.84h1M261.71 469.87h1M253.96 500.98h1M253.13 508.94h1M262.15 481.07h1M263.22 478.94h1M260.85 473.78h1M261.07 492.95h1M262.8 510.69h1M253.79 477.23h1M266.61 507.68h1M257.75 483.74h1M261.87 482.01h1M254.95 473.11h1M257.49 511.16h1M259.06 478.87h1M264.08 497.5h1M262.49 510.39h1M255.2 471.24h1M253.39 501.46h1M254.73 494.8h1M256.86 484.23h1M256.07 477.45h1M256.51 484.38h1M263.26 491.51h1M258.77 487.88h1M253.46 493.96h1M256.61 510.57h1M252.77 493.95h1M254.27 471.35h1M256.99 487.54h1M264.19 509.43h1M253.89 509.48h1M261.02 493.81h1M258.45 485.62h1M253.17 503.79h1M255.06 484.42h1M258.01 495.15h1M262.29 490.39h1M262.32 495.03h1M254.45 510.3h1M255.56 492.91h1M259.03 492.74h1M251.93 503.52h1M253.41 487.7h1M257.37 478.46h1M256.52 491.2h1M254.51 488.36h1M261.88 494.98h1M261.07 469.17h1M263.98 504.47h1M254.63 478.72h1M258.52 492.99h1M256.22 484.19h1M256.81 497.17h1M260.24 494.83h1M253.85 485.68h1M266.3 505.29h1M259.72 493.09h1M257.26 486.94h1M254.29 476.11h1M258.74 501.35h1M251.3 493.1h1M253.94 482.34h1M256.41 487.19h1M253.81 482.68h1M257.43 485.86h1M258.33 485.57h1M256.94 510.75h1M260.61 493.08h1M264.14 503.25h1M256.85 474.2h1M266.74 504.76h1M255.43 483.8h1M259.26 494.85h1M259.38 500.96h1M254 486.58h1M257.83 478.99h1M258.03 496.61h1M254.52 494.95h1M252.55 504.77h1M252.95 503.61h1M258.03 483.69h1M260.22 491.2h1M262.09 472.05h1M260.83 498.85h1M260.98 471.15h1M255.78 490.84h1M261.42 471.71h1M263.6 498.37h1M262.59 471.25h1M256.48 481.84h1M258.18 499.49h1M263.67 499.73h1M253.5 501.92h1M255.06 494.05h1M254.53 471.93h1M261.75 472.22h1M257.22 476.07h1M262.75 481.17h1M260.65 470.58h1M261.11 499.56h1M258.1 495.8h1M262.12 477.81h1M259.06 480.08h1M260.32 493.41h1M259.15 492.77h1M257.52 478.59h1M263.77 489h1M254.46 476.9h1M257.1 509.99h1M263.23 501.34h1M257.66 497.43h1M254.88 501.25h1M256.25 485.12h1M260.61 487.47h1M251.42 492.83h1M259.54 478.67h1M255.82 470.28h1M254.91 487.88h1M259.93 511.36h1M255.61 486.18h1M262.14 479.42h1M256.11 470.45h1M262.87 490.23h1M255.53 485.09h1M264.21 500.54h1M259.78 491.86h1M254.84 500.38h1M264.59 503.01h1M256.07 474.29h1M259.8 487.73h1M265.29 504.89h1M254.83 487.16h1M263.86 498.12h1M254.47 510.86h1M254.38 480.13h1M254.43 486.45h1M255.74 480.8h1M254.47 469.6h1M252.41 494.93h1M263.21 497.77h1M254.14 479.75h1M253.72 470.26h1M256.89 487.6h1M258.66 500.42h1M255.73 480.76h1M259.29 485.55h1M253.74 482.86h1M260.31 474.14h1M252.12 493.26h1M253.53 473.29h1M262.63 478.71h1M256.26 480.72h1M263.15 481.27h1M265.92 504.32h1M253.48 508.99h1M251.41 503.68h1M255.46 475.27h1M260.81 493.55h1M260.95 493.41h1M255.37 483.38h1M261.96 473.21h1M256.47 492.57h1M254.61 469.17h1M255.71 492.35h1M263.11 485.96h1M255.94 475.75h1M251.83 493.99h1M259.3 494.87h1M256.72 478.02h1M257.9 485.79h1M252.38 507.54h1M263.08 502.57h1M265.82 507.63h1M265.89 503.49h1M255.19 476.96h1M254.67 471.34h1M256.15 483.07h1M254.52 478.32h1M252.28 505.35h1M265.67 503.51h1M259.56 511.84h1M259.12 486.07h1M259.16 488.87h1M256.04 501.16h1M261.85 509.96h1M251.39 502.21h1M261.22 474.18h1M261.44 473.92h1M257.79 496.97h1M261.27 495.27h1M263.49 489.25h1M255.89 499.57h1M255.84 491.46h1M262.82 480.23h1M258.37 498.91h1M251.73 507.78h1M254.86 484.61h1M263.64 497.22h1M260.49 487.69h1M254.08 494.1h1M254.7 493.59h1M255.37 476.47h1M258.34 484.4h1M252.44 493.4h1M262.98 480.75h1M259.5 469.92h1M260.03 473.32h1M258.23 485.3h1M259.25 482.31h1M263.07 478.53h1M253.95 489.2h1M254.51 483.93h1M261.24 477.63h1M259.08 493.59h1M257.46 511.18h1M258.13 501.88h1M259.97 487.28h1M261.58 510.28h1M265.82 508.92h1M258.37 493.79h1M260.93 478.47h1M254.59 489.04h1M260.72 499.7h1M259.84 487.53h1M258.85 486.99h1M254.07 477.13h1M253.82 501.03h1M256.42 497.22h1M261.28 493.65h1M258.92 491.22h1M259.68 480.7h1M259.91 478.45h1M255.74 481.9h1M252.57 494.87h1M259.94 478h1M261.06 477.58h1M265.07 509.11h1M257.89 478.88h1M252.87 492.24h1M264.69 498.46h1M261.2 473.44h1M255.96 476.6h1M259.97 511.71h1M260.89 491.96h1M260.2 494.69h1M262.36 489.2h1M255.78 485.34h1M255.38 472.76h1M262.49 489.71h1M258.22 495.74h1M253.73 489.34h1M259.39 512.45h1M256.17 483.81h1M257.69 486.59h1M262.1 488.36h1M253.24 488.82h1M258.53 484.31h1M254.38 510.03h1M256.23 492.11h1M258.95 493.87h1M255.78 478.41h1M252.51 495.63h1M256.59 497.59h1M257.1 493.21h1M261.89 478.72h1M258.14 493.97h1M256.09 488.01h1M254.44 477.75h1M263.37 502.48h1M251.98 507.68h1M258.12 488.82h1M260.17 481.28h1M252.84 494.59h1M253.51 500.94h1M255.34 487.72h1M251.73 502.52h1M252.5 494.03h1M257.22 482.55h1M253.99 469.73h1M266.71 506.11h1M263.11 499.7h1M261.03 487.2h1M261.23 471.46h1M257.6 494.95h1M255.2 479.75h1M262.09 499.1h1M255.72 500.53h1M255.8 478.55h1M252.63 507.58h1M252.13 493.32h1M259.28 470.43h1M257.45 479.66h1M263.44 503.35h1M265.61 508.82h1M254.65 486.69h1M253.91 478.36h1M255.59 500.43h1M260.3 477.42h1M258.63 477.16h1M259.86 495.58h1M258.3 499.19h1M257.3 487.64h1M262.75 472.43h1M264.15 502.63h1M257.71 474.93h1M255.72 478.23h1M263.85 502.73h1M256.89 474.2h1M260.28 511.35h1M256.3 470.24h1M255.26 500.98h1M260.31 471.59h1M256.37 484.85h1M259.62 482.16h1M253.42 509.86h1M256.97 475.12h1M261.32 487.08h1M257.5 480.48h1M263.15 497.68h1M258.66 474.57h1M263.12 482.49h1M255.81 510.03h1M260.62 486.18h1M263.22 501.2h1M255.89 474.91h1M263.09 479.1h1M257.4 500.77h1M261.67 473.09h1M255.42 510.04h1M259.78 512.54h1M259.15 478.79h1M262.7 491.28h1M258.96 483.12h1M256.3 484.32h1M255.89 470.87h1M262.36 494.77h1M254.71 471.17h1M261.55 498.37h1M253.71 510.15h1M258.02 501.96h1M257.93 491.87h1M251.79 504.13h1M256.11 491.99h1M263.62 503.92h1M257.33 496.93h1M253.29 502.25h1M259.97 471.2h1M258.75 510.86h1M256.16 475.6h1M257.49 487.02h1M255.24 471.13h1M256.34 492.05h1M259.46 473.22h1M260.05 485.19h1M258.43 478.86h1M261.01 493.36h1M257.07 484.94h1M261.68 488.1h1M252.99 492.53h1M260.99 510.32h1M256.5 501.31h1M256.4 485.83h1M256.12 491.77h1M255.83 491.82h1M252.07 492.46h1M255.59 482.35h1M262.55 471.07h1M263.13 481.77h1M257.29 474.57h1M256.47 478.24h1M255.11 486.42h1M255.36 482.17h1M260.23 481.68h1M260.52 495.27h1M263.95 498.16h1M257.21 481.13h1M262.97 496.96h1M258.46 511.4h1M262.15 489.58h1M259.68 479.42h1M257.37 475.74h1M253.4 486.83h1M255.51 475.59h1M261.55 468.93h1M257.68 482.4h1M263.9 496.85h1M255.86 475.34h1M263.28 489.04h1M256.41 483.32h1M256.56 488.4h1M258.86 485.9h1M255.2 475.8h1M264 501.72h1M260.22 486.19h1M261.37 473.33h1M255.93 474.82h1M258.55 479.49h1M260.03 494.73h1M263.93 504.2h1M252.94 490.78h1M256.77 481.62h1M258.51 483.51h1M258.25 493.53h1M254.19 486.05h1M254.5 470.19h1M262.95 509.88h1M260.41 500.6h1M257.5 495.38h1M257.99 499.18h1M259.39 511.16h1M260.71 469.24h1M252.07 494.84h1M257.35 477.55h1M257.26 487.81h1M255.51 510.52h1M259.22 491.26h1M263.43 501.62h1M253.37 487.57h1M256.23 479.2h1M257.48 482.59h1M257.2 496.74h1M253.97 494h1M263.34 479.4h1M261.15 471.01h1M259.28 472.83h1M263.8 509.92h1M264.02 498.07h1M254.58 472.81h1M265.18 506.12h1M256.63 487.47h1M262.8 481.67h1M262.49 473.36h1M262.56 481.74h1M261.81 494.49h1M266.1 505.91h1M259.56 479.42h1M253.46 509.45h1M266.23 507.58h1M257.82 488.78h1M255.37 469.4h1M261.26 493.51h1M261.55 493.37h1M259.85 501.35h1M256.28 480.66h1M253.49 472.68h1M258.79 491.51h1M260.61 498.06h1M256.32 510.03h1M262.36 469.57h1M261.47 472.34h1M259.26 487.66h1M257.63 483.7h1M260.17 510.79h1M253.86 494.76h1M263.72 502.13h1M260.29 511.76h1M259.46 477.31h1M257.09 485.3h1M266.03 504.02h1M254.3 482.29h1M262.11 482.37h1M255.75 482.7h1M254.61 471.04h1M259.74 487h1M258.46 492.28h1M252.39 494.85h1M254.05 476.74h1M257.7 511.04h1M254.11 483.29h1M253.24 509.35h1M256.28 481.66h1M253.92 494.1h1M259.55 478.67h1M262.95 481.23h1M261.95 498.63h1M253.82 476.81h1M263.17 499.77h1M253.08 490.26h1M254.27 471.18h1M262.82 491.27h1M252.36 507.48h1M257.5 499.68h1M255.22 482.2h1M260.07 486.18h1M254.03 486.71h1M261.18 470.36h1M259.56 498.95h1M262.49 491.74h1M260.36 488.14h1M255.3 486.82h1M265.79 508.29h1M259.89 486.58h1M259.64 511.26h1M258.7 486.54h1M253.72 488.26h1M261.26 495.39h1M264.15 510.11h1M259.7 470.38h1M254.75 487.22h1M256.21 474.28h1M261.75 473.52h1M259.17 479.39h1M254.59 483.89h1M254.45 501.45h1M255.64 487.58h1M263.48 480.03h1M258.35 510.61h1M254.68 477.19h1M260.49 510.29h1M254.2 489.24h1M254.99 474.29h1M252.45 507.53h1M257.56 497.73h1M259.17 486.16h1M262.35 479.08h1M253.44 471.79h1M262.15 481.2h1M258.19 496.01h1M256.98 475.13h1M254.29 480.33h1M253.73 472.8h1M264.58 510.22h1M257.78 492.49h1M263.24 479.5h1M256.18 511.3h1M263.6 480.15h1M255.69 477.71h1M257.33 498.91h1M264.71 509.97h1M254.11 501.16h1M263.24 480.47h1M262.13 470.53h1M260.96 470.65h1M253.76 488.64h1M264.29 503.42h1M254.59 501.04h1M258.15 473.5h1M255.25 469.67h1M261.37 492.23h1M260.99 499.61h1M253.64 486.21h1M256.96 473.87h1M260.31 479.58h1M255.16 479.67h1M261.96 495.28h1M257.65 494.19h1M262.04 470.87h1M258.88 495.24h1M257.74 485.43h1M262.59 490.11h1M266.36 507.5h1M260.54 473.9h1M261.64 498.31h1M253.01 504.53h1M255.17 500.3h1M262.57 495.16h1M257.06 499.45h1M258.25 501.38h1M253.7 494.41h1M260.18 511.7h1M254.06 487.69h1M256.97 479.47h1M257.34 492.05h1M254.1 476.86h1M259.29 486.61h1M262.12 470.22h1M251.31 502.5h1M262.24 477.69h1M261.63 472.07h1M260.05 499.14h1M258.15 484.59h1M261.84 489.33h1M255.14 499.83h1M260.87 510.9h1M258.04 499.67h1M253.95 488.14h1M263.28 482.3h1M259.25 480.44h1M260.82 471.45h1M253.08 494.54h1M263.39 481.21h1M259.03 487.96h1M257.71 500.76h1M256.4 510.38h1M252.71 506.85h1M258.5 473.74h1M262.18 491.63h1M256.46 478.58h1M262.09 491.86h1M260.23 481.21h1M263.4 500.12h1M259.05 478.93h1M259.66 470.04h1M262.41 469.67h1M257.86 494.96h1M252.17 502.44h1M253.97 494.53h1M257.64 483.27h1M260.18 491.6h1M254.44 474.44h1M257.36 499.47h1M262.08 478.59h1M255.11 473.32h1M259.77 471.62h1M257.45 494.61h1M251.58 492.63h1M258.89 488.59h1M255.81 488.56h1M261.82 471.13h1M261.91 493.1h1M260.26 470.6h1M260.63 498.9h1M258.49 485.43h1M259.36 494.33h1M256.81 501.18h1M254.78 480.19h1M255.61 471.04h1M257.71 494.42h1M257.39 511.03h1M264.59 505.59h1M259.35 491.59h1M261.74 469.6h1M260.19 511.55h1M261.1 493.41h1M264.83 506.15h1M255.1 482.23h1M257.25 487.54h1M255.25 472.83h1M261.93 498.58h1M261.62 491.92h1M254.64 471.28h1M259.9 500.03h1M257.09 487.62h1M263.6 497.63h1M262.94 485.66h1M256.1 491.27h1M253.01 502.75h1M259.66 472.8h1M260.12 474.5h1M254.16 487.44h1M254.59 485.39h1M263.52 485.07h1M263.63 490.24h1M259.88 473.2h1M255.48 475.36h1M259.35 478.5h1M252.77 508.24h1M258.98 474.03h1M263.42 499.33h1M254.01 494.37h1M265.66 504.84h1M255.7 488.09h1M257.25 493.15h1M257.06 479.55h1M265.56 505.92h1M254.63 477.2h1M258.75 510.29h1M257.53 492.21h1M258.77 477.61h1M259.31 473.82h1M258.97 477.43h1M260.06 478.24h1M255.72 475.16h1M256.9 498.44h1M254.99 477.18h1M259.04 488.67h1M260.29 511.92h1M256.61 501.38h1M253.05 509.05h1M258.95 480.31h1M265.84 505.6h1M258.2 499.14h1M253.44 487.93h1M263.61 498.54h1M263.04 485.4h1M259.45 474.72h1M259.21 482.35h1M254.09 489.37h1M265.04 505.32h1M261.02 495.38h1M263.01 497.98h1M258.55 487.83h1M263.72 485.62h1M255.77 475.54h1M257.29 477.67h1M262.12 489.32h1M255.95 500.21h1M254.79 471.48h1M257.98 477.78h1M260.1 485.94h1M259.89 473.61h1M259.74 473.57h1M262.3 492.91h1M257.7 494.02h1M259.89 498.55h1M253.28 495.25h1M261.41 510.81h1M257.39 500.77h1M259.88 470.11h1M262.15 472.9h1M261.55 472.36h1M254.65 471.7h1M259.04 474.35h1M259.77 477.63h1M256.37 487.17h1M258.2 499.74h1M256.25 483.38h1M266.57 508.12h1M260.75 500.02h1M252.89 492.85h1M255.39 480.45h1M260.47 494.99h1M259.8 488.41h1M264.4 501.11h1M257.27 511.18h1M255.19 469.52h1M264.7 504h1M256.61 485.88h1M265 509.44h1M262.67 479.73h1M256.92 481.73h1M255.34 474.23h1M263.34 497.65h1M260.13 498.47h1M265.66 506.64h1M258.57 495.51h1M252.69 503.53h1M261.88 487.85h1M255.84 485.38h1M259.86 481.04h1M262.54 473.94h1M263.77 489.47h1M253.35 490.48h1M258.83 492.32h1M254.58 470.63h1M262.57 470.08h1M257.41 510.76h1M266.32 507.42h1M266.64 504.4h1M257.67 501.88h1M262.13 489.98h1M254.87 472.31h1M264.65 498.25h1M255.66 499.94h1M261.56 494.35h1M255.02 486.18h1M260.38 472.97h1M255.2 486.69h1M255.96 480.33h1M253.29 494.71h1M259.26 501.52h1M260.47 471.33h1M256.34 484.5h1M256.89 497.35h1M254.05 478.13h1M255.09 480.06h1M255.68 510.16h1M260.25 498.71h1M254.54 479.51h1M254.01 471.55h1M255.09 500.33h1M258.58 472.87h1M255.52 471.73h1M260.3 491.58h1M266.5 504.7h1M256.62 491.45h1M256.78 486.13h1M262.65 491.31h1M260.48 499.86h1M266.61 507.75h1M263.74 499.05h1M262.14 469.6h1M265.12 503.71h1M259.86 479.42h1M264.09 509.66h1M253.28 490.2h1M257.58 479.09h1M255.85 491.72h1M256.15 474.51h1M265.57 507.21h1M262.53 490.03h1M256.1 484.5h1M262.36 480.85h1M263.7 490.83h1M256.93 511.18h1M255.31 486.21h1M260.79 492.69h1M255.49 477.93h1M254.26 482.27h1M259.45 499.39h1M262.58 477.77h1M263.4 480.45h1M258.37 484.59h1M254.52 482.55h1M258.7 494.32h1M261.11 469.42h1M263.86 498.51h1M262.58 488.76h1M258.37 495.87h1M254.41 492.97h1M258.54 486.14h1" stroke="#0087e7" stroke-width="1" stroke-opacity="0.95"/>
<path d="M260.01 502.07h1M256.15 509.89h1M262.06 502.57h1M260.37 509.83h1M260.64 501.22h1M253.77 504.31h1M264 506.15h1M256.25 509.02h1M263.12 504.38h1M264.1 506.5h1M261.56 502.06h1M255.05 509.34h1M255.55 502.92h1M256.18 501.85h1M261.07 503.94h1M262.95 506.65h1M264.59 508.68h1M258.29 502.96h1M264.23 507.64h1M259.66 501.99h1M256.26 501.5h1M255.5 509.64h1M265.31 508.15h1M262.06 499.62h1M259.19 481.32h1M264.26 507.07h1M255.93 509.98h1M261.46 502.86h1M256.45 502.58h1M260.58 501.99h1M256.01 508.6h1M257.99 502.36h1M253.28 504.99h1M264.42 507.6h1M262.93 504.68h1M262.38 499.86h1M259.06 502.9h1M261.37 503.52h1M261.76 502.91h1M260.5 501.06h1M260.3 509.9h1M263.89 505.24h1M254.18 504.56h1M253.34 505.72h1M264.37 506.84h1M262.02 502.85h1M262.58 502.34h1M262.7 500.46h1M257.71 480.9h1M254.53 508.87h1M259.28 502.26h1M258.05 509.55h1M261.24 501.32h1M258.17 482.34h1M261.9 500.17h1M256.2 502.33h1M254.48 504.24h1M258.97 482.01h1M252.8 507.09h1M253.77 504.82h1M262.19 501.38h1M253.33 508.13h1M260.59 509.3h1M255.79 502.84h1M263.78 508.54h1M261.71 500.67h1M262.9 504.82h1M263.42 509.09h1M261.14 509.72h1M254.16 504.83h1M256.15 501.75h1M254.58 502.71h1M263.71 506.79h1M258.4 482.56h1M261.94 502.4h1M262.32 509.4h1M262.39 500.64h1M261.29 502.53h1M259.22 481.96h1M263.81 507.32h1M260.22 509.54h1M255 508.82h1M263.98 506.66h1M254.24 502.09h1M264.64 506.25h1M265.17 507.24h1M263.23 505.62h1M261.48 503.39h1M263.72 507.23h1M253.55 506.45h1M264.08 509.09h1M262.7 500.25h1M254.44 508.59h1M259.13 482.37h1M258.45 480.99h1M258.08 481.05h1M260.15 502.15h1M256 508.32h1M257.67 481.82h1M253.07 508h1M259.36 482.07h1M253.82 503.9h1M254.26 509.32h1M261.15 502.12h1M261.83 502.96h1M262.37 509.68h1M261.74 501.21h1M257.6 502.68h1M258.81 502.69h1M255.25 509.16h1M253.69 505.18h1M264.37 507.65h1M260.95 502.43h1M262.63 509.31h1M253.57 506.89h1M261.35 500.51h1M260.51 502.88h1M253.75 502.67h1M264.15 507.28h1M261.7 509.42h1M261.13 501.2h1M261.2 504.06h1M262.91 500.21h1M258.58 510h1M261.36 503.12h1M262.23 509.5h1M253.68 504.55h1M262.84 508.89h1M259.42 510.3h1M258.07 481.03h1M261.22 501.54h1M262.55 503.99h1M259.05 481.59h1M264.84 508.06h1M254.07 505.08h1M262.87 500.31h1M257.85 481.12h1M253.5 508.51h1M256.27 509.79h1M258.43 480.32h1M257.78 480.92h1M258.63 482.09h1M259.87 502.9h1M254.75 503.45h1M261.84 503.97h1M258.47 509.98h1M259.33 503.58h1M254.36 503.49h1M264.53 507.34h1M261.09 500.67h1M256.31 501.69h1M254.45 503.92h1M258.44 502.27h1M262.07 500.07h1M257.76 480.68h1M263.59 508.45h1M264.77 508.28h1M262.78 501.09h1M259.17 503.45h1M259.48 510.09h1M255.53 502.84h1M262.5 501.67h1M255.41 502.25h1M253.19 507.77h1M254.38 502.27h1M262.78 509.03h1M258.01 502.24h1M254.21 503.8h1M256.05 508.18h1M265.48 507.61h1M254.73 502.49h1M260.59 502.94h1M254.74 508.62h1M262.7 500.85h1M260.04 501.39h1M263.82 506.36h1M253.7 505.35h1M258.65 482.35h1M262.25 509.14h1M255.5 502.99h1M253.41 505.82h1M262.79 508.83h1M263.97 505.71h1M259.09 482.11h1M254.12 504.2h1M256.54 502.79h1M263.03 505.37h1M261.05 502.69h1M259.55 503.06h1M254.67 503.62h1M255.89 501.57h1M261.67 503.31h1M256.8 508.78h1M256.62 501.83h1M254.06 502.28h1M262.57 503.99h1M259.06 509.82h1M254.19 503.8h1M261.72 501.24h1M254.24 504.65h1M262.99 499.83h1M259.57 503.91h1M254.87 508.84h1M254.33 504.12h1M258.53 481.56h1M262.79 504.04h1M258.53 482.12h1M254.28 504.85h1M259.61 503.47h1M262.67 500.73h1M254.39 503h1M255.51 487.2h1M253.55 507.2h1M258.58 503.22h1M262.89 504.78h1M258.07 481.96h1M265.14 506.88h1M260.91 500.74h1M263.6 505.44h1M259.5 502.46h1M263.33 509.07h1M261.32 499.82h1M259.07 481.12h1M258.12 480.69h1M257.51 482.03h1M255.17 502.43h1M262.47 501.52h1M261.77 509.1h1M253.4 507.05h1M256.49 508.24h1M262.98 505.07h1M253.93 503h1M253.74 507.85h1M263.02 507.41h1M262.74 502.94h1M254.67 502.93h1M254.24 508.51h1M264 507.65h1M256.57 508.96h1M265.02 507.58h1M264.45 508.78h1M256.52 509.09h1M261.12 504h1M260.23 501.74h1" stroke="#00c6ac" stroke-width="1" stroke-opacity="0.95"/>
<path d="M255.62 506.14h1M262.68 505.89h1M262.49 505.03h1M256.16 507.85h1M263.34 508.21h1M263.47 507.73h1M257.3 508.31h1M262.04 506.04h1M257.05 506.72h1M260.29 505.22h1M256.23 506.64h1M254.87 505.41h1M262.82 508.16h1M259.32 504.46h1M254.95 507h1M261.95 504.98h1M255.11 507.74h1M261.59 505.18h1M253.88 507.37h1M261.37 507.01h1M254.71 507.99h1M257.88 508.91h1M259.91 505.07h1M254.91 506.56h1M254.92 506.24h1M261.8 505.2h1M256.7 506.65h1M255.97 503.97h1M261.8 508.32h1M254.49 505.77h1M254.62 507h1M261.55 505.46h1M262.76 505.22h1M254.47 507.28h1M257.1 503.65h1M258.31 503.69h1M256.16 504.62h1M257.23 507.73h1M261.98 507.96h1M257.74 503.16h1M260.46 508.58h1M261.79 505.24h1M256.31 504.45h1M255.14 507.38h1M258.63 509.08h1M259.35 509.16h1M263.8 508.05h1M255.5 504.11h1M256.03 504.07h1M262.32 506.63h1M259.13 504.39h1M260.49 509.17h1M256.76 506.52h1M261.79 506.89h1M255.74 505.89h1M256.37 504.43h1M261.22 508.53h1M254.62 507.15h1M261.38 504.49h1M258.77 509.15h1M260.28 505.2h1M256.24 504.63h1M258.48 508.83h1M254.85 506.45h1M256.14 505.86h1M254.36 505.91h1M258.58 503.57h1M255.47 505.53h1M255.97 507.58h1M260.66 508.26h1M253.72 506.95h1M261.58 505.48h1M254.21 505.71h1M261.39 508.65h1M262.3 506.31h1M261.98 508.75h1M261.34 506.82h1M263.85 508.05h1M256.51 506.13h1M260.48 508.71h1M256.46 505.99h1M257.1 507h1M258.01 503.39h1M255.55 507.43h1M261.26 506.73h1M256.53 507.41h1M261.9 505.09h1M256.75 503.93h1M262.01 506.17h1M262.66 504.84h1M256.21 504.59h1M261.41 505.95h1M262.82 508.02h1M254.65 506.77h1M259.07 504.26h1M262.27 508.32h1M256.68 507.66h1M261.13 507.29h1M261.06 504.87h1M256.4 502.94h1M254.3 508.01h1M257.76 508.4h1M260.76 508.07h1M260.68 508.73h1M257.57 508.91h1M258.71 503.53h1M254.64 508.15h1M259.52 505.01h1M261.65 506.37h1M262.8 508.35h1M254.61 508.25h1M254.51 506.92h1M256.42 507.26h1M261.01 507.7h1M255.82 503.51h1M259.61 504.65h1M254.81 507h1M261.41 504.78h1M261.41 507.29h1M257.33 503.58h1M261.86 505.45h1M257.35 503.33h1M255.82 508.07h1M255.26 505.27h1M256.84 503.98h1M254.11 507.15h1M256.43 503.34h1M259.12 503.72h1M262.13 505.37h1M256.09 503h1M254.68 506.02h1M256.36 505.63h1M254.98 505h1M254.08 506.14h1M261.49 506.74h1M256.09 503.23h1M256.68 507.56h1M256.5 506.48h1M262.1 508.61h1M261.69 504.73h1M255.55 504.37h1M261.06 504.7h1M261.34 505.38h1M257.7 504.04h1M258.45 504.14h1M260.29 505.16h1M254.2 507.07h1M254.18 507.62h1M254.22 506.9h1M256.05 505.65h1M262.53 504.83h1M262.24 506h1M255.18 506.41h1M259.99 508.73h1M260.49 509h1M255.67 507.93h1M258.57 503.45h1M255.23 503.37h1M261.34 507.08h1M258.19 508.99h1M253.71 507.1h1M261.91 508.22h1M254.97 506.28h1M261.03 507.85h1M260.46 505.26h1M261.46 505.94h1M257.23 507.18h1M260.63 505.61h1M262.27 504.73h1M262.81 508.6h1M261.49 506.91h1M257.76 508.46h1M258.44 509.03h1M261.23 507.42h1M257.11 503.72h1M263.87 507.88h1M255.14 505.76h1M255.76 507.42h1M262.32 508.32h1M255.02 508.05h1M260.77 508.62h1M262.84 504.81h1M256.03 503.19h1M262.48 505.72h1M258.11 503.81h1M263.31 508.14h1" stroke="#30d852" stroke-width="1" stroke-opacity="0.95"/>
<path d="M259.25 505.5h1M259.44 506.43h1M260.14 507.6h1M258.79 506.79h1M258.38 505.87h1M258.06 504.8h1M258.62 504.81h1M257.89 505.15h1M257.34 505.32h1M256.81 504.92h1M259.33 505.19h1M259.05 508.5h1M258.94 507.01h1M258.24 507.55h1M258.63 507h1M257.08 504.99h1M258.43 506.33h1M258.31 508.52h1M260.38 506.85h1M259.05 508.53h1M256.7 505.45h1M259.83 505.9h1M260.28 506.88h1M258.16 505.73h1M259.59 505.91h1M258.91 505.79h1M260.18 506.04h1M256.63 504.41h1M257.4 504.44h1M257.8 505.05h1M259.05 504.92h1M257.69 505.91h1M256.6 504.89h1M259.91 506.38h1M260.02 505.93h1M257.11 506.45h1M258.6 508.84h1M259.26 505.24h1M257.69 506.04h1M258.22 505.05h1M257.59 507.34h1M260.7 507.54h1M258.02 504.67h1M259.31 506.3h1M258.75 506.98h1M258.54 506.1h1M256.85 504.43h1M259.49 505.41h1M256.7 505.2h1M259.54 507.89h1M258.26 508.42h1M257.89 505.24h1M260.47 508.35h1M257.61 507.61h1M259.58 507.58h1M257.83 506.99h1M256.47 505.4h1M258.01 506.21h1M260.73 506.88h1M259.77 506.38h1M257.06 506.33h1M258.95 508.35h1M258.94 505.14h1M258.18 508.15h1M258.9 508.1h1M258.14 506.46h1M257.59 505.42h1M257.95 507.35h1M259.05 508.38h1M259.71 507.58h1M259.94 507.75h1M257.13 504.44h1M258.93 508.35h1M258.42 504.52h1M258.68 506.43h1M259.69 505.77h1M258.55 507.82h1M258.52 508.41h1M257.88 507.46h1M258.09 508.33h1M258.76 505.88h1M258.54 508.36h1M258.51 505.7h1M258.97 505.09h1M260.08 505.89h1M257.36 504.4h1M258.04 507.3h1M259.04 508.06h1M257.21 504.74h1M258.06 506.6h1M260.54 507.77h1M259.33 508.32h1M259.7 508.09h1M258.9 508.45h1M259.7 507.03h1M257.37 506.05h1M260.7 507.87h1M257.86 505.27h1M257.23 505.73h1M258.13 508.57h1M259.86 508.5h1M257.21 506.56h1M257.11 504.14h1M259.06 505.42h1M258.54 507.9h1M259.7 506.35h1M260.5 506.89h1M259.39 507.12h1M259.21 505.25h1M259.36 508.54h1M256.96 504.18h1M258.68 506.7h1M259.5 506.88h1M259.64 506.43h1M256.57 505.28h1M260.19 506.24h1M257.18 504.25h1M256.84 505.91h1M260.44 507.89h1" stroke="#95e216" stroke-width="1" stroke-opacity="0.95"/>
<path d="M259.34 507.69h1M258.86 507.73h1M259.26 507.24h1M259.29 507.7h1M259.27 507.61h1M258.85 507.79h1" stroke="#e2ca00" stroke-width="1" stroke-opacity="0.95"/>
</g>
<rect x="26.2" y="457.2" width="66.8" height="66.8" fill="none" stroke="#c2c2c2" stroke-width="0.9"/>
<rect x="26.2" y="540.2" width="66.8" height="67.3" fill="none" stroke="#c2c2c2" stroke-width="0.9"/>
<rect x="96.5" y="457.2" width="67" height="66.8" fill="none" stroke="#c2c2c2" stroke-width="0.9"/>
<rect x="96.5" y="540.2" width="67" height="67.3" fill="none" stroke="#c2c2c2" stroke-width="0.9"/>
<rect x="167.8" y="457.2" width="66.8" height="66.8" fill="none" stroke="#c2c2c2" stroke-width="0.9"/>
<rect x="167.8" y="540.2" width="66.8" height="67.3" fill="none" stroke="#c2c2c2" stroke-width="0.9"/>
<rect x="238.5" y="457.2" width="66.8" height="66.8" fill="none" stroke="#c2c2c2" stroke-width="0.9"/>
<rect x="238.5" y="540.2" width="66.8" height="67.3" fill="none" stroke="#c2c2c2" stroke-width="0.9"/>
<rect x="66.6" y="459.6" width="15.9" height="38.5" fill="none" stroke="#f01c1c" stroke-width="1.1"/>
<rect x="136.7" y="459.6" width="16.3" height="38.5" fill="none" stroke="#f01c1c" stroke-width="1.1"/>
<rect x="207.9" y="459.6" width="16.4" height="38.5" fill="none" stroke="#f01c1c" stroke-width="1.1"/>
<rect x="278.5" y="459.6" width="16.3" height="38.5" fill="none" stroke="#f01c1c" stroke-width="1.1"/>
<rect x="29.2" y="550.4" width="33.2" height="32.9" fill="none" stroke="#f01c1c" stroke-width="1.1"/>
<rect x="100.2" y="550.4" width="32.4" height="32.9" fill="none" stroke="#f01c1c" stroke-width="1.1"/>
<rect x="170.6" y="550.4" width="33.1" height="32.9" fill="none" stroke="#f01c1c" stroke-width="1.1"/>
<rect x="242.3" y="550.4" width="32.7" height="32.9" fill="none" stroke="#f01c1c" stroke-width="1.1"/>
<text x="28" y="466" font-size="6.4">Lin- gated</text>
<text x="88.8" y="513.3" font-size="8.8" text-anchor="end">LSK</text>
<text x="91.2" y="523.9" font-size="8.8" text-anchor="end">0.007</text>
<text x="161.7" y="523.9" font-size="8.8" text-anchor="end">0.098</text>
<text x="232.9" y="523.9" font-size="8.8" text-anchor="end">0.008</text>
<text x="303.7" y="523.9" font-size="8.8" text-anchor="end">0.009</text>
<text x="28" y="547.6" font-size="6.4">LSK gated</text>
<text x="46" y="595" font-size="8.8" text-anchor="middle">HSC</text>
<text x="46" y="605.6" font-size="8.8" text-anchor="middle">0.001</text>
<text x="119.1" y="605.6" font-size="8.8" text-anchor="middle">0.013</text>
<text x="187.4" y="605.6" font-size="8.8" text-anchor="middle">0.001</text>
<text x="258.6" y="605.6" font-size="8.8" text-anchor="middle">0.001</text>
<line x1="21.5" y1="524" x2="21.5" y2="485.1" stroke="#000" stroke-width="1.3"/>
<path d="M21.5 480.6L18.9 485.6L24.1 485.6Z" stroke="none" stroke-width="1" fill="#000"/>
<text x="16.3" y="508" font-size="8.8" text-anchor="middle" transform="rotate(-90 16.3 508)">Sca-1</text>
<text x="25.2" y="537.8" font-size="8.8">c-Kit</text>
<line x1="46.5" y1="532.5" x2="251.8" y2="532.5" stroke="#000" stroke-width="1.3"/>
<path d="M256.3 532.5L251.3 529.9L251.3 535.1Z" stroke="none" stroke-width="1" fill="#000"/>
<line x1="21.5" y1="606.5" x2="21.5" y2="566.4" stroke="#000" stroke-width="1.3"/>
<path d="M21.5 561.9L18.9 566.9L24.1 566.9Z" stroke="none" stroke-width="1" fill="#000"/>
<text x="16.3" y="585.2" font-size="8.8" text-anchor="middle" transform="rotate(-90 16.3 585.2)">CD150</text>
<text x="24.5" y="621.5" font-size="8.8">CD48</text>
<line x1="48.5" y1="616.6" x2="251.8" y2="616.6" stroke="#000" stroke-width="1.3"/>
<path d="M256.3 616.6L251.3 614L251.3 619.2Z" stroke="none" stroke-width="1" fill="#000"/>
<path d="M77.22 574.34h1.1M73.03 582.52h1.1M76.79 577.36h1.1M76.48 589.05h1.1M78.47 585.82h1.1M75.29 569.85h1.1M73.34 571.82h1.1M68.86 589.74h1.1M76.42 575.01h1.1M81.7 557.5h1.1M72 591.5h1.1" stroke="#1a1aff" stroke-width="1.1"/>
<path d="M146.6 573.44h1.2M144.23 585.07h1.2M137.27 594.76h1.2M143.82 583.44h1.2M139.3 570.92h1.2M149.79 571.8h1.2M141.7 582.06h1.2M148.96 579.94h1.2M146.74 566.85h1.2M144.47 593.62h1.2M142.9 570.81h1.2M141.6 571.83h1.2M146.35 579.21h1.2M141.37 585.23h1.2M139.06 562.6h1.2M152.77 570.74h1.2M149.55 576.32h1.2M142.42 582.55h1.2M139.98 568.63h1.2M142.47 573.25h1.2M146.05 597.04h1.2M138.74 568.29h1.2M146.2 582.42h1.2M147.6 569.64h1.2M145.58 576.67h1.2M136.99 581.78h1.2M137.23 582.71h1.2M141.53 575.2h1.2M151.56 592.78h1.2M144.93 581.25h1.2M140.3 589.92h1.2M145.69 568.43h1.2M136.86 577.19h1.2M142.59 586.03h1.2M139.31 568.21h1.2M144.9 578.1h1.2M146.95 588.64h1.2M139.8 553.07h1.2M143.5 569.76h1.2M142.89 578.16h1.2M141.12 582.47h1.2M143.69 579.58h1.2M148.3 590.44h1.2M147.92 581.05h1.2M143.84 583h1.2M144.5 569.77h1.2M144.8 586.57h1.2M141.71 566.1h1.2M145.52 569.57h1.2M137.54 574.73h1.2M137.65 580.61h1.2M141.31 578.05h1.2M147.69 588.63h1.2M142.92 554.29h1.2M141.46 565.37h1.2M146.74 593.09h1.2M145.98 583.79h1.2M145.44 584.19h1.2M141.87 586.36h1.2M142.11 565.49h1.2M143.48 593.49h1.2M142.57 559.28h1.2M148.07 579.7h1.2M145.41 572.51h1.2M145.15 593.64h1.2M140.81 584.26h1.2M144.66 568.48h1.2M144 583.26h1.2M140.05 589.12h1.2M139.02 589.01h1.2M145.69 579.9h1.2M140.29 569.33h1.2M134.77 577.02h1.2M142.81 582.93h1.2M147.24 579.29h1.2M142.01 587.3h1.2M143.27 577.01h1.2M138.79 587.97h1.2M140.72 596.93h1.2M139.99 572.38h1.2M143.65 570.18h1.2M137.7 565.71h1.2M140.14 574.88h1.2M147.07 584.04h1.2M144.53 585.49h1.2M134.94 571.04h1.2M141.18 566.81h1.2M145.15 570.66h1.2M139.08 586.27h1.2M140.8 574.75h1.2M137.52 586.41h1.2M143.47 591.84h1.2M151.75 584.04h1.2M141.92 569.31h1.2M149.59 575.21h1.2M145.72 579.71h1.2M130.41 578.76h1.2M143.91 579.3h1.2M142.78 579.66h1.2M139.44 583.4h1.2M141.35 578.92h1.2M149.62 579.48h1.2M139.37 581h1.2M137.78 578.99h1.2M148.68 566.61h1.2M142.73 568.45h1.2M143.96 580.59h1.2M143.98 574.48h1.2M136.04 568.22h1.2M141.63 585.48h1.2M135.67 588.26h1.2M140.44 560.38h1.2M148.86 580.72h1.2M139.72 579.92h1.2M145.59 562.85h1.2M148.19 568.7h1.2M146.41 571.62h1.2M137.28 571.25h1.2M141.33 578.48h1.2M136.94 567.16h1.2M144.48 573.43h1.2M141.3 581.65h1.2M138.27 597.23h1.2M140.46 580.92h1.2M142.65 587.13h1.2M141.61 569.38h1.2M144.2 583.26h1.2M142.71 597.63h1.2M146.12 590.92h1.2M148.12 587.49h1.2M142.57 593.44h1.2M141.88 578.59h1.2M148.55 586.53h1.2M139.19 574.14h1.2M139.89 588.67h1.2M141.92 577.38h1.2M140.68 572.11h1.2M145.79 567.15h1.2M143.47 572.25h1.2M141.88 564.43h1.2M147.63 561.11h1.2M138.63 572.96h1.2M143.5 569.61h1.2M137.12 572.35h1.2M139.47 570.36h1.2M149.24 556.66h1.2M143.12 580.74h1.2M141.66 573.48h1.2M147.21 574.96h1.2M136.71 573.27h1.2M144.56 573.16h1.2M141.03 578.73h1.2M141.33 578.25h1.2M145.62 570.78h1.2M137.3 590h1.2M144.65 569.3h1.2M137.89 577h1.2M143.94 581.75h1.2M144.54 572.59h1.2M141.66 561.99h1.2M140.42 572.24h1.2M147.16 563.98h1.2M150.13 585.75h1.2M141.26 571.06h1.2M144 580.76h1.2M145.83 559.92h1.2M141.89 581.89h1.2M146.53 581.36h1.2M142.85 579.96h1.2M141.23 593.84h1.2M146.56 580.84h1.2M141.07 576.5h1.2M144.58 577.85h1.2M149.23 597.21h1.2M146.84 565.67h1.2M145.78 572.03h1.2M143.23 596.19h1.2M136.79 563.66h1.2M140.85 584.59h1.2M141.71 557.74h1.2M144.62 583.41h1.2M147.79 578.05h1.2M147.34 571.32h1.2M146.48 588.71h1.2M142.2 573.38h1.2M147.74 569.84h1.2M139.9 577.51h1.2M145.36 586.03h1.2M141.46 582.17h1.2M139.99 565.87h1.2M152.28 569.93h1.2M137.62 580.2h1.2M140.49 584.16h1.2M133.93 566.05h1.2M147.08 579.76h1.2M139.84 591.7h1.2M147.07 573.72h1.2M147.44 583.13h1.2M121.93 573.17h1.2M119.19 566.44h1.2M121.08 579.21h1.2M114.28 577.13h1.2M124.13 597.98h1.2M115.2 576.32h1.2M130.39 577.41h1.2M112.49 587.64h1.2M122.26 569.55h1.2M130.06 586.65h1.2M111.81 573.03h1.2M115.03 569.93h1.2M109.77 590.44h1.2M122.75 574.39h1.2M111.25 585.53h1.2M119.23 574.25h1.2M121.24 560.31h1.2M119.28 585.59h1.2M123.91 581.66h1.2M112.75 560.6h1.2M116.47 589.39h1.2M117.2 575.62h1.2M128.39 583.49h1.2M110.52 583.15h1.2M123.75 572.21h1.2M118.67 579.57h1.2M114.57 575.58h1.2M117.39 565.93h1.2M128.11 588.93h1.2M112.38 581.87h1.2M111.58 575.81h1.2M110.63 577.78h1.2M111.95 568.25h1.2M115.36 589.55h1.2M111.69 580.63h1.2M130.91 564.34h1.2M110.08 583.34h1.2M130.81 586.34h1.2M120.88 583.24h1.2M119.35 575.19h1.2M124.11 580.42h1.2M127.15 588.62h1.2M126.94 574.06h1.2M130.91 564.8h1.2M122.31 579.03h1.2M110.24 584.67h1.2M129.21 569.2h1.2M128.2 574.29h1.2M124.2 570.72h1.2M110.81 585.65h1.2M114.57 571.11h1.2M123.55 590.85h1.2M122.28 573.11h1.2M117.46 583.56h1.2M110.1 567.78h1.2" stroke="#1a1aff" stroke-width="1.2"/>
<path d="M140 577h1.2M143 590h1.2M138 592h1.2" stroke="#ff3030" stroke-width="1.2"/>
<path d="M217.05 575.51h1.1M209.92 565.74h1.1M212.04 575.45h1.1M214.68 571.24h1.1M211 574.82h1.1M211.68 579.45h1.1M208.97 570.7h1.1M213.49 579.34h1.1M208.52 575.07h1.1M207.7 586.5h1.1" stroke="#1a1aff" stroke-width="1.1"/>
<path d="M292.5 556h1.1M294.5 557.5h1.1M296.5 557h1.1M291.5 560h1.1M289.5 565h1.1M292 570h1.1M287 578h1.1M285.5 580h1.1" stroke="#1a1aff" stroke-width="1.1"/>
<text x="324.4" y="422.2" font-size="14.5" font-weight="bold">i</text>
<line x1="348.6" y1="545.15" x2="348.6" y2="445.7" stroke="#000" stroke-width="1.3"/>
<line x1="346" y1="544.5" x2="348.6" y2="544.5" stroke="#000" stroke-width="1.3"/>
<text x="344.6" y="547.02" font-size="7" font-weight="bold" text-anchor="end">0</text>
<line x1="346" y1="511.5" x2="348.6" y2="511.5" stroke="#000" stroke-width="1.3"/>
<text x="344.6" y="514.02" font-size="7" font-weight="bold" text-anchor="end">5</text>
<line x1="346" y1="478.5" x2="348.6" y2="478.5" stroke="#000" stroke-width="1.3"/>
<text x="344.6" y="481.02" font-size="7" font-weight="bold" text-anchor="end">10</text>
<line x1="346" y1="445.5" x2="348.6" y2="445.5" stroke="#000" stroke-width="1.3"/>
<text x="344.6" y="448.02" font-size="7" font-weight="bold" text-anchor="end">15</text>
<line x1="348.1" y1="544.5" x2="479.5" y2="544.5" stroke="#000" stroke-width="1.2"/>
<line x1="365.7" y1="544.5" x2="365.7" y2="547.1" stroke="#000" stroke-width="1.3"/>
<line x1="398.4" y1="544.5" x2="398.4" y2="547.1" stroke="#000" stroke-width="1.3"/>
<line x1="430.4" y1="544.5" x2="430.4" y2="547.1" stroke="#000" stroke-width="1.3"/>
<line x1="463.1" y1="544.5" x2="463.1" y2="547.1" stroke="#000" stroke-width="1.3"/>
<line x1="507.7" y1="544.65" x2="507.7" y2="444.4" stroke="#000" stroke-width="1.3"/>
<line x1="505.1" y1="544" x2="507.7" y2="544" stroke="#000" stroke-width="1.3"/>
<text x="503.7" y="546.52" font-size="7" font-weight="bold" text-anchor="end">0</text>
<line x1="505.1" y1="510.7" x2="507.7" y2="510.7" stroke="#000" stroke-width="1.3"/>
<text x="503.7" y="513.22" font-size="7" font-weight="bold" text-anchor="end">1</text>
<line x1="505.1" y1="477.4" x2="507.7" y2="477.4" stroke="#000" stroke-width="1.3"/>
<text x="503.7" y="479.92" font-size="7" font-weight="bold" text-anchor="end">2</text>
<line x1="505.1" y1="444.1" x2="507.7" y2="444.1" stroke="#000" stroke-width="1.3"/>
<text x="503.7" y="446.62" font-size="7" font-weight="bold" text-anchor="end">3</text>
<line x1="507.2" y1="544" x2="637.6" y2="544" stroke="#000" stroke-width="1.2"/>
<line x1="521.4" y1="544" x2="521.4" y2="546.6" stroke="#000" stroke-width="1.3"/>
<line x1="557.1" y1="544" x2="557.1" y2="546.6" stroke="#000" stroke-width="1.3"/>
<line x1="589" y1="544" x2="589" y2="546.6" stroke="#000" stroke-width="1.3"/>
<line x1="621.4" y1="544" x2="621.4" y2="546.6" stroke="#000" stroke-width="1.3"/>
<text x="331.9" y="492.6" font-size="9.1" font-weight="bold" text-anchor="middle" transform="rotate(-90 331.9 492.6)">PB LSK cells (x10<tspan font-size="5.8" dy="-3">3</tspan><tspan dy="3">/ml)</tspan></text>
<text x="494.4" y="492.9" font-size="9.1" font-weight="bold" text-anchor="middle" transform="rotate(-90 494.4 492.9)">PB HSCs (x10<tspan font-size="5.8" dy="-3">3</tspan><tspan dy="3">/ml)</tspan></text>
<line x1="355.7" y1="554.5" x2="404.3" y2="554.5" stroke="#000" stroke-width="1"/>
<line x1="421.1" y1="554.5" x2="470.2" y2="554.5" stroke="#000" stroke-width="1"/>
<line x1="515.8" y1="553.1" x2="563.9" y2="553.1" stroke="#000" stroke-width="1"/>
<line x1="581.1" y1="553.1" x2="629.8" y2="553.1" stroke="#000" stroke-width="1"/>
<text x="380" y="571.8" font-size="10.6" text-anchor="middle">IL-7R<tspan font-size="7" dy="-4">+/+</tspan></text>
<text x="446" y="571.8" font-size="10.6" text-anchor="middle">IL-7R<tspan font-size="7" dy="-4">flox/flox</tspan></text>
<text x="540.2" y="571.8" font-size="10.6" text-anchor="middle">IL-7R<tspan font-size="7" dy="-4">+/+</tspan></text>
<text x="605.1" y="571.8" font-size="10.6" text-anchor="middle">IL-7R<tspan font-size="7" dy="-4">flox/flox</tspan></text>
<text x="380" y="584.6" font-size="10.6" text-anchor="middle">Mb1-cre+</text>
<text x="446" y="584.6" font-size="10.6" text-anchor="middle">Mb1-cre+</text>
<text x="540.2" y="584.6" font-size="10.6" text-anchor="middle">Mb1-cre+</text>
<text x="605.1" y="584.6" font-size="10.6" text-anchor="middle">Mb1-cre+</text>
<circle cx="357.6" cy="542.1" r="2.45" fill="#fff" stroke="#000" stroke-width="1.3"/>
<circle cx="363.4" cy="540.3" r="2.45" fill="#fff" stroke="#000" stroke-width="1.3"/>
<circle cx="368.5" cy="542.1" r="2.45" fill="#fff" stroke="#000" stroke-width="1.3"/>
<circle cx="374.4" cy="541" r="2.45" fill="#fff" stroke="#000" stroke-width="1.3"/>
<line x1="358" y1="541.3" x2="374" y2="541.3" stroke="#000" stroke-width="1"/>
<line x1="398.4" y1="457.6" x2="398.4" y2="497.7" stroke="#000" stroke-width="1.2"/>
<line x1="392.9" y1="457.6" x2="403.9" y2="457.6" stroke="#000" stroke-width="1.2"/>
<line x1="392.9" y1="497.7" x2="403.9" y2="497.7" stroke="#000" stroke-width="1.2"/>
<line x1="394.4" y1="477.9" x2="402.4" y2="477.9" stroke="#000" stroke-width="1.2"/>
<circle cx="398.4" cy="453.8" r="2.5" fill="#ff0000"/>
<circle cx="398.4" cy="472.5" r="2.5" fill="#ff0000"/>
<circle cx="398.4" cy="481.9" r="2.5" fill="#ff0000"/>
<circle cx="398.4" cy="501.7" r="2.5" fill="#ff0000"/>
<line x1="366.2" y1="446.8" x2="397.7" y2="446.8" stroke="#000" stroke-width="1.2"/>
<text x="382.6" y="445.18" font-size="8.06" font-weight="bold" text-anchor="middle" fill="#111">***</text>
<circle cx="422.7" cy="542.1" r="2.45" fill="#fff" stroke="#000" stroke-width="1.3"/>
<circle cx="428.1" cy="537.9" r="2.45" fill="#fff" stroke="#000" stroke-width="1.3"/>
<circle cx="433.5" cy="542.1" r="2.45" fill="#fff" stroke="#000" stroke-width="1.3"/>
<circle cx="439.1" cy="541.7" r="2.45" fill="#fff" stroke="#000" stroke-width="1.3"/>
<line x1="423" y1="540.5" x2="439" y2="540.5" stroke="#000" stroke-width="1"/>
<line x1="463.1" y1="536.3" x2="463.1" y2="543.3" stroke="#000" stroke-width="1"/>
<line x1="459.6" y1="536.3" x2="466.6" y2="536.3" stroke="#000" stroke-width="1"/>
<line x1="459.6" y1="543.3" x2="466.6" y2="543.3" stroke="#000" stroke-width="1"/>
<line x1="459.1" y1="539.8" x2="467.1" y2="539.8" stroke="#000" stroke-width="1"/>
<circle cx="455.4" cy="537.5" r="2.5" fill="#ff0000"/>
<circle cx="455.4" cy="543.3" r="2.5" fill="#ff0000"/>
<circle cx="463.1" cy="537.5" r="2.5" fill="#ff0000"/>
<circle cx="471.3" cy="539.1" r="2.5" fill="#ff0000"/>
<line x1="430.4" y1="525.3" x2="462" y2="525.3" stroke="#000" stroke-width="1.2"/>
<text x="446.1" y="522.3" font-size="8.4" text-anchor="middle">ns</text>
<circle cx="515.8" cy="543.2" r="2.45" fill="#fff" stroke="#000" stroke-width="1.3"/>
<circle cx="521.4" cy="540.8" r="2.45" fill="#fff" stroke="#000" stroke-width="1.3"/>
<circle cx="527.2" cy="543.2" r="2.45" fill="#fff" stroke="#000" stroke-width="1.3"/>
<circle cx="533" cy="541.8" r="2.45" fill="#fff" stroke="#000" stroke-width="1.3"/>
<line x1="516" y1="541.8" x2="533" y2="541.8" stroke="#000" stroke-width="1"/>
<line x1="557.1" y1="469.7" x2="557.1" y2="529.7" stroke="#000" stroke-width="1.2"/>
<line x1="551.6" y1="469.7" x2="562.6" y2="469.7" stroke="#000" stroke-width="1.2"/>
<line x1="551.6" y1="529.7" x2="562.6" y2="529.7" stroke="#000" stroke-width="1.2"/>
<line x1="553.1" y1="499.2" x2="561.1" y2="499.2" stroke="#000" stroke-width="1.2"/>
<circle cx="557.1" cy="460.6" r="2.5" fill="#ff0000"/>
<circle cx="557.1" cy="496.6" r="2.5" fill="#ff0000"/>
<circle cx="557.1" cy="508.3" r="2.5" fill="#ff0000"/>
<circle cx="557.1" cy="533" r="2.5" fill="#ff0000"/>
<line x1="525" y1="453.1" x2="556.4" y2="453.1" stroke="#000" stroke-width="1.2"/>
<text x="540.8" y="452.28" font-size="8.06" font-weight="bold" text-anchor="middle" fill="#111">*</text>
<line x1="588.9" y1="536.9" x2="588.9" y2="543.5" stroke="#000" stroke-width="1"/>
<line x1="585.4" y1="536.9" x2="592.4" y2="536.9" stroke="#000" stroke-width="1"/>
<line x1="585.4" y1="543.5" x2="592.4" y2="543.5" stroke="#000" stroke-width="1"/>
<line x1="584.9" y1="539.5" x2="592.9" y2="539.5" stroke="#000" stroke-width="1"/>
<circle cx="580.8" cy="543.2" r="2.45" fill="#fff" stroke="#000" stroke-width="1.3"/>
<circle cx="588.9" cy="536.9" r="2.45" fill="#fff" stroke="#000" stroke-width="1.3"/>
<circle cx="597" cy="543.2" r="2.45" fill="#fff" stroke="#000" stroke-width="1.3"/>
<line x1="621.4" y1="536.2" x2="621.4" y2="543.5" stroke="#000" stroke-width="1"/>
<line x1="617.9" y1="536.2" x2="624.9" y2="536.2" stroke="#000" stroke-width="1"/>
<line x1="617.9" y1="543.5" x2="624.9" y2="543.5" stroke="#000" stroke-width="1"/>
<line x1="617.4" y1="540.5" x2="625.4" y2="540.5" stroke="#000" stroke-width="1"/>
<circle cx="613.2" cy="543.2" r="2.5" fill="#ff0000"/>
<circle cx="621.4" cy="540.8" r="2.5" fill="#ff0000"/>
<circle cx="630.1" cy="535.9" r="2.5" fill="#ff0000"/>
<circle cx="630.1" cy="542" r="2.5" fill="#ff0000"/>
<line x1="588.9" y1="520.6" x2="619.7" y2="520.6" stroke="#000" stroke-width="1.2"/>
<text x="604.5" y="517.6" font-size="8.4" text-anchor="middle">ns</text>
<circle cx="607.7" cy="455.7" r="2.6" fill="#fff" stroke="#000" stroke-width="1.3"/>
<text x="617.5" y="459" font-size="9" font-weight="bold">Control</text>
<circle cx="607.7" cy="472" r="3" fill="#ff0000"/>
<text x="617.5" y="475.3" font-size="9" font-weight="bold">rhIL-7-hyFc</text>
</svg></body></html>
